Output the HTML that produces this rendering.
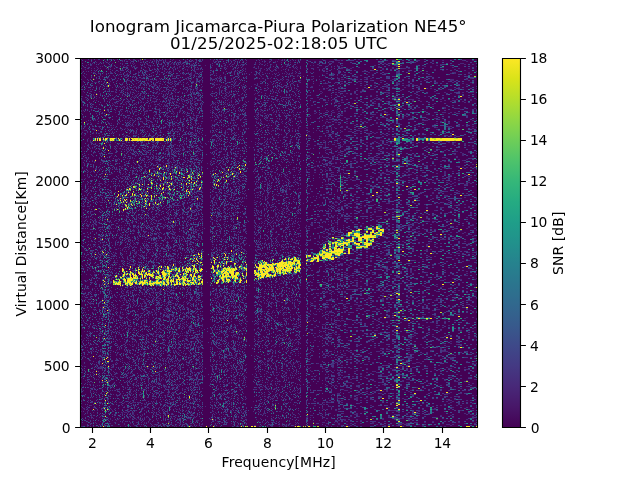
<!DOCTYPE html>
<html><head><meta charset="utf-8"><title>Ionogram</title>
<style>html,body{margin:0;padding:0;background:#fff;overflow:hidden}svg{display:block}</style></head>
<body><svg width="640" height="480" viewBox="0 0 640 480">
<rect width="640" height="480" fill="#fff"/>
<defs><clipPath id="cp0"><rect x="1" y="1" width="396" height="368"/></clipPath><clipPath id="cp1"><rect x="-151.333" y="1" width="264" height="368"/></clipPath><clipPath id="cp2"><rect x="-132.25" y="1" width="198" height="368"/></clipPath></defs>
<rect x="80" y="58" width="397.5" height="369.5" fill="#440154"/>
<g transform="translate(80 58) scale(1 1.0000)" fill="none" stroke-width="1" shape-rendering="crispEdges" clip-path="url(#cp0)">
<path stroke="#482878" d="M29 0.5h1m2 0h1m23 0h1m8 0h1m4 0h1m5 0h2m3 0h1m1 0h1m9 0h1m26 0h1m23 0h1m2 0h1m6 0h1m29 0h1m2 0h1m11 0h1m4 0h1m5 0h1m15 0h1M1 1.5h1m9 0h1m12 0h1m5 0h1m2 0h1m11 0h2m1 0h1m4 0h2m30 0h1m7 0h1m26 0h1m19 0h1m15 0h1m21 0h1m10 0h1m8 0h1m3 0h1m15 0h1M42 2.5h1m7 0h1m2 0h2m5 0h1m9 0h1m3 0h1m17 0h1m12 0h1m5 0h1m21 0h1m3 0h1m12 0h1m33 0h1m16 0h1m18 0h1M30 3.5h1m7 0h1m3 0h1m1 0h1m13 0h1m7 0h1m7 0h1m14 0h1m16 0h2m5 0h1m2 0h1m16 0h1m25 0h1m29 0h1m5 0h1m1 0h1M16 4.5h1m10 0h1m1 0h1m20 0h1m2 0h1m7 0h1m10 0h1m5 0h1m7 0h1m1 0h2m5 0h1m2 0h1m7 0h1m41 0h1m2 0h1m2 0h1m11 0h1m17 0h1m10 0h1m5 0h1m8 0h1M10 5.5h1m1 0h1m6 0h1m3 0h1m8 0h1m9 0h1m7 0h1m1 0h1m1 0h1m9 0h1m1 0h2m8 0h1m14 0h1m1 0h2m5 0h1m2 0h1m4 0h1m27 0h1m6 0h1m31 0h1m4 0h1m6 0h1m29 0h1M53 6.5h1m6 0h1m18 0h1m8 0h1m1 0h1m2 0h1m5 0h1m1 0h1m2 0h1m2 0h1m3 0h2m40 0h1m27 0h1m3 0h1m5 0h1m14 0h1M6 7.5h1m4 0h1m18 0h1m13 0h1m3 0h1m6 0h1m12 0h2m2 0h1m12 0h1m2 0h1m21 0h1m2 0h1m11 0h1m6 0h1m5 0h1m5 0h1m6 0h1m10 0h1m24 0h1m2 0h1m17 0h1M16 8.5h1m3 0h1m1 0h1m3 0h1m16 0h1m2 0h1m4 0h1m25 0h1m4 0h1m7 0h1m8 0h1m9 0h1m1 0h1m30 0h1m4 0h1m8 0h1m5 0h1m11 0h1m32 0h1m8 0h1m3 0h1M4 9.5h1m3 0h1m19 0h1m16 0h1m6 0h1m4 0h1m33 0h1m1 0h2m2 0h1m1 0h1m4 0h1m3 0h1m6 0h1m29 0h1m27 0h1m4 0h1m10 0h1m11 0h1m15 0h1m2 0h1m5 0h1M7 10.5h1m3 0h1m6 0h1m1 0h1m33 0h1m1 0h1m17 0h1m7 0h1m2 0h1m25 0h1m29 0h1m21 0h1m1 0h1m9 0h1m2 0h1m1 0h1m8 0h1m8 0h1m7 0h1m7 0h1m11 0h1M5 11.5h1m49 0h1m29 0h1m2 0h1m4 0h1m8 0h1m2 0h1m1 0h1m8 0h3m18 0h1m14 0h2m11 0h1m14 0h1m3 0h1m9 0h1m8 0h1m13 0h1M50 12.5h1m2 0h1m11 0h2m11 0h1m5 0h1m13 0h1m1 0h1m2 0h1m3 0h1m53 0h1m24 0h2m5 0h1m2 0h1m4 0h1M6 13.5h1m8 0h1m19 0h1m2 0h1m19 0h1m7 0h1m20 0h1m5 0h1m38 0h1m22 0h1m2 0h1m21 0h1m10 0h2m34 0h1M2 14.5h1m8 0h1m1 0h2m3 0h1m4 0h1m6 0h2m40 0h1m18 0h1m10 0h1m5 0h1m2 0h1m3 0h1m32 0h1m12 0h1m9 0h1m10 0h1m15 0h1m7 0h1m5 0h1m7 0h1M14 15.5h1m4 0h1m6 0h1m20 0h1m10 0h1m4 0h1m7 0h1m5 0h1m5 0h1m4 0h1m11 0h1m2 0h1m3 0h1m3 0h1m3 0h2m4 0h1m14 0h1m12 0h1m8 0h2m2 0h1m16 0h1m7 0h1m8 0h1m7 0h1m2 0h1m4 0h1m2 0h1M6 16.5h1m32 0h2m5 0h1m2 0h1m8 0h1m44 0h1m6 0h2m2 0h1m15 0h1m14 0h1m12 0h1m5 0h1m10 0h1m16 0h1m13 0h1m1 0h2M3 17.5h1m16 0h1m17 0h1m7 0h2m23 0h1m14 0h1m4 0h2m3 0h1m13 0h2m1 0h1m26 0h1m11 0h1m27 0h1m30 0h1m5 0h2M4 18.5h1m6 0h1m6 0h1m3 0h1m11 0h1m17 0h1m15 0h1m19 0h1m3 0h1m1 0h1m14 0h1m11 0h1m17 0h1m4 0h1m14 0h1m21 0h1m4 0h1m27 0h1m2 0h1M28 19.5h1m6 0h1m9 0h1m18 0h1m10 0h1m9 0h1m21 0h1m3 0h1m6 0h2m19 0h2m4 0h1m7 0h1m11 0h2m10 0h1m9 0h1m3 0h1M13 20.5h1m2 0h1m1 0h1m38 0h1m3 0h1m17 0h1m17 0h1m7 0h1m5 0h1m5 0h1m4 0h1m15 0h1m12 0h1m5 0h1m18 0h2m4 0h2m6 0h1m2 0h1m32 0h1M14 21.5h1m14 0h1m25 0h1m10 0h1m1 0h1m2 0h1m4 0h1m8 0h1m4 0h1m15 0h1m1 0h1m2 0h1m4 0h1m14 0h2m9 0h1m31 0h1m26 0h1m4 0h3m3 0h1M0 22.5h1m28 0h1m16 0h4m6 0h1m1 0h1m9 0h1m4 0h1m2 0h1m17 0h1m15 0h1m5 0h1m3 0h1m14 0h1m60 0h1m2 0h1m2 0h1m17 0h1M30 23.5h1m23 0h1m15 0h1m17 0h1m23 0h2m8 0h1m14 0h1m13 0h1m2 0h1m1 0h1m23 0h2m8 0h1m28 0h1M7 24.5h1m6 0h3m26 0h1m19 0h1m3 0h1m23 0h1m2 0h1m3 0h3m21 0h1m25 0h1m4 0h1m6 0h1m3 0h1m26 0h1m8 0h1m18 0h1M0 25.5h1m11 0h1m6 0h1m22 0h1m13 0h1m5 0h1m1 0h1m2 0h1m7 0h1m3 0h1m8 0h1m23 0h1m3 0h1m14 0h3m21 0h1m21 0h1m4 0h1m12 0h1m15 0h1M22 26.5h1m18 0h1m22 0h1m3 0h1m4 0h2m7 0h1m7 0h2m11 0h1m13 0h1m16 0h1m1 0h2m1 0h1m5 0h1m28 0h2m12 0h1m24 0h1M30 27.5h1m4 0h1m5 0h1m4 0h1m28 0h2m26 0h1m37 0h1m13 0h2m1 0h1m2 0h1m14 0h1m8 0h1m18 0h1m12 0h1M4 28.5h1m1 0h1m4 0h1m14 0h1m8 0h1m3 0h1m3 0h2m2 0h1m6 0h2m17 0h2m4 0h1m42 0h1m10 0h1m9 0h3m16 0h1m3 0h1m4 0h1m6 0h2m19 0h1m1 0h1m4 0h3m1 0h1m16 0h1M0 29.5h2m20 0h1m9 0h1m5 0h1m22 0h2m13 0h1m1 0h1m7 0h1m4 0h1m13 0h1m5 0h1m9 0h1m10 0h1m9 0h1m5 0h1m4 0h1m51 0h1m8 0h1m11 0h1M5 30.5h1m20 0h1m21 0h1m9 0h1m21 0h1m10 0h1m1 0h1m15 0h2m6 0h1m21 0h1m15 0h1m8 0h1m34 0h1M10 31.5h1m18 0h1m5 0h1m9 0h1m1 0h1m1 0h1m4 0h1m32 0h1m5 0h1m2 0h1m8 0h1m10 0h2m3 0h1m41 0h1m17 0h1m5 0h1M8 32.5h1m5 0h1m10 0h1m21 0h1m5 0h1m12 0h1m19 0h1m3 0h1m4 0h1m14 0h1m2 0h1m2 0h1m24 0h2m1 0h1m10 0h1m7 0h1m10 0h1m10 0h1m6 0h1m3 0h1m19 0h1M3 33.5h1m6 0h1m8 0h1m8 0h1m4 0h1m1 0h1m14 0h1m14 0h1m5 0h1m5 0h1m3 0h1m3 0h1m8 0h1m4 0h1m7 0h1m2 0h1m28 0h1m9 0h1m4 0h1m36 0h1m9 0h1m5 0h1m1 0h1M4 34.5h1m9 0h1m20 0h1m6 0h1m9 0h1m11 0h2m6 0h1m4 0h1m10 0h1m8 0h1m8 0h1m5 0h2m7 0h1m24 0h2m33 0h1m11 0h1m2 0h1M20 35.5h1m9 0h1m19 0h1m3 0h1m6 0h1m6 0h1m53 0h1m10 0h1m3 0h1m4 0h2m31 0h1m16 0h1m22 0h1M13 36.5h1m3 0h1m24 0h1m1 0h1m12 0h1m7 0h1m12 0h1m6 0h1m5 0h1m16 0h1m4 0h1m47 0h1m12 0h1m44 0h1M11 37.5h1m1 0h1m14 0h1m3 0h1m13 0h2m7 0h2m7 0h1m24 0h1m2 0h1m2 0h1m9 0h1m5 0h1m20 0h1m13 0h1m7 0h1m4 0h1m56 0h1m10 0h1M2 38.5h1m5 0h1m5 0h1m20 0h1m8 0h1m7 0h1m1 0h1m1 0h1m1 0h1m24 0h2m29 0h1m3 0h1m16 0h1m11 0h2m34 0h1m2 0h1m5 0h1m7 0h1m9 0h1m4 0h1M6 39.5h1m12 0h1m4 0h1m16 0h1m9 0h1m1 0h1m6 0h1m9 0h1m5 0h1m9 0h2m2 0h1m1 0h1m21 0h1m36 0h1m2 0h1m6 0h1m13 0h1m11 0h1m8 0h1m6 0h1m1 0h1m1 0h3M16 40.5h1m41 0h1m2 0h1m3 0h1m2 0h1m1 0h1m3 0h1m9 0h1m5 0h1m2 0h1m1 0h1m10 0h1m4 0h2m6 0h1m23 0h1m14 0h1m2 0h1m1 0h1m44 0h1m8 0h1m1 0h1M0 41.5h1m5 0h1m22 0h1m4 0h3m1 0h1m4 0h1m6 0h1m12 0h1m12 0h1m8 0h1m4 0h1m1 0h1m1 0h1m6 0h2m4 0h2m3 0h1m1 0h1m2 0h2m29 0h1m30 0h1m30 0h1M14 42.5h1m1 0h1m22 0h1m8 0h1m27 0h1m11 0h3m14 0h1m13 0h1m1 0h1m15 0h2m2 0h1m9 0h1m8 0h1m16 0h1m7 0h1m2 0h1m8 0h1M29 43.5h1m16 0h1m1 0h1m9 0h1m2 0h1m10 0h3m17 0h1m3 0h1m13 0h2m2 0h2m27 0h1m11 0h1m3 0h1m5 0h1m31 0h1m10 0h1m18 0h1M2 44.5h1m42 0h1m10 0h1m3 0h2m9 0h1m10 0h1m10 0h1m20 0h1m6 0h1m13 0h1m3 0h1m11 0h1m6 0h1m15 0h1m8 0h1M5 45.5h1m4 0h1m21 0h1m2 0h1m4 0h1m5 0h1m2 0h1m4 0h2m35 0h1m10 0h1m8 0h1m9 0h2m10 0h1m7 0h1m2 0h1m19 0h1m11 0h1m33 0h1m4 0h1M33 46.5h1m6 0h1m3 0h1m1 0h1m4 0h1m1 0h1m20 0h1m9 0h1m1 0h1m9 0h1m13 0h2m21 0h1m6 0h1m4 0h1m1 0h1m7 0h1m7 0h1m35 0h1m13 0h1M5 47.5h1m28 0h1m33 0h1m1 0h1m8 0h1m4 0h2m1 0h1m4 0h1m5 0h1m7 0h1m23 0h1m18 0h1m34 0h1m5 0h2m14 0h1M12 48.5h1m9 0h1m16 0h1m15 0h1m6 0h1m7 0h1m4 0h1m4 0h1m4 0h2m11 0h2m32 0h1m2 0h1m10 0h1m5 0h1m23 0h1m2 0h2m21 0h1m15 0h1M12 49.5h1m18 0h1m10 0h1m32 0h1m12 0h1m9 0h1m16 0h1m5 0h1m13 0h1m5 0h1m49 0h1m4 0h2M51 50.5h1m16 0h1m10 0h1m1 0h1m1 0h1m1 0h1m7 0h3m11 0h1m4 0h1m35 0h1m35 0h1m4 0h1m25 0h1M19 51.5h1m20 0h1m10 0h1m3 0h1m8 0h1m11 0h2m13 0h2m7 0h1m8 0h3m20 0h1m2 0h1m6 0h1m6 0h1m13 0h1m13 0h1m2 0h1m6 0h1M3 52.5h1m7 0h1m15 0h1m7 0h1m30 0h2m24 0h1m6 0h2m29 0h1m18 0h1m5 0h1m4 0h1m20 0h1m14 0h1m10 0h1m4 0h2m12 0h1M20 53.5h1m17 0h1m2 0h1m5 0h1m6 0h1m9 0h1m1 0h2m24 0h2m5 0h2m2 0h1m55 0h1m20 0h1m2 0h1M35 54.5h1m11 0h1m4 0h1m1 0h1m3 0h1m5 0h1m8 0h1m12 0h3m4 0h1m11 0h1m5 0h1m4 0h1m13 0h1m10 0h1m1 0h1m2 0h1m31 0h1m3 0h1m21 0h1m8 0h1m5 0h1M1 55.5h1m14 0h1m2 0h1m22 0h1m21 0h1m1 0h1m13 0h1m6 0h1m4 0h1m1 0h1m2 0h1m4 0h1m15 0h2m65 0h1m17 0h1m1 0h1M39 56.5h1m35 0h2m1 0h1m14 0h1m19 0h1m50 0h1m11 0h2m2 0h1m6 0h1m10 0h1m20 0h1M40 57.5h1m14 0h2m22 0h1m7 0h1m9 0h1m11 0h1m3 0h1m2 0h1m20 0h1m1 0h3m2 0h1m10 0h1m3 0h1m20 0h1m17 0h1m8 0h1m6 0h1M16 58.5h1m19 0h1m9 0h1m28 0h1m10 0h1m2 0h1m16 0h1m3 0h1m10 0h1m12 0h1m6 0h1m9 0h1m24 0h1m9 0h1m26 0h1m5 0h1m6 0h1M43 59.5h1m2 0h1m1 0h2m14 0h1m25 0h1m21 0h1m3 0h1m2 0h1m10 0h1m6 0h1m6 0h1m8 0h2m3 0h1m6 0h1m11 0h1m8 0h1m20 0h1m10 0h1M44 60.5h1m5 0h1m8 0h1m1 0h1m4 0h1m3 0h1m5 0h1m17 0h1m16 0h1m1 0h2m7 0h1m15 0h1m7 0h1m4 0h1m1 0h1m8 0h1m13 0h1m1 0h1m7 0h2m21 0h1m1 0h1M14 61.5h2m1 0h1m34 0h1m20 0h1m5 0h1m13 0h1m6 0h1m3 0h1m5 0h1m4 0h1m19 0h1m8 0h1m6 0h1m8 0h2m14 0h2m21 0h1m10 0h1M15 62.5h1m23 0h1m5 0h1m1 0h1m4 0h2m12 0h1m1 0h1m8 0h1m4 0h1m8 0h1m5 0h1m10 0h1m8 0h1m13 0h1m2 0h1m4 0h1m4 0h1m41 0h1m2 0h1M49 63.5h1m11 0h2m12 0h1m18 0h1m16 0h1m4 0h1m17 0h1m11 0h1m18 0h1m10 0h1m4 0h1m30 0h1m7 0h1M10 64.5h1m17 0h1m21 0h1m11 0h1m8 0h1m19 0h1m3 0h1m11 0h1m45 0h1m26 0h1m10 0h1m3 0h1m5 0h1M7 65.5h2m2 0h1m5 0h1m13 0h1m7 0h1m7 0h1m4 0h1m37 0h1m2 0h1m3 0h1m4 0h1m12 0h1m5 0h1m26 0h1m28 0h1m10 0h1m13 0h1m5 0h1m10 0h1M29 66.5h1m37 0h1m24 0h1m1 0h1m18 0h1m2 0h1m15 0h1m1 0h1m6 0h1m12 0h1m24 0h1m1 0h1m13 0h1m31 0h1M5 67.5h1m6 0h1m34 0h1m3 0h1m20 0h1m25 0h1m11 0h2m40 0h2m7 0h1m1 0h1m25 0h1m6 0h1m20 0h1M5 68.5h1m12 0h1m27 0h1m3 0h1m10 0h2m11 0h1m4 0h1m40 0h1m10 0h1m24 0h1m7 0h1m42 0h1M1 69.5h1m2 0h1m14 0h1m8 0h1m2 0h1m1 0h1m1 0h1m24 0h1m24 0h1m14 0h1m10 0h1m2 0h1m17 0h1m6 0h1m18 0h1m17 0h2m9 0h1m17 0h1m12 0h1m8 0h1M10 70.5h1m1 0h2m6 0h1m24 0h1m1 0h1m23 0h1m20 0h1m10 0h1m8 0h1m7 0h2m10 0h1m1 0h1m6 0h1m11 0h2m3 0h1m6 0h1m26 0h1m3 0h1m30 0h1M1 71.5h1m12 0h2m13 0h1m34 0h1m5 0h1m32 0h1m44 0h1m17 0h1m9 0h1m27 0h1m10 0h1M4 72.5h2m8 0h1m15 0h1m10 0h1m5 0h1m2 0h1m23 0h1m1 0h1m53 0h1m14 0h1m32 0h1m8 0h1m4 0h1m8 0h1m10 0h1m5 0h1M32 73.5h1m21 0h1m9 0h1m8 0h1m6 0h1m11 0h1m3 0h3m16 0h1m17 0h1m7 0h1m18 0h1m13 0h1m10 0h1m5 0h1m20 0h1m5 0h1M2 74.5h1m4 0h1m5 0h1m6 0h1m13 0h1m12 0h1m5 0h1m1 0h1m9 0h1m13 0h1m1 0h1m6 0h2m18 0h1m21 0h1m3 0h1m3 0h1m5 0h1m2 0h1m3 0h1m4 0h1m8 0h1m19 0h1m22 0h1M13 75.5h1m5 0h1m23 0h1m11 0h2m9 0h1m40 0h1m3 0h1m1 0h1m30 0h1m7 0h1m2 0h1m42 0h1M1 76.5h1m20 0h1m20 0h1m33 0h1m2 0h1m7 0h1m4 0h1m14 0h1m1 0h2m2 0h1m1 0h1m20 0h1m3 0h1m3 0h1m38 0h1m6 0h1m9 0h1m15 0h1m2 0h1M4 77.5h1m39 0h1m10 0h1m17 0h1m5 0h1m5 0h1m5 0h1m1 0h1m17 0h1m4 0h1m15 0h1m2 0h1m2 0h1m67 0h1m8 0h1M16 78.5h1m28 0h1m8 0h1m9 0h1m6 0h1m27 0h1m12 0h1m4 0h2m2 0h1m10 0h1m26 0h1m1 0h1m42 0h2m20 0h1M1 79.5h1m25 0h1m8 0h1m34 0h1m2 0h1m1 0h2m38 0h1m2 0h1m11 0h1m15 0h1m71 0h1M8 80.5h1m33 0h1m42 0h1m18 0h1m11 0h1m24 0h1m33 0h2m16 0h1m22 0h1M48 81.5h1m36 0h1m6 0h2m8 0h1m3 0h1m2 0h1m6 0h1m4 0h1m11 0h1m5 0h2m10 0h1m5 0h1m26 0h1m4 0h1m1 0h1m1 0h1m9 0h1m6 0h1M10 82.5h1m37 0h1m44 0h1m7 0h1m6 0h1m24 0h2m1 0h1m18 0h1m5 0h1m24 0h1m6 0h1m16 0h1M7 83.5h1m2 0h1m21 0h1m28 0h1m10 0h1m1 0h1m14 0h1m10 0h1m27 0h1m11 0h1m6 0h1m23 0h1m15 0h1m2 0h1m18 0h1m8 0h1M10 84.5h1m17 0h1m6 0h1m10 0h1m2 0h1m22 0h1m15 0h1m14 0h1m5 0h1m2 0h1m7 0h1m25 0h1m18 0h1m9 0h1m22 0h1m21 0h1M38 85.5h1m4 0h2m16 0h1m18 0h1m6 0h1m24 0h1m8 0h1m15 0h1m1 0h1m10 0h1m2 0h1m1 0h1m2 0h1m22 0h1m24 0h2M14 86.5h1m14 0h2m11 0h1m2 0h1m15 0h1m2 0h1m1 0h2m26 0h2m8 0h1m5 0h1m43 0h1m10 0h1m14 0h1m7 0h1m18 0h1M21 87.5h1m8 0h1m9 0h1m25 0h1m6 0h1m18 0h1m8 0h1m9 0h1m4 0h1m3 0h1m27 0h1m7 0h1m70 0h1M4 88.5h1m13 0h1m16 0h1m1 0h1m30 0h1m5 0h1m8 0h1m18 0h2m10 0h2m5 0h1m8 0h1m26 0h1m18 0h1m12 0h1m1 0h1M35 89.5h1m7 0h1m2 0h1m7 0h1m18 0h1m1 0h1m3 0h1m1 0h1m7 0h1m17 0h1m5 0h1m20 0h2m10 0h1m9 0h1m41 0h1m9 0h1M1 90.5h1m8 0h1m1 0h1m6 0h1m19 0h1m8 0h1m18 0h1m10 0h1m15 0h1m2 0h2m4 0h2m10 0h1m2 0h2m13 0h1m7 0h1m1 0h2m5 0h1m4 0h1m9 0h1m18 0h1m1 0h1m27 0h1M7 91.5h1m7 0h1m4 0h1m25 0h1m5 0h2m3 0h1m25 0h1m3 0h2m3 0h1m1 0h1m4 0h1m2 0h1m10 0h1m4 0h2m17 0h1m3 0h1m10 0h2m42 0h2m10 0h1m18 0h1M7 92.5h1m3 0h1m34 0h1m17 0h1m22 0h2m11 0h1m1 0h1m32 0h1m46 0h1m2 0h1M4 93.5h1m42 0h2m5 0h1m1 0h1m3 0h1m6 0h1m4 0h1m12 0h1m7 0h1m4 0h1m7 0h1m2 0h1m8 0h1m14 0h1m6 0h1m4 0h1m11 0h1m5 0h1m40 0h1m22 0h1M14 94.5h1m10 0h1m3 0h1m35 0h3m5 0h1m14 0h1m14 0h1m12 0h1m21 0h1m12 0h1m1 0h1m31 0h1m2 0h1m2 0h1m26 0h1M13 95.5h1m6 0h1m21 0h1m8 0h1m3 0h1m26 0h1m8 0h2m3 0h1m21 0h1m12 0h2m1 0h1m22 0h1m27 0h1m12 0h1m12 0h1M8 96.5h1m11 0h1m27 0h1m9 0h1m1 0h1m1 0h1m6 0h2m5 0h1m7 0h2m13 0h2m42 0h1m2 0h1m9 0h1m3 0h1m16 0h1m11 0h1m9 0h1m7 0h1M4 97.5h1m26 0h1m24 0h1m1 0h1m28 0h1m5 0h1m12 0h1m3 0h1m6 0h1m21 0h1m16 0h1m20 0h1m4 0h1m20 0h1m10 0h1m1 0h1m1 0h1m8 0h1M13 98.5h1m16 0h1m3 0h1m9 0h1m5 0h1m4 0h1m8 0h1m2 0h2m2 0h1m1 0h1m2 0h1m6 0h1m3 0h1m3 0h1m22 0h1m69 0h1m1 0h1m24 0h1m15 0h1M19 99.5h1m30 0h1m16 0h1m2 0h1m5 0h1m3 0h1m12 0h1m16 0h1m6 0h1m4 0h1m16 0h1m2 0h1m4 0h1m26 0h1m27 0h1m23 0h1M6 100.5h1m31 0h1m8 0h1m4 0h1m1 0h1m5 0h1m2 0h1m11 0h1m5 0h1m7 0h1m17 0h1m2 0h1m1 0h1m5 0h1m40 0h1m29 0h1m27 0h1M15 101.5h1m20 0h2m26 0h1m13 0h1m74 0h1m47 0h1m1 0h1m2 0h1m10 0h1m1 0h1M12 102.5h1m11 0h1m11 0h2m15 0h1m8 0h1m4 0h1m7 0h4m14 0h1m13 0h1m6 0h1m1 0h1m14 0h1m6 0h1m8 0h1m26 0h1M22 103.5h1m41 0h1m22 0h2m45 0h1m6 0h1m15 0h1m11 0h1m8 0h1m4 0h1m13 0h2m9 0h1M20 104.5h1m27 0h1m7 0h1m20 0h1m5 0h1m4 0h2m20 0h1m8 0h1m16 0h1m16 0h1m1 0h1m10 0h1m35 0h1m8 0h1M4 105.5h1m17 0h1m12 0h1m10 0h1m30 0h1m7 0h2m1 0h2m21 0h1m15 0h1m2 0h1m2 0h1m8 0h1m32 0h1m12 0h2M4 106.5h1m6 0h1m8 0h1m47 0h1m4 0h1m11 0h1m2 0h1m6 0h1m15 0h1m31 0h1m35 0h1m7 0h1m10 0h1m11 0h1m8 0h1M30 107.5h1m1 0h1m25 0h1m15 0h1m5 0h1m16 0h1m7 0h1m1 0h1m45 0h1m1 0h1m18 0h1m18 0h1m6 0h1m5 0h1m13 0h1M6 108.5h1m12 0h1m20 0h1m1 0h1m10 0h1m5 0h1m8 0h1m16 0h1m2 0h2m4 0h1m7 0h2m2 0h1m11 0h1m22 0h1m41 0h1m11 0h1M7 109.5h1m33 0h1m4 0h1m25 0h1m3 0h1m12 0h1m19 0h1m12 0h1m53 0h1m8 0h1m1 0h1m13 0h1m2 0h1m8 0h1m2 0h1m1 0h1M2 110.5h1m12 0h2m22 0h1m4 0h1m5 0h1m2 0h1m1 0h1m15 0h3m16 0h1m8 0h2m20 0h1m41 0h1m13 0h1m9 0h1m5 0h1M37 111.5h1m49 0h1m5 0h1m49 0h1m30 0h1m16 0h1m9 0h1m7 0h1m2 0h2M13 112.5h1m9 0h1m15 0h1m3 0h1m29 0h1m2 0h1m16 0h1m6 0h1m2 0h1m28 0h1m12 0h1m6 0h1m1 0h1m19 0h1m12 0h1m30 0h2m6 0h1M4 113.5h1m3 0h1m2 0h1m6 0h1m6 0h1m26 0h1m20 0h1m6 0h1m23 0h1m11 0h1m58 0h1m6 0h1m8 0h1m28 0h1m5 0h2M0 114.5h1m9 0h1m34 0h1m18 0h1m2 0h1m3 0h1m15 0h1m12 0h1m19 0h1m23 0h1m6 0h2m5 0h1m32 0h1m14 0h1M31 115.5h2m7 0h1m2 0h1m8 0h1m21 0h1m13 0h1m2 0h1m1 0h1m17 0h1m4 0h2m16 0h1m5 0h2m3 0h1m5 0h1m2 0h1m8 0h1m10 0h1m3 0h1m11 0h1m6 0h1m6 0h1m5 0h1M30 116.5h1m9 0h1m47 0h1m29 0h1m2 0h1m39 0h1m35 0h1m6 0h2m14 0h1M7 117.5h1m30 0h1m22 0h1m2 0h1m17 0h1m10 0h1m17 0h2m18 0h1m5 0h1m39 0h1m13 0h2m13 0h1M7 118.5h1m4 0h1m2 0h1m5 0h1m20 0h2m3 0h1m9 0h1m1 0h1m6 0h1m5 0h2m5 0h2m13 0h1m1 0h1m39 0h1m3 0h1m2 0h1m11 0h1m26 0h1m6 0h1m5 0h1m2 0h1m2 0h1m2 0h1m2 0h1M8 119.5h2m8 0h1m28 0h1m1 0h1m3 0h2m4 0h1m7 0h1m2 0h1m10 0h1m11 0h1m61 0h1m2 0h1m20 0h1m11 0h1m17 0h1m7 0h1M5 120.5h1m58 0h1m7 0h1m8 0h1m6 0h1m21 0h1m6 0h1m23 0h1m2 0h1m21 0h1m11 0h2m12 0h1m13 0h1M1 121.5h2m23 0h1m5 0h1m11 0h1m2 0h1m8 0h1m3 0h1m13 0h1m22 0h1m5 0h1m39 0h3m8 0h1m4 0h1m25 0h1m12 0h1m9 0h1M12 122.5h1m12 0h1m24 0h1m7 0h1m7 0h1m49 0h1m46 0h2m21 0h1m2 0h1m9 0h1m14 0h1M10 123.5h1m35 0h1m13 0h1m7 0h1m17 0h1m3 0h1m20 0h1m5 0h1m39 0h1m16 0h1m2 0h1m7 0h1m10 0h1m2 0h1m5 0h1M26 124.5h1m26 0h1m6 0h1m11 0h1m13 0h1m1 0h1m5 0h1m1 0h1m33 0h1m4 0h1m18 0h1m1 0h1m19 0h1m10 0h1m3 0h1m3 0h1m14 0h1m6 0h1M7 125.5h1m10 0h2m1 0h1m31 0h1m5 0h1m1 0h1m19 0h1m11 0h1m21 0h1m1 0h1m15 0h1m28 0h1m24 0h1m15 0h1m5 0h1m10 0h1M5 126.5h1m1 0h1m11 0h1m8 0h1m24 0h2m29 0h1m2 0h1m12 0h1m1 0h1m17 0h1m28 0h1m9 0h1m17 0h1m6 0h1m2 0h1m32 0h1M27 127.5h1m18 0h1m2 0h1m5 0h2m15 0h1m15 0h1m1 0h1m11 0h1m1 0h1m1 0h1m2 0h1m1 0h1m6 0h1m28 0h1m39 0h2m8 0h1m10 0h1m18 0h1M1 128.5h1m6 0h1m1 0h1m1 0h1m26 0h1m1 0h1m2 0h1m21 0h2m27 0h1m14 0h1m33 0h1m2 0h1m5 0h1m4 0h1m17 0h1m1 0h1m2 0h1m5 0h1m2 0h1m12 0h1m6 0h2M19 129.5h1m10 0h1m48 0h1m30 0h1m6 0h1m3 0h2m31 0h1m4 0h1m31 0h1m14 0h1m19 0h1M13 130.5h1m7 0h2m62 0h1m4 0h1m3 0h1m4 0h1m10 0h1m6 0h1m4 0h1m11 0h1m5 0h1m3 0h1m17 0h1m15 0h1m22 0h1m3 0h1m1 0h1m1 0h1m17 0h1M52 131.5h1m3 0h1m17 0h1m33 0h1m5 0h2m23 0h1m1 0h1m13 0h1m18 0h1m8 0h1m5 0h1m20 0h1m3 0h1m2 0h1m8 0h1M7 132.5h1m2 0h1m18 0h1m19 0h1m27 0h1m6 0h1m2 0h1m8 0h1m13 0h1m1 0h1m1 0h1m4 0h1m12 0h1m6 0h1m1 0h1m13 0h1m31 0h2m16 0h1M4 133.5h1m2 0h1m8 0h1m29 0h1m18 0h1m26 0h2m22 0h1m16 0h1m20 0h1m9 0h1m14 0h1m4 0h1m5 0h1m2 0h1m6 0h1m14 0h1M9 134.5h1m12 0h1m2 0h1m5 0h1m10 0h1m11 0h1m6 0h1m2 0h1m17 0h1m2 0h1m6 0h1m10 0h1m6 0h1m1 0h1m3 0h1m4 0h1m16 0h1m5 0h1m9 0h1m4 0h1m16 0h1m1 0h1m10 0h1m11 0h1m1 0h1m1 0h2m20 0h1M29 135.5h1m1 0h1m5 0h1m12 0h1m27 0h1m7 0h1m25 0h1m5 0h1m20 0h1m4 0h3m7 0h1m7 0h1m2 0h1m40 0h1m11 0h1m1 0h1M10 136.5h1m7 0h1m28 0h1m27 0h1m6 0h1m4 0h1m2 0h1m13 0h1m27 0h1m4 0h1m9 0h1m16 0h1m13 0h1m8 0h2m5 0h1m1 0h1m7 0h1m13 0h1m1 0h1M15 137.5h1m3 0h1m1 0h2m17 0h1m7 0h1m13 0h1m28 0h1m13 0h1m11 0h1m18 0h2m15 0h2m22 0h1m1 0h1m7 0h1m5 0h1m3 0h2m15 0h1M0 138.5h1m25 0h1m9 0h1m7 0h1m7 0h1m6 0h1m23 0h1m18 0h1m3 0h1m23 0h1m3 0h1m2 0h1m7 0h1m5 0h1m14 0h1m18 0h1m1 0h1m22 0h1m16 0h1M15 139.5h1m15 0h1m16 0h1m5 0h1m21 0h1m19 0h1m2 0h1m12 0h1m17 0h1m2 0h1m6 0h1m4 0h1m12 0h1m1 0h1m3 0h1m13 0h1m9 0h1m19 0h1m10 0h1M5 140.5h2m7 0h1m18 0h1m7 0h1m28 0h1m5 0h1m39 0h1m19 0h1m16 0h1m10 0h1m1 0h1m18 0h1m19 0h1m9 0h1m10 0h1M7 141.5h1m8 0h1m5 0h1m17 0h1m6 0h1m8 0h1m20 0h2m1 0h1m28 0h1m12 0h1m17 0h1m5 0h1m5 0h1m8 0h1m20 0h1m3 0h1m26 0h2M5 142.5h1m41 0h1m6 0h1m17 0h1m9 0h1m8 0h1m2 0h1m1 0h1m7 0h1m7 0h1m2 0h1m5 0h2m9 0h1m4 0h1m15 0h1m5 0h1m14 0h1m24 0h1m19 0h2M9 143.5h1m9 0h1m8 0h1m47 0h1m1 0h1m2 0h1m6 0h1m3 0h1m6 0h1m11 0h1m3 0h1m43 0h1m3 0h1m12 0h1M20 144.5h2m11 0h1m5 0h1m2 0h1m1 0h1m2 0h1m1 0h2m14 0h1m7 0h1m43 0h1m12 0h1m5 0h1m6 0h1m1 0h1m8 0h1m2 0h1m16 0h2m3 0h1m7 0h1m4 0h1m12 0h1m13 0h2M8 145.5h1m33 0h1m1 0h1m5 0h1m3 0h1m42 0h1m4 0h1m13 0h2m24 0h1m8 0h1m6 0h1m28 0h2m15 0h1m18 0h1M3 146.5h1m6 0h1m26 0h1m26 0h1m2 0h1m4 0h1m7 0h1m13 0h1m39 0h1m1 0h1m5 0h1m1 0h1m7 0h1m21 0h1m6 0h1m3 0h2m2 0h1m18 0h1M10 147.5h1m9 0h1m38 0h1m16 0h1m14 0h1m7 0h2m10 0h2m1 0h2m3 0h1m12 0h2m3 0h1m7 0h1m12 0h1m21 0h1M2 148.5h1m1 0h1m4 0h1m20 0h2m1 0h1m41 0h1m2 0h2m11 0h1m16 0h1m10 0h1m1 0h1m18 0h1m3 0h1m33 0h1m4 0h1m2 0h1m21 0h1m9 0h1M22 149.5h1m6 0h1m5 0h1m6 0h2m10 0h1m17 0h1m10 0h1m9 0h1m2 0h1m12 0h1m6 0h1m19 0h1m2 0h1m56 0h1M9 150.5h1m5 0h1m7 0h1m7 0h2m15 0h1m7 0h1m11 0h3m3 0h1m10 0h1m15 0h1m9 0h1m33 0h1m3 0h1m2 0h1m21 0h1m11 0h1m8 0h1m10 0h1m13 0h1M27 151.5h2m7 0h1m24 0h1m49 0h1m4 0h1m14 0h1m6 0h1m6 0h1m7 0h1m2 0h1m29 0h1m15 0h1m3 0h1M21 152.5h1m58 0h1m13 0h1m1 0h2m11 0h3m2 0h1m40 0h1m21 0h2m16 0h1m3 0h1m8 0h1m9 0h1M11 153.5h2m28 0h1m14 0h1m6 0h1m7 0h1m4 0h1m1 0h1m8 0h1m2 0h1m21 0h1m22 0h1m1 0h1m38 0h1m1 0h1m1 0h1m20 0h2m3 0h1m5 0h1m3 0h1M3 154.5h1m17 0h1m56 0h1m9 0h1m6 0h2m1 0h1m3 0h2m3 0h1m6 0h1m3 0h1m2 0h1m21 0h3m5 0h1m1 0h1m2 0h1m7 0h1m22 0h1m7 0h1m6 0h1m14 0h1m1 0h1M3 155.5h1m4 0h1m1 0h1m27 0h1m13 0h1m11 0h1m12 0h1m10 0h1m14 0h1m36 0h1m16 0h1m37 0h1m3 0h1m2 0h1m14 0h1m9 0h1M26 156.5h1m21 0h1m27 0h1m1 0h2m8 0h1m11 0h1m1 0h1m16 0h1m26 0h1m28 0h1m8 0h1m10 0h1m7 0h1m4 0h1M24 157.5h1m9 0h1m11 0h1m9 0h1m4 0h1m4 0h2m11 0h1m7 0h1m1 0h1m3 0h1m2 0h1m12 0h1m23 0h1m4 0h1m11 0h2m24 0h1m10 0h1m7 0h1m2 0h1m17 0h1m10 0h1M20 158.5h1m1 0h1m9 0h1m14 0h1m8 0h1m17 0h1m20 0h2m5 0h1m35 0h1m1 0h1m2 0h1m6 0h1m14 0h2m17 0h1m10 0h1m6 0h1m4 0h1M3 159.5h1m2 0h1m1 0h1m3 0h1m34 0h1m8 0h1m20 0h1m4 0h1m2 0h1m17 0h1m3 0h2m5 0h1m6 0h1m10 0h1m8 0h1m34 0h1m1 0h1m18 0h1m8 0h1m9 0h1m10 0h1M14 160.5h1m4 0h1m13 0h1m8 0h1m3 0h1m5 0h1m6 0h3m2 0h1m24 0h1m2 0h1m10 0h1m2 0h1m15 0h1m8 0h1m4 0h1m16 0h1m22 0h1m8 0h1m1 0h1m10 0h1m13 0h1m2 0h1M6 161.5h1m4 0h1m12 0h1m17 0h1m1 0h1m16 0h1m2 0h1m19 0h1m24 0h1m5 0h1m4 0h2m15 0h1m5 0h1m6 0h1m52 0h1M14 162.5h1m21 0h1m21 0h1m16 0h1m2 0h2m13 0h1m14 0h1m4 0h1m7 0h1m17 0h2m26 0h1m22 0h1m2 0h1m10 0h1M1 163.5h1m8 0h1m4 0h1m8 0h1m13 0h1m3 0h1m10 0h1m2 0h1m7 0h1m11 0h1m45 0h1m21 0h1m13 0h1m15 0h1m6 0h1m2 0h1m28 0h1m4 0h1m1 0h1M15 164.5h2m24 0h1m22 0h1m2 0h1m2 0h1m14 0h1m9 0h1m12 0h1m6 0h1m6 0h1m35 0h1m15 0h2m6 0h1m6 0h1m4 0h1m10 0h1m7 0h1M2 165.5h1m12 0h1m32 0h1m3 0h1m5 0h1m4 0h1m13 0h1m3 0h1m5 0h1m2 0h1m12 0h1m32 0h1m53 0h1m7 0h1m3 0h1m5 0h1m6 0h1M7 166.5h1m5 0h1m35 0h1m11 0h1m2 0h1m5 0h1m6 0h1m5 0h1m1 0h1m16 0h1m7 0h1m1 0h1m9 0h1m20 0h1m2 0h1m3 0h1m3 0h1m3 0h1m3 0h1m2 0h1m35 0h1m1 0h1m6 0h1M13 167.5h1m2 0h1m14 0h1m3 0h1m5 0h1m2 0h1m13 0h1m4 0h2m1 0h1m21 0h1m1 0h1m1 0h1m7 0h1m5 0h1m2 0h1m10 0h1m23 0h1m33 0h1m4 0h1m13 0h1m28 0h1M7 168.5h1m3 0h1m18 0h1m6 0h1m17 0h1m13 0h1m3 0h1m8 0h1m8 0h1m2 0h1m11 0h1m9 0h1m20 0h1m1 0h1m10 0h1m26 0h1m3 0h1m9 0h1m7 0h1m8 0h2m4 0h1m11 0h1M18 169.5h1m17 0h1m4 0h2m1 0h1m9 0h1m7 0h1m12 0h1m8 0h1m3 0h1m1 0h1m11 0h1m2 0h1m9 0h1m6 0h1m29 0h1m5 0h1m2 0h1m12 0h1m16 0h1m14 0h1M1 170.5h1m1 0h1m14 0h1m14 0h1m5 0h1m1 0h1m15 0h1m14 0h1m38 0h1m42 0h1m20 0h1m16 0h1m7 0h1m1 0h1m14 0h2M29 171.5h1m13 0h1m3 0h1m5 0h1m10 0h1m3 0h1m1 0h1m17 0h1m16 0h2m9 0h1m24 0h1m9 0h4m3 0h1m6 0h1m9 0h1m2 0h1m9 0h1m2 0h3m32 0h1M27 172.5h1m9 0h1m6 0h1m8 0h2m8 0h1m7 0h1m20 0h1m14 0h1m2 0h1m1 0h2m1 0h1m1 0h2m1 0h1m19 0h1m19 0h1m2 0h1m16 0h1m10 0h1m24 0h1M30 173.5h1m6 0h1m15 0h2m3 0h2m4 0h1m1 0h1m25 0h1m11 0h1m8 0h1m1 0h2m5 0h1m12 0h1m19 0h1m4 0h1m2 0h1m1 0h2m11 0h1m1 0h1m7 0h1m38 0h1M65 174.5h1m13 0h1m8 0h1m5 0h1m8 0h1m11 0h1m16 0h2m6 0h1m16 0h1m29 0h1m2 0h3m2 0h1m7 0h1M22 175.5h1m5 0h1m2 0h1m8 0h1m11 0h1m7 0h1m3 0h1m3 0h1m12 0h1m8 0h1m1 0h1m41 0h1m43 0h1m1 0h1m33 0h1m5 0h1M1 176.5h1m23 0h1m15 0h1m1 0h1m14 0h1m4 0h1m8 0h1m1 0h1m4 0h1m4 0h1m9 0h1m8 0h1m6 0h1m5 0h1m19 0h1m12 0h1m5 0h2m17 0h1m9 0h1m5 0h2m7 0h1m15 0h2m9 0h1M18 177.5h1m19 0h1m8 0h1m16 0h1m33 0h1m10 0h1m2 0h1m5 0h1m1 0h1m14 0h1m3 0h1m47 0h1m14 0h1m3 0h1M7 178.5h1m12 0h1m6 0h1m13 0h1m15 0h1m1 0h1m3 0h1m3 0h2m10 0h1m5 0h1m14 0h1m1 0h2m4 0h1m4 0h1m29 0h1m7 0h1m45 0h1m3 0h1m11 0h1m12 0h1M14 179.5h1m4 0h1m9 0h1m9 0h2m11 0h1m13 0h1m12 0h1m5 0h1m8 0h1m1 0h1m16 0h1m5 0h1m12 0h1m4 0h1m16 0h1m9 0h1m9 0h1m21 0h1M10 180.5h1m17 0h1m33 0h1m5 0h1m3 0h2m3 0h1m11 0h1m7 0h1m8 0h1m34 0h1m8 0h1m11 0h1m3 0h1m11 0h1m1 0h1m1 0h1m19 0h1M15 181.5h1m5 0h1m4 0h1m21 0h1m1 0h1m6 0h1m7 0h1m36 0h1m1 0h1m8 0h1m7 0h2m20 0h1m1 0h1m15 0h1m17 0h1m26 0h1m19 0h1M36 182.5h1m37 0h1m1 0h1m1 0h1m2 0h1m3 0h1m6 0h1m2 0h1m12 0h1m6 0h1m26 0h1m3 0h1m18 0h1m12 0h1m33 0h1M8 183.5h1m2 0h1m16 0h2m5 0h1m2 0h1m1 0h2m4 0h1m5 0h1m38 0h1m2 0h1m8 0h1m2 0h1m4 0h1m5 0h1m2 0h1m11 0h1m12 0h1m13 0h1m31 0h1m5 0h1m3 0h1m9 0h1M24 184.5h1m4 0h1m1 0h1m10 0h1m7 0h1m2 0h1m4 0h1m16 0h1m10 0h1m10 0h1m9 0h1m3 0h1m41 0h1m31 0h1m5 0h1m23 0h1m2 0h1M20 185.5h1m19 0h1m9 0h1m6 0h2m7 0h1m5 0h1m2 0h1m1 0h1m16 0h1m12 0h1m1 0h2m2 0h1m29 0h1m8 0h1m7 0h2m4 0h1m18 0h1m2 0h1m2 0h1m3 0h1m10 0h1m9 0h2M10 186.5h1m4 0h1m2 0h1m10 0h1m23 0h1m1 0h1m10 0h2m7 0h1m7 0h1m4 0h1m27 0h1m16 0h1m2 0h1m17 0h1m5 0h1m4 0h1m36 0h1m5 0h1m9 0h1M10 187.5h1m13 0h1m10 0h1m3 0h1m25 0h1m12 0h1m10 0h1m25 0h1m27 0h1m12 0h1m21 0h1m12 0h1m2 0h1m4 0h1m4 0h1m15 0h1m6 0h1M15 188.5h1m13 0h1m17 0h1m12 0h1m5 0h1m9 0h1m13 0h1m6 0h1m1 0h1m32 0h1m68 0h1m4 0h1m6 0h1m2 0h1M3 189.5h1m4 0h1m8 0h1m34 0h1m8 0h1m2 0h2m3 0h1m1 0h1m9 0h1m3 0h2m4 0h1m7 0h1m9 0h1m5 0h1m30 0h1m30 0h1m15 0h1m7 0h1m3 0h1M29 190.5h1m1 0h1m6 0h1m1 0h1m2 0h1m5 0h1m14 0h1m19 0h1m2 0h1m1 0h1m9 0h1m8 0h1m1 0h1m5 0h1m17 0h1m69 0h1m21 0h1M4 191.5h1m17 0h1m12 0h1m9 0h1m2 0h1m17 0h1m3 0h1m6 0h1m10 0h1m5 0h2m8 0h1m41 0h1m28 0h1m3 0h1m7 0h1m25 0h1M5 192.5h1m17 0h1m16 0h1m1 0h1m11 0h1m3 0h1m27 0h1m15 0h1m8 0h1m44 0h1m2 0h1m4 0h2m10 0h1m19 0h1m18 0h1M10 193.5h3m37 0h1m5 0h1m15 0h1m6 0h2m9 0h1m4 0h1m1 0h1m16 0h1m20 0h1m8 0h1m2 0h1m6 0h1m7 0h1m1 0h1m1 0h1m25 0h1m25 0h1m7 0h1M2 194.5h1m4 0h1m1 0h1m25 0h1m16 0h1m2 0h1m4 0h1m1 0h1m7 0h1m5 0h1m10 0h1m19 0h1m8 0h1m5 0h1m9 0h1m6 0h1m6 0h1m11 0h1m4 0h1m13 0h1m9 0h2m2 0h1m5 0h1m9 0h1M14 195.5h1m9 0h2m3 0h1m16 0h1m9 0h1m12 0h1m10 0h1m8 0h1m5 0h1m2 0h1m23 0h1m13 0h1m16 0h2m23 0h1m1 0h1m10 0h1m7 0h1m11 0h1m4 0h1m10 0h1M16 196.5h1m7 0h1m9 0h1m20 0h1m5 0h1m4 0h1m10 0h1m1 0h1m9 0h2m20 0h1m10 0h1m14 0h1m27 0h1m10 0h1m9 0h1m7 0h1m3 0h1m2 0h1m4 0h1m5 0h1m4 0h1M17 197.5h1m2 0h2m7 0h1m4 0h1m15 0h1m5 0h1m7 0h1m6 0h2m3 0h1m7 0h1m6 0h1m1 0h1m18 0h1m5 0h1m35 0h1m5 0h1m18 0h1m7 0h1m10 0h1m21 0h1M1 198.5h1m1 0h1m6 0h1m21 0h2m8 0h1m4 0h1m7 0h1m4 0h1m1 0h1m18 0h1m2 0h1m1 0h1m10 0h1m8 0h1m3 0h1m5 0h1m37 0h1m26 0h1m9 0h1m14 0h1M17 199.5h1m1 0h1m30 0h2m1 0h1m8 0h1m5 0h1m10 0h1m3 0h1m1 0h1m2 0h1m9 0h1m15 0h2m23 0h1m16 0h1m9 0h1m18 0h1m13 0h1m12 0h1m6 0h1M19 200.5h1m10 0h1m40 0h1m2 0h1m14 0h1m7 0h1m15 0h1m4 0h1m11 0h1m45 0h1m2 0h1m12 0h2m33 0h1M10 201.5h1m17 0h1m18 0h2m10 0h1m3 0h1m6 0h1m16 0h1m1 0h1m3 0h1m37 0h1m7 0h1m9 0h1m26 0h1m18 0h1m7 0h1m15 0h1M10 202.5h1m26 0h1m4 0h2m5 0h1m16 0h1m9 0h1m16 0h1m1 0h1m4 0h1m54 0h1m1 0h1m17 0h1m28 0h1M29 203.5h1m4 0h1m7 0h1m8 0h2m5 0h1m11 0h1m1 0h1m8 0h1m1 0h1m4 0h1m5 0h1m2 0h1m18 0h1m69 0h1m13 0h1m4 0h1M7 204.5h1m12 0h1m4 0h1m9 0h3m20 0h1m18 0h1m20 0h1m34 0h1m10 0h1m7 0h2m18 0h1m1 0h1m4 0h1m13 0h1m4 0h1M14 205.5h1m10 0h1m9 0h1m8 0h1m42 0h1m6 0h1m13 0h1m26 0h1m9 0h1m20 0h1m9 0h1M0 206.5h1m4 0h1m12 0h1m12 0h1m7 0h1m9 0h2m1 0h2m6 0h1m1 0h1m4 0h1m23 0h1m13 0h1m2 0h1m1 0h1m8 0h1m38 0h1M1 207.5h1m7 0h1m12 0h1m7 0h1m4 0h1m10 0h1m6 0h1m7 0h1m4 0h1m8 0h1m8 0h1m10 0h1m4 0h1m9 0h1m4 0h1m30 0h1m18 0h1M0 208.5h1m10 0h1m7 0h1m19 0h1m8 0h2m2 0h1m37 0h1m16 0h1m8 0h1m4 0h1M16 209.5h1m15 0h1m23 0h2m1 0h1m20 0h1m8 0h1m26 0h1m1 0h1m15 0h1m88 0h1M36 210.5h1m1 0h1m7 0h1m21 0h1m14 0h3m4 0h1m13 0h1m36 0h1m84 0h1M50 211.5h1m12 0h1m2 0h1m22 0h1m42 0h1m2 0h1m40 0h1M10 212.5h1m4 0h1m3 0h1m5 0h1m1 0h2m147 0h1m50 0h1M13 213.5h1m10 0h1m78 0h1m18 0h1m38 0h1m1 0h1m12 0h1m6 0h1M14 214.5h1m16 0h2m21 0h1m1 0h1m12 0h1m24 0h1m3 0h1m2 0h1m33 0h1m52 0h1m24 0h1M36 215.5h1m27 0h1m29 0h1m3 0h1m3 0h1m10 0h1m75 0h1M1 216.5h1m4 0h1m3 0h1m3 0h2m23 0h1m54 0h1m4 0h1m1 0h1m14 0h1m15 0h1m80 0h2M11 217.5h1m2 0h1m7 0h1m2 0h1m1 0h1m3 0h1m42 0h1m59 0h1m30 0h1M25 218.5h1m3 0h1m19 0h1m10 0h1m39 0h1m9 0h1m11 0h1m62 0h1m5 0h1m29 0h1M116 219.5h1m101 0h1m1 0h1M11 220.5h1m6 0h1m5 0h1m3 0h1m2 0h1m41 0h1m15 0h1m29 0h1m25 0h1m31 0h1m9 0h1m2 0h1m13 0h1M22 221.5h1m6 0h1m1 0h1m31 0h1m3 0h1m13 0h1m29 0h1m5 0h1m15 0h1m1 0h1m4 0h1m40 0h1m17 0h1m9 0h2M4 222.5h1m2 0h1m29 0h1m19 0h1m42 0h1m15 0h1m63 0h1m20 0h1m17 0h1M6 223.5h1m61 0h1m36 0h1m10 0h1m22 0h1m11 0h1m45 0h1m4 0h1m2 0h2m2 0h1m4 0h1m1 0h1m3 0h1M12 224.5h1m12 0h1m69 0h1m31 0h1m24 0h1m43 0h1M11 225.5h1m10 0h1m4 0h1m25 0h1m63 0h1m38 0h1m2 0h1m14 0h1m12 0h1m12 0h2m18 0h1M44 226.5h1m56 0h1m28 0h1m62 0h1m11 0h1M1 227.5h1m36 0h1m15 0h1m22 0h1m10 0h1m27 0h1m21 0h1m14 0h2m1 0h3m1 0h1m8 0h1m35 0h2m4 0h1m8 0h1M8 228.5h1m6 0h2m12 0h1m12 0h1m5 0h1m6 0h1m23 0h1m7 0h1m1 0h1m1 0h1m1 0h1m16 0h1m6 0h1m40 0h1m2 0h1m23 0h1m32 0h1M5 229.5h1m18 0h1m39 0h1m9 0h1m28 0h1m3 0h1m68 0h1m30 0h1M7 230.5h1m4 0h1m1 0h1m14 0h1m17 0h1m16 0h1m1 0h1m20 0h1m7 0h1m12 0h1m1 0h1m21 0h1m8 0h1m3 0h1m14 0h1m21 0h1m16 0h1m8 0h1m3 0h1m14 0h1M23 231.5h1m3 0h1m11 0h1m1 0h1m29 0h1m14 0h1m15 0h1m1 0h1m16 0h1m24 0h1m12 0h2m2 0h1m2 0h1m20 0h1m3 0h1m35 0h1M12 232.5h1m2 0h1m12 0h1m19 0h1m7 0h1m7 0h1m1 0h1m2 0h1m16 0h1m3 0h1m1 0h1m1 0h1m12 0h1m10 0h1m14 0h1m10 0h1m6 0h2m4 0h1m57 0h1m11 0h1M31 233.5h1m11 0h1m2 0h2m25 0h1m6 0h2m3 0h1m2 0h1m32 0h1m14 0h1m4 0h1m9 0h1m8 0h2m23 0h1m2 0h1m13 0h1M1 234.5h1m3 0h1m5 0h1m3 0h1m4 0h1m26 0h2m1 0h1m11 0h1m9 0h1m5 0h1m29 0h1m12 0h1m29 0h1m1 0h1m4 0h1m18 0h1m1 0h1m15 0h1m5 0h1M8 235.5h1m11 0h1m4 0h1m17 0h1m4 0h1m3 0h1m9 0h1m1 0h1m8 0h1m1 0h1m1 0h1m2 0h1m13 0h2m3 0h1m10 0h1m10 0h1m8 0h2m4 0h1m9 0h1m21 0h1m31 0h1m7 0h1M4 236.5h1m2 0h1m21 0h1m16 0h1m23 0h1m16 0h1m7 0h1m1 0h1m9 0h1m2 0h1m3 0h1m4 0h1m1 0h1m24 0h1m6 0h1m1 0h1m4 0h1m26 0h1m15 0h1m8 0h1M37 237.5h1m21 0h1m44 0h1m5 0h1m30 0h1m33 0h1m15 0h1m9 0h1m7 0h1M2 238.5h1m1 0h1m5 0h1m14 0h1m6 0h1m9 0h1m7 0h1m14 0h1m2 0h1m4 0h1m3 0h1m7 0h1m5 0h1m3 0h1m3 0h1m4 0h1m7 0h2m2 0h1m4 0h1m15 0h1m3 0h1m2 0h1m8 0h1m2 0h2m1 0h1m34 0h2m6 0h1m14 0h1M10 239.5h1m29 0h1m12 0h1m28 0h1m8 0h1m24 0h1m17 0h1m3 0h1m6 0h3m13 0h1m46 0h1m3 0h1m1 0h1m5 0h1m3 0h1M22 240.5h1m1 0h1m16 0h1m1 0h1m9 0h1m12 0h1m11 0h2m14 0h1m24 0h1m12 0h1m3 0h1m16 0h1m22 0h1m28 0h1m3 0h1M5 241.5h1m9 0h1m6 0h1m3 0h1m17 0h2m6 0h1m8 0h2m4 0h1m4 0h2m6 0h1m4 0h1m23 0h1m4 0h1m1 0h2m20 0h1m4 0h1m1 0h1m3 0h1m1 0h1m9 0h2m2 0h1m46 0h1M25 242.5h1m7 0h1m8 0h1m1 0h1m5 0h1m13 0h1m9 0h1m4 0h1m1 0h1m9 0h2m19 0h1m2 0h1m24 0h1m37 0h1m18 0h1m7 0h2m5 0h1M27 243.5h1m1 0h1m10 0h1m5 0h1m2 0h1m4 0h1m8 0h2m8 0h1m11 0h1m3 0h1m14 0h1m2 0h1m34 0h1m9 0h3m26 0h1m5 0h1m10 0h2m18 0h1M10 244.5h1m17 0h1m24 0h1m10 0h1m7 0h1m8 0h1m5 0h1m3 0h1m11 0h1m2 0h1m1 0h2m10 0h1m13 0h1m3 0h1m5 0h1m7 0h1m28 0h1m2 0h1m3 0h2m15 0h2m7 0h1m5 0h1m6 0h1M10 245.5h1m8 0h1m3 0h1m5 0h1m34 0h1m1 0h1m2 0h1m9 0h1m4 0h1m1 0h1m5 0h1m17 0h1m19 0h1m32 0h1m13 0h1m6 0h1m1 0h1m4 0h1m1 0h1M10 246.5h1m2 0h1m34 0h1m1 0h1m6 0h1m3 0h1m6 0h1m7 0h1m12 0h1m1 0h1m4 0h2m1 0h2m2 0h1m7 0h2m42 0h1m20 0h1m14 0h1m4 0h1m8 0h1m8 0h1m11 0h2M24 247.5h1m10 0h1m5 0h2m3 0h1m3 0h1m10 0h1m13 0h1m2 0h1m1 0h1m18 0h1m16 0h1m18 0h1m8 0h1m4 0h1m1 0h2m1 0h1m11 0h1m12 0h1m14 0h1m4 0h1m18 0h1M22 248.5h1m25 0h1m13 0h1m52 0h2m15 0h1m4 0h1m1 0h1m1 0h1m1 0h1m3 0h1m3 0h1m6 0h1m28 0h1m3 0h1m22 0h2M20 249.5h1m1 0h1m8 0h1m8 0h2m8 0h1m17 0h2m8 0h1m14 0h1m12 0h1m10 0h1m38 0h1m5 0h1m2 0h1m12 0h1m7 0h1m14 0h1m25 0h1M33 250.5h2m2 0h1m26 0h1m11 0h1m9 0h1m15 0h1m4 0h1m13 0h1m24 0h1m50 0h1m4 0h1m11 0h1m2 0h1M13 251.5h2m10 0h1m5 0h1m34 0h1m6 0h1m28 0h1m13 0h2m1 0h1m28 0h1m10 0h1m18 0h1m10 0h1m19 0h1M4 252.5h1m9 0h1m18 0h1m11 0h1m17 0h1m2 0h1m9 0h1m9 0h1m4 0h1m4 0h1m18 0h1m23 0h1m13 0h1m4 0h1m22 0h1m11 0h1m12 0h1m3 0h1m6 0h1M1 253.5h1m38 0h1m10 0h1m5 0h1m13 0h1m2 0h1m12 0h1m1 0h1m8 0h1m34 0h1m50 0h1m7 0h1m33 0h2M29 254.5h1m16 0h1m3 0h1m12 0h1m3 0h3m2 0h1m2 0h2m3 0h1m28 0h1m28 0h1m13 0h1m39 0h1m10 0h1m1 0h2M0 255.5h1m12 0h1m1 0h1m11 0h1m2 0h1m1 0h1m20 0h1m6 0h2m4 0h1m2 0h2m15 0h1m1 0h1m26 0h1m4 0h1m9 0h1m14 0h1m3 0h1m3 0h1m37 0h1m24 0h1M4 256.5h1m15 0h1m7 0h1m7 0h1m5 0h2m2 0h1m1 0h1m4 0h1m4 0h1m15 0h1m18 0h1m10 0h2m4 0h1m6 0h1m18 0h1m7 0h1m42 0h1m14 0h1m1 0h1m5 0h1m2 0h1m3 0h1M1 257.5h1m3 0h1m28 0h1m2 0h1m1 0h1m18 0h1m17 0h1m10 0h3m1 0h2m14 0h1m12 0h3m35 0h1m5 0h1m22 0h1m1 0h1m2 0h1m25 0h1M0 258.5h2m3 0h1m10 0h1m2 0h1m19 0h2m6 0h1m6 0h1m3 0h1m7 0h1m13 0h1m8 0h1m3 0h1m1 0h2m9 0h3m5 0h1m29 0h1m4 0h1m35 0h1m32 0h1m8 0h1M10 259.5h1m3 0h1m13 0h1m2 0h1m7 0h1m1 0h1m17 0h1m4 0h1m3 0h1m13 0h1m6 0h1m16 0h1m2 0h1m5 0h1m16 0h1m12 0h1m11 0h1m19 0h1m10 0h1m6 0h1m24 0h1M8 260.5h1m10 0h1m13 0h1m13 0h1m32 0h1m8 0h1m11 0h1m6 0h1m2 0h1m6 0h1m2 0h1m19 0h2m5 0h1m7 0h1m23 0h3m31 0h1M19 261.5h1m2 0h1m1 0h1m5 0h1m23 0h1m9 0h1m24 0h1m13 0h1m3 0h1m10 0h1m11 0h1m6 0h1m2 0h1m2 0h1m7 0h1m27 0h1m5 0h1m3 0h1m15 0h1m1 0h1m2 0h1m8 0h1m6 0h1M8 262.5h1m14 0h1m9 0h1m8 0h1m7 0h1m12 0h1m22 0h1m2 0h1m3 0h1m4 0h1m18 0h1m26 0h1m11 0h1m1 0h1m6 0h1m11 0h1m17 0h1m1 0h1m7 0h1m7 0h1M3 263.5h1m2 0h1m11 0h1m17 0h1m9 0h1m34 0h1m20 0h1m9 0h1m49 0h1m3 0h2m6 0h1m52 0h1M1 264.5h1m17 0h1m20 0h1m1 0h1m21 0h1m6 0h2m33 0h1m11 0h2m16 0h1m9 0h1m16 0h1m54 0h1M19 265.5h1m3 0h1m6 0h1m1 0h1m4 0h1m34 0h1m27 0h1m1 0h2m4 0h1m1 0h1m4 0h1m62 0h1m8 0h1m10 0h1m1 0h1m3 0h1m8 0h1m4 0h1M0 266.5h1m63 0h1m8 0h2m2 0h1m26 0h1m6 0h1m10 0h1m37 0h1m5 0h1m10 0h2m23 0h1m3 0h1m1 0h1m7 0h1m3 0h1M5 267.5h1m3 0h1m4 0h1m34 0h1m13 0h2m1 0h1m14 0h1m8 0h1m11 0h1m11 0h1m2 0h1m4 0h1m38 0h1m29 0h1m26 0h1M9 268.5h1m10 0h1m10 0h1m10 0h1m5 0h3m3 0h1m3 0h1m1 0h1m24 0h1m13 0h2m2 0h1m2 0h1m15 0h1m17 0h2m12 0h2m10 0h1m46 0h1m1 0h1M9 269.5h1m11 0h1m6 0h1m2 0h1m4 0h1m2 0h1m6 0h1m18 0h1m2 0h1m10 0h1m24 0h1m3 0h2m1 0h1m23 0h1m1 0h1m15 0h2m9 0h1M2 270.5h1m5 0h1m4 0h1m13 0h1m1 0h1m11 0h1m11 0h1m1 0h1m6 0h1m13 0h1m1 0h3m2 0h1m2 0h1m5 0h1m8 0h1m7 0h1m3 0h1m2 0h1m4 0h1m12 0h1m14 0h2m11 0h1m22 0h1m11 0h1m18 0h1M43 271.5h1m4 0h2m8 0h1m9 0h1m8 0h1m2 0h2m7 0h1m2 0h1m41 0h1m1 0h1m12 0h1m8 0h1m6 0h1m13 0h1m5 0h1m1 0h2m7 0h1M19 272.5h1m11 0h1m7 0h1m2 0h1m4 0h1m4 0h1m58 0h1m47 0h1m4 0h1m9 0h1m23 0h1m19 0h1m6 0h1M4 273.5h1m4 0h1m6 0h1m4 0h1m24 0h1m15 0h1m47 0h1m21 0h1m6 0h2m5 0h1m2 0h1m5 0h1m5 0h1m27 0h1m3 0h1m3 0h1m7 0h1m14 0h1M12 274.5h1m7 0h1m4 0h1m12 0h1m7 0h1m1 0h1m27 0h1m1 0h1m2 0h1m10 0h2m10 0h1m5 0h1m4 0h1m5 0h1m20 0h1m9 0h1m52 0h2m5 0h1m5 0h1M20 275.5h1m4 0h1m5 0h1m7 0h1m9 0h1m8 0h1m11 0h2m28 0h1m1 0h1m3 0h1m36 0h1m17 0h1m14 0h1m14 0h1m27 0h1M18 276.5h1m19 0h1m7 0h1m13 0h1m1 0h1m9 0h2m2 0h1m1 0h1m1 0h1m10 0h1m1 0h1m3 0h1m24 0h1m10 0h1m4 0h1m7 0h1m6 0h3m1 0h1m19 0h1m2 0h1m7 0h1m14 0h1m1 0h1m11 0h1M10 277.5h1m17 0h1m12 0h1m6 0h1m15 0h1m2 0h1m8 0h1m4 0h1m2 0h1m5 0h1m2 0h1m6 0h1m1 0h1m1 0h4m6 0h1m2 0h1m4 0h1m75 0h1m3 0h1M1 278.5h1m26 0h1m6 0h1m32 0h1m6 0h1m2 0h1m5 0h1m35 0h1m1 0h1m8 0h1m1 0h1m18 0h1m1 0h1m3 0h1m5 0h1m9 0h1m16 0h1m14 0h1M19 279.5h1m2 0h1m6 0h1m15 0h1m6 0h1m9 0h1m3 0h1m21 0h1m4 0h1m13 0h1m13 0h1m16 0h1m8 0h1m4 0h1m3 0h1m2 0h1m19 0h1m8 0h1m7 0h1m6 0h2m15 0h1M0 280.5h1m3 0h1m2 0h2m4 0h1m14 0h1m4 0h1m19 0h1m8 0h1m25 0h1m3 0h1m10 0h1m1 0h2m6 0h1m1 0h2m24 0h1m2 0h1m15 0h1m4 0h1m8 0h1m33 0h1M1 281.5h1m27 0h1m9 0h1m15 0h1m8 0h1m1 0h1m26 0h1m13 0h1m26 0h1m31 0h1m18 0h1m22 0h1m3 0h1M3 282.5h1m33 0h1m55 0h1m4 0h1m19 0h1m17 0h2m6 0h1m1 0h1m36 0h1m7 0h1m11 0h1m6 0h1m16 0h1M2 283.5h1m37 0h1m3 0h1m2 0h1m4 0h1m1 0h1m7 0h1m13 0h1m12 0h1m3 0h1m5 0h1m10 0h1m1 0h2m2 0h1m4 0h1m10 0h1m28 0h1m16 0h1m1 0h1m10 0h1m18 0h1m6 0h1m8 0h1M2 284.5h1m23 0h1m18 0h1m6 0h1m3 0h1m8 0h1m3 0h1m14 0h1m3 0h1m21 0h1m8 0h1m28 0h1m12 0h1m39 0h1m11 0h1m2 0h1m1 0h2M16 285.5h1m19 0h1m21 0h1m1 0h1m1 0h1m8 0h1m5 0h1m10 0h1m9 0h2m5 0h1m3 0h1m1 0h1m1 0h1m17 0h1m22 0h1m22 0h1m7 0h1m14 0h1m11 0h1m2 0h1m2 0h1M28 286.5h1m8 0h1m5 0h1m3 0h1m1 0h1m2 0h1m1 0h1m3 0h1m12 0h1m3 0h1m13 0h1m4 0h1m3 0h1m1 0h1m3 0h1m3 0h1m22 0h1m3 0h2m4 0h1m2 0h1m43 0h1m5 0h2m16 0h1M0 287.5h1m4 0h1m31 0h1m4 0h1m7 0h1m3 0h1m40 0h1m8 0h1m2 0h1m2 0h1m28 0h1m13 0h1m24 0h1m13 0h2m20 0h1M1 288.5h1m20 0h1m15 0h1m14 0h1m38 0h1m6 0h1m5 0h1m7 0h1m2 0h1m1 0h1m22 0h1m7 0h1m10 0h1m25 0h1m12 0h1m5 0h1M7 289.5h1m14 0h1m6 0h1m9 0h1m16 0h1m5 0h1m5 0h1m15 0h1m6 0h1m6 0h1m4 0h1m3 0h1m9 0h2m2 0h1m10 0h1m17 0h1m2 0h1m4 0h1m6 0h1m28 0h1m21 0h1m1 0h1M13 290.5h1m25 0h1m5 0h1m16 0h2m12 0h1m10 0h1m1 0h1m7 0h2m9 0h1m2 0h1m6 0h1m41 0h1m45 0h1m1 0h1m6 0h1m1 0h1M1 291.5h1m1 0h1m17 0h1m15 0h1m10 0h1m4 0h1m11 0h2m18 0h1m12 0h1m16 0h1m3 0h1m10 0h1m13 0h2m6 0h1m2 0h1m2 0h1m2 0h1m16 0h1m11 0h1m11 0h1m10 0h1m1 0h1M7 292.5h1m4 0h1m7 0h1m3 0h1m4 0h3m4 0h1m7 0h1m45 0h1m8 0h1m8 0h1m3 0h1m33 0h1m10 0h1m31 0h1m9 0h1m27 0h1M8 293.5h1m1 0h2m1 0h1m2 0h1m32 0h1m5 0h1m9 0h1m23 0h1m3 0h1m1 0h2m6 0h1m26 0h1m6 0h1m1 0h1m1 0h1m2 0h2m3 0h1m9 0h2m32 0h1m1 0h1m7 0h1m14 0h1M37 294.5h2m11 0h1m12 0h1m8 0h1m1 0h2m3 0h1m18 0h1m16 0h1m3 0h1m1 0h2m12 0h1m70 0h1m3 0h1M24 295.5h1m3 0h1m31 0h1m8 0h1m8 0h2m19 0h1m5 0h2m37 0h1m4 0h1m37 0h1m22 0h1m4 0h1m2 0h1m1 0h1M22 296.5h1m7 0h1m5 0h1m2 0h1m3 0h1m17 0h1m5 0h1m20 0h1m22 0h1m4 0h1m27 0h1m10 0h1M25 297.5h1m2 0h1m7 0h1m3 0h1m5 0h1m7 0h1m8 0h1m9 0h1m13 0h1m2 0h1m8 0h1m9 0h1m12 0h1m25 0h3m1 0h1m2 0h1m42 0h1m19 0h1m7 0h1M3 298.5h2m6 0h1m7 0h1m31 0h1m4 0h2m6 0h1m28 0h1m2 0h1m18 0h1m5 0h1m11 0h1m20 0h1m36 0h1m2 0h1m31 0h1M21 299.5h1m24 0h1m1 0h1m4 0h1m14 0h1m2 0h1m15 0h1m18 0h1m2 0h1m29 0h1m1 0h1m17 0h1m20 0h1m10 0h1M19 300.5h1m99 0h1m19 0h1m4 0h1m20 0h1m25 0h1m9 0h1m8 0h1M8 301.5h1m19 0h1m20 0h1m2 0h1m5 0h1m20 0h1m3 0h1m2 0h1m2 0h1m10 0h1m1 0h1m3 0h1m3 0h1m48 0h1m25 0h1m3 0h1M31 302.5h1m10 0h1m10 0h2m6 0h1m10 0h1m10 0h1m4 0h1m7 0h1m2 0h1m4 0h1m4 0h1m27 0h1m2 0h1m22 0h1m15 0h1m8 0h2m2 0h1m3 0h1M20 303.5h1m28 0h1m10 0h1m24 0h2m9 0h1m14 0h2m6 0h1m19 0h1m6 0h1m10 0h1m1 0h1m42 0h1m3 0h1m10 0h3M16 304.5h1m30 0h1m4 0h1m23 0h1m15 0h1m5 0h1m8 0h1m13 0h1m14 0h1m24 0h1m17 0h1m3 0h1m1 0h1m6 0h1m1 0h1m13 0h1m1 0h1m4 0h1M4 305.5h1m23 0h1m6 0h1m18 0h1m40 0h1m12 0h2m7 0h1m2 0h1m1 0h1m57 0h1m3 0h1m2 0h1m7 0h1m8 0h1m3 0h1m1 0h1m2 0h2M21 306.5h1m10 0h1m23 0h1m1 0h1m5 0h1m4 0h1m6 0h2m2 0h2m1 0h1m2 0h1m23 0h1m2 0h1m6 0h1m18 0h1m1 0h1m4 0h2m18 0h1m10 0h1m6 0h1m2 0h1m7 0h1m15 0h1m1 0h1m4 0h1M1 307.5h1m14 0h1m11 0h1m2 0h1m16 0h1m8 0h1m15 0h1m15 0h1m13 0h1m3 0h1m7 0h1m14 0h1m2 0h1m16 0h2m7 0h1m1 0h1m27 0h1m1 0h1m6 0h1m13 0h1M2 308.5h1m1 0h2m15 0h2m6 0h1m2 0h1m44 0h1m1 0h1m9 0h1m5 0h1m24 0h1m1 0h1m62 0h2m23 0h1m7 0h1m8 0h1M12 309.5h1m3 0h1m2 0h2m1 0h1m9 0h2m6 0h2m4 0h1m8 0h1m15 0h1m4 0h1m10 0h1m9 0h1m1 0h2m8 0h1m12 0h1m9 0h1m8 0h1m10 0h1m7 0h1m13 0h1m2 0h1m12 0h1M17 310.5h1m1 0h1m1 0h1m18 0h1m6 0h2m11 0h2m6 0h1m3 0h1m10 0h1m3 0h1m3 0h1m6 0h1m14 0h1m1 0h1m2 0h1m27 0h1m5 0h1m7 0h1m17 0h1m6 0h1m10 0h1m2 0h1m2 0h1m23 0h1M9 311.5h1m18 0h1m14 0h1m31 0h1m12 0h1m10 0h1m13 0h1m1 0h1m6 0h1m13 0h1m2 0h1m2 0h1m4 0h1m7 0h1m35 0h1m14 0h1m6 0h1M22 312.5h1m8 0h1m31 0h2m17 0h1m4 0h1m19 0h1m2 0h2m10 0h1m25 0h1m2 0h1m26 0h1m17 0h1m10 0h1m19 0h1M13 313.5h1m19 0h1m6 0h1m11 0h1m11 0h1m4 0h1m25 0h1m1 0h1m2 0h1m32 0h1m3 0h1m9 0h1m30 0h1m7 0h1m16 0h2M2 314.5h1m33 0h1m13 0h1m22 0h1m1 0h1m2 0h1m9 0h1m3 0h4m7 0h1m3 0h1m3 0h1m7 0h1m73 0h1m3 0h1m1 0h1m11 0h1m4 0h1M13 315.5h1m11 0h1m11 0h1m5 0h1m3 0h2m3 0h1m10 0h1m4 0h1m17 0h1m8 0h1m1 0h1m9 0h1m4 0h1m3 0h1m14 0h1m30 0h1m12 0h1m3 0h1m13 0h1m11 0h2m5 0h1m14 0h1M8 316.5h1m1 0h1m17 0h1m6 0h1m9 0h1m14 0h1m3 0h1m14 0h1m6 0h1m1 0h1m7 0h2m2 0h1m6 0h1m6 0h1m6 0h1m9 0h1m40 0h1m7 0h1m12 0h1m16 0h1m5 0h1m10 0h1M10 317.5h1m17 0h1m2 0h1m29 0h2m7 0h1m2 0h1m1 0h1m1 0h1m7 0h1m6 0h1m5 0h1m3 0h1m11 0h1m6 0h1m28 0h1m2 0h1m10 0h1m31 0h2m3 0h1M2 318.5h1m29 0h2m1 0h1m4 0h1m3 0h2m4 0h1m17 0h1m2 0h1m7 0h1m9 0h1m6 0h1m7 0h1m2 0h1m3 0h1m3 0h1m17 0h1m2 0h1m28 0h1m8 0h1m12 0h1m14 0h1m2 0h1M8 319.5h1m27 0h2m7 0h1m1 0h1m8 0h1m3 0h1m6 0h2m10 0h1m3 0h1m5 0h1m9 0h2m3 0h1m5 0h1m20 0h1m21 0h2m23 0h1m17 0h1m6 0h1m2 0h1m1 0h1m9 0h1M37 320.5h1m17 0h1m5 0h1m3 0h1m2 0h1m3 0h1m5 0h1m3 0h1m29 0h2m21 0h1m5 0h1m21 0h1m18 0h1m12 0h1m8 0h1m3 0h1m2 0h1m4 0h1m3 0h1M14 321.5h1m3 0h1m2 0h1m11 0h1m29 0h1m10 0h1m6 0h1m1 0h1m5 0h1m6 0h1m37 0h1m9 0h2m5 0h1m27 0h1m7 0h1m16 0h1m1 0h1M5 322.5h1m1 0h1m20 0h2m17 0h1m1 0h1m2 0h1m4 0h1m27 0h1m25 0h1m2 0h1m1 0h1m1 0h1m3 0h1m20 0h1m7 0h2m1 0h1m4 0h1m3 0h1m16 0h1m18 0h1m26 0h1M56 323.5h1m11 0h1m11 0h1m7 0h1m3 0h2m19 0h1m4 0h1m14 0h1m10 0h1m18 0h1m34 0h1m1 0h1m8 0h1m10 0h1M7 324.5h1m1 0h1m2 0h1m8 0h1m1 0h1m4 0h1m10 0h1m5 0h1m14 0h1m7 0h1m4 0h1m21 0h1m7 0h1m8 0h1m4 0h1m2 0h1m18 0h1m9 0h1m32 0h1m4 0h1M34 325.5h1m12 0h1m6 0h1m9 0h1m7 0h1m5 0h1m13 0h1m8 0h1m7 0h2m2 0h1m1 0h1m6 0h1m7 0h1m17 0h2m1 0h1m38 0h2M9 326.5h2m2 0h1m38 0h1m3 0h1m19 0h1m6 0h1m8 0h1m6 0h1m5 0h1m1 0h1m10 0h1m46 0h1m12 0h1m8 0h1m7 0h1m11 0h1m11 0h1m6 0h1M17 327.5h1m12 0h1m16 0h1m14 0h1m9 0h1m12 0h1m29 0h1m2 0h1m10 0h1m14 0h2m31 0h1m1 0h1m12 0h1M3 328.5h1m25 0h1m13 0h1m22 0h1m3 0h2m1 0h1m9 0h1m1 0h2m2 0h1m9 0h1m11 0h1m7 0h1m10 0h1m28 0h1m24 0h1m3 0h1m1 0h1m10 0h2m8 0h1m4 0h1M25 329.5h1m19 0h1m7 0h1m13 0h1m5 0h1m12 0h1m5 0h3m18 0h1m45 0h1m16 0h1m1 0h1m3 0h1m20 0h1m6 0h1m9 0h1M1 330.5h1m19 0h1m12 0h1m10 0h1m16 0h1m28 0h1m5 0h1m10 0h1m13 0h1m12 0h1m2 0h1m6 0h1m8 0h1m6 0h1m17 0h1m7 0h1m6 0h3M11 331.5h1m10 0h1m24 0h1m2 0h2m9 0h1m3 0h1m5 0h1m13 0h1m4 0h1m3 0h1m7 0h1m1 0h1m3 0h1m28 0h2m4 0h1m2 0h1m1 0h1m10 0h1m14 0h2m11 0h1m3 0h1m7 0h1m14 0h1M3 332.5h1m30 0h1m2 0h1m23 0h2m5 0h1m1 0h1m2 0h1m22 0h1m47 0h1m11 0h1m46 0h1m13 0h1M10 333.5h1m2 0h1m11 0h1m3 0h1m9 0h1m13 0h1m1 0h1m10 0h1m6 0h1m15 0h1m22 0h1m3 0h1m3 0h1m32 0h1m8 0h1m25 0h1m25 0h1M0 334.5h1m13 0h1m1 0h1m4 0h1m2 0h1m21 0h1m3 0h1m15 0h1m10 0h2m8 0h1m5 0h1m1 0h1m5 0h1m9 0h1m22 0h1m9 0h1m7 0h1m42 0h1m21 0h1m1 0h1M20 335.5h2m8 0h1m12 0h1m4 0h2m1 0h1m3 0h1m5 0h1m12 0h1m1 0h1m11 0h1m14 0h1m9 0h1m27 0h1m7 0h1m13 0h1m51 0h1m2 0h2M0 336.5h1m32 0h1m6 0h1m4 0h1m4 0h1m8 0h1m27 0h2m4 0h1m19 0h1m2 0h1m29 0h1m13 0h1m23 0h1m14 0h1M36 337.5h1m2 0h1m2 0h1m2 0h1m6 0h1m6 0h1m12 0h2m7 0h1m2 0h1m2 0h1m2 0h1m1 0h1m47 0h1m2 0h1m8 0h1m8 0h1m40 0h1m17 0h1M19 338.5h1m8 0h2m7 0h1m18 0h1m3 0h1m1 0h1m11 0h1m10 0h1m1 0h1m24 0h1m6 0h1m12 0h1m8 0h1m5 0h1m3 0h1m13 0h1m12 0h1m3 0h1m2 0h1m6 0h1m20 0h1M16 339.5h1m3 0h1m21 0h1m4 0h1m1 0h1m3 0h1m1 0h1m6 0h1m1 0h1m3 0h1m7 0h1m13 0h1m12 0h1m32 0h1m10 0h1m1 0h1m44 0h1m2 0h1m16 0h1m3 0h1m1 0h1m6 0h1M8 340.5h1m12 0h1m26 0h1m2 0h1m2 0h1m6 0h1m11 0h1m1 0h1m16 0h1m13 0h1m10 0h1m16 0h1m31 0h1m17 0h1m3 0h1m2 0h2m26 0h1M0 341.5h1m27 0h1m10 0h1m8 0h1m5 0h1m19 0h1m8 0h1m7 0h1m7 0h1m7 0h1m5 0h1m3 0h1m14 0h1m17 0h1m12 0h1m16 0h1m11 0h1m8 0h1m4 0h1m4 0h1M1 342.5h1m6 0h1m55 0h1m11 0h1m19 0h1m16 0h1m6 0h1m15 0h1m21 0h1m17 0h1m1 0h1m14 0h1m3 0h1m7 0h1m5 0h1m15 0h1M18 343.5h1m26 0h1m2 0h1m1 0h1m55 0h1m6 0h1m3 0h1m14 0h1m4 0h1m35 0h1m13 0h1M8 344.5h1m3 0h1m8 0h1m2 0h1m9 0h1m1 0h1m2 0h2m3 0h1m7 0h3m3 0h2m12 0h1m1 0h1m16 0h2m15 0h1m34 0h1m1 0h1m36 0h1m21 0h1m3 0h1m1 0h1m4 0h2M19 345.5h1m23 0h1m18 0h1m1 0h1m1 0h1m22 0h1m1 0h1m20 0h1m1 0h1m7 0h1m16 0h2m10 0h1m13 0h1m14 0h1m8 0h1m2 0h1m2 0h1M22 346.5h1m9 0h1m13 0h1m11 0h1m5 0h1m83 0h1m5 0h1m7 0h1m50 0h1M10 347.5h2m18 0h1m23 0h1m6 0h1m13 0h1m10 0h1m4 0h1m14 0h1m12 0h1m14 0h1m5 0h1m6 0h1m3 0h1m24 0h1m28 0h1m9 0h1M1 348.5h1m42 0h1m5 0h1m5 0h1m7 0h1m1 0h1m20 0h1m1 0h1m12 0h1m2 0h1m19 0h1m6 0h1m8 0h1m2 0h1m37 0h1m8 0h1m14 0h1M13 349.5h1m5 0h1m42 0h1m1 0h1m3 0h1m35 0h1m16 0h1m10 0h1m6 0h2m14 0h1m10 0h1m12 0h1m26 0h1M3 350.5h2m10 0h1m34 0h1m10 0h1m1 0h1m5 0h1m15 0h1m9 0h1m11 0h1m4 0h1m7 0h1m1 0h1m55 0h1m5 0h2m5 0h1m24 0h1M4 351.5h1m2 0h1m13 0h1m9 0h1m16 0h1m13 0h1m19 0h1m13 0h2m1 0h1m45 0h1m11 0h1m3 0h1m13 0h1m3 0h1m8 0h1m19 0h1M17 352.5h1m9 0h1m4 0h1m22 0h1m8 0h1m19 0h1m17 0h1m11 0h1m36 0h1m13 0h1m8 0h1m9 0h1m5 0h1m27 0h1M1 353.5h1m5 0h1m24 0h2m13 0h1m18 0h1m6 0h1m24 0h1m6 0h1m5 0h1m20 0h2m27 0h1m11 0h1m18 0h1m6 0h2M7 354.5h1m5 0h1m27 0h2m1 0h3m1 0h1m4 0h1m15 0h1m13 0h1m3 0h1m19 0h1m2 0h1m2 0h1m17 0h1m3 0h1m9 0h1m9 0h1m5 0h1m1 0h1m11 0h2m2 0h1m23 0h1m3 0h1m4 0h1m14 0h1M7 355.5h1m20 0h2m12 0h1m4 0h1m5 0h1m33 0h2m2 0h1m10 0h1m5 0h1m3 0h1m1 0h1m6 0h1m11 0h1m2 0h1m4 0h1m14 0h1m2 0h1m2 0h1m15 0h1m4 0h2m20 0h1m6 0h1M4 356.5h1m6 0h1m7 0h1m12 0h1m2 0h1m16 0h2m3 0h1m4 0h1m13 0h1m7 0h1m8 0h1m18 0h1m26 0h1m3 0h1m7 0h1m5 0h1m23 0h1m1 0h1m18 0h1m11 0h1m4 0h1M21 357.5h1m40 0h1m16 0h2m2 0h1m12 0h1m13 0h1m2 0h1m3 0h1m38 0h1m46 0h1M11 358.5h1m8 0h1m18 0h1m6 0h1m2 0h2m7 0h1m2 0h1m4 0h1m6 0h1m6 0h1m2 0h1m6 0h1m17 0h1m5 0h1m19 0h1m9 0h1m2 0h1m1 0h1m41 0h1m8 0h1m26 0h1M9 359.5h1m9 0h1m14 0h1m15 0h1m3 0h1m5 0h1m3 0h1m1 0h1m16 0h1m2 0h1m14 0h1m5 0h1m5 0h3m23 0h1m13 0h1m2 0h1m1 0h1m6 0h1m10 0h1m41 0h1m7 0h2M11 360.5h1m16 0h1m1 0h1m8 0h1m3 0h1m4 0h1m3 0h1m2 0h1m2 0h1m3 0h1m29 0h1m1 0h1m2 0h1m10 0h2m11 0h1m10 0h1m4 0h1m3 0h1m7 0h1m11 0h1m18 0h1M3 361.5h1m4 0h1m21 0h1m6 0h2m17 0h1m2 0h1m16 0h1m13 0h1m3 0h1m36 0h1m16 0h1m6 0h1m20 0h1m14 0h2m34 0h1M32 362.5h1m3 0h1m23 0h1m8 0h1m3 0h1m3 0h1m5 0h1m6 0h1m15 0h1m10 0h2m13 0h2m26 0h1m2 0h1m45 0h1M20 363.5h1m25 0h1m6 0h1m8 0h1m25 0h2m20 0h1m6 0h1m19 0h1m55 0h1M15 364.5h1m6 0h1m4 0h1m6 0h1m7 0h1m7 0h1m5 0h2m6 0h1m1 0h1m1 0h1m8 0h1m11 0h1m48 0h1m2 0h1m11 0h1m11 0h1m16 0h1m10 0h1m21 0h1M10 365.5h1m5 0h1m12 0h2m13 0h1m5 0h1m13 0h1m18 0h1m7 0h1m7 0h2m21 0h1m14 0h1m13 0h1m9 0h2m36 0h1m2 0h1m7 0h1m5 0h1M21 366.5h1m17 0h1m4 0h1m8 0h1m4 0h2m14 0h1m1 0h1m19 0h1m5 0h1m11 0h1m4 0h1m1 0h2m12 0h1m17 0h1m4 0h1m3 0h1m3 0h1m17 0h1m5 0h1m17 0h1M24 367.5h1m1 0h1m22 0h1m4 0h1m21 0h1m11 0h1m4 0h1m1 0h1m12 0h1m2 0h1m45 0h1m16 0h2m5 0h1m5 0h1m14 0h1m1 0h2m7 0h1M1 368.5h2m4 0h1m5 0h1m7 0h1m2 0h2m14 0h1m4 0h1m18 0h1m8 0h1m10 0h1m9 0h1m1 0h1m5 0h1m4 0h1m4 0h1m7 0h1m32 0h1m2 0h1m1 0h1m28 0h1m3 0h2m6 0h1m3 0h1m1 0h1m8 0h1"/>
<path stroke="#443983" d="M1 0.5h1m11 0h1m35 0h1m4 0h1m9 0h1m9 0h1m5 0h1m5 0h2m4 0h1m6 0h1m18 0h2m35 0h1m6 0h1m22 0h1M8 1.5h1m5 0h1m3 0h2m9 0h1m7 0h1m26 0h2m7 0h1m5 0h1m2 0h1m7 0h1m19 0h1m4 0h1m3 0h1m10 0h1m6 0h1m1 0h1m1 0h1m13 0h1m2 0h1m22 0h1m9 0h1m12 0h1m7 0h1M41 2.5h1m16 0h1m17 0h2m1 0h3m1 0h1m1 0h1m30 0h1m5 0h1m24 0h1m5 0h1m8 0h1m3 0h1m12 0h1m11 0h1m10 0h1m1 0h1m5 0h1m2 0h1m1 0h1m10 0h1M11 3.5h1m13 0h1m20 0h2m3 0h2m30 0h1m16 0h1m8 0h1m1 0h1m9 0h1m13 0h2m2 0h1m15 0h1m7 0h1m18 0h1m1 0h2m4 0h1m14 0h1m12 0h2M13 4.5h1m12 0h1m33 0h1m2 0h1m7 0h1m12 0h1m2 0h1m4 0h1m4 0h1m2 0h1m4 0h1m1 0h1m8 0h1m18 0h1m26 0h1m12 0h1m3 0h1m9 0h1m4 0h1m19 0h1M14 5.5h1m13 0h1m11 0h1m4 0h1m35 0h1m5 0h1m10 0h1m3 0h1m29 0h1m4 0h1m1 0h1m4 0h1m5 0h1m3 0h1m53 0h1M8 6.5h1m2 0h1m4 0h1m25 0h1m19 0h1m4 0h1m12 0h1m4 0h1m1 0h1m6 0h1m3 0h1m15 0h1m1 0h1m13 0h1m14 0h1m3 0h1m2 0h1m8 0h2m1 0h1m1 0h1m8 0h1m3 0h1m2 0h1m13 0h1m10 0h1m6 0h2M10 7.5h1m36 0h1m14 0h1m14 0h1m5 0h1m13 0h1m5 0h1m7 0h2m3 0h1m1 0h1m1 0h1m9 0h1m10 0h1m3 0h1m12 0h1m1 0h1m2 0h1m32 0h1m10 0h1m5 0h1M3 8.5h1m26 0h2m3 0h1m17 0h2m9 0h1m5 0h1m29 0h1m2 0h1m3 0h1m5 0h2m23 0h1m11 0h1m27 0h1m11 0h1m2 0h1m8 0h1m3 0h1m6 0h1M9 9.5h1m7 0h1m12 0h1m6 0h1m8 0h1m9 0h1m4 0h1m3 0h1m2 0h1m13 0h1m31 0h1m2 0h1m3 0h1m9 0h1m12 0h1m9 0h1m3 0h1m15 0h1m22 0h2m11 0h1m2 0h1m1 0h1M14 10.5h1m11 0h1m1 0h1m5 0h1m4 0h1m7 0h1m32 0h1m14 0h1m1 0h1m20 0h1m1 0h1m9 0h1m13 0h1m1 0h1m8 0h1m25 0h1m4 0h1m1 0h1m7 0h1m19 0h1m3 0h1m6 0h1M0 11.5h1m16 0h1m12 0h1m11 0h1m26 0h1m2 0h1m1 0h2m1 0h1m4 0h1m3 0h1m2 0h1m22 0h1m1 0h1m5 0h1m15 0h1m50 0h1m1 0h1m5 0h1m12 0h1M14 12.5h1m17 0h1m4 0h1m2 0h4m25 0h1m1 0h1m4 0h1m16 0h1m19 0h2m16 0h1m1 0h1m1 0h1m27 0h1m16 0h1m14 0h1m12 0h1m3 0h1M8 13.5h1m21 0h1m17 0h1m13 0h1m4 0h1m9 0h1m1 0h1m4 0h1m5 0h1m23 0h2m30 0h1m7 0h1m4 0h1m2 0h1m2 0h1m9 0h1m29 0h1m9 0h1m3 0h1m6 0h1M34 14.5h1m5 0h1m8 0h2m7 0h2m17 0h1m3 0h1m6 0h2m30 0h2m8 0h1m12 0h1m5 0h1m1 0h1m2 0h1m2 0h1m2 0h1m16 0h1m38 0h1m10 0h1M18 15.5h1m1 0h1m9 0h1m1 0h1m23 0h1m8 0h1m18 0h1m4 0h1m7 0h1m6 0h1m5 0h1m8 0h1m13 0h1m9 0h1m10 0h1m9 0h1m1 0h1m18 0h1m3 0h1m4 0h1m7 0h1m6 0h1m1 0h1m6 0h1m1 0h1M16 16.5h1m24 0h1m5 0h1m6 0h2m23 0h1m38 0h1m12 0h2m21 0h1m2 0h1m18 0h1m2 0h1m2 0h2M33 17.5h1m10 0h2m15 0h1m1 0h2m2 0h1m17 0h1m3 0h1m7 0h3m14 0h1m4 0h1m16 0h1m14 0h1m23 0h1m21 0h2m11 0h1m1 0h1m7 0h1M14 18.5h1m29 0h1m2 0h2m21 0h2m24 0h1m19 0h1m2 0h1m25 0h1m11 0h1m8 0h1m28 0h1m6 0h1m5 0h1m10 0h1m3 0h1M5 19.5h1m5 0h1m7 0h1m32 0h1m1 0h1m5 0h1m5 0h1m17 0h1m2 0h1m20 0h1m13 0h1m7 0h1m6 0h1m3 0h1m66 0h1m17 0h1M24 20.5h1m2 0h1m3 0h1m6 0h1m9 0h1m7 0h1m5 0h2m8 0h1m19 0h1m1 0h1m3 0h1m7 0h1m1 0h2m20 0h1m4 0h2m2 0h1m4 0h1m8 0h1m9 0h2m9 0h1m12 0h2m7 0h1m17 0h1M1 21.5h1m5 0h1m12 0h1m12 0h1m18 0h1m3 0h1m13 0h1m4 0h1m4 0h1m6 0h3m14 0h1m16 0h1m8 0h1m2 0h2m1 0h1m8 0h1m5 0h1m48 0h1m2 0h1M8 22.5h1m23 0h1m4 0h1m14 0h1m7 0h1m5 0h1m21 0h1m12 0h2m6 0h1m7 0h1m1 0h1m10 0h1m1 0h1m4 0h1m2 0h2m2 0h2m8 0h1m5 0h1m24 0h1m9 0h1m12 0h1m3 0h1m6 0h1M3 23.5h1m14 0h1m2 0h1m2 0h1m11 0h1m8 0h1m5 0h1m7 0h2m2 0h1m7 0h1m6 0h1m1 0h1m2 0h1m1 0h1m6 0h1m1 0h1m5 0h1m15 0h2m1 0h1m19 0h2m53 0h1m12 0h1m2 0h1m1 0h1m3 0h1m1 0h1M18 24.5h1m5 0h1m21 0h1m4 0h1m6 0h1m5 0h1m8 0h1m2 0h2m9 0h1m19 0h1m5 0h1m2 0h1m2 0h1m27 0h1m2 0h1m58 0h1m10 0h1M23 25.5h1m4 0h2m9 0h1m12 0h1m7 0h1m4 0h1m2 0h1m11 0h1m8 0h1m7 0h2m7 0h1m4 0h1m3 0h1m29 0h1m8 0h1m26 0h1m30 0h1m14 0h1M25 26.5h1m8 0h1m31 0h1m4 0h1m3 0h1m18 0h1m2 0h2m2 0h1m6 0h1m12 0h1m11 0h1m18 0h1m5 0h1m4 0h1m13 0h1m14 0h1m4 0h1M0 27.5h1m2 0h1m6 0h1m18 0h1m30 0h1m9 0h1m3 0h1m4 0h1m54 0h1m12 0h1m29 0h1m9 0h1m7 0h1m1 0h2m6 0h1m4 0h1m16 0h1M16 28.5h1m7 0h1m24 0h1m8 0h1m10 0h1m2 0h1m4 0h1m10 0h1m3 0h2m1 0h1m13 0h2m29 0h1m8 0h1m1 0h1m11 0h2m35 0h1m2 0h1m13 0h2M10 29.5h1m2 0h1m2 0h1m2 0h1m20 0h1m1 0h1m1 0h1m2 0h1m3 0h1m1 0h1m4 0h1m5 0h1m1 0h1m6 0h1m7 0h1m1 0h1m1 0h1m3 0h2m15 0h2m7 0h1m22 0h1m7 0h1m15 0h1m12 0h1m11 0h1m5 0h1m7 0h1m4 0h1m4 0h1M19 30.5h1m9 0h1m16 0h2m8 0h1m4 0h1m7 0h1m3 0h1m1 0h1m2 0h1m21 0h1m6 0h1m28 0h1m14 0h1m33 0h1m11 0h1m13 0h1m2 0h1m1 0h1M12 31.5h1m6 0h1m8 0h1m22 0h1m12 0h1m11 0h2m8 0h1m8 0h1m10 0h1m3 0h1m28 0h1m5 0h2m19 0h1m13 0h1m18 0h1m17 0h1M29 32.5h1m6 0h1m2 0h1m1 0h2m30 0h1m5 0h1m3 0h1m5 0h1m49 0h1m5 0h1m5 0h1m13 0h1m20 0h1m3 0h1m7 0h1m7 0h1m2 0h1m9 0h1M11 33.5h1m12 0h1m7 0h1m8 0h1m14 0h1m1 0h1m25 0h1m27 0h1m4 0h1m59 0h1m1 0h1m10 0h1m2 0h1m4 0h1m14 0h1M36 34.5h1m3 0h2m8 0h1m11 0h2m10 0h1m1 0h1m18 0h1m6 0h1m11 0h1m2 0h1m17 0h1m13 0h1m1 0h1m47 0h1m6 0h1m13 0h1M9 35.5h2m17 0h1m18 0h2m9 0h1m4 0h1m11 0h2m2 0h1m1 0h1m4 0h1m1 0h1m15 0h1m9 0h1m3 0h2m11 0h1m16 0h1m4 0h1m23 0h1m7 0h1m18 0h1m21 0h1M20 36.5h1m28 0h1m10 0h1m29 0h1m18 0h1m1 0h1m2 0h1m3 0h1m17 0h1m9 0h1m3 0h2m1 0h1m1 0h1m50 0h1m4 0h1M7 37.5h1m34 0h1m2 0h1m2 0h1m11 0h1m6 0h1m4 0h1m10 0h1m1 0h1m21 0h1m9 0h3m11 0h1m13 0h1m12 0h1m19 0h2m2 0h1m1 0h1m11 0h1m16 0h1M1 38.5h1m8 0h2m4 0h1m8 0h1m1 0h2m20 0h1m12 0h1m5 0h1m8 0h1m54 0h1m1 0h1m9 0h1m9 0h1m10 0h1m21 0h1m3 0h1m1 0h1m33 0h1M5 39.5h1m4 0h1m60 0h1m11 0h1m5 0h1m10 0h1m2 0h1m8 0h1m3 0h1m5 0h1m15 0h1m3 0h1m2 0h1m19 0h1m36 0h1m1 0h1m1 0h1m3 0h1M33 40.5h1m16 0h1m16 0h1m5 0h1m1 0h1m15 0h1m9 0h1m18 0h1m14 0h1m8 0h1m1 0h1m4 0h1m10 0h1m12 0h2m7 0h1m4 0h1m1 0h1m34 0h1M1 41.5h1m22 0h1m6 0h1m9 0h1m9 0h1m7 0h1m2 0h1m7 0h1m6 0h1m1 0h1m13 0h1m5 0h1m9 0h1m10 0h1m37 0h1m19 0h1m13 0h1m1 0h2m1 0h2m7 0h1m13 0h1M30 42.5h1m9 0h1m11 0h1m30 0h1m13 0h1m3 0h1m2 0h1m2 0h1m4 0h1m5 0h1m1 0h1m26 0h1m39 0h1m8 0h1m4 0h1m6 0h2m17 0h1M0 43.5h1m2 0h1m20 0h1m2 0h1m10 0h1m3 0h1m4 0h1m4 0h1m15 0h1m6 0h1m4 0h1m1 0h1m6 0h1m4 0h1m7 0h1m1 0h1m3 0h1m42 0h1m4 0h1m11 0h1m22 0h1m7 0h1m2 0h1m2 0h1m9 0h1M9 44.5h1m10 0h1m13 0h3m5 0h1m9 0h1m10 0h1m2 0h1m7 0h1m14 0h2m5 0h2m8 0h1m25 0h2m3 0h1m3 0h1m3 0h1m3 0h1m5 0h1m29 0h2m6 0h1m16 0h1m4 0h1M11 45.5h1m14 0h1m10 0h1m27 0h1m13 0h1m8 0h1m10 0h1m15 0h1m4 0h1m11 0h1m1 0h1m12 0h1m9 0h1m20 0h1m2 0h1M13 46.5h1m7 0h1m21 0h1m10 0h1m1 0h1m18 0h1m1 0h2m2 0h1m7 0h1m4 0h1m19 0h1m2 0h1m4 0h1m8 0h1m3 0h1m15 0h1m1 0h1m2 0h1m7 0h1m9 0h2m6 0h2m1 0h1m5 0h1m13 0h1m2 0h2m2 0h1m7 0h1M7 47.5h1m3 0h1m20 0h1m28 0h1m24 0h1m2 0h1m6 0h2m13 0h1m9 0h1m28 0h1m11 0h1m47 0h1m9 0h1m5 0h1M10 48.5h1m5 0h1m8 0h1m4 0h1m4 0h1m4 0h1m1 0h1m5 0h2m18 0h1m7 0h1m33 0h1m1 0h1m31 0h1m9 0h1m10 0h1m8 0h1m9 0h1m10 0h1M1 49.5h1m8 0h2m17 0h1m31 0h1m32 0h1m7 0h2m3 0h1m5 0h1m20 0h1m2 0h1m15 0h1m8 0h1m17 0h1m32 0h1m2 0h1M15 50.5h2m14 0h1m28 0h1m2 0h2m9 0h1m36 0h1m3 0h1m5 0h1m13 0h1m2 0h1m15 0h1m30 0h1m5 0h1m7 0h1m8 0h1m9 0h1M7 51.5h1m3 0h1m18 0h1m10 0h2m13 0h1m6 0h1m14 0h2m28 0h1m12 0h1m15 0h3m7 0h1m5 0h1m20 0h1m6 0h1m11 0h1m16 0h1m15 0h1M1 52.5h1m3 0h1m34 0h1m6 0h1m4 0h1m16 0h1m1 0h1m8 0h1m29 0h1m6 0h1m2 0h1m1 0h1m10 0h1m9 0h1m14 0h1m5 0h1m11 0h1m1 0h1m6 0h1M1 53.5h1m2 0h1m23 0h1m23 0h1m2 0h2m8 0h1m10 0h1m2 0h1m5 0h1m3 0h1m31 0h1m10 0h1m8 0h1m5 0h1m13 0h1m32 0h1m1 0h1m12 0h1m13 0h1M22 54.5h1m6 0h1m45 0h1m5 0h2m14 0h1m34 0h1m42 0h1m1 0h1m15 0h1m2 0h1m2 0h1m20 0h1m5 0h1M21 55.5h2m1 0h1m51 0h1m27 0h1m2 0h3m3 0h1m20 0h1m1 0h1m6 0h1m1 0h1m7 0h1m11 0h1m12 0h1m5 0h1M10 56.5h1m16 0h1m13 0h1m11 0h1m29 0h1m22 0h1m28 0h1m5 0h1m11 0h1m8 0h1m2 0h1m23 0h1m5 0h1m3 0h1m8 0h1m4 0h1M26 57.5h1m1 0h1m12 0h1m2 0h1m3 0h2m13 0h1m4 0h1m15 0h1m11 0h1m17 0h1m2 0h2m45 0h1m1 0h1m10 0h1m7 0h2m4 0h1m12 0h1m3 0h1m1 0h1m4 0h1M3 58.5h1m21 0h1m26 0h1m31 0h1m12 0h1m5 0h1m12 0h1m20 0h1m8 0h1m9 0h3m5 0h1m13 0h1m3 0h1m1 0h1m3 0h1m17 0h1m9 0h1m10 0h1M3 59.5h1m6 0h2m16 0h1m16 0h1m13 0h1m13 0h1m39 0h1m21 0h1m2 0h1m18 0h1m5 0h1m21 0h1m20 0h1m12 0h2M13 60.5h1m25 0h1m8 0h1m2 0h1m13 0h1m7 0h2m25 0h1m6 0h1m2 0h1m36 0h1m9 0h1m33 0h1m5 0h1m1 0h1M13 61.5h1m24 0h1m18 0h2m32 0h1m15 0h1m3 0h1m41 0h1m2 0h1m7 0h3m13 0h1m4 0h1m15 0h1m3 0h1m3 0h1m5 0h1M8 62.5h1m1 0h1m31 0h1m24 0h1m1 0h1m70 0h1m10 0h4m5 0h1m19 0h1m6 0h1m8 0h1m12 0h1m10 0h1M6 63.5h1m20 0h1m12 0h1m17 0h1m1 0h1m5 0h1m4 0h1m5 0h1m22 0h1m5 0h1m8 0h1m5 0h2m69 0h1m2 0h1m1 0h1m10 0h1m18 0h1M38 64.5h1m8 0h2m9 0h1m9 0h1m3 0h1m15 0h1m7 0h1m3 0h1m1 0h1m47 0h1m13 0h1m11 0h1m1 0h1m42 0h1M18 65.5h1m6 0h1m2 0h2m28 0h2m3 0h2m38 0h1m3 0h1m3 0h1m6 0h1m17 0h1m28 0h1m14 0h2m13 0h1m9 0h1m21 0h1M10 66.5h2m31 0h1m6 0h1m1 0h1m2 0h1m2 0h1m5 0h1m9 0h1m12 0h1m1 0h1m3 0h1m9 0h1m31 0h2m6 0h1m13 0h1m6 0h1m19 0h1m14 0h1m6 0h1m11 0h1M1 67.5h1m28 0h2m1 0h1m12 0h1m1 0h2m2 0h1m5 0h1m10 0h1m3 0h1m9 0h1m6 0h1m1 0h1m2 0h1m1 0h1m6 0h1m15 0h1m12 0h1m10 0h1m3 0h1m7 0h1m7 0h1m22 0h1m9 0h1m14 0h1M12 68.5h2m8 0h1m24 0h1m5 0h1m10 0h1m1 0h2m1 0h1m6 0h1m1 0h1m10 0h1m12 0h2m14 0h1m24 0h1m7 0h1m32 0h1m13 0h1m20 0h2M29 69.5h1m10 0h1m22 0h1m4 0h2m13 0h2m4 0h1m9 0h1m6 0h1m8 0h1m1 0h1m65 0h1m4 0h1m7 0h1m29 0h1M32 70.5h1m7 0h2m14 0h1m18 0h2m3 0h1m2 0h1m11 0h1m4 0h1m17 0h1m29 0h2m1 0h1m14 0h1m1 0h1m12 0h1m15 0h2m9 0h1m3 0h1m5 0h1M12 71.5h1m9 0h1m29 0h1m4 0h1m2 0h1m18 0h1m8 0h1m5 0h1m2 0h1m2 0h1m11 0h1m2 0h1m4 0h1m15 0h2m1 0h1m7 0h1m1 0h2m3 0h1m32 0h1m9 0h1m3 0h1m7 0h1M18 72.5h1m34 0h1m6 0h2m1 0h1m7 0h1m20 0h1m7 0h1m14 0h1m19 0h1m5 0h1m46 0h1m4 0h1m15 0h1m5 0h1m10 0h1M7 73.5h1m21 0h1m15 0h1m4 0h1m2 0h1m13 0h1m19 0h2m4 0h1m1 0h1m6 0h1m6 0h1m7 0h1m1 0h1m10 0h1m14 0h1m18 0h1m15 0h1m23 0h1M10 74.5h1m5 0h1m15 0h1m23 0h1m19 0h1m13 0h1m6 0h1m6 0h1m5 0h1m7 0h1m2 0h1m10 0h1m55 0h1m16 0h1m21 0h1M1 75.5h1m2 0h1m13 0h1m12 0h1m17 0h1m10 0h1m8 0h1m29 0h1m15 0h2m2 0h1m25 0h1m7 0h1m8 0h1m1 0h1m13 0h1m16 0h1m21 0h1M5 76.5h1m4 0h1m28 0h1m18 0h1m3 0h1m6 0h1m27 0h1m8 0h1m5 0h1m9 0h1m28 0h1m6 0h1m4 0h1m12 0h1m4 0h1m17 0h1m15 0h1m11 0h1M0 77.5h1m18 0h1m19 0h1m7 0h1m6 0h1m1 0h1m12 0h1m4 0h1m3 0h1m10 0h1m23 0h1m11 0h1m8 0h1m5 0h1m2 0h2m9 0h1m22 0h1m1 0h1m18 0h1M10 78.5h1m32 0h1m4 0h2m8 0h1m3 0h2m4 0h1m4 0h1m3 0h1m11 0h2m6 0h1m3 0h1m35 0h1m54 0h1m26 0h1M45 79.5h1m34 0h2m11 0h1m12 0h1m6 0h1m8 0h1m15 0h1m13 0h2m1 0h1m2 0h1m23 0h1m15 0h1m4 0h2m1 0h2M16 80.5h1m31 0h1m35 0h1m9 0h1m16 0h1m25 0h1m1 0h1m4 0h1m7 0h2m9 0h1m23 0h1M7 81.5h1m14 0h1m45 0h1m25 0h1m16 0h1m40 0h1m5 0h1m3 0h1m41 0h1m6 0h1m4 0h1m1 0h1m7 0h1M7 82.5h1m36 0h1m53 0h2m11 0h1m26 0h1m20 0h1m18 0h1m15 0h1m5 0h1m5 0h1M25 83.5h1m4 0h1m9 0h1m1 0h2m18 0h1m5 0h1m9 0h1m11 0h1m20 0h1m3 0h1m2 0h1m1 0h1m10 0h1m1 0h1m9 0h1m12 0h1m7 0h1M11 84.5h1m18 0h1m25 0h1m11 0h1m4 0h1m3 0h2m8 0h1m44 0h1m16 0h1m16 0h1m11 0h1m8 0h1m9 0h1m5 0h2m5 0h1m1 0h1m3 0h1m1 0h1M0 85.5h1m10 0h2m2 0h1m23 0h1m18 0h1m7 0h1m8 0h1m9 0h1m18 0h1m1 0h1m8 0h1m17 0h1m25 0h1m1 0h2m1 0h1m12 0h1m1 0h2m11 0h1m2 0h1m6 0h1m7 0h1m6 0h1M8 86.5h1m2 0h1m1 0h1m1 0h1m36 0h2m9 0h1m8 0h2m16 0h2m8 0h1m1 0h1m6 0h1m1 0h1m14 0h1m51 0h1m7 0h2m5 0h1m12 0h1m12 0h1M7 87.5h2m8 0h1m1 0h1m9 0h1m6 0h1m4 0h2m3 0h2m12 0h1m3 0h2m8 0h1m16 0h1m5 0h1m1 0h1m33 0h1m3 0h1m6 0h1m6 0h1m3 0h1m27 0h2m11 0h1m10 0h1m3 0h1M8 88.5h1m5 0h2m7 0h1m2 0h1m7 0h1m9 0h1m9 0h1m17 0h2m1 0h1m2 0h1m5 0h1m2 0h1m5 0h1m5 0h1m11 0h1m10 0h1m26 0h1m14 0h1m21 0h1m8 0h2m5 0h1m24 0h1M1 89.5h1m10 0h1m1 0h1m33 0h1m1 0h2m10 0h1m5 0h1m1 0h1m12 0h1m8 0h1m15 0h1m2 0h2m4 0h2m3 0h1m18 0h1m27 0h1m3 0h1m10 0h2m2 0h1m10 0h1m12 0h1m4 0h1m1 0h1M21 90.5h1m12 0h1m1 0h1m3 0h1m6 0h1m2 0h1m3 0h1m10 0h1m9 0h1m7 0h1m3 0h2m11 0h1m29 0h2m4 0h1m2 0h1m19 0h1m2 0h2m15 0h1m12 0h1m3 0h1M35 91.5h1m6 0h1m1 0h1m3 0h1m1 0h1m40 0h1m11 0h1m39 0h2m21 0h1m10 0h2m14 0h1m19 0h1m5 0h1M36 92.5h1m22 0h1m5 0h1m2 0h1m17 0h1m4 0h1m3 0h1m2 0h1m11 0h1m2 0h1m3 0h1m2 0h2m14 0h1m8 0h1m5 0h1m8 0h1m3 0h1m9 0h1m3 0h1m19 0h1M30 93.5h1m6 0h1m6 0h1m8 0h1m7 0h1m2 0h1m1 0h1m27 0h1m1 0h2m7 0h1m2 0h1m6 0h1m1 0h1m1 0h1m14 0h1m4 0h1m1 0h1m8 0h1m7 0h1m5 0h1m12 0h1m24 0h1M15 94.5h1m5 0h1m13 0h2m10 0h1m2 0h1m5 0h1m26 0h1m5 0h1m1 0h1m38 0h1m9 0h1m9 0h1m60 0h1m4 0h1M19 95.5h1m9 0h2m1 0h1m20 0h1m5 0h1m6 0h1m3 0h1m7 0h1m10 0h1m4 0h1m20 0h1m6 0h1m24 0h1m6 0h1m3 0h1m4 0h1m23 0h1m5 0h1m20 0h1m5 0h1M2 96.5h1m19 0h1m3 0h1m17 0h1m7 0h1m1 0h1m9 0h1m13 0h2m7 0h1m1 0h1m1 0h1m6 0h1m21 0h1m23 0h1m31 0h1m4 0h1m8 0h1M5 97.5h1m6 0h1m7 0h1m23 0h2m15 0h1m11 0h1m7 0h1m7 0h1m5 0h1m12 0h1m39 0h1m5 0h1m19 0h1m3 0h1m17 0h1m12 0h1m9 0h1M29 98.5h1m19 0h1m16 0h1m8 0h1m9 0h1m8 0h1m1 0h1m16 0h1m1 0h1m6 0h1m21 0h1m10 0h3m4 0h1m3 0h1m18 0h1m1 0h1m11 0h1M5 99.5h2m1 0h1m18 0h1m24 0h1m15 0h1m4 0h1m18 0h1m12 0h1m31 0h1m6 0h1m4 0h1m26 0h1m10 0h1m8 0h1m2 0h1m3 0h1m23 0h1M0 100.5h2m6 0h1m10 0h1m5 0h1m7 0h1m44 0h1m3 0h1m8 0h1m7 0h1m5 0h1m10 0h1m5 0h1m23 0h1m7 0h1m5 0h1m13 0h1m6 0h1m3 0h1m18 0h1M7 101.5h1m27 0h1m8 0h1m17 0h1m6 0h1m7 0h1m15 0h1m7 0h1m1 0h1m6 0h1m3 0h1m20 0h1m10 0h1m8 0h1M4 102.5h1m1 0h1m16 0h1m17 0h1m7 0h1m11 0h1m9 0h1m7 0h1m3 0h1m4 0h1m7 0h1m21 0h1m1 0h1m1 0h1m19 0h1m5 0h1m13 0h1M9 103.5h1m2 0h1m1 0h2m14 0h1m4 0h1m10 0h1m1 0h1m20 0h1m9 0h1m2 0h1m7 0h1m4 0h1m1 0h1m7 0h1m3 0h1m1 0h2m8 0h1m8 0h1m6 0h1m8 0h1m1 0h1m6 0h1m2 0h1m21 0h1m20 0h1m5 0h1m12 0h1M3 104.5h1m10 0h1m8 0h1m29 0h1m10 0h1m5 0h1m5 0h1m14 0h1m1 0h2m2 0h1m6 0h1m7 0h1m1 0h2m1 0h1m13 0h1m11 0h1m20 0h1m44 0h1m3 0h1M7 105.5h1m22 0h1m5 0h2m11 0h1m4 0h1m16 0h1m27 0h1m2 0h1m11 0h1m4 0h1m33 0h1m2 0h1m5 0h1m24 0h1M7 106.5h1m5 0h1m13 0h2m15 0h2m12 0h1m17 0h1m1 0h1m1 0h1m22 0h1m2 0h1m11 0h1m11 0h1m7 0h1m5 0h2m5 0h1m2 0h1M4 107.5h1m23 0h1m15 0h1m2 0h1m3 0h1m13 0h1m9 0h1m7 0h1m4 0h1m5 0h1m3 0h1m15 0h1m16 0h1m8 0h1m4 0h1m10 0h1m5 0h1m23 0h2m4 0h1m15 0h1M60 108.5h2m2 0h2m18 0h1m6 0h1m5 0h1m1 0h1m10 0h1m2 0h1m1 0h1m31 0h1m40 0h1M13 109.5h1m4 0h1m13 0h1m3 0h1m16 0h1m2 0h1m4 0h1m4 0h2m9 0h1m4 0h1m1 0h1m3 0h1m2 0h1m2 0h1m4 0h2m4 0h1m11 0h1m23 0h1m14 0h1m8 0h1m22 0h2m7 0h1m16 0h1M20 110.5h1m7 0h1m1 0h1m3 0h1m1 0h1m4 0h2m16 0h1m14 0h1m8 0h1m2 0h1m9 0h1m4 0h1m11 0h1m2 0h1m16 0h1m9 0h2m13 0h1m2 0h1m13 0h1m20 0h1m6 0h1m12 0h1M15 111.5h2m2 0h1m1 0h1m13 0h2m7 0h1m11 0h1m3 0h1m4 0h1m11 0h1m7 0h1m3 0h1m5 0h1m1 0h1m12 0h1m5 0h2m33 0h1m9 0h1m13 0h1m5 0h2m31 0h1m11 0h1M25 112.5h1m3 0h1m17 0h1m2 0h1m2 0h1m1 0h1m1 0h1m1 0h1m5 0h1m8 0h1m4 0h1m12 0h1m4 0h1m6 0h1m12 0h1m17 0h1m8 0h1m2 0h1m15 0h1M1 113.5h1m12 0h1m22 0h1m22 0h1m3 0h3m8 0h1m12 0h1m21 0h1m19 0h1m15 0h1m7 0h2m36 0h1m15 0h1m5 0h1M7 114.5h1m6 0h1m2 0h1m11 0h1m35 0h1m19 0h1m24 0h1m8 0h1m25 0h1m11 0h1m4 0h1m21 0h1m2 0h1m6 0h2m5 0h1m24 0h1M21 115.5h2m23 0h1m6 0h2m9 0h1m10 0h1m34 0h1m27 0h1m8 0h2m10 0h1m49 0h1M10 116.5h1m18 0h1m12 0h1m2 0h1m2 0h1m3 0h1m3 0h2m10 0h1m1 0h1m10 0h1m2 0h1m32 0h1m26 0h2m9 0h1m2 0h1m3 0h2m21 0h1m1 0h2m18 0h1m10 0h1m7 0h1M4 117.5h1m11 0h1m72 0h1m2 0h1m40 0h1m9 0h1m5 0h1m7 0h1m24 0h1m22 0h1m9 0h1M9 118.5h1m4 0h1m29 0h1m1 0h1m18 0h1m2 0h1m15 0h1m3 0h1m33 0h1m18 0h1m3 0h1m10 0h1m8 0h1m10 0h2m8 0h1M37 119.5h1m2 0h1m17 0h1m21 0h1m6 0h1m1 0h1m11 0h2m10 0h1m34 0h1m5 0h1m6 0h1m18 0h1m3 0h1m10 0h1m9 0h1m7 0h2M24 120.5h1m8 0h1m4 0h1m2 0h1m8 0h1m1 0h1m13 0h1m20 0h1m4 0h2m19 0h1m20 0h1m18 0h1m3 0h1m5 0h1m24 0h1m6 0h1M14 121.5h1m20 0h1m12 0h1m30 0h1m8 0h1m1 0h1m5 0h1m1 0h1m3 0h1m14 0h1m28 0h1m1 0h1m27 0h1m2 0h1m27 0h1m7 0h1m1 0h1m2 0h1M10 122.5h2m31 0h1m13 0h1m4 0h1m14 0h1m7 0h1m1 0h1m6 0h2m4 0h1m61 0h1m2 0h1m12 0h1m14 0h1m3 0h1m4 0h1m16 0h2m5 0h1M19 123.5h1m4 0h2m7 0h1m7 0h1m10 0h2m3 0h1m26 0h2m74 0h1m4 0h2m9 0h1m5 0h1m1 0h1m4 0h1m8 0h1m10 0h1m5 0h1M41 124.5h1m3 0h1m1 0h1m8 0h1m2 0h1m2 0h1m1 0h1m11 0h1m14 0h1m7 0h2m14 0h1m25 0h1m10 0h1m25 0h1m1 0h1m11 0h1m3 0h1m9 0h1m1 0h1m5 0h1m1 0h1M15 125.5h1m4 0h1m3 0h1m13 0h1m17 0h1m1 0h1m23 0h1m1 0h1m1 0h1m16 0h1m6 0h1m10 0h1m13 0h1m10 0h2m41 0h1m18 0h1m8 0h2M1 126.5h1m20 0h1m2 0h1m16 0h1m4 0h1m28 0h1m2 0h1m8 0h1m21 0h1m8 0h1m2 0h1m20 0h2m10 0h1m6 0h1m22 0h1m2 0h1m9 0h1m7 0h1m1 0h1M5 127.5h1m12 0h2m17 0h1m5 0h1m27 0h1m24 0h1m18 0h1m44 0h1m20 0h1m9 0h1m10 0h1m1 0h2m6 0h1M0 128.5h1m14 0h1m4 0h1m12 0h1m2 0h1m12 0h1m18 0h1m8 0h1m38 0h1m1 0h1m13 0h1m2 0h1m9 0h1m8 0h1m4 0h1m39 0h1m7 0h1m5 0h1M17 129.5h1m7 0h1m9 0h1m12 0h1m15 0h1m2 0h1m13 0h1m11 0h2m23 0h1m31 0h1m4 0h1m6 0h1m14 0h3m9 0h1m7 0h1m3 0h1m1 0h1M8 130.5h1m3 0h1m7 0h1m14 0h1m8 0h1m1 0h1m5 0h1m5 0h1m45 0h1m10 0h1m20 0h1m22 0h1m15 0h2m5 0h1m5 0h1m29 0h1m1 0h1M7 131.5h1m11 0h1m7 0h1m7 0h1m28 0h1m3 0h1m7 0h2m13 0h1m14 0h1m13 0h1m9 0h1m9 0h1m10 0h2m9 0h1m24 0h1m6 0h1m2 0h1m8 0h1m2 0h1M19 132.5h1m20 0h1m23 0h1m16 0h2m5 0h1m12 0h1m1 0h1m13 0h2m2 0h1m79 0h1m1 0h2m1 0h1M13 133.5h1m1 0h1m11 0h1m3 0h1m34 0h1m40 0h1m2 0h1m3 0h1m3 0h1m29 0h1m31 0h2m5 0h1m14 0h2m22 0h1M6 134.5h1m14 0h1m2 0h1m40 0h2m1 0h1m3 0h1m2 0h1m11 0h3m8 0h2m11 0h1m3 0h1m6 0h1m12 0h1m15 0h1m25 0h1m36 0h1m4 0h1M1 135.5h1m41 0h1m3 0h1m7 0h1m9 0h1m10 0h2m9 0h1m8 0h1m13 0h1m2 0h1m2 0h1m34 0h1m3 0h1m18 0h1m13 0h1m9 0h1m16 0h1m11 0h1M7 136.5h1m41 0h1m26 0h1m7 0h1m6 0h2m4 0h1m14 0h1m6 0h2m15 0h1m11 0h1m2 0h1m2 0h2m26 0h1m24 0h1m8 0h1m10 0h1M7 137.5h1m9 0h1m2 0h1m35 0h1m25 0h1m6 0h1m4 0h1m3 0h1m4 0h2m25 0h1m44 0h1m4 0h1M11 138.5h1m7 0h1m15 0h1m17 0h2m13 0h1m3 0h1m11 0h1m7 0h1m21 0h1m3 0h1m2 0h1m17 0h1m1 0h1m2 0h1m1 0h2m34 0h1m20 0h1m15 0h1M6 139.5h1m4 0h1m9 0h1m5 0h3m12 0h1m12 0h1m41 0h2m8 0h1m3 0h1m2 0h2m18 0h1m16 0h1m1 0h1m8 0h1m12 0h1m1 0h1m7 0h1m21 0h1m5 0h1M1 140.5h1m1 0h1m14 0h1m10 0h1m9 0h1m12 0h1m1 0h1m3 0h1m2 0h1m6 0h1m15 0h1m14 0h1m2 0h1m6 0h1m5 0h1m3 0h1m12 0h2m4 0h1m10 0h1m8 0h1m21 0h1m6 0h1m16 0h1m13 0h1M5 141.5h1m9 0h1m19 0h1m18 0h1m29 0h1m15 0h1m10 0h1m2 0h1m6 0h1m11 0h1m16 0h1m4 0h1m37 0h3m13 0h1M13 142.5h1m8 0h1m1 0h1m10 0h1m6 0h1m21 0h1m8 0h1m2 0h1m4 0h1m6 0h2m15 0h1m2 0h1m8 0h1m17 0h1m16 0h1m1 0h2m29 0h1m17 0h1m14 0h1M16 143.5h1m8 0h1m8 0h1m2 0h1m8 0h1m10 0h1m22 0h1m50 0h1m28 0h1m1 0h1m14 0h1m18 0h1m6 0h1m2 0h1M4 144.5h1m10 0h1m1 0h1m4 0h1m3 0h1m9 0h1m21 0h1m4 0h1m18 0h1m13 0h1m2 0h1m3 0h1m3 0h1m2 0h1m8 0h1m12 0h1m1 0h2m22 0h1m2 0h1m26 0h1m15 0h1m3 0h1m5 0h1m11 0h1M1 145.5h1m29 0h1m40 0h1m3 0h1m2 0h1m12 0h3m3 0h1m4 0h2m7 0h2m1 0h1m3 0h1m1 0h2m21 0h2m2 0h1m27 0h1m17 0h1m3 0h1m7 0h1m4 0h1M7 146.5h1m23 0h1m2 0h2m13 0h1m3 0h1m6 0h2m12 0h1m1 0h1m2 0h1m7 0h1m9 0h1m4 0h1m9 0h1m6 0h1m1 0h1m11 0h1m12 0h2m12 0h1m32 0h1m8 0h1m17 0h1M1 147.5h1m2 0h1m26 0h1m6 0h1m17 0h1m21 0h1m11 0h1m4 0h2m1 0h1m4 0h1m13 0h1m16 0h1m11 0h1m4 0h1m3 0h1m1 0h1m33 0h1m27 0h1M3 148.5h1m4 0h1m27 0h1m5 0h1m18 0h1m19 0h1m2 0h1m4 0h2m2 0h1m18 0h1m9 0h1m9 0h1m21 0h1m3 0h1m5 0h1m1 0h1m25 0h2m12 0h1M78 149.5h1m8 0h3m8 0h1m9 0h1m1 0h2m26 0h1m4 0h1m3 0h1m6 0h1m32 0h1m2 0h2m15 0h1m6 0h1m3 0h1m7 0h1M34 150.5h1m26 0h1m2 0h1m14 0h1m28 0h1m8 0h2m11 0h1m1 0h1m22 0h1m2 0h1m5 0h1m10 0h1m8 0h1m18 0h1m10 0h2m10 0h1M14 151.5h1m17 0h1m13 0h1m1 0h1m10 0h1m12 0h1m4 0h1m8 0h1m9 0h1m2 0h1m3 0h1m17 0h1m10 0h1m1 0h1m4 0h1m8 0h1m27 0h1m17 0h1m2 0h1m10 0h1m9 0h3M14 152.5h1m35 0h1m5 0h1m4 0h2m25 0h1m2 0h1m10 0h1m9 0h2m2 0h1m4 0h1m17 0h1m3 0h1m3 0h1m33 0h1m2 0h1m6 0h1m11 0h1m5 0h1m7 0h1M0 153.5h1m6 0h1m2 0h1m16 0h2m14 0h1m8 0h1m19 0h1m10 0h1m23 0h1m6 0h2m1 0h1m22 0h1m16 0h1m4 0h1m2 0h1m15 0h1m11 0h1m13 0h1m10 0h1M10 154.5h1m31 0h1m3 0h1m5 0h2m13 0h1m13 0h1m8 0h1m17 0h1m3 0h2m16 0h1m1 0h1m4 0h3m15 0h1m1 0h1m7 0h1m8 0h1m2 0h1m1 0h1m31 0h1M28 155.5h1m6 0h1m11 0h1m1 0h1m18 0h1m18 0h1m9 0h1m4 0h1m4 0h1m3 0h1m4 0h1m1 0h1m2 0h1m15 0h3m24 0h1m10 0h1m1 0h1m3 0h1m3 0h1m10 0h1m9 0h1m8 0h1m2 0h1M11 156.5h2m16 0h1m24 0h1m6 0h2m3 0h1m5 0h1m8 0h1m12 0h1m58 0h1m1 0h1m7 0h1m14 0h1m30 0h1M3 157.5h1m17 0h1m5 0h1m1 0h1m11 0h1m1 0h1m4 0h1m4 0h1m4 0h1m36 0h1m14 0h1m5 0h1m17 0h1m9 0h2m11 0h1m17 0h1m4 0h1M1 158.5h1m17 0h1m26 0h1m5 0h1m11 0h1m7 0h1m3 0h1m7 0h1m4 0h1m17 0h3m10 0h1m18 0h1m8 0h1m2 0h1m8 0h1m36 0h1m2 0h1M5 159.5h1m16 0h2m1 0h1m32 0h1m4 0h1m2 0h1m2 0h1m4 0h1m11 0h1m1 0h1m5 0h1m5 0h1m16 0h1m26 0h1m17 0h1m28 0h1m1 0h1m7 0h1m2 0h1M27 160.5h1m8 0h1m19 0h1m5 0h1m7 0h1m17 0h1m5 0h1m7 0h1m7 0h4m65 0h3m10 0h1m18 0h1m8 0h1M20 161.5h1m1 0h1m15 0h1m15 0h2m17 0h2m5 0h2m4 0h1m12 0h1m6 0h1m7 0h1m7 0h1m8 0h1m13 0h1m32 0h1m17 0h1M12 162.5h1m2 0h1m3 0h1m10 0h1m4 0h1m9 0h2m22 0h1m2 0h1m11 0h1m5 0h1m6 0h2m5 0h1m29 0h1m1 0h1m15 0h1m32 0h2m9 0h2m1 0h1m7 0h3m1 0h1m3 0h1M4 163.5h1m2 0h1m8 0h1m11 0h3m3 0h1m11 0h2m4 0h1m2 0h1m15 0h1m6 0h1m16 0h1m9 0h1m1 0h1m11 0h1m10 0h1m6 0h1m7 0h1m5 0h1m1 0h1m38 0h1m5 0h1m3 0h1m3 0h1m8 0h1m11 0h1M18 164.5h1m6 0h1m3 0h1m1 0h1m15 0h1m3 0h1m38 0h1m1 0h1m3 0h1m6 0h1m3 0h1m10 0h1m13 0h1m32 0h2m24 0h1m3 0h1m6 0h1m14 0h1M6 165.5h1m12 0h2m15 0h2m7 0h1m3 0h1m10 0h1m14 0h1m19 0h1m14 0h2m1 0h1m4 0h1m13 0h1m5 0h1m5 0h1m13 0h1m5 0h1m14 0h1m1 0h1m5 0h1m5 0h1m1 0h1m16 0h1m1 0h1M9 166.5h1m2 0h1m2 0h2m14 0h1m48 0h1m14 0h1m3 0h1m8 0h1m4 0h1m2 0h1m15 0h1m22 0h1m1 0h1m18 0h1m12 0h1m16 0h1m1 0h1m3 0h1M6 167.5h3m2 0h1m27 0h1m6 0h1m2 0h1m4 0h2m28 0h1m1 0h1m6 0h1m3 0h1m4 0h1m4 0h1m9 0h1m33 0h1m1 0h1m10 0h1m9 0h1m15 0h1m7 0h1m8 0h1m11 0h1M8 168.5h1m4 0h1m8 0h1m6 0h1m6 0h1m1 0h1m11 0h1m3 0h1m2 0h1m2 0h1m6 0h1m6 0h1m1 0h1m3 0h1m4 0h1m21 0h1m7 0h1m1 0h1m17 0h1m17 0h1m9 0h3m13 0h1m5 0h1m1 0h1m5 0h1M13 169.5h1m6 0h2m6 0h1m1 0h1m17 0h1m4 0h1m2 0h1m3 0h1m2 0h1m4 0h1m3 0h1m4 0h1m5 0h1m5 0h1m2 0h1m17 0h2m28 0h1m3 0h1m4 0h1m9 0h1m20 0h1m24 0h1m1 0h2m10 0h1m5 0h1M5 170.5h1m1 0h1m18 0h1m1 0h2m5 0h1m11 0h1m1 0h1m11 0h1m5 0h1m7 0h1m11 0h1m2 0h1m8 0h1m2 0h1m4 0h1m11 0h1m4 0h1m30 0h1m3 0h1m5 0h1m18 0h2m7 0h1m7 0h1m24 0h1M0 171.5h1m9 0h4m6 0h1m1 0h1m16 0h1m1 0h1m2 0h1m5 0h1m7 0h1m2 0h1m9 0h2m5 0h1m13 0h1m1 0h1m27 0h1m7 0h1m8 0h1m23 0h1m36 0h1m4 0h1m1 0h1M19 172.5h1m19 0h1m1 0h1m8 0h1m1 0h1m8 0h1m17 0h1m23 0h1m7 0h1m18 0h1m5 0h1m10 0h1m29 0h1m12 0h1m12 0h2m21 0h1M12 173.5h1m20 0h1m14 0h1m16 0h1m9 0h1m17 0h1m5 0h1m7 0h1m6 0h1m15 0h1m23 0h1m3 0h1m15 0h1m21 0h1m6 0h1m6 0h1m3 0h1M7 174.5h1m2 0h1m5 0h1m13 0h1m16 0h1m9 0h1m6 0h1m3 0h1m8 0h1m15 0h1m1 0h1m12 0h1m12 0h1m8 0h1m5 0h1m22 0h1m5 0h1m10 0h1m1 0h1m17 0h1m8 0h2m20 0h1M3 175.5h1m12 0h1m9 0h1m2 0h2m6 0h1m15 0h1m4 0h1m16 0h2m1 0h1m9 0h1m5 0h1m16 0h1m6 0h2m20 0h1m6 0h1m6 0h1m20 0h1m33 0h1m7 0h3m6 0h1M8 176.5h1m14 0h1m2 0h1m2 0h1m15 0h1m2 0h1m17 0h1m3 0h1m4 0h2m6 0h1m4 0h1m4 0h1m12 0h1m1 0h1m36 0h1m8 0h1m20 0h1m1 0h1m14 0h1m18 0h1M19 177.5h2m41 0h1m4 0h1m2 0h2m6 0h1m16 0h1m12 0h1m4 0h1m5 0h1m13 0h1m3 0h2m5 0h2m38 0h1m24 0h1m10 0h1M4 178.5h2m15 0h2m10 0h1m13 0h1m44 0h1m25 0h1m13 0h2m27 0h2m27 0h1m27 0h1m1 0h1M0 179.5h1m6 0h1m5 0h1m27 0h1m6 0h1m5 0h2m1 0h1m12 0h1m2 0h1m7 0h1m10 0h1m21 0h2m2 0h1m33 0h1m2 0h1m2 0h1m21 0h1m24 0h1m10 0h1M20 180.5h1m8 0h1m3 0h1m12 0h1m11 0h1m10 0h1m15 0h1m1 0h1m3 0h1m2 0h1m1 0h1m2 0h1m1 0h1m5 0h1m1 0h3m43 0h1m2 0h1m15 0h1m13 0h1m4 0h1M3 181.5h1m38 0h1m6 0h1m17 0h1m6 0h1m20 0h1m3 0h1m16 0h2m23 0h1m16 0h1m37 0h1m17 0h1M20 182.5h3m31 0h1m3 0h1m12 0h1m1 0h1m9 0h1m10 0h1m10 0h1m3 0h1m8 0h1m20 0h1m11 0h1m6 0h1m32 0h1m10 0h1m13 0h2m1 0h1m6 0h1M14 183.5h1m3 0h2m29 0h1m14 0h1m1 0h1m9 0h1m6 0h1m3 0h1m19 0h1m23 0h1m2 0h1m2 0h1m6 0h1m12 0h2m17 0h1m1 0h1m37 0h1M20 184.5h1m2 0h1m11 0h1m5 0h1m46 0h1m10 0h1m10 0h1m30 0h1m3 0h1m1 0h1m15 0h1m13 0h1m1 0h1m16 0h1m1 0h1m14 0h1m12 0h2M64 185.5h1m6 0h1m1 0h1m2 0h1m4 0h1m5 0h1m12 0h1m5 0h1m12 0h1m38 0h1m4 0h1m16 0h1m3 0h1m4 0h1m18 0h1m6 0h1M23 186.5h1m13 0h1m25 0h1m12 0h1m10 0h1m19 0h1m1 0h2m8 0h1m12 0h1m7 0h1m12 0h1m23 0h4m3 0h1m3 0h1m8 0h1m1 0h1m3 0h1m6 0h1m14 0h1M7 187.5h1m6 0h1m8 0h1m8 0h1m12 0h1m4 0h1m15 0h3m2 0h1m5 0h1m2 0h1m2 0h1m12 0h1m19 0h1m40 0h1m6 0h1m31 0h1m4 0h1M0 188.5h1m2 0h1m9 0h1m4 0h1m3 0h1m5 0h1m22 0h1m2 0h1m9 0h1m3 0h1m6 0h1m3 0h1m6 0h3m12 0h1m8 0h1m8 0h1m31 0h1m2 0h1m4 0h1m1 0h1m15 0h2m5 0h1m4 0h1m7 0h1m4 0h1m5 0h1m5 0h1M11 189.5h1m13 0h1m8 0h1m9 0h3m8 0h2m10 0h1m5 0h1m8 0h1m10 0h1m19 0h1m20 0h1m1 0h1m2 0h1m5 0h1m9 0h1m2 0h1m23 0h1m1 0h1m2 0h1m20 0h1m4 0h1m4 0h1M4 190.5h1m25 0h1m31 0h1m3 0h1m8 0h1m2 0h1m3 0h2m4 0h1m1 0h1m7 0h1m1 0h1m2 0h1m54 0h1m3 0h1m17 0h1m6 0h1m24 0h1M8 191.5h1m33 0h1m25 0h1m3 0h1m10 0h1m8 0h1m7 0h1m1 0h1m5 0h1m6 0h1m15 0h1m5 0h1m1 0h1m1 0h1m2 0h1m10 0h2m6 0h2m12 0h1m2 0h1m8 0h1m12 0h1m4 0h1m17 0h1M12 192.5h1m4 0h1m3 0h2m6 0h1m37 0h2m11 0h1m13 0h1m9 0h1m2 0h1m11 0h1m12 0h1m6 0h2m17 0h1m16 0h1m24 0h1m19 0h1M27 193.5h1m16 0h1m1 0h1m7 0h1m7 0h1m21 0h2m20 0h1m15 0h2m17 0h1m15 0h1m18 0h1m19 0h1m18 0h1M12 194.5h1m5 0h1m6 0h1m7 0h1m16 0h1m5 0h1m7 0h1m2 0h1m5 0h1m31 0h1m6 0h1m18 0h1m1 0h1m3 0h1m7 0h1m7 0h1m2 0h1m51 0h1M4 195.5h1m13 0h1m16 0h2m4 0h1m12 0h2m10 0h1m8 0h1m3 0h1m3 0h1m8 0h1m8 0h1m9 0h1m21 0h2m20 0h1m2 0h1m24 0h1m11 0h1m14 0h1m4 0h1M7 196.5h1m12 0h1m6 0h1m4 0h1m17 0h1m7 0h1m72 0h1m4 0h1m4 0h1m10 0h1m22 0h1m4 0h1m4 0h1m9 0h1m22 0h1m1 0h1m4 0h1m1 0h1M6 197.5h1m4 0h1m21 0h1m25 0h2m12 0h1m6 0h1m8 0h2m6 0h1m6 0h1m1 0h2m2 0h1m5 0h1m16 0h1m24 0h1m18 0h1m4 0h1m11 0h1m5 0h1m7 0h1m9 0h1M18 198.5h1m1 0h1m5 0h1m4 0h1m4 0h1m24 0h1m1 0h1m13 0h1m9 0h2m1 0h1m1 0h2m38 0h1m29 0h1m29 0h1m14 0h2M11 199.5h1m2 0h1m32 0h1m6 0h1m11 0h1m8 0h2m18 0h1m4 0h1m3 0h1m11 0h1m15 0h1m18 0h1m10 0h1m24 0h1m1 0h1m10 0h1M8 200.5h1m27 0h1m6 0h1m6 0h1m27 0h1m14 0h1m6 0h1m2 0h1m8 0h1m19 0h1m2 0h1m8 0h1m2 0h1M9 201.5h1m3 0h1m2 0h1m3 0h1m30 0h1m22 0h1m1 0h1m4 0h1m1 0h1m1 0h1m2 0h1m1 0h2m2 0h1m95 0h1m18 0h1m16 0h1M3 202.5h1m18 0h1m7 0h1m10 0h1m8 0h1m10 0h1m2 0h1m18 0h1m5 0h2m17 0h1m6 0h1m15 0h1m5 0h1m36 0h1m13 0h1M25 203.5h1m15 0h1m5 0h1m7 0h1m10 0h1m1 0h1m4 0h1m10 0h1m8 0h1m1 0h1m12 0h1m1 0h1m3 0h1m5 0h1m31 0h1m44 0h1M10 204.5h1m32 0h1m5 0h1m3 0h1m6 0h1m11 0h1m3 0h1m6 0h1m3 0h1m2 0h1m10 0h1m16 0h1m3 0h1m22 0h1m29 0h1m46 0h1M7 205.5h1m21 0h1m18 0h1m5 0h2m5 0h1m4 0h1m1 0h1m9 0h1m5 0h1m10 0h1m3 0h1m77 0h1m4 0h1M8 206.5h1m8 0h1m10 0h1m7 0h1m14 0h1m2 0h1m2 0h1m1 0h1m14 0h1m14 0h1m16 0h1m30 0h1m3 0h1M16 207.5h1m15 0h2m10 0h1m2 0h1m4 0h1m1 0h1m3 0h2m7 0h1m5 0h1m2 0h1m3 0h2m7 0h1m31 0h1m22 0h1m50 0h1m30 0h1M10 208.5h1m15 0h1m45 0h1m2 0h1m30 0h1m1 0h1m42 0h1m10 0h1m1 0h1M0 209.5h1m6 0h2m5 0h1m37 0h1m24 0h1m16 0h1m36 0h1M2 210.5h2m25 0h1m5 0h1m7 0h1m6 0h1m18 0h1m6 0h1m9 0h1m2 0h1m7 0h1m32 0h1m28 0h1m16 0h1m18 0h1m28 0h1M7 211.5h1m20 0h1m1 0h1m1 0h1m23 0h1m10 0h1m14 0h2m27 0h1m50 0h1m63 0h1M7 212.5h1m8 0h1m4 0h1m12 0h1m17 0h3m8 0h1m36 0h1m35 0h1m25 0h1m57 0h1M16 213.5h1m4 0h1m31 0h1m25 0h1m13 0h1m10 0h1m7 0h1m42 0h1m6 0h1M4 214.5h1m23 0h1m1 0h1m5 0h1m8 0h1m9 0h1m54 0h1m21 0h1m21 0h1M41 215.5h1m34 0h1m35 0h1m80 0h1m19 0h1m6 0h1M16 216.5h1m1 0h1m3 0h1m2 0h1m2 0h1m1 0h1m7 0h1m83 0h1m7 0h1m3 0h1m71 0h1m5 0h1m2 0h1M37 217.5h1m69 0h1m14 0h1m73 0h1m14 0h1M28 218.5h1m10 0h1m7 0h1m82 0h1m65 0h1m9 0h1m2 0h1M17 219.5h1m14 0h2m31 0h1m42 0h2m38 0h1m13 0h1m11 0h1m32 0h2M13 220.5h1m5 0h1m75 0h1m4 0h1m16 0h1m75 0h1m5 0h1m8 0h1m8 0h1M11 221.5h1m15 0h1m36 0h1m30 0h1m70 0h1m12 0h1m7 0h1m2 0h1m5 0h1m14 0h1m4 0h1M5 222.5h1m11 0h1m11 0h1m31 0h1m13 0h1m13 0h1m11 0h1m9 0h1m5 0h1m21 0h1m37 0h2m25 0h1M1 223.5h1m23 0h1m4 0h2m5 0h1m8 0h1m38 0h1m49 0h1m5 0h2m19 0h1m14 0h1m26 0h1M11 224.5h1m3 0h1m78 0h1m22 0h1m12 0h1m23 0h1m6 0h1m19 0h1m1 0h1m4 0h1m2 0h1m3 0h1m31 0h1M1 225.5h1m14 0h1m13 0h1m115 0h1m7 0h1m21 0h1m26 0h1M16 226.5h1m2 0h1m5 0h1m17 0h1m46 0h1m62 0h1m37 0h1m6 0h1m8 0h1m3 0h1m6 0h1m7 0h1M19 227.5h1m1 0h1m6 0h1m14 0h1m19 0h1m57 0h1m10 0h1m11 0h1m2 0h1m4 0h1m11 0h1m30 0h1M0 228.5h2m3 0h1m21 0h1m12 0h1m11 0h1m1 0h1m3 0h1m5 0h1m11 0h1m9 0h1m1 0h1m3 0h1m22 0h1m23 0h1m10 0h1m12 0h2m34 0h1m26 0h1M7 229.5h1m14 0h1m23 0h1m4 0h1m1 0h1m2 0h1m1 0h2m8 0h1m14 0h1m3 0h1m5 0h1m2 0h1m9 0h1m37 0h1m10 0h1m8 0h1m9 0h1m13 0h1m5 0h2m6 0h1M6 230.5h1m10 0h1m23 0h1m12 0h1m1 0h1m3 0h2m7 0h1m4 0h1m3 0h1m2 0h1m2 0h1m8 0h1m2 0h1m6 0h2m10 0h2m4 0h1m14 0h1m10 0h1m7 0h1m8 0h1m11 0h2m23 0h1m17 0h1M4 231.5h1m19 0h1m10 0h1m18 0h1m4 0h1m12 0h1m7 0h1m8 0h1m1 0h1m8 0h1m41 0h1m4 0h1m41 0h1m2 0h1m9 0h1m12 0h1m3 0h1M25 232.5h1m1 0h1m2 0h1m11 0h1m4 0h1m4 0h1m7 0h1m11 0h1m7 0h1m10 0h1m42 0h1m1 0h1m9 0h1m14 0h1m15 0h1m26 0h1m1 0h1M2 233.5h1m7 0h1m13 0h1m16 0h1m8 0h1m14 0h2m1 0h1m10 0h1m7 0h1m2 0h1m25 0h1m13 0h1m13 0h1m7 0h1m1 0h1m29 0h1m6 0h1m3 0h1m5 0h1m4 0h1M9 234.5h1m26 0h1m4 0h1m19 0h1m3 0h1m5 0h1m1 0h1m1 0h3m2 0h1m11 0h1m16 0h2m5 0h4m24 0h3m31 0h1m32 0h1m5 0h1M3 235.5h2m18 0h1m5 0h1m1 0h1m10 0h1m7 0h1m16 0h1m16 0h1m2 0h1m4 0h1m7 0h1m7 0h1m7 0h3m3 0h1m12 0h1m1 0h1m2 0h1m1 0h1m5 0h2m1 0h1m2 0h1m9 0h1m19 0h1m1 0h1m5 0h1m6 0h1m12 0h2m2 0h1m9 0h2M3 236.5h1m14 0h1m9 0h1m5 0h1m4 0h1m8 0h1m3 0h1m1 0h1m3 0h1m3 0h1m1 0h1m1 0h1m2 0h1m21 0h1m1 0h1m39 0h1m1 0h1m4 0h1m6 0h1m3 0h1m2 0h1m1 0h3m2 0h1m18 0h1m10 0h1m7 0h1m2 0h1m17 0h1M0 237.5h1m13 0h3m15 0h1m1 0h1m8 0h3m24 0h1m1 0h1m6 0h1m3 0h1m3 0h2m32 0h2m7 0h1m4 0h1m4 0h1m51 0h1m9 0h1m16 0h1M12 238.5h1m15 0h1m6 0h1m5 0h1m36 0h1m27 0h1m3 0h1m41 0h1m23 0h3m2 0h1m2 0h1m7 0h1m8 0h1m5 0h1M5 239.5h2m11 0h1m8 0h2m2 0h2m3 0h1m32 0h1m7 0h1m16 0h1m2 0h1m5 0h1m7 0h2m6 0h1m17 0h1m6 0h1m8 0h1m21 0h1m3 0h1m3 0h1m4 0h1m6 0h1m10 0h1m4 0h1M25 240.5h1m31 0h2m14 0h1m6 0h1m11 0h1m2 0h1m15 0h1m23 0h1m8 0h1m6 0h1m11 0h1m31 0h1m2 0h1m7 0h1m19 0h1M1 241.5h1m6 0h3m1 0h1m11 0h1m28 0h1m9 0h1m2 0h1m8 0h1m12 0h1m9 0h1m48 0h1m31 0h1m13 0h1m8 0h1m5 0h1m17 0h1M14 242.5h1m11 0h1m8 0h1m10 0h1m6 0h2m13 0h1m8 0h1m19 0h1m11 0h1m6 0h1m1 0h2m12 0h1m2 0h1m47 0h1m2 0h1m16 0h1m10 0h1m2 0h1M2 243.5h1m1 0h1m2 0h1m13 0h1m14 0h1m18 0h1m11 0h2m9 0h1m4 0h1m4 0h1m1 0h1m5 0h1m18 0h1m6 0h1m14 0h1m19 0h1m20 0h1m10 0h1m7 0h1m12 0h1m8 0h2M20 244.5h1m10 0h1m11 0h1m2 0h1m18 0h1m12 0h2m8 0h2m26 0h1m4 0h1m14 0h1m10 0h1m11 0h1m3 0h1m10 0h1m16 0h2m8 0h2m9 0h1M9 245.5h1m1 0h1m1 0h1m11 0h1m27 0h1m8 0h1m2 0h1m11 0h1m10 0h1m8 0h1m9 0h2m9 0h1m17 0h1m2 0h1m3 0h1m44 0h1m23 0h1m1 0h1M7 246.5h1m10 0h1m18 0h1m5 0h1m10 0h1m11 0h1m12 0h1m8 0h1m6 0h1m11 0h1m8 0h1m47 0h1M0 247.5h1m17 0h1m13 0h1m14 0h2m4 0h1m5 0h1m5 0h1m10 0h1m18 0h2m13 0h1m4 0h1m5 0h1m8 0h1m8 0h1m5 0h1m42 0h1m25 0h1M18 248.5h1m4 0h1m31 0h1m5 0h1m41 0h1m7 0h1m24 0h1m3 0h1m7 0h1m4 0h1m3 0h1m6 0h1m16 0h1m8 0h1m35 0h1M1 249.5h1m26 0h1m38 0h1m19 0h1m3 0h1m15 0h1m14 0h1m9 0h2m8 0h1m10 0h1m21 0h1m15 0h1m13 0h1m1 0h2M28 250.5h1m17 0h1m15 0h1m14 0h1m7 0h1m1 0h1m6 0h1m9 0h1m15 0h1m23 0h1m4 0h1m4 0h1m4 0h1m4 0h1m13 0h2m16 0h1m7 0h1m7 0h1M22 251.5h2m12 0h1m6 0h1m18 0h1m16 0h1m3 0h1m2 0h3m1 0h1m12 0h1m4 0h1m30 0h3m18 0h1m2 0h1m24 0h1m14 0h1M2 252.5h1m5 0h1m7 0h1m2 0h1m4 0h1m4 0h1m17 0h2m3 0h1m1 0h1m12 0h1m6 0h1m25 0h1m7 0h1m28 0h1m10 0h1m10 0h2m18 0h2m15 0h1m3 0h1m1 0h1M24 253.5h1m4 0h2m5 0h1m32 0h1m18 0h1m1 0h1m17 0h1m3 0h2m8 0h1m15 0h1m14 0h1m4 0h1m2 0h1m19 0h1m6 0h1m8 0h1m1 0h1M5 254.5h1m6 0h1m11 0h1m17 0h1m28 0h1m12 0h2m17 0h1m2 0h1m1 0h1m4 0h1m2 0h1m15 0h1m3 0h1m2 0h1m1 0h2m13 0h1m19 0h1m1 0h1m8 0h1m6 0h1m2 0h1m2 0h1m3 0h1m14 0h1m6 0h1M2 255.5h1m9 0h1m7 0h2m3 0h2m2 0h1m10 0h1m6 0h1m27 0h1m5 0h1m11 0h1m8 0h1m1 0h1m5 0h1m30 0h1m12 0h1m4 0h1m1 0h1m13 0h1m8 0h1m3 0h2M30 256.5h1m1 0h1m24 0h1m6 0h1m3 0h1m11 0h1m2 0h2m2 0h1m2 0h2m4 0h1m3 0h1m10 0h1m22 0h1m4 0h3m9 0h1m8 0h1m14 0h1m2 0h1m2 0h1m16 0h1m7 0h1m19 0h1M10 257.5h1m12 0h1m33 0h1m10 0h1m3 0h1m13 0h1m60 0h1m6 0h1m2 0h1m5 0h1m13 0h1m10 0h1m14 0h1m16 0h1M12 258.5h1m9 0h1m5 0h2m2 0h1m27 0h1m22 0h1m1 0h4m3 0h1m6 0h1m3 0h1m13 0h1m35 0h1m6 0h1m23 0h1m4 0h2m19 0h1m8 0h1M0 259.5h1m22 0h1m18 0h1m19 0h1m10 0h1m2 0h1m10 0h1m11 0h1m3 0h2m3 0h1m4 0h1m8 0h1m13 0h1m7 0h1m3 0h1m16 0h1m9 0h1m34 0h1m16 0h1M22 260.5h1m8 0h1m8 0h1m3 0h1m13 0h1m35 0h1m15 0h1m1 0h1m6 0h1m23 0h1m1 0h1m5 0h1m2 0h1m33 0h1m3 0h1m10 0h2m3 0h1M7 261.5h1m19 0h1m5 0h1m2 0h1m11 0h1m7 0h1m17 0h1m4 0h2m11 0h1m9 0h1m1 0h1m7 0h1m9 0h2m22 0h1m15 0h1m2 0h1m18 0h1m2 0h1m5 0h1m23 0h2m1 0h1M1 262.5h1m1 0h1m32 0h1m3 0h1m8 0h1m12 0h1m14 0h1m5 0h1m8 0h1m22 0h1m2 0h1m2 0h1m10 0h1m1 0h2m26 0h1m31 0h1M10 263.5h1m6 0h1m11 0h1m17 0h1m5 0h1m7 0h1m10 0h2m2 0h1m13 0h1m1 0h1m7 0h1m5 0h1m10 0h1m3 0h1m10 0h1m18 0h1m20 0h1m3 0h1m1 0h1m1 0h1m24 0h1m14 0h1m5 0h1M4 264.5h1m15 0h1m1 0h1m6 0h2m8 0h1m4 0h1m16 0h1m21 0h1m6 0h1m3 0h1m9 0h1m33 0h1m4 0h2m4 0h1m27 0h1m7 0h2m8 0h2m1 0h2m1 0h1m4 0h1m13 0h1M10 265.5h1m11 0h1m5 0h1m14 0h1m1 0h1m30 0h2m1 0h1m16 0h1m1 0h1m15 0h1m44 0h1m16 0h1m14 0h1m16 0h1m7 0h1M2 266.5h1m4 0h1m16 0h1m25 0h1m3 0h1m3 0h1m20 0h2m1 0h1m9 0h1m7 0h1m13 0h1m1 0h2m16 0h1m16 0h1m22 0h1m7 0h1m4 0h1m11 0h2m13 0h1M1 267.5h2m10 0h1m27 0h1m1 0h1m1 0h1m38 0h1m9 0h1m3 0h1m11 0h1m4 0h1m4 0h2m28 0h1m4 0h1m1 0h1m29 0h1m17 0h1M16 268.5h1m2 0h1m7 0h2m5 0h1m4 0h1m21 0h1m2 0h1m14 0h1m7 0h1m1 0h1m4 0h1m15 0h2m4 0h2m28 0h1m3 0h1m31 0h1m12 0h1m5 0h2m11 0h1m1 0h1m3 0h1M2 269.5h1m9 0h3m22 0h1m22 0h1m15 0h1m7 0h1m9 0h1m7 0h1m40 0h1m1 0h1m41 0h1m8 0h1m20 0h2M22 270.5h1m27 0h1m3 0h1m9 0h1m20 0h1m12 0h2m4 0h1m6 0h2m14 0h1m3 0h1m9 0h1m4 0h2m3 0h1m13 0h1m11 0h2m13 0h1m3 0h1m9 0h1m2 0h1M17 271.5h1m15 0h1m19 0h1m8 0h1m1 0h1m1 0h1m2 0h1m20 0h1m33 0h1m6 0h1m5 0h1m16 0h1m71 0h1M23 272.5h1m3 0h1m2 0h1m17 0h1m5 0h1m21 0h1m5 0h1m5 0h1m21 0h1m1 0h1m6 0h1m2 0h1m29 0h1m10 0h1m25 0h1m17 0h1m2 0h1m4 0h1m10 0h1M14 273.5h1m2 0h1m7 0h1m11 0h1m20 0h1m15 0h2m3 0h1m9 0h2m10 0h1m4 0h1m10 0h1m1 0h1m7 0h1m25 0h2m2 0h1m19 0h1m2 0h1m20 0h1m4 0h1M22 274.5h1m1 0h1m3 0h1m5 0h1m1 0h1m2 0h1m13 0h2m20 0h1m4 0h1m25 0h2m6 0h1m20 0h1m9 0h2m4 0h1m6 0h1m17 0h1m9 0h1m23 0h1m8 0h1M9 275.5h2m8 0h1m1 0h1m21 0h1m29 0h1m15 0h1m2 0h1m3 0h2m10 0h1m4 0h1m5 0h1m11 0h1m13 0h1m10 0h1m8 0h1m41 0h1M6 276.5h2m14 0h1m8 0h1m8 0h2m2 0h1m21 0h1m3 0h1m6 0h1m20 0h1m16 0h1m31 0h1m28 0h1m18 0h1m3 0h1m6 0h1m9 0h1m2 0h1M1 277.5h1m14 0h1m3 0h1m14 0h1m25 0h1m1 0h1m8 0h1m9 0h1m28 0h2m8 0h1m26 0h1m2 0h1m1 0h1m61 0h2m6 0h1m3 0h1M8 278.5h1m23 0h1m17 0h1m2 0h1m1 0h1m2 0h2m2 0h1m3 0h1m6 0h1m2 0h1m6 0h1m5 0h1m5 0h1m3 0h1m6 0h1m7 0h1m2 0h1m14 0h1m2 0h1m19 0h1m27 0h1M35 279.5h1m11 0h1m1 0h1m30 0h1m6 0h1m24 0h2m2 0h3m3 0h1m9 0h1m3 0h1m2 0h1m1 0h1m19 0h1m16 0h1m7 0h2m7 0h1m13 0h1m7 0h1M18 280.5h2m3 0h1m5 0h1m21 0h1m18 0h1m39 0h2m22 0h1m23 0h1m2 0h1m19 0h1m6 0h1m9 0h1m1 0h3m3 0h1m2 0h1m10 0h1M24 281.5h1m3 0h1m15 0h1m2 0h1m5 0h2m6 0h1m6 0h1m5 0h1m8 0h2m20 0h1m10 0h2m1 0h1m17 0h2m6 0h1m12 0h1m15 0h1m27 0h2m6 0h1m4 0h2m1 0h1M8 282.5h1m1 0h1m3 0h1m60 0h2m1 0h1m6 0h1m20 0h1m13 0h1m20 0h1m1 0h1m8 0h2m9 0h1m2 0h1m8 0h1m11 0h1m11 0h1m11 0h1m2 0h1m11 0h1M21 283.5h1m11 0h1m1 0h1m20 0h1m8 0h1m1 0h2m25 0h1m7 0h1m1 0h1m3 0h1m13 0h1m13 0h1m5 0h1m2 0h1m9 0h1m7 0h1m13 0h1m1 0h1m1 0h1m36 0h1M25 284.5h1m1 0h1m1 0h1m16 0h1m16 0h1m4 0h1m13 0h2m5 0h1m3 0h1m4 0h1m19 0h1m1 0h1m7 0h1m2 0h1m4 0h2m8 0h1m8 0h1m22 0h1m29 0h1m1 0h1m16 0h1M8 285.5h1m6 0h1m8 0h1m5 0h1m14 0h1m18 0h1m11 0h1m1 0h1m3 0h1m8 0h1m9 0h1m2 0h1m1 0h1m13 0h1m18 0h1m8 0h1m4 0h1m1 0h1m19 0h1m4 0h1m20 0h1m18 0h1m6 0h1M3 286.5h1m6 0h2m1 0h1m2 0h1m27 0h1m27 0h1m10 0h1m6 0h1m1 0h2m13 0h1m3 0h1m9 0h1m29 0h1m2 0h1m2 0h1m17 0h2m19 0h1m2 0h1m2 0h1m3 0h1m11 0h1M9 287.5h1m101 0h1m4 0h1m18 0h1m10 0h1m11 0h1m4 0h1m2 0h1m12 0h1m2 0h1m3 0h1m14 0h1m24 0h1M18 288.5h1m25 0h1m17 0h1m4 0h1m2 0h1m7 0h1m10 0h1m5 0h1m8 0h1m5 0h1m33 0h1m8 0h1m1 0h1m8 0h1m26 0h1m3 0h1m12 0h1m2 0h1M15 289.5h2m24 0h1m3 0h1m12 0h1m18 0h1m5 0h1m9 0h1m12 0h1m3 0h1m4 0h1m3 0h1m10 0h1m51 0h1m21 0h1m22 0h1M41 290.5h1m14 0h1m7 0h1m16 0h1m22 0h1m2 0h1m14 0h2m8 0h1m5 0h3m10 0h1m20 0h1m1 0h1m36 0h1m15 0h1M13 291.5h1m13 0h1m11 0h1m12 0h1m6 0h1m1 0h1m12 0h1m14 0h1m20 0h1m1 0h1m5 0h1m22 0h1m11 0h1m10 0h1m41 0h1m7 0h1M46 292.5h1m2 0h1m3 0h1m21 0h1m9 0h2m6 0h1m1 0h1m8 0h1m13 0h1m22 0h1m12 0h2m3 0h1m27 0h1m2 0h1m1 0h1m2 0h1m12 0h1m2 0h1M0 293.5h1m19 0h1m4 0h1m2 0h1m4 0h1m11 0h1m1 0h1m12 0h1m3 0h1m7 0h1m4 0h1m5 0h1m3 0h1m21 0h1m38 0h1m33 0h1m4 0h1m1 0h2m22 0h1M3 294.5h1m4 0h1m16 0h1m32 0h1m5 0h1m5 0h1m22 0h2m1 0h1m4 0h1m11 0h1m17 0h1m8 0h1m8 0h1m12 0h1m42 0h1m5 0h1M0 295.5h1m3 0h1m32 0h1m5 0h1m2 0h1m16 0h2m8 0h1m2 0h1m20 0h1m12 0h2m2 0h1m16 0h2m1 0h1m21 0h2m5 0h1m25 0h1m2 0h1m33 0h1M4 296.5h1m2 0h1m17 0h1m1 0h1m18 0h2m6 0h2m6 0h1m10 0h1m2 0h1m12 0h1m28 0h1m13 0h3m3 0h1m2 0h1m9 0h1m12 0h1m16 0h1m5 0h2m23 0h1M19 297.5h1m2 0h1m1 0h1m36 0h1m6 0h1m19 0h1m4 0h1m6 0h1m32 0h1m8 0h1m4 0h1m3 0h1m4 0h1m6 0h2m6 0h1m4 0h1m15 0h1m8 0h2m5 0h1M18 298.5h1m1 0h2m5 0h1m13 0h1m4 0h1m1 0h1m41 0h1m4 0h1m8 0h1m1 0h1m4 0h1m7 0h1m36 0h1m17 0h1m2 0h1m14 0h1m16 0h1m17 0h1M2 299.5h1m7 0h1m38 0h1m19 0h1m2 0h1m15 0h1m14 0h1m1 0h1m4 0h1m3 0h1m7 0h1m9 0h1m12 0h1m33 0h1m26 0h1m13 0h1M2 300.5h1m12 0h1m6 0h1m7 0h1m5 0h1m2 0h1m8 0h1m12 0h1m2 0h1m7 0h1m2 0h1m8 0h1m4 0h1m1 0h1m1 0h1m1 0h1m12 0h1m7 0h1m24 0h1m1 0h1m3 0h1m5 0h2m19 0h1m15 0h1m11 0h1m6 0h1M9 301.5h1m12 0h1m13 0h2m2 0h1m15 0h1m2 0h1m7 0h2m1 0h1m4 0h1m4 0h1m10 0h2m22 0h4m3 0h1m10 0h1m10 0h1m10 0h1m28 0h1m42 0h1M9 302.5h2m8 0h1m9 0h1m2 0h1m2 0h4m16 0h1m2 0h1m21 0h1m1 0h1m2 0h1m9 0h1m2 0h1m1 0h1m9 0h1m7 0h1m11 0h1m13 0h2m30 0h1m3 0h2m5 0h1m9 0h1m8 0h1m9 0h1m10 0h1M13 303.5h1m18 0h1m7 0h1m13 0h1m7 0h1m9 0h2m1 0h1m7 0h1m4 0h1m3 0h1m1 0h1m4 0h1m6 0h1m23 0h1m31 0h1m19 0h1m4 0h2m16 0h1M4 304.5h1m31 0h1m5 0h1m1 0h1m30 0h1m30 0h1m4 0h1m7 0h1m31 0h1m6 0h1m3 0h1m15 0h1m2 0h1M0 305.5h1m11 0h1m5 0h2m17 0h1m7 0h1m2 0h1m31 0h1m2 0h1m5 0h1m4 0h1m2 0h1m17 0h1m31 0h1m6 0h1m4 0h2m59 0h1M0 306.5h1m13 0h1m1 0h1m2 0h1m13 0h1m1 0h2m10 0h1m23 0h1m25 0h1m5 0h1m2 0h1m9 0h1m2 0h1m12 0h1m1 0h1m5 0h1m41 0h1m2 0h1m16 0h1m1 0h1m1 0h1M17 307.5h1m15 0h1m19 0h1m2 0h1m7 0h1m26 0h1m1 0h1m6 0h1m20 0h1m18 0h1m14 0h1m6 0h1m2 0h1m14 0h1m14 0h1m10 0h1M20 308.5h1m21 0h2m3 0h1m13 0h1m1 0h1m16 0h1m13 0h1m3 0h1m1 0h1m18 0h1m11 0h2m18 0h1m1 0h1m2 0h2m2 0h1m1 0h1m16 0h1m10 0h1m4 0h2m5 0h1m3 0h2m12 0h1m3 0h1M14 309.5h1m6 0h1m3 0h1m5 0h1m4 0h1m1 0h1m11 0h2m6 0h2m1 0h1m3 0h1m1 0h1m21 0h1m12 0h1m15 0h1m17 0h1m41 0h1m1 0h1m21 0h1m12 0h1m4 0h1m6 0h1M0 310.5h1m11 0h1m5 0h1m1 0h1m1 0h1m2 0h1m3 0h1m28 0h1m8 0h1m5 0h1m5 0h1m37 0h1m1 0h1m1 0h1m3 0h1m9 0h2m1 0h1m10 0h1m1 0h1m9 0h2m3 0h1m9 0h1m32 0h1M2 311.5h1m19 0h1m8 0h1m3 0h1m8 0h1m8 0h2m19 0h1m16 0h1m3 0h1m11 0h1m2 0h1m22 0h1m1 0h1m17 0h1m4 0h2m2 0h1m16 0h1m14 0h1m1 0h1m19 0h1M2 312.5h1m1 0h1m11 0h1m8 0h1m26 0h1m7 0h1m23 0h1m47 0h1m31 0h1m19 0h1m29 0h1m11 0h1M9 313.5h1m14 0h1m3 0h2m16 0h1m14 0h1m11 0h1m6 0h1m12 0h1m9 0h1m7 0h1m20 0h1m11 0h1m1 0h1m29 0h1m15 0h2m19 0h1m2 0h1M5 314.5h1m4 0h1m1 0h1m16 0h1m4 0h1m13 0h1m16 0h1m5 0h1m4 0h1m27 0h1m7 0h1m1 0h1m3 0h1m24 0h2m6 0h1m5 0h2m7 0h1m21 0h1m1 0h1m5 0h1m8 0h2M16 315.5h1m13 0h1m4 0h1m14 0h1m6 0h1m14 0h1m6 0h1m8 0h1m4 0h1m6 0h1m1 0h1m1 0h1m5 0h1m23 0h1m22 0h1m5 0h1m22 0h1m28 0h1M0 316.5h1m4 0h1m28 0h1m7 0h1m11 0h1m23 0h1m5 0h1m21 0h1m9 0h1m1 0h1m9 0h1m47 0h1m7 0h1m13 0h1m5 0h1M19 317.5h1m27 0h1m4 0h1m18 0h1m4 0h1m2 0h1m6 0h1m12 0h1m12 0h1m4 0h1m18 0h1m1 0h1m6 0h1m5 0h1m4 0h1m34 0h1m2 0h1m8 0h1m6 0h1m3 0h1M9 318.5h1m8 0h1m27 0h1m4 0h2m4 0h1m6 0h1m7 0h1m8 0h1m9 0h1m2 0h1m15 0h1m6 0h1m2 0h1m3 0h1m6 0h1m2 0h2m3 0h1m14 0h1m8 0h1m20 0h1M1 319.5h1m17 0h1m7 0h1m1 0h1m10 0h2m7 0h1m26 0h1m9 0h1m30 0h1m31 0h1m14 0h1m1 0h1m8 0h1m1 0h1m10 0h1m1 0h1m20 0h1m1 0h1M3 320.5h1m21 0h1m7 0h1m26 0h1m1 0h1m10 0h1m15 0h1m7 0h1m1 0h1m10 0h1m5 0h1m79 0h1M7 321.5h1m1 0h1m6 0h1m14 0h1m24 0h1m7 0h1m20 0h1m4 0h1m15 0h1m4 0h1m3 0h1m2 0h1m1 0h2m8 0h1m8 0h1m7 0h1m5 0h1m10 0h1m13 0h1m18 0h1m20 0h2m5 0h1M0 322.5h1m29 0h1m5 0h1m6 0h1m24 0h1m7 0h1m2 0h1m1 0h1m5 0h1m3 0h2m39 0h1m4 0h1m9 0h1m7 0h1m5 0h1m3 0h1m22 0h1m3 0h1M10 323.5h2m7 0h1m9 0h1m16 0h1m1 0h2m49 0h1m17 0h1m21 0h2m1 0h1m16 0h1m17 0h1m13 0h1m3 0h1m1 0h1m1 0h1M19 324.5h1m29 0h1m6 0h1m17 0h1m1 0h1m1 0h1m10 0h1m17 0h1m3 0h1m24 0h1m14 0h1m1 0h2m2 0h1m5 0h1m1 0h1m8 0h1m1 0h1m1 0h1m32 0h3M5 325.5h1m27 0h1m16 0h1m7 0h1m6 0h1m3 0h1m5 0h1m1 0h1m2 0h1m7 0h1m1 0h1m12 0h1m13 0h1m1 0h1m35 0h1m39 0h1m1 0h1m17 0h1m11 0h1M4 326.5h1m27 0h2m1 0h1m5 0h1m5 0h1m5 0h1m6 0h1m1 0h1m7 0h1m8 0h2m13 0h1m2 0h1m18 0h2m13 0h1m8 0h1m2 0h2m1 0h1m11 0h2m19 0h2m10 0h1m7 0h1m5 0h1m11 0h1M10 327.5h1m8 0h1m3 0h1m12 0h1m18 0h1m1 0h2m24 0h1m8 0h2m2 0h1m1 0h1m3 0h1m30 0h1m3 0h1m18 0h1m6 0h2m18 0h1m1 0h1m10 0h1m8 0h1m3 0h1m2 0h1m7 0h1M15 328.5h1m14 0h1m1 0h1m23 0h1m1 0h1m15 0h1m4 0h1m4 0h1m25 0h1m3 0h1m21 0h1m3 0h1m5 0h1m19 0h1m13 0h2m3 0h1M8 329.5h1m4 0h1m16 0h1m12 0h1m3 0h1m2 0h1m33 0h1m3 0h2m18 0h1m7 0h2m1 0h1m37 0h1m17 0h1m9 0h2m9 0h1m12 0h1m4 0h1M10 330.5h1m1 0h1m1 0h1m15 0h1m8 0h1m9 0h1m9 0h1m8 0h1m10 0h1m5 0h1m6 0h1m9 0h1m4 0h1m3 0h1m1 0h1m5 0h1m21 0h1m44 0h1m20 0h1m11 0h2M14 331.5h1m21 0h4m9 0h1m13 0h1m22 0h2m10 0h1m6 0h1m6 0h1m1 0h1m2 0h1m35 0h1m19 0h1m2 0h1m3 0h1m1 0h1m2 0h1m7 0h2m2 0h1m4 0h1m15 0h1m1 0h1M1 332.5h1m14 0h1m13 0h1m1 0h1m2 0h1m14 0h1m3 0h1m1 0h1m6 0h2m12 0h1m10 0h1m8 0h1m4 0h1m10 0h2m21 0h1m4 0h1m9 0h1m8 0h1m43 0h1m8 0h1m1 0h1m11 0h1M37 333.5h1m4 0h1m7 0h1m30 0h1m22 0h2m11 0h1m3 0h1m12 0h1m14 0h1m42 0h1m3 0h1m12 0h1m2 0h1M1 334.5h1m8 0h1m17 0h1m10 0h1m9 0h1m10 0h1m14 0h1m5 0h1m1 0h1m4 0h2m2 0h1m1 0h1m5 0h1m3 0h1m1 0h1m5 0h1m7 0h1m11 0h2m13 0h1m30 0h1m2 0h1m7 0h1m10 0h2m3 0h1m4 0h1M11 335.5h1m15 0h1m12 0h1m25 0h1m10 0h2m1 0h2m9 0h1m1 0h1m49 0h2m7 0h1m29 0h1m14 0h1m5 0h1m3 0h1M5 336.5h1m5 0h1m6 0h1m11 0h1m5 0h1m2 0h1m20 0h2m14 0h1m21 0h1m15 0h1m27 0h1m2 0h1m8 0h1m2 0h1m18 0h1m4 0h1m6 0h1m6 0h2m16 0h1M1 337.5h1m2 0h1m32 0h2m7 0h2m8 0h1m28 0h1m20 0h1m8 0h1m16 0h1m22 0h1m2 0h1m20 0h1m13 0h1m5 0h1m6 0h1m10 0h1m8 0h1M4 338.5h1m6 0h1m30 0h1m4 0h1m6 0h1m9 0h1m3 0h1m3 0h1m5 0h1m20 0h1m4 0h1m40 0h1m17 0h1m10 0h1m9 0h1m3 0h2m26 0h1M12 339.5h1m6 0h1m5 0h1m30 0h1m10 0h1m10 0h1m3 0h1m11 0h1m4 0h1m4 0h1m1 0h1m8 0h1m23 0h1m17 0h1m7 0h1m21 0h2m1 0h1m35 0h1M28 340.5h1m1 0h1m4 0h1m9 0h1m17 0h1m30 0h1m4 0h2m12 0h1m1 0h1m14 0h1m8 0h3m6 0h1m4 0h1m4 0h1m34 0h1m10 0h1m5 0h1M3 341.5h1m13 0h1m9 0h1m28 0h1m36 0h1m14 0h1m1 0h1m4 0h2m14 0h1m33 0h1m37 0h1m8 0h1M27 342.5h1m24 0h1m9 0h2m1 0h1m21 0h1m11 0h1m2 0h1m2 0h1m3 0h1m43 0h1m8 0h1m16 0h1m4 0h1m2 0h1m14 0h1m14 0h2M1 343.5h1m9 0h1m16 0h1m3 0h1m9 0h1m10 0h1m14 0h1m2 0h1m1 0h1m2 0h1m12 0h1m3 0h1m10 0h1m10 0h1m3 0h1m25 0h3m1 0h1m5 0h1m24 0h1m5 0h1m39 0h1M11 344.5h1m2 0h2m4 0h1m4 0h1m2 0h1m26 0h1m1 0h1m28 0h2m2 0h1m6 0h1m2 0h1m11 0h1m17 0h1m3 0h1m1 0h1m14 0h1m8 0h1m58 0h1m6 0h1M1 345.5h1m27 0h1m1 0h1m16 0h1m1 0h1m7 0h1m2 0h1m6 0h1m1 0h1m1 0h1m7 0h1m7 0h1m4 0h1m1 0h1m8 0h1m4 0h1m1 0h1m24 0h1m10 0h1m6 0h1m3 0h1m1 0h1m3 0h1m14 0h1m7 0h1m10 0h1m4 0h1m22 0h1M5 346.5h1m1 0h1m5 0h1m2 0h1m19 0h1m4 0h1m11 0h1m11 0h1m2 0h1m4 0h1m7 0h1m2 0h2m8 0h2m10 0h1m8 0h1m14 0h1m20 0h1m27 0h1m3 0h1m11 0h1m8 0h1m1 0h1m19 0h1M9 347.5h1m32 0h1m37 0h1m2 0h1m3 0h1m4 0h1m2 0h1m1 0h1m11 0h1m8 0h1m13 0h1m45 0h1m13 0h2M7 348.5h1m20 0h1m9 0h1m9 0h1m5 0h1m28 0h1m1 0h1m2 0h1m1 0h2m2 0h1m1 0h1m9 0h1m3 0h1m7 0h1m27 0h1m2 0h1m5 0h1m30 0h1M2 349.5h1m3 0h1m7 0h1m28 0h2m2 0h1m3 0h1m2 0h1m10 0h1m1 0h1m6 0h1m4 0h1m2 0h1m7 0h1m16 0h1m2 0h1m2 0h1m1 0h1m3 0h1m16 0h2m7 0h2m4 0h1m6 0h2m3 0h1m10 0h1m2 0h1m16 0h1m6 0h1m24 0h1M7 350.5h1m13 0h1m1 0h1m4 0h1m25 0h1m2 0h1m18 0h1m1 0h1m2 0h1m17 0h1m10 0h1m4 0h1m22 0h1m2 0h1m11 0h1m3 0h1m1 0h1m6 0h1m43 0h1m15 0h1M6 351.5h1m10 0h1m11 0h1m4 0h1m7 0h1m35 0h1m4 0h1m3 0h1m2 0h1m2 0h1m8 0h1m6 0h1m4 0h1m22 0h1m6 0h1m1 0h1m1 0h1m37 0h1m5 0h1M8 352.5h1m5 0h1m14 0h1m15 0h1m1 0h1m3 0h1m4 0h1m4 0h1m10 0h1m9 0h1m4 0h1m5 0h1m6 0h1m5 0h1m1 0h1m13 0h1m9 0h1m17 0h1m2 0h1m1 0h2m3 0h1m5 0h1M3 353.5h1m39 0h1m4 0h2m2 0h1m1 0h1m6 0h1m16 0h1m4 0h1m3 0h1m6 0h1m50 0h1m1 0h1m3 0h1m6 0h1m5 0h2m12 0h1m5 0h1m4 0h1m7 0h1M31 354.5h1m20 0h1m7 0h1m5 0h1m5 0h1m6 0h1m18 0h2m11 0h1m31 0h1m7 0h1m2 0h1m11 0h1m17 0h1m8 0h1m12 0h1M17 355.5h1m2 0h1m4 0h1m10 0h1m15 0h1m20 0h1m2 0h1m3 0h1m3 0h2m6 0h1m17 0h1m40 0h1m13 0h1m19 0h1m32 0h1M23 356.5h2m9 0h1m5 0h1m1 0h1m1 0h1m2 0h1m1 0h2m22 0h1m3 0h1m7 0h1m5 0h2m13 0h1m10 0h1m14 0h1m1 0h1m10 0h1m34 0h1m29 0h1m2 0h1M10 357.5h2m1 0h2m19 0h1m7 0h1m11 0h1m5 0h1m11 0h1m2 0h1m11 0h1m7 0h1m2 0h1m13 0h1m19 0h1m33 0h1m18 0h1m29 0h1m11 0h1M7 358.5h1m8 0h1m7 0h1m28 0h1m13 0h1m19 0h1m3 0h1m1 0h1m5 0h1m16 0h1m2 0h1m21 0h1m6 0h1m5 0h1m3 0h1m4 0h2m22 0h1m14 0h2m2 0h1m5 0h1M5 359.5h1m5 0h2m35 0h1m8 0h1m10 0h1m22 0h1m3 0h1m49 0h1m47 0h1m4 0h1m15 0h2m1 0h1M13 360.5h1m8 0h1m1 0h1m29 0h1m9 0h1m4 0h1m6 0h1m1 0h1m4 0h1m1 0h1m21 0h1m2 0h1m9 0h1m8 0h1m23 0h1m45 0h1m1 0h1m24 0h1M16 361.5h1m9 0h1m25 0h2m6 0h1m3 0h1m4 0h1m13 0h1m14 0h2m3 0h1m6 0h1m19 0h1m2 0h1m7 0h1m2 0h1m8 0h1m11 0h2m14 0h1m3 0h1m26 0h1m3 0h1M10 362.5h1m2 0h1m4 0h1m7 0h1m1 0h1m14 0h1m17 0h1m1 0h1m35 0h1m16 0h1m5 0h1m21 0h1m1 0h1m19 0h1m18 0h1m29 0h1m2 0h1M7 363.5h1m2 0h1m29 0h1m1 0h1m2 0h1m1 0h1m1 0h1m8 0h1m9 0h1m3 0h1m22 0h1m6 0h1m10 0h1m7 0h1m10 0h1m7 0h1m4 0h1m16 0h1m15 0h1m3 0h1m4 0h1m8 0h1m2 0h1m9 0h1m17 0h1M2 364.5h1m6 0h1m3 0h1m9 0h1m11 0h1m25 0h1m26 0h1m8 0h2m45 0h2m1 0h1m9 0h1m28 0h1m4 0h1m2 0h1m3 0h1m18 0h1M28 365.5h1m24 0h1m16 0h1m7 0h1m31 0h1m24 0h1m8 0h1m1 0h1m19 0h1m42 0h1m8 0h1M7 366.5h1m2 0h1m8 0h1m4 0h1m36 0h1m1 0h1m7 0h1m3 0h1m1 0h1m2 0h1m3 0h1m3 0h1m1 0h2m11 0h2m38 0h1m44 0h1m2 0h1m6 0h2m4 0h1m1 0h1m8 0h1M0 367.5h1m6 0h1m12 0h1m6 0h1m3 0h2m14 0h1m7 0h1m8 0h1m7 0h1m5 0h1m1 0h1m3 0h1m25 0h1m3 0h1m1 0h1m2 0h1m71 0h1m14 0h1m4 0h2m5 0h1M10 368.5h1m46 0h1m2 0h1m10 0h1m29 0h1m13 0h1m5 0h1m18 0h1m11 0h1m7 0h1m18 0h2"/>
<path stroke="#3e4989" d="M7 0.5h1m23 0h1m3 0h1m19 0h1m26 0h1m7 0h1m5 0h2m12 0h1m4 0h1m17 0h1m2 0h1m8 0h1m81 0h1M31 1.5h1m17 0h1m10 0h1m15 0h1m30 0h1m8 0h1m5 0h1m11 0h1m7 0h1m19 0h1m2 0h1m24 0h1M2 2.5h1m41 0h1m54 0h1m12 0h1m5 0h3m25 0h1m7 0h1m21 0h1m29 0h1M15 3.5h1m37 0h1m9 0h1m3 0h1m8 0h1m1 0h1m6 0h1m9 0h1m14 0h1m9 0h1m17 0h1m4 0h1m7 0h1m5 0h1M20 4.5h1m2 0h1m45 0h1m6 0h1m22 0h1m3 0h1m11 0h1m18 0h1m3 0h1m18 0h1m59 0h1M2 5.5h1m18 0h1m24 0h1m31 0h1m5 0h1m11 0h1m16 0h1m1 0h1m2 0h1m38 0h1M10 6.5h1m7 0h1m10 0h1m34 0h1m16 0h1m14 0h1m9 0h1m2 0h1m26 0h1m20 0h1m5 0h1m10 0h1m15 0h1m14 0h1m2 0h1m1 0h1m16 0h1M2 7.5h1m31 0h1m26 0h1m8 0h1m3 0h1m109 0h1m24 0h1M28 8.5h2m10 0h1m42 0h1m10 0h1m11 0h1m34 0h1m10 0h1m43 0h1m15 0h1M5 9.5h1m38 0h1m2 0h1m6 0h1m75 0h1m30 0h1m28 0h1m4 0h1m13 0h1M1 10.5h1m6 0h1m37 0h1m14 0h1m7 0h1m14 0h1m4 0h1m2 0h1m9 0h1m11 0h1m6 0h1m14 0h1m16 0h1m3 0h1m18 0h1M28 11.5h1m16 0h1m2 0h1m29 0h1m16 0h1m26 0h1m22 0h1m16 0h1m42 0h1M11 12.5h1m4 0h1m2 0h1m16 0h1m10 0h1m12 0h2m2 0h1m65 0h1m24 0h1m1 0h1m21 0h1m10 0h1M3 13.5h1m16 0h1m39 0h1m4 0h1m9 0h1m13 0h1m32 0h1m28 0h1m24 0h1M44 14.5h1m20 0h1m7 0h1m8 0h1m3 0h1m46 0h1m16 0h1m25 0h1m2 0h1M4 15.5h1m10 0h1m12 0h1m2 0h1m11 0h1m6 0h1m4 0h1m6 0h1m27 0h1m5 0h1m5 0h1m5 0h1m67 0h1m1 0h1m40 0h1M20 16.5h1m5 0h1m10 0h1m5 0h1m9 0h1m9 0h2m1 0h1m25 0h1m12 0h1m63 0h1m4 0h1m20 0h1m3 0h1M29 17.5h1m29 0h1m13 0h1m16 0h1m30 0h1m8 0h1m3 0h1m23 0h1M19 18.5h1m33 0h1m12 0h1m2 0h1m6 0h1m1 0h1m31 0h1m3 0h1m3 0h1m36 0h2m49 0h1m3 0h1m2 0h1M16 19.5h1m8 0h1m1 0h1m18 0h1m9 0h1m2 0h1m3 0h1m36 0h1m43 0h1m9 0h1m48 0h1M35 20.5h1m31 0h2m12 0h1m11 0h1m1 0h1m20 0h1m14 0h1m9 0h1m37 0h1m22 0h1m10 0h1M0 21.5h1m9 0h1m14 0h1m8 0h1m8 0h1m28 0h1m10 0h1m75 0h1m1 0h1m23 0h1m11 0h1m29 0h1M57 22.5h1m32 0h1m8 0h1m22 0h1m16 0h1m24 0h1m33 0h1M46 23.5h1m3 0h1m44 0h2m13 0h1m34 0h1m6 0h1m30 0h2m8 0h1m20 0h1M33 24.5h1m27 0h1m9 0h1m16 0h1m1 0h1m12 0h1m8 0h1m21 0h1m20 0h1m40 0h1m9 0h1m6 0h1M7 25.5h1m3 0h1m34 0h1m14 0h1m30 0h1m2 0h1m50 0h1m33 0h1m4 0h1m1 0h1m5 0h1M7 26.5h1m21 0h1m12 0h1m4 0h1m5 0h1m6 0h1m24 0h1m10 0h1m35 0h1m18 0h1m2 0h1m46 0h1m8 0h1m6 0h1m9 0h1M11 27.5h1m15 0h1m31 0h1m4 0h1m1 0h1m2 0h1m17 0h1m7 0h1m21 0h1m35 0h1m3 0h1m41 0h1m6 0h1M2 28.5h1m17 0h1m50 0h1m39 0h1m3 0h1m32 0h1m5 0h1m42 0h1m28 0h1M8 29.5h2m46 0h1m2 0h1m27 0h1m52 0h1m4 0h1m19 0h1m10 0h1m3 0h1m15 0h1M41 30.5h1m21 0h1m22 0h1m17 0h1m10 0h2m45 0h1m6 0h1m14 0h1m3 0h1m19 0h1M1 31.5h2m13 0h1m19 0h1m15 0h1m26 0h1m8 0h1m14 0h1m4 0h1m2 0h1m1 0h1m6 0h1m37 0h1m52 0h1m14 0h1M55 32.5h1m36 0h2m13 0h1m11 0h1m64 0h1m16 0h1M27 33.5h1m3 0h1m11 0h1m17 0h1m20 0h1m5 0h1m43 0h1m8 0h1m3 0h1m7 0h1m2 0h1m7 0h1m38 0h1m8 0h1M45 34.5h1m1 0h1m5 0h1m19 0h1m17 0h1m18 0h1m5 0h1m1 0h1m17 0h1m2 0h1m1 0h1m23 0h1m12 0h1m16 0h1m11 0h1m6 0h1M16 35.5h1m43 0h1m3 0h1m8 0h1m17 0h2m9 0h1m10 0h1m3 0h1m14 0h1m1 0h1m4 0h1m5 0h1m11 0h1m4 0h1m34 0h1m20 0h1M6 36.5h1m32 0h1m5 0h1m1 0h1m4 0h1m30 0h1m26 0h1m9 0h1m9 0h1m8 0h1m24 0h1m44 0h1m5 0h1M10 37.5h1m9 0h1m3 0h1m11 0h1m22 0h1m10 0h1m2 0h1m36 0h1m9 0h1m28 0h1m3 0h1m10 0h1m16 0h1m3 0h1m3 0h1m16 0h1m2 0h1M22 38.5h1m14 0h1m26 0h1m9 0h1m7 0h1m4 0h1m7 0h1m1 0h2m2 0h1m64 0h1m51 0h1M11 39.5h1m22 0h1m20 0h1m52 0h1m53 0h1m32 0h1M1 40.5h1m5 0h1m5 0h1m18 0h1m13 0h1m7 0h1m7 0h2m21 0h1m6 0h1m17 0h1m5 0h1m69 0h1m5 0h1m2 0h1m5 0h1M8 41.5h1m24 0h1m10 0h1m2 0h1m40 0h1m14 0h1m51 0h1m6 0h1m40 0h1M1 42.5h1m22 0h1m18 0h1m10 0h1m5 0h1m6 0h1m18 0h1m11 0h1m11 0h1m6 0h1m27 0h1m10 0h1m2 0h1m53 0h1M2 43.5h1m10 0h1m4 0h1m17 0h2m11 0h1m26 0h1m7 0h1m1 0h1m52 0h1m1 0h1m38 0h1m28 0h1m6 0h1m1 0h1M48 44.5h1m18 0h1m17 0h1m6 0h1m15 0h1m1 0h1m12 0h1m16 0h1m25 0h1m10 0h2m5 0h1m2 0h1m18 0h1m12 0h1M58 45.5h1m10 0h1m17 0h1m19 0h1m2 0h1m1 0h1m3 0h2m20 0h1m19 0h1m47 0h1M3 46.5h1m8 0h1m6 0h1m9 0h1m19 0h1m65 0h1m4 0h1m22 0h1m21 0h1m35 0h1M3 47.5h1m17 0h1m8 0h1m62 0h1m1 0h1m9 0h1m9 0h2m21 0h1m13 0h1m33 0h1m8 0h1m9 0h1M7 48.5h1m16 0h1m11 0h2m45 0h1m3 0h1m14 0h1m18 0h1m15 0h1m43 0h1m7 0h1m15 0h1m5 0h1m15 0h1M59 49.5h1m72 0h1m10 0h1m7 0h1m53 0h1m8 0h1m4 0h1M18 50.5h1m17 0h1m35 0h1m14 0h1m12 0h2m15 0h2m39 0h1m6 0h1m48 0h1M24 51.5h1m2 0h2m2 0h1m43 0h1m11 0h1m25 0h1m32 0h1m15 0h1m13 0h1m12 0h1m19 0h1m17 0h1M7 52.5h1m6 0h1m3 0h1m9 0h1m17 0h1m11 0h1m4 0h1m6 0h1m8 0h1m7 0h1m1 0h1m12 0h1m8 0h1m25 0h1m4 0h1m18 0h2m19 0h1m4 0h1m4 0h1m5 0h1m2 0h1m25 0h1M9 53.5h1m6 0h1m1 0h1m20 0h1m5 0h1m3 0h1m11 0h1m13 0h1m28 0h1m14 0h1m2 0h1m25 0h1m6 0h1m7 0h1m11 0h1m36 0h1M19 54.5h1m19 0h1m10 0h1m25 0h1m22 0h1m7 0h1m25 0h1m18 0h1m12 0h1m36 0h1m6 0h1m1 0h1m5 0h1M39 55.5h1m10 0h1m35 0h1m4 0h1m40 0h1m29 0h1m1 0h1m42 0h1M2 56.5h1m26 0h1m28 0h1m5 0h1m14 0h1m17 0h1m41 0h1m9 0h1m4 0h1m3 0h1m19 0h1m12 0h1m34 0h1M17 57.5h1m6 0h1m22 0h1m26 0h1m10 0h1m21 0h2m13 0h1m9 0h1m3 0h1m44 0h2m5 0h1m10 0h1m6 0h1M13 58.5h1m7 0h1m10 0h1m12 0h1m42 0h1m2 0h1m1 0h2m59 0h1m19 0h1m24 0h2m4 0h1M18 59.5h1m20 0h1m18 0h1m21 0h1m6 0h1m8 0h1m12 0h1m7 0h1m14 0h1m12 0h1m41 0h1M18 60.5h1m10 0h1m25 0h1m1 0h1m2 0h1m18 0h1m24 0h1m11 0h1m41 0h1m33 0h1M25 61.5h1m6 0h1m33 0h1m36 0h1m8 0h1m3 0h1m19 0h1m4 0h1m84 0h1M21 62.5h1m15 0h1m12 0h1m4 0h1m19 0h1m8 0h1m15 0h1m6 0h1m6 0h2m27 0h1m47 0h2m17 0h1M18 63.5h1m18 0h1m16 0h1m15 0h1m9 0h1m2 0h1m3 0h1m15 0h1m36 0h1m25 0h1m29 0h1m5 0h1m14 0h1M1 64.5h1m19 0h1m31 0h1m35 0h2m10 0h1m6 0h1m6 0h1m23 0h1m1 0h1m5 0h1m7 0h1m42 0h1m11 0h1M21 65.5h1m15 0h1m8 0h1m38 0h2m5 0h1m23 0h1m33 0h1m2 0h1m24 0h1M37 66.5h1m4 0h1m3 0h1m1 0h1m16 0h2m5 0h1m3 0h1m22 0h1m10 0h1m26 0h1m44 0h1M45 67.5h1m42 0h2m12 0h1m12 0h1m16 0h1m8 0h1m12 0h2m35 0h1m18 0h1M4 68.5h1m4 0h1m6 0h1m2 0h2m3 0h1m2 0h1m8 0h1m35 0h2m3 0h1m7 0h1m7 0h1m13 0h1m4 0h1m21 0h1m11 0h1m15 0h1m41 0h1M81 69.5h1m28 0h1m95 0h1M1 70.5h1m1 0h1m4 0h1m72 0h1m25 0h1m2 0h1m8 0h1m2 0h1M21 71.5h1m3 0h1m11 0h1m4 0h1m1 0h1m3 0h1m13 0h1m36 0h1m51 0h1m6 0h1m4 0h1m15 0h1m19 0h1M6 72.5h1m42 0h1m2 0h1m3 0h1m5 0h1m17 0h1m10 0h1m40 0h2m17 0h2m10 0h1m17 0h1m13 0h1m12 0h1m8 0h1m9 0h1M20 73.5h1m4 0h1m10 0h1m14 0h1m4 0h1m33 0h1m15 0h1m29 0h1m2 0h1m11 0h1m13 0h1m29 0h1m13 0h1M21 74.5h1m28 0h1m10 0h1m11 0h1m6 0h1m13 0h1m10 0h1m5 0h2m27 0h1m4 0h1m8 0h1m7 0h1m19 0h1M5 75.5h1m6 0h1m3 0h1m7 0h1m2 0h1m1 0h1m3 0h1m19 0h1m21 0h2m10 0h1m2 0h1m14 0h1m4 0h1m63 0h1m14 0h1m7 0h1m8 0h2m8 0h1m2 0h1M24 76.5h1m50 0h1m23 0h1m3 0h3m3 0h1m32 0h1m5 0h1m5 0h1m7 0h1m22 0h1m9 0h1m10 0h1M25 77.5h1m3 0h1m16 0h1m6 0h1m14 0h1m1 0h1m17 0h1m3 0h1m1 0h1m7 0h1m12 0h1m20 0h1m18 0h2M66 78.5h1m5 0h1m9 0h1m10 0h1m17 0h1m3 0h1m20 0h1m2 0h2m79 0h1M22 79.5h1m5 0h1m17 0h1m3 0h1m21 0h1m14 0h1m93 0h1m10 0h1m18 0h1m4 0h2M93 80.5h1m21 0h1m35 0h1m38 0h1m3 0h1m31 0h1M42 81.5h1m91 0h1m10 0h1m1 0h1m7 0h1m4 0h1m18 0h1m7 0h1m31 0h1M50 82.5h1m53 0h1m27 0h1m63 0h1m21 0h1M12 83.5h1m10 0h1m22 0h1m5 0h1m5 0h1m5 0h1m8 0h1m11 0h1m1 0h1m3 0h1m11 0h1m10 0h1m17 0h1m3 0h1m48 0h1m19 0h1m4 0h1m16 0h1M48 84.5h1m4 0h1m7 0h2m13 0h1m22 0h1m15 0h1m68 0h1m5 0h1m26 0h1m9 0h1M5 85.5h1m13 0h2m21 0h1m26 0h1m40 0h1m3 0h1m1 0h1m8 0h1m56 0h1m3 0h1m39 0h1M22 86.5h1m15 0h1m38 0h1m28 0h1m27 0h1m4 0h1m3 0h2m30 0h1m5 0h1m45 0h1M16 87.5h1m32 0h1m2 0h2m2 0h1m19 0h1m5 0h1m1 0h1m4 0h2m2 0h1m16 0h1m2 0h1m101 0h3M19 88.5h1m21 0h1m13 0h1m9 0h1m10 0h1m12 0h1m1 0h1m15 0h1m8 0h1m27 0h2m4 0h1m2 0h2m23 0h1m25 0h1m1 0h1m19 0h1M9 89.5h1m49 0h1m3 0h1m8 0h1m4 0h1m13 0h1m11 0h1m58 0h1m51 0h1m3 0h1M7 90.5h1m10 0h1m3 0h1m2 0h1m4 0h1m33 0h1m7 0h1m23 0h1m49 0h1m6 0h1m2 0h1m1 0h1m22 0h1m23 0h1M19 91.5h1m7 0h1m23 0h1m10 0h1m8 0h1m32 0h1m4 0h1m10 0h1m53 0h1m7 0h1M49 92.5h1m1 0h1m17 0h1m5 0h2m4 0h1m10 0h1m10 0h1m18 0h1m64 0h1m2 0h1M11 93.5h1m6 0h1m17 0h1m18 0h1m2 0h1m29 0h1m2 0h1m7 0h1m7 0h1m5 0h1m2 0h1m38 0h1m22 0h1m12 0h1m6 0h1m6 0h1m4 0h1m1 0h1M13 94.5h1m10 0h1m35 0h2m8 0h1m8 0h1m13 0h1m1 0h1m8 0h1m29 0h1m4 0h1m7 0h1m31 0h1m4 0h1m7 0h1m12 0h1M4 95.5h1m16 0h2m8 0h1m14 0h1m5 0h1m23 0h1m8 0h1m2 0h1m12 0h1m7 0h1m4 0h1m21 0h1m14 0h1m3 0h1m35 0h1m11 0h1m1 0h1m6 0h1M11 96.5h1m11 0h1m29 0h1m11 0h2m5 0h1m20 0h1m11 0h1m4 0h1m3 0h1m11 0h1m9 0h1m2 0h1m7 0h1m3 0h1m3 0h1m39 0h1m30 0h1M22 97.5h1m32 0h1m47 0h1m1 0h1m9 0h2m30 0h1m56 0h1m21 0h1M36 98.5h1m41 0h1m1 0h1m8 0h1m5 0h1m3 0h1m3 0h1m8 0h1m21 0h1m11 0h1m13 0h1m57 0h1M24 99.5h1m18 0h1m1 0h1m26 0h1m78 0h1m28 0h2m30 0h1M2 100.5h1m46 0h2m13 0h1m5 0h1m2 0h1m2 0h1m8 0h2m6 0h1m17 0h1m9 0h1m11 0h2m10 0h1m18 0h2m26 0h1M39 101.5h1m3 0h1m16 0h1m7 0h1m3 0h1m15 0h1m26 0h3m45 0h1m19 0h1m21 0h1m6 0h1M21 102.5h2m5 0h1m4 0h1m1 0h1m23 0h1m3 0h1m16 0h1m6 0h1m6 0h1m9 0h1m3 0h1m31 0h1m48 0h1m14 0h1m7 0h2m9 0h1M23 103.5h1m1 0h1m107 0h1m9 0h1m7 0h1m39 0h1M28 104.5h1m15 0h1m16 0h1m4 0h1m1 0h1m30 0h1m3 0h1m3 0h1m13 0h1m18 0h1m78 0h1M8 105.5h1m30 0h1m7 0h1m12 0h1m11 0h1m24 0h1m15 0h1m20 0h1m10 0h1m5 0h1m2 0h1m8 0h1m2 0h1m13 0h1M8 106.5h1m1 0h1m44 0h1m8 0h2m13 0h1m16 0h1m3 0h1m13 0h1m4 0h1m30 0h1m4 0h1m39 0h1M13 107.5h1m31 0h1m13 0h1m10 0h1m2 0h1m4 0h1m10 0h1m5 0h1m19 0h1M7 108.5h1m2 0h2m1 0h1m19 0h1m5 0h1m52 0h1m3 0h1m24 0h1m14 0h1m48 0h1M2 109.5h1m13 0h1m12 0h1m4 0h1m24 0h1m21 0h1m4 0h1m5 0h1m4 0h1m20 0h1m2 0h1m15 0h1m9 0h1m3 0h1m1 0h1m30 0h1m41 0h1M87 110.5h1m9 0h1m5 0h1m5 0h1m1 0h1m15 0h1m39 0h1M6 111.5h1m22 0h1m2 0h1m28 0h1m8 0h1m33 0h1m14 0h1m24 0h1m5 0h1M4 112.5h1m2 0h1m20 0h1m11 0h1m11 0h1m8 0h1m26 0h1m13 0h1m11 0h2m5 0h1m11 0h1m24 0h1m7 0h1m10 0h1m8 0h1m9 0h1M5 113.5h1m7 0h1m20 0h1m4 0h1m5 0h1m7 0h1m20 0h1m8 0h1m6 0h1m1 0h1m4 0h1m1 0h1m32 0h1m10 0h1m22 0h1m6 0h1m2 0h1m13 0h1M26 114.5h1m12 0h2m11 0h1m25 0h1m28 0h1m7 0h1m31 0h1m54 0h1m7 0h1m8 0h1M25 115.5h1m30 0h1m4 0h1m17 0h1m12 0h1m7 0h1m29 0h1m25 0h1m28 0h1m17 0h1M7 116.5h1m8 0h1m2 0h2m28 0h1m5 0h1m40 0h1m6 0h1m6 0h1m11 0h1m33 0h1m42 0h1m1 0h1M59 117.5h1m7 0h1m8 0h2m6 0h1m19 0h1m2 0h1m2 0h1m54 0h1m33 0h1m13 0h1M27 118.5h1m8 0h1m11 0h1m14 0h1m12 0h1m12 0h1m3 0h1m23 0h1m13 0h1m3 0h1m24 0h1m1 0h2m2 0h1m24 0h1M45 119.5h1m32 0h1m9 0h1m10 0h1m7 0h1m2 0h1m25 0h1m41 0h1m6 0h1m34 0h1M26 120.5h1m7 0h1m7 0h1m2 0h1m93 0h2m24 0h1m19 0h1m10 0h1m22 0h1M4 121.5h1m11 0h1m19 0h1m9 0h1m7 0h1m3 0h1m3 0h1m6 0h2m24 0h1m5 0h1m5 0h1m25 0h1m52 0h1m6 0h1m2 0h1M39 122.5h1m24 0h1m8 0h1m30 0h1m9 0h1m35 0h1m8 0h1m48 0h1M3 123.5h1m3 0h1m20 0h1m10 0h1m2 0h1m2 0h1m3 0h1m12 0h1m7 0h1m21 0h1m2 0h1m37 0h1m11 0h1m12 0h1M8 124.5h1m16 0h1m25 0h1m3 0h1m28 0h1m47 0h2m19 0h1m44 0h1m14 0h1M10 125.5h1m22 0h1m1 0h1m11 0h1m32 0h1m63 0h1m6 0h1m3 0h1m2 0h1m16 0h1m15 0h1M48 126.5h1m25 0h1m11 0h1m12 0h1m12 0h1m2 0h1m21 0h1m15 0h1m21 0h1m39 0h1M34 127.5h1m4 0h1m14 0h1m5 0h1m3 0h1m36 0h1m1 0h1m6 0h1m33 0h1m16 0h1m27 0h1m21 0h1m6 0h1M30 128.5h1m30 0h1m25 0h1m75 0h1m20 0h1m17 0h1M5 129.5h1m52 0h1m19 0h1m10 0h1m13 0h1m15 0h1m26 0h1m34 0h1m5 0h1M5 130.5h1m50 0h1m54 0h2m30 0h1m6 0h1m6 0h1M2 131.5h1m11 0h1m13 0h1m19 0h1m54 0h1m9 0h1m19 0h1m14 0h1m9 0h1m36 0h1m4 0h1m2 0h1M11 132.5h1m73 0h1m25 0h1m32 0h1m3 0h1m7 0h1m2 0h1m5 0h1m8 0h1m9 0h1m1 0h1m13 0h1m1 0h1M5 133.5h1m5 0h1m49 0h1m1 0h1m16 0h1m17 0h2m19 0h3m10 0h1m23 0h1m5 0h1m34 0h1m8 0h1M30 134.5h1m4 0h1m10 0h1m2 0h1m12 0h1m16 0h1m27 0h1m6 0h1m21 0h1m3 0h2m5 0h1m12 0h1m26 0h2m13 0h1M8 135.5h1m13 0h1m23 0h1m9 0h1m4 0h1m6 0h1m4 0h1m15 0h1m51 0h1m11 0h1m2 0h1m6 0h1m16 0h1m2 0h1m8 0h1m6 0h1m11 0h1M1 136.5h1m23 0h1m3 0h1m11 0h1m52 0h1m1 0h1m13 0h1m3 0h1m34 0h1m56 0h1M4 137.5h1m21 0h1m3 0h2m26 0h1m4 0h1m4 0h1m37 0h1m15 0h1m17 0h1m3 0h2m20 0h1m33 0h2m16 0h1M2 138.5h1m11 0h1m9 0h1m15 0h1m4 0h1m17 0h2m25 0h1m4 0h1m12 0h1m3 0h1m2 0h1m1 0h1m4 0h1m69 0h1M5 139.5h1m6 0h1m17 0h1m2 0h1m3 0h1m6 0h3m14 0h1m19 0h1m4 0h1m31 0h1m3 0h1m27 0h1m42 0h1m24 0h1M2 140.5h1m7 0h1m4 0h1m6 0h1m19 0h1m60 0h1m58 0h1m30 0h1M1 141.5h1m25 0h1m11 0h1m19 0h1m6 0h1m5 0h1m2 0h2m4 0h1m7 0h1m2 0h1m1 0h1m17 0h1m30 0h2m11 0h1m28 0h1m33 0h2m5 0h1M8 142.5h1m49 0h1m3 0h1m3 0h1m3 0h1m8 0h1m15 0h1m2 0h1m32 0h1m60 0h1m5 0h1m5 0h1M3 143.5h1m6 0h1m24 0h1m9 0h1m1 0h1m7 0h1m11 0h1m3 0h1m3 0h1m15 0h1m40 0h1m7 0h1m2 0h1m1 0h1m34 0h1m6 0h1m25 0h1m5 0h1m7 0h1M7 144.5h1m5 0h1m10 0h1m5 0h1m33 0h1m30 0h1m8 0h1m4 0h1m39 0h1m59 0h1M3 145.5h1m32 0h1m11 0h2m12 0h1m7 0h1m2 0h1m9 0h1m23 0h1m24 0h1m3 0h1m18 0h1m43 0h1m16 0h1M33 146.5h1m5 0h1m6 0h1m3 0h1m17 0h1m20 0h1m2 0h2m9 0h1m7 0h1m5 0h1m30 0h1m31 0h1m11 0h1m23 0h1M21 147.5h1m17 0h1m34 0h1m5 0h1m5 0h1m2 0h1m4 0h1m2 0h1m18 0h1m1 0h1m33 0h2m8 0h1m23 0h1m2 0h1m14 0h1m1 0h1M7 148.5h1m57 0h2m6 0h1m29 0h1m7 0h1m4 0h2m2 0h1m35 0h2M0 149.5h1m25 0h1m1 0h1m10 0h1m6 0h1m4 0h1m11 0h1m7 0h1m45 0h1m3 0h1m11 0h1m17 0h2m48 0h1m9 0h1m15 0h1M18 150.5h1m20 0h1m14 0h1m17 0h1m4 0h1m4 0h1m24 0h1m36 0h1m14 0h1m44 0h1m2 0h1M3 151.5h1m7 0h1m8 0h1m52 0h1m4 0h1m27 0h1m8 0h1m28 0h1m39 0h1m41 0h1M5 152.5h1m33 0h1m12 0h1m10 0h1m4 0h1m6 0h2m41 0h2m31 0h1m22 0h1m1 0h1M19 153.5h1m62 0h1m20 0h1m40 0h1M20 154.5h1m26 0h1m14 0h1m8 0h1m34 0h1m42 0h1m10 0h1m20 0h1m16 0h1m5 0h1m5 0h1m16 0h1M14 155.5h1m68 0h1m11 0h1m36 0h1m1 0h1m10 0h1m7 0h1m11 0h1m54 0h1m5 0h1M5 156.5h1m7 0h1m14 0h1m29 0h1m8 0h1m7 0h1m20 0h2m6 0h1m1 0h1m9 0h1m1 0h1m20 0h1m9 0h1m14 0h1m23 0h1m7 0h1m5 0h1M11 157.5h1m13 0h1m9 0h1m55 0h1m7 0h1m11 0h1m2 0h2m24 0h1m12 0h2m19 0h1m6 0h1m2 0h1m3 0h1m26 0h1m10 0h1M6 158.5h1m1 0h1m1 0h1m49 0h1m7 0h1m42 0h1m10 0h1m13 0h1m4 0h1m2 0h1m1 0h2M31 159.5h1m16 0h1m24 0h1m28 0h1m86 0h1M66 160.5h1m1 0h1m3 0h1m10 0h1m3 0h1m9 0h1m19 0h1m27 0h1m1 0h1m30 0h1m30 0h1m8 0h1M10 161.5h1m4 0h1m23 0h1m16 0h1m75 0h1m7 0h1m3 0h1m6 0h1m1 0h1m2 0h1m43 0h1m7 0h1m17 0h1M5 162.5h1m33 0h1m12 0h1m23 0h1m18 0h1m14 0h1m63 0h1M13 163.5h1m13 0h1m15 0h1m4 0h1m39 0h1m3 0h1m6 0h1m4 0h1m31 0h1m10 0h1m20 0h1m18 0h1M13 164.5h1m5 0h1m32 0h1m7 0h1m12 0h1m14 0h2m9 0h1m53 0h1m5 0h1m41 0h1M4 165.5h1m9 0h1m8 0h1m43 0h1m3 0h1m2 0h1m3 0h3m25 0h1m50 0h1m17 0h1m8 0h1M32 166.5h2m38 0h1m19 0h1m13 0h1m10 0h1m19 0h1m18 0h1m2 0h1m27 0h1m10 0h1m19 0h1M28 167.5h1m49 0h1m12 0h1m30 0h1m70 0h1m2 0h1M0 168.5h1m2 0h1m23 0h2m24 0h1m4 0h1m6 0h1m11 0h1m3 0h1m7 0h1m40 0h1m7 0h1m15 0h2m19 0h1m20 0h1m15 0h1M19 169.5h1m2 0h1m3 0h1m31 0h1m10 0h1m1 0h1m21 0h1m9 0h1m8 0h1m19 0h1m21 0h1m23 0h2m1 0h1M2 170.5h1m28 0h1m34 0h1m9 0h1m1 0h1m4 0h1m19 0h1m9 0h1m18 0h1m12 0h1m60 0h1M76 171.5h1m12 0h1m9 0h1m11 0h1m1 0h1m1 0h1m16 0h1m31 0h1m14 0h1m29 0h1m3 0h1M23 172.5h1m22 0h1m54 0h1m35 0h1m6 0h1m19 0h1m55 0h1M1 173.5h1m18 0h1m30 0h1m51 0h1m28 0h1m6 0h2m3 0h1m3 0h1m4 0h1m37 0h1m17 0h1M42 174.5h1m3 0h1m12 0h1m10 0h1m9 0h1m5 0h2m1 0h1m14 0h1m8 0h1m2 0h1m5 0h1m23 0h1m27 0h1M4 175.5h1m5 0h1m60 0h2m11 0h1m1 0h1m4 0h1m13 0h1m7 0h2m29 0h1m1 0h1m19 0h1m23 0h1m19 0h1M18 176.5h1m13 0h1m27 0h1m26 0h1m4 0h1m16 0h1m48 0h1m26 0h1m20 0h1m7 0h1m3 0h1M34 177.5h1m7 0h1m2 0h1m13 0h1m27 0h1m22 0h1m43 0h1m1 0h1m19 0h1m3 0h1m5 0h1m39 0h1M10 178.5h1m29 0h1m21 0h1m1 0h1m13 0h1m18 0h1m12 0h1m10 0h1m36 0h1m1 0h1m19 0h1m6 0h1m3 0h1m13 0h1M18 179.5h1m13 0h1m2 0h1m9 0h1m3 0h1m15 0h1m8 0h1m5 0h1m12 0h1m16 0h1m10 0h1m8 0h1m8 0h1m7 0h1m5 0h1m11 0h1m22 0h1M27 180.5h1m11 0h1m4 0h1m2 0h1m6 0h1m16 0h1m3 0h2m2 0h1m1 0h1m11 0h1m10 0h1m16 0h1m34 0h1m3 0h1m3 0h1m19 0h1m10 0h1m10 0h1M20 181.5h1m19 0h1m4 0h1m9 0h1m15 0h1m3 0h1m8 0h1m25 0h1m3 0h1m19 0h1m16 0h1m35 0h1m3 0h1m20 0h1M2 182.5h1m8 0h1m32 0h1m3 0h1m1 0h1m1 0h1m46 0h1m1 0h1m5 0h1m24 0h1m21 0h1m8 0h2m20 0h1m10 0h1M3 183.5h1m8 0h1m35 0h1m50 0h1m10 0h1m52 0h1m10 0h1m17 0h1m2 0h1m8 0h1m1 0h2m1 0h1M0 184.5h1m14 0h1m6 0h1m14 0h2m6 0h1m11 0h1m10 0h1m5 0h1m12 0h1m24 0h1m19 0h1m29 0h1m12 0h1m38 0h1M3 185.5h1m31 0h1m5 0h1m5 0h1m6 0h1m7 0h1m17 0h1m34 0h1m35 0h1m24 0h1m5 0h1m10 0h1m32 0h1M8 186.5h1m4 0h2m11 0h1m8 0h1m11 0h1m9 0h1m53 0h1m29 0h1m6 0h1m15 0h1m11 0h1m9 0h1m4 0h1M1 187.5h1m27 0h1m64 0h2m3 0h1m3 0h1m14 0h1m17 0h1m13 0h1m18 0h1m11 0h1m4 0h1m2 0h1M49 188.5h1m43 0h2m17 0h1m35 0h1m26 0h1m15 0h1m18 0h1M19 189.5h2m8 0h1m18 0h1m4 0h1m23 0h1m12 0h1m9 0h1m60 0h1m16 0h2m23 0h1m2 0h1m7 0h1M20 190.5h1m31 0h1m7 0h1m16 0h1m28 0h1m4 0h1m24 0h1m4 0h1m3 0h1m46 0h1M0 191.5h1m5 0h1m29 0h1m17 0h1m5 0h1m8 0h1m6 0h1m7 0h2m21 0h1m2 0h1m2 0h1m47 0h1m16 0h1m24 0h1m10 0h1M7 192.5h1m2 0h2m1 0h1m38 0h2m6 0h2m31 0h1m3 0h1m10 0h1m3 0h2m3 0h1m3 0h1m15 0h1m43 0h1m13 0h1m31 0h1M20 193.5h1m43 0h1m3 0h1m8 0h1m5 0h1m2 0h1m24 0h2m8 0h1m23 0h1m7 0h1m6 0h1m49 0h1m9 0h1M40 194.5h1m59 0h1m12 0h1m29 0h1m61 0h1M21 195.5h1m9 0h1m8 0h1m32 0h1m2 0h1m17 0h1m36 0h1m11 0h1m22 0h1m12 0h1m10 0h1m5 0h2m10 0h1m5 0h1M4 196.5h1m3 0h1m2 0h1m2 0h1m4 0h1m2 0h1m17 0h1m1 0h1m31 0h1m10 0h1m8 0h2m2 0h1m33 0h1m69 0h1M35 197.5h1m5 0h1m11 0h1m8 0h1m3 0h1m34 0h1m6 0h1m22 0h2m15 0h1m3 0h2m24 0h1m5 0h1m11 0h1m4 0h2m6 0h2M34 198.5h1m41 0h1m14 0h1m39 0h1m16 0h1m4 0h1m9 0h1m29 0h1m19 0h1M5 199.5h1m10 0h1m3 0h1m8 0h1m9 0h1m2 0h1m20 0h2m42 0h2m44 0h1m4 0h1m5 0h1m26 0h1M31 200.5h1m1 0h1m13 0h1m10 0h1m1 0h1m2 0h1m2 0h1m24 0h2m29 0h1m16 0h1m3 0h1m16 0h1m3 0h1m21 0h1M52 201.5h2m57 0h1m10 0h1m9 0h1m7 0h1m20 0h1M19 202.5h1m1 0h1m6 0h1m5 0h1m18 0h1m19 0h1m6 0h1m40 0h1m30 0h1m10 0h1m16 0h1m14 0h1m5 0h1m18 0h1M2 203.5h1m101 0h1m8 0h1m17 0h1m7 0h1m15 0h1m2 0h1m6 0h1m9 0h1m50 0h1M24 204.5h1m3 0h1m4 0h2m24 0h1m1 0h1m6 0h1m2 0h1m1 0h2m3 0h1m56 0h1m18 0h1m1 0h2m5 0h1m17 0h1m5 0h1m2 0h2m34 0h1M10 205.5h1m11 0h1m19 0h1m30 0h1m19 0h1m16 0h1m25 0h1m26 0h1m23 0h1M32 206.5h1m53 0h1m8 0h1m15 0h1m3 0h1m14 0h1m9 0h1m22 0h1M63 207.5h1m8 0h1m1 0h1m15 0h1m13 0h1m4 0h1m9 0h1m30 0h1m11 0h1M2 208.5h1m17 0h1m2 0h1m18 0h1m21 0h1m29 0h2m58 0h1m62 0h1M22 209.5h1m41 0h1m38 0h1m6 0h1m104 0h1M1 210.5h1m7 0h1m2 0h1m36 0h1m14 0h1m14 0h1m12 0h1m67 0h1m16 0h1m4 0h1m1 0h1m9 0h1M3 211.5h1m11 0h1m65 0h1m4 0h1m49 0h1m2 0h1m23 0h1m31 0h1M23 212.5h1m33 0h1m3 0h1m31 0h1m3 0h1m65 0h1m31 0h1m5 0h1M19 213.5h1m11 0h1m17 0h1m9 0h2m9 0h1m55 0h1m9 0h1m22 0h1M64 214.5h1m6 0h1m28 0h1m42 0h1m63 0h1m12 0h1M35 215.5h1m9 0h1m16 0h2m9 0h1m17 0h1m7 0h1m10 0h1m21 0h1m63 0h1m17 0h1m1 0h1M42 216.5h1m33 0h1m10 0h1m5 0h1m15 0h1m87 0h1m1 0h1m7 0h1m1 0h1m16 0h1M15 217.5h1m12 0h3m20 0h1m24 0h1m23 0h1m1 0h1m1 0h1m27 0h1m26 0h1m67 0h1M15 218.5h1m21 0h1m35 0h1m18 0h1m8 0h1m31 0h1m32 0h1m26 0h1m1 0h1m6 0h1m9 0h1m5 0h1M12 219.5h1m3 0h1m6 0h1m20 0h1m2 0h1m46 0h1m16 0h1m23 0h1m27 0h1m39 0h1m9 0h1M16 220.5h1m12 0h1m12 0h1m29 0h1m21 0h1m64 0h1m4 0h1m14 0h1m16 0h1m15 0h1M25 221.5h1m36 0h1m29 0h1m28 0h1m29 0h1m1 0h1m4 0h1M10 222.5h2m22 0h1m23 0h1m10 0h1m1 0h1m62 0h1m81 0h1M5 223.5h1m9 0h1m47 0h1m9 0h1m20 0h1m16 0h1m52 0h2m10 0h1m19 0h1m16 0h1M10 224.5h1m15 0h1m3 0h2m21 0h1m46 0h2m4 0h1m7 0h1m65 0h1m22 0h1m3 0h1M24 225.5h1m138 0h1m20 0h1m21 0h1M2 226.5h1m7 0h1m11 0h1m4 0h1m27 0h1m2 0h1m1 0h2m13 0h1m82 0h1m20 0h2m7 0h1m17 0h1M5 227.5h1m43 0h1m22 0h1m5 0h1m3 0h1m19 0h1m7 0h1m28 0h1m45 0h1m3 0h1m27 0h2M7 228.5h1m11 0h1m8 0h1m18 0h1m68 0h1m1 0h1m19 0h1m12 0h1m1 0h1m1 0h1m6 0h1m28 0h1M31 229.5h1m15 0h1m12 0h2m4 0h1m22 0h1m12 0h1m6 0h1m7 0h2m2 0h1m56 0h1m27 0h1m8 0h1M4 230.5h1m3 0h1m64 0h1m14 0h1m51 0h1m12 0h1m62 0h1m1 0h1m7 0h1M44 231.5h1m18 0h2m3 0h1m38 0h1m2 0h1m4 0h1m19 0h2m2 0h1m3 0h1m5 0h1m14 0h1m11 0h1m4 0h1m3 0h1m26 0h1M18 232.5h1m34 0h1m1 0h1m11 0h1m7 0h1m17 0h1m16 0h1m2 0h1m2 0h1m42 0h1m20 0h1m11 0h1M20 233.5h1m8 0h1m30 0h1m46 0h1m25 0h1m6 0h1m6 0h1m15 0h1m28 0h1m16 0h1m3 0h1m4 0h1M8 234.5h1m20 0h1m16 0h1m42 0h1m3 0h1m12 0h1m8 0h1m4 0h1m9 0h1m73 0h1m8 0h1M2 235.5h1m2 0h1m4 0h1m68 0h1m10 0h2m1 0h1m21 0h1m36 0h1m4 0h1m38 0h1m4 0h1M0 236.5h1m7 0h1m2 0h1m2 0h2m40 0h1m27 0h1m24 0h1m8 0h1m47 0h1m26 0h1m20 0h1m11 0h1M6 237.5h1m18 0h1m15 0h1m10 0h1m2 0h1m33 0h1m26 0h1m20 0h1m6 0h1m6 0h1m2 0h1m1 0h1m3 0h1m34 0h1m2 0h1m8 0h1m3 0h1m4 0h1M11 238.5h1m12 0h1m5 0h1m9 0h1m5 0h1m6 0h1m10 0h1m19 0h1m12 0h1m20 0h1m20 0h1m18 0h1m4 0h1m16 0h1m12 0h1m21 0h1M7 239.5h1m36 0h1m13 0h1m12 0h1m2 0h1m1 0h1m15 0h1m17 0h1m6 0h1m32 0h1m4 0h1m8 0h1m11 0h3M11 240.5h1m32 0h1m31 0h1m11 0h1m8 0h1m2 0h1m5 0h1m5 0h1m64 0h1m6 0h1m6 0h1M16 241.5h1m12 0h1m20 0h1m60 0h1m75 0h1m7 0h1m10 0h1m8 0h1M2 242.5h1m36 0h1m16 0h1m12 0h1m19 0h1m30 0h1m12 0h1m8 0h1m2 0h1m2 0h1m10 0h1m2 0h1m33 0h1M11 243.5h1m8 0h1m1 0h1m2 0h1m26 0h1m17 0h1m1 0h1m11 0h1m60 0h1m2 0h1m2 0h1m8 0h1m19 0h1m24 0h1m21 0h1M8 244.5h1m7 0h1m2 0h1m6 0h1m5 0h1m14 0h1m23 0h1m4 0h2m53 0h1m23 0h1m5 0h1m13 0h1m19 0h2m10 0h1M12 245.5h1m5 0h1m41 0h1m17 0h1m14 0h1m1 0h1m17 0h1m35 0h1m1 0h1m1 0h1m1 0h1m9 0h2m23 0h1m5 0h1m8 0h1M25 246.5h1m1 0h1m3 0h1m1 0h1m10 0h1m32 0h1m4 0h1m7 0h1m22 0h1m4 0h1m13 0h1m6 0h1m19 0h1m19 0h1M5 247.5h1m50 0h1m9 0h1m3 0h1m13 0h1m2 0h1m13 0h1m57 0h1m4 0h2m8 0h2m4 0h1M10 248.5h1m14 0h1m3 0h1m28 0h1m5 0h2m20 0h1m6 0h1m7 0h1m11 0h1m8 0h1m32 0h1m32 0h1M2 249.5h1m4 0h1m7 0h1m19 0h1m11 0h1m4 0h1m27 0h2m17 0h2m2 0h1m33 0h1m3 0h1m5 0h1m7 0h1m4 0h1m5 0h1m37 0h1m10 0h1M3 250.5h2m17 0h3m36 0h1m3 0h1m13 0h1m8 0h1m1 0h1m2 0h1m3 0h1m1 0h1m8 0h1m6 0h1m46 0h1m18 0h1m24 0h1m11 0h1M1 251.5h1m13 0h1m3 0h1m8 0h1m12 0h1m3 0h1m12 0h1m4 0h2m7 0h1m3 0h1m23 0h1m3 0h1m2 0h1m2 0h1m7 0h1m61 0h1m27 0h1m18 0h1M20 252.5h1m7 0h1m1 0h1m22 0h1m30 0h1m3 0h1m22 0h2m19 0h1m11 0h1m4 0h1M25 253.5h1m22 0h1m1 0h1m1 0h1m11 0h1m3 0h1m9 0h1m13 0h1m17 0h1m6 0h1m2 0h1m10 0h1m2 0h1m5 0h1m7 0h1m2 0h1m2 0h1m7 0h2m14 0h2m2 0h1m4 0h1M1 254.5h1m1 0h1m16 0h1m1 0h1m12 0h1m1 0h1m2 0h1m52 0h1m6 0h1m6 0h1m4 0h1m31 0h1m14 0h1m14 0h1m6 0h1m45 0h1M49 255.5h1m12 0h1m17 0h1m16 0h1m10 0h1m2 0h1m32 0h1m1 0h1m16 0h1m16 0h1m22 0h1M6 256.5h1m49 0h1m8 0h1m6 0h1m3 0h1m15 0h1m44 0h1m23 0h2m23 0h1M61 257.5h1m21 0h2m8 0h1m18 0h1m35 0h1m1 0h1m2 0h1M24 258.5h1m72 0h1m6 0h1m13 0h1m17 0h1m6 0h1m2 0h1m16 0h1m16 0h1M15 259.5h1m24 0h1m15 0h1m3 0h1m27 0h1m5 0h1m23 0h1m12 0h1m1 0h1m21 0h1m41 0h1M2 260.5h1m6 0h1m31 0h1m13 0h1m19 0h2m1 0h1m13 0h1m4 0h1m2 0h1m33 0h1m4 0h2m50 0h1m14 0h1m6 0h1m13 0h1M16 261.5h1m41 0h1m7 0h1m16 0h1m12 0h2m16 0h1m2 0h1m41 0h1m28 0h1m25 0h1m12 0h1M57 262.5h1m8 0h1m6 0h1m6 0h1m10 0h1m4 0h1m63 0h1m27 0h1m2 0h1m12 0h1m13 0h1m7 0h1M34 263.5h1m9 0h1m19 0h1m1 0h1m12 0h1m11 0h1m67 0h1m29 0h1m16 0h1m9 0h1M45 264.5h1m4 0h1m27 0h1m16 0h1m41 0h1M5 265.5h2m40 0h1m5 0h1m2 0h2m3 0h1m28 0h1m2 0h1m50 0h2m15 0h1m13 0h1m6 0h1m11 0h1m11 0h1M1 266.5h1m8 0h1m10 0h1m6 0h1m11 0h1m6 0h1m13 0h1m44 0h1m34 0h1m1 0h1m10 0h1m34 0h1m14 0h1m7 0h1m2 0h1M15 267.5h1m19 0h1m12 0h1m27 0h1m3 0h1m7 0h1m18 0h1m3 0h1m21 0h1m4 0h1m12 0h1m31 0h1m1 0h1m33 0h1M8 268.5h1m3 0h1m10 0h1m27 0h1m13 0h1m1 0h1m1 0h1m39 0h1m37 0h1m36 0h1m11 0h1M30 269.5h1m67 0h2m10 0h1m21 0h1m6 0h1m1 0h1m6 0h1m1 0h1m27 0h1m6 0h1m5 0h1M48 270.5h1m42 0h1m63 0h1m7 0h1m31 0h1m14 0h1m2 0h2M25 271.5h1m3 0h1m5 0h1m25 0h1m25 0h1m7 0h2m5 0h1m6 0h2m45 0h1m17 0h1m18 0h1m9 0h1m5 0h1M25 272.5h1m41 0h1m2 0h1m12 0h1m12 0h1m11 0h1m23 0h1m8 0h1m4 0h1m6 0h1m27 0h1m2 0h1m15 0h1m7 0h1M7 273.5h1m12 0h1m6 0h1m4 0h1m2 0h1m12 0h1m35 0h1m23 0h1m32 0h1m1 0h2m14 0h1M10 274.5h1m20 0h1m1 0h1m16 0h1m6 0h1m55 0h1m23 0h1m3 0h1m11 0h1M28 275.5h1m40 0h1m37 0h1m22 0h1m5 0h1m2 0h1m17 0h1m4 0h1m16 0h1m22 0h1M10 276.5h1m14 0h1m27 0h1m2 0h1m10 0h1m15 0h1m12 0h1m20 0h3m24 0h1m17 0h1m15 0h2m7 0h1m1 0h1M9 277.5h1m19 0h1m23 0h3m12 0h1m10 0h1m7 0h1m56 0h1m52 0h1m2 0h1m17 0h1M10 278.5h1m3 0h1m9 0h1m26 0h1m27 0h1m13 0h1m21 0h1m20 0h1m9 0h1m39 0h1m9 0h1m22 0h1M6 279.5h1m39 0h1m32 0h1m34 0h1m43 0h1m25 0h1m14 0h1M30 280.5h1m11 0h1m9 0h1m19 0h1m20 0h1m18 0h1m17 0h1M19 281.5h1m13 0h1m2 0h1m15 0h1m23 0h1m5 0h1m23 0h1m32 0h1m1 0h1m36 0h1m17 0h1m1 0h1m6 0h1m13 0h1M6 282.5h1m39 0h1m19 0h1m4 0h1m30 0h2m3 0h1m9 0h1m15 0h1m6 0h1m47 0h1M31 283.5h1m14 0h1m2 0h1m22 0h1m22 0h1m19 0h1m17 0h2m16 0h1m5 0h1m8 0h1m7 0h1m11 0h1m10 0h1m11 0h1M8 284.5h1m11 0h1m7 0h1m33 0h1m3 0h1m44 0h1m3 0h1m19 0h1m3 0h1m19 0h1m25 0h1m16 0h1m23 0h1M3 285.5h1m6 0h1m18 0h1m36 0h1m14 0h1m13 0h1m37 0h2m3 0h1m4 0h1m19 0h1m43 0h1M6 286.5h1m27 0h1m30 0h1m18 0h1m14 0h1m40 0h1m6 0h1m11 0h1m24 0h1M1 287.5h1m2 0h1m19 0h1m3 0h1m6 0h2m8 0h1m12 0h1m9 0h1m4 0h2m1 0h1m8 0h1m1 0h1m1 0h1m32 0h1m15 0h1m9 0h1m20 0h1m4 0h1m10 0h1m1 0h1M24 288.5h1m5 0h2m8 0h1m11 0h1m7 0h1m12 0h1m14 0h1m47 0h1m38 0h1m33 0h1M1 289.5h1m3 0h1m6 0h1m17 0h1m64 0h1m4 0h1m7 0h1m4 0h1m23 0h1m9 0h1m4 0h1m9 0h1m15 0h1m8 0h1M71 290.5h1m8 0h1m2 0h1m8 0h1m22 0h1m29 0h1m1 0h1m5 0h2m30 0h1m16 0h1m17 0h1M10 291.5h2m4 0h1m3 0h1m23 0h1m1 0h1m16 0h1m12 0h2m33 0h1m1 0h1m18 0h1m21 0h1m25 0h1m10 0h1m25 0h1M2 292.5h1m15 0h1m3 0h1m24 0h1m2 0h1m21 0h1m5 0h1m2 0h1m18 0h1m41 0h1m1 0h1m43 0h1m23 0h1m13 0h1M15 293.5h1m6 0h1m53 0h1m3 0h1m34 0h1m39 0h2m17 0h1m32 0h1M4 294.5h1m4 0h1m1 0h1m10 0h2m6 0h1m16 0h1m1 0h1m7 0h1m29 0h1m2 0h1m19 0h1m5 0h2m36 0h1m9 0h1m27 0h1m2 0h1m3 0h2M1 295.5h1m9 0h1m29 0h1m8 0h1m1 0h1m15 0h1m12 0h1m1 0h1m10 0h1m8 0h1m16 0h2m17 0h1m11 0h1m43 0h1m31 0h1M16 296.5h1m43 0h1m19 0h1m24 0h1m9 0h1m24 0h1m4 0h2m9 0h1m3 0h1m4 0h1m61 0h1M1 297.5h1m18 0h1m37 0h1m5 0h1m10 0h1m3 0h1m1 0h1m7 0h1m23 0h2m1 0h1m18 0h1m8 0h1m39 0h1m30 0h1M0 298.5h1m25 0h1m3 0h1m82 0h1m25 0h1m5 0h2m14 0h1m4 0h1m11 0h1m16 0h1m14 0h1M5 299.5h1m16 0h1m5 0h1m28 0h1m19 0h1m14 0h1m15 0h1m9 0h1m2 0h1m22 0h1m1 0h1m4 0h2m2 0h1m42 0h1M7 300.5h1m34 0h1m14 0h1m20 0h1m3 0h1m4 0h1m9 0h1m15 0h1m35 0h2m6 0h1m30 0h1m36 0h2M1 301.5h1m88 0h1m6 0h1m5 0h1m26 0h1m32 0h1m49 0h1M25 302.5h1m65 0h1m24 0h2m4 0h1m30 0h1m37 0h1m15 0h1M18 303.5h2m11 0h1m21 0h1m4 0h1m6 0h2m23 0h1m18 0h1m26 0h1m42 0h2m10 0h1m18 0h1m5 0h1M18 304.5h2m3 0h1m3 0h1m35 0h1m10 0h1m13 0h1m19 0h2m6 0h1m40 0h1m2 0h1m40 0h1m7 0h1m3 0h1m3 0h1M10 305.5h1m44 0h1m9 0h1m5 0h1m6 0h2m5 0h1m16 0h1m13 0h1m27 0h1m4 0h1M43 306.5h1m5 0h1m13 0h1m8 0h1m49 0h1m14 0h1m6 0h1m8 0h1m4 0h1m2 0h1m65 0h1M23 307.5h1m27 0h1m23 0h1m3 0h1m5 0h1m9 0h1m3 0h1m8 0h1m69 0h1m23 0h1m4 0h1M17 308.5h1m15 0h1m24 0h1m9 0h1m6 0h1m14 0h1m45 0h1m9 0h1m28 0h1m25 0h1m10 0h1M18 309.5h1m8 0h1m20 0h1m25 0h2m1 0h1m25 0h1m11 0h1m46 0h1m33 0h1M1 310.5h1m2 0h1m33 0h1m37 0h1m15 0h1m7 0h1m10 0h1m20 0h1m22 0h1m35 0h1m1 0h1m14 0h1m10 0h1M25 311.5h1m4 0h1m8 0h1m8 0h1m13 0h1m8 0h1m12 0h2m46 0h1m12 0h1m10 0h1m7 0h2m9 0h1m6 0h1m5 0h1M47 312.5h1m46 0h1m44 0h1m4 0h1m2 0h1m8 0h1m44 0h1m7 0h1m6 0h1M5 313.5h1m12 0h1m46 0h1m13 0h1m5 0h1m10 0h1m13 0h1m9 0h1m22 0h1m12 0h1m4 0h1m2 0h1m15 0h1m6 0h1m30 0h1M1 314.5h1m21 0h1m27 0h1m14 0h1m22 0h1m7 0h1m19 0h1m15 0h1m58 0h1M19 315.5h1m2 0h1m1 0h1m3 0h1m7 0h1m8 0h1m28 0h1m26 0h1m16 0h2m40 0h1m57 0h1M7 316.5h1m23 0h1m14 0h1m6 0h1m12 0h2m17 0h1m7 0h2m15 0h1m4 0h1m23 0h1m13 0h1m36 0h2M13 317.5h1m32 0h1m6 0h1m4 0h1m1 0h1m44 0h1m16 0h1m14 0h1m21 0h1m1 0h1m14 0h1m29 0h1m5 0h1M3 318.5h1m20 0h1m37 0h1m2 0h2m20 0h1m11 0h1m8 0h2m12 0h1m32 0h1m24 0h2m19 0h1m2 0h1m15 0h1M22 319.5h1m19 0h1m12 0h1m41 0h1m11 0h1m6 0h1m13 0h1m4 0h1m6 0h1m3 0h1m1 0h1m27 0h1M14 320.5h1m9 0h1m22 0h1m28 0h1m2 0h1m31 0h1m5 0h1m37 0h1m3 0h1m4 0h1m21 0h1m39 0h1M8 321.5h1m19 0h1m25 0h2m5 0h1m6 0h1m6 0h1m3 0h1m8 0h1m14 0h1m3 0h1m4 0h1m1 0h1m1 0h1m20 0h1m2 0h1m33 0h1m11 0h1M61 322.5h1m26 0h1m6 0h1m13 0h1m72 0h1m23 0h1M8 323.5h1m13 0h1m4 0h2m42 0h3m12 0h1m2 0h1m41 0h1m4 0h1m10 0h1m25 0h1m5 0h1m23 0h1m23 0h1M34 324.5h1m9 0h1m2 0h1m23 0h1m14 0h1m15 0h1m10 0h1m29 0h1m41 0h1m19 0h1m2 0h2m17 0h1M1 325.5h1m26 0h1m24 0h1m7 0h1m17 0h1m24 0h1m57 0h1m48 0h1M7 326.5h1m60 0h1m9 0h1m12 0h1m3 0h1m8 0h1m6 0h1m3 0h1m14 0h1m2 0h1m13 0h1m7 0h1m20 0h2m3 0h1m8 0h1m32 0h1M13 327.5h1m17 0h2m15 0h1m4 0h1m6 0h1m5 0h1m1 0h1m15 0h1m28 0h1m32 0h1m11 0h1m3 0h1M42 328.5h1m32 0h1m12 0h1m8 0h1m36 0h1m8 0h1M3 329.5h1m3 0h1m20 0h1m4 0h1m15 0h1m15 0h1m2 0h1m3 0h1m4 0h1m3 0h1m14 0h2m8 0h1m3 0h1m4 0h1m16 0h1m3 0h1m18 0h1m4 0h1m3 0h1m9 0h1m4 0h1m36 0h1M11 330.5h1m8 0h1m45 0h1m5 0h1m20 0h1m2 0h1m39 0h1m52 0h1m12 0h1m14 0h1M1 331.5h1m10 0h1m2 0h1m1 0h1m25 0h1m12 0h1m15 0h1m15 0h1m6 0h1m14 0h1m40 0h1m9 0h2m18 0h1m6 0h1M10 332.5h1m47 0h1m7 0h1m8 0h2m7 0h1m61 0h2m6 0h1m25 0h1m15 0h1m23 0h1M1 333.5h2m19 0h2m14 0h1m49 0h1m65 0h2m18 0h1m45 0h1M56 334.5h1m13 0h1m5 0h1m5 0h1m31 0h1m1 0h1m37 0h2m6 0h1m21 0h1m21 0h1m19 0h1M62 335.5h1m9 0h1m27 0h1m1 0h1m8 0h1m20 0h1m18 0h1M22 336.5h1m8 0h1m15 0h1m1 0h1m3 0h1m15 0h1m3 0h1m5 0h1m12 0h1m4 0h1m12 0h1m4 0h1m5 0h1m11 0h1m5 0h2m3 0h1m44 0h1m21 0h1M2 337.5h2m7 0h1m4 0h1m33 0h1m13 0h1m43 0h2m2 0h1m6 0h1m17 0h1m3 0h1m53 0h1m11 0h1m7 0h1M13 338.5h1m16 0h1m42 0h1m14 0h1m2 0h1m102 0h1m6 0h1m3 0h1m2 0h1M7 339.5h1m2 0h1m74 0h1m25 0h1m18 0h2m8 0h1m5 0h1m1 0h1m31 0h1m21 0h1m6 0h1M22 340.5h1m1 0h1m2 0h1m9 0h2m33 0h1m25 0h1m13 0h1m23 0h1m14 0h1m45 0h1M20 341.5h2m58 0h1m5 0h1m2 0h1m2 0h1m43 0h2m3 0h1m15 0h1m27 0h1m4 0h1m14 0h1m3 0h1m17 0h1M3 342.5h1m6 0h1m5 0h1m19 0h1m16 0h1m52 0h1m9 0h1m31 0h1m46 0h1m30 0h1M7 343.5h1m4 0h1m33 0h2m33 0h1m94 0h1m15 0h1M10 344.5h1m30 0h1m7 0h1m10 0h1m5 0h1m9 0h1m2 0h1m5 0h1m7 0h1m12 0h2m2 0h1m3 0h1m7 0h1m61 0h1m29 0h1M0 345.5h1m19 0h1m1 0h1m19 0h1m8 0h1m17 0h1m6 0h1m10 0h1m22 0h1m33 0h2m35 0h1m2 0h1m20 0h3m9 0h1M25 346.5h1m7 0h1m21 0h1m11 0h1m8 0h1m3 0h1m9 0h1m9 0h1m2 0h1m9 0h1m4 0h1m3 0h1m11 0h1m4 0h1m25 0h1m26 0h2M19 347.5h1m18 0h2m11 0h1m1 0h1m1 0h1m11 0h1m30 0h1m3 0h1m28 0h1m6 0h1m40 0h1M14 348.5h1m32 0h1m1 0h1m15 0h1m38 0h1m12 0h1m2 0h1m14 0h1m27 0h1m16 0h1M8 349.5h2m5 0h1m13 0h1m18 0h1m24 0h1m40 0h1m15 0h1m40 0h1m3 0h1m9 0h1M16 350.5h1m5 0h1m7 0h1m4 0h1m2 0h1m23 0h1m69 0h1m1 0h1m12 0h1m40 0h1m8 0h1m10 0h1m9 0h1M24 351.5h1m22 0h1m13 0h1m12 0h1m67 0h1m9 0h1m24 0h1m3 0h1m19 0h1m2 0h1m4 0h2M22 352.5h1m12 0h1m10 0h1m3 0h1m2 0h2m24 0h1m23 0h1m14 0h1m28 0h1m20 0h1m11 0h1m6 0h2m14 0h1M28 353.5h1m56 0h2m15 0h1m5 0h1m29 0h1m5 0h1m5 0h1m6 0h1m22 0h1M17 354.5h1m53 0h1m2 0h1m1 0h1m7 0h1m34 0h1m1 0h1m8 0h1m15 0h1m12 0h1m5 0h1m21 0h1M5 355.5h1m4 0h1m24 0h1m14 0h1m13 0h1m18 0h1m23 0h1m9 0h1m45 0h1M64 356.5h1m13 0h1m10 0h1m21 0h1m7 0h1m2 0h1m24 0h1m16 0h1m13 0h1m29 0h1M22 357.5h1m2 0h1m9 0h1m3 0h1m45 0h1m21 0h1m3 0h1m70 0h1m15 0h1m11 0h1M32 358.5h1m7 0h1m3 0h1m2 0h1m4 0h1m19 0h1m21 0h1m7 0h1m3 0h1m25 0h1m22 0h2m5 0h1m57 0h1M27 359.5h1m16 0h1m2 0h1m5 0h1m4 0h1m50 0h1m1 0h1m20 0h1m2 0h1m1 0h2m22 0h1m46 0h1M2 360.5h1m2 0h1m93 0h2m2 0h1m40 0h1m17 0h1m28 0h1m12 0h1m5 0h1M23 361.5h1m11 0h1m26 0h1m7 0h1m14 0h1m1 0h2m8 0h1m2 0h1m34 0h1m3 0h1m16 0h1m69 0h1M4 362.5h2m75 0h1m3 0h1m5 0h1m8 0h1m34 0h1m7 0h1m20 0h1m18 0h1m7 0h2m14 0h1M6 363.5h1m22 0h1m22 0h1m47 0h1m15 0h1m16 0h1m4 0h1m16 0h1M58 364.5h1m19 0h1m21 0h1m14 0h1m15 0h1m10 0h1m3 0h1m7 0h1m25 0h1m7 0h1m3 0h1m33 0h1M11 365.5h1m23 0h1m30 0h1m38 0h2m4 0h1m1 0h1m5 0h1m34 0h1m3 0h1m36 0h2m30 0h1M57 366.5h1m25 0h1m1 0h1m9 0h1m4 0h1m5 0h2m36 0h3m7 0h1m25 0h1m8 0h1m3 0h1m8 0h2m5 0h1m16 0h1M8 367.5h1m4 0h1m3 0h1m10 0h2m26 0h1m22 0h1m3 0h1m2 0h2m4 0h1m6 0h1m2 0h1m31 0h1m1 0h1m25 0h2m26 0h1m1 0h1m15 0h1M3 368.5h1m14 0h1m31 0h1m5 0h1m17 0h1m3 0h1m9 0h1m21 0h1m23 0h1m22 0h1m48 0h1"/>
<path stroke="#31688e" d="M58 0.5h1m148 0h1M136 1.5h1m24 0h1m58 0h1M11 2.5h1m15 0h1m6 0h1m74 0h1m38 0h1m11 0h1m57 0h1M72 3.5h1m17 0h1m14 0h1m42 0h1M14 4.5h1m68 0h1m20 0h1m41 0h1m12 0h1m3 0h1m29 0h1m21 0h1m3 0h1M73 5.5h1m14 0h1m17 0h1m2 0h1m55 0h1m61 0h1M31 6.5h1M24 7.5h1m6 0h1m19 0h1m62 0h2m3 0h1M25 8.5h1m52 0h1m8 0h1m42 0h1M36 9.5h1m118 0h1M103 10.5h1M63 11.5h1M136 12.5h2M46 13.5h1m3 0h1m48 0h1M62 14.5h1m1 0h1m38 0h1m55 0h1M1 15.5h1m20 0h1m12 0h1m70 0h1m10 0h1m32 0h1m6 0h1M69 16.5h1m13 0h1m7 0h1m29 0h1m40 0h1M186 17.5h1m40 0h1M28 18.5h1m12 0h1m13 0h1m21 0h1m12 0h1m114 0h1M24 19.5h1m1 0h1m40 0h1m34 0h1m10 0h1m49 0h1M19 20.5h1m44 0h1m19 0h1m81 0h1m8 0h1m18 0h1M23 21.5h2m7 0h1m7 0h1m6 0h1m26 0h1m7 0h1m20 0h1m13 0h1m37 0h1M53 22.5h1m108 0h1m55 0h1m8 0h1M12 23.5h1m6 0h1m44 0h1m53 0h1m47 0h1m48 0h1M4 24.5h1m21 0h1m57 0h1m26 0h1m29 0h1m40 0h1m14 0h1M26 25.5h1m46 0h1m85 0h1m39 0h1m7 0h1M5 26.5h1m34 0h1m8 0h1m13 0h1m143 0h1M12 27.5h1m38 0h1m59 0h1m7 0h1m45 0h1m48 0h1M27 28.5h1m9 0h1m155 0h1m1 0h1M36 29.5h1m13 0h1m26 0h1m6 0h1m32 0h1m46 0h1m37 0h1m24 0h1M24 30.5h1m69 0h1m49 0h2m29 0h1M4 31.5h1m58 0h1m5 0h1m108 0h1m13 0h1M120 32.5h1M25 33.5h1m3 0h1m40 0h1m135 0h1m19 0h1M98 34.5h1M111 35.5h1m78 0h1M11 36.5h1m17 0h1m57 0h1m27 0h1m38 0h1m11 0h1m59 0h1M8 37.5h1m21 0h1m77 0h1m13 0h1m13 0h1m4 0h1M38 38.5h1m53 0h1m11 0h1m16 0h1m97 0h1M14 39.5h1m49 0h1m98 0h1m20 0h1m41 0h1M115 40.5h1m72 0h1M175 41.5h1m36 0h1M7 42.5h1m45 0h1m52 0h1m32 0h1m44 0h1M83 43.5h1m38 0h1m34 0h1M4 44.5h1m24 0h1m28 0h1m149 0h1M41 45.5h1m47 0h1m3 0h1m81 0h1m3 0h1m19 0h1m8 0h1M7 46.5h1m2 0h1m39 0h1m13 0h1m38 0h1m45 0h1m34 0h1m9 0h1m3 0h1m3 0h1m7 0h1m15 0h1M28 47.5h1m21 0h1m1 0h1m11 0h1m26 0h1m74 0h1m15 0h1m21 0h1m2 0h1m7 0h1M60 48.5h1m42 0h1m81 0h1M54 49.5h1m1 0h1m6 0h1m26 0h1m19 0h1m48 0h1M14 50.5h1m74 0h1m30 0h1m76 0h1m29 0h1M5 51.5h1m14 0h1m13 0h1m25 0h1m57 0h1m17 0h1m6 0h1m1 0h1m65 0h1M121 52.5h1m22 0h1m6 0h1m32 0h1m21 0h1M15 53.5h1m15 0h1m42 0h1m64 0h1m4 0h1M79 54.5h1m3 0h1m19 0h1m34 0h1m12 0h1M10 55.5h1m49 0h1m50 0h1m10 0h1m31 0h2M19 56.5h1m8 0h1m9 0h1m46 0h1m74 0h1m2 0h1m26 0h1m25 0h1M43 57.5h1m107 0h1m2 0h1m10 0h1m43 0h1M5 58.5h1m60 0h1m12 0h2m39 0h1m1 0h1m73 0h1M110 59.5h1M77 60.5h1m97 0h1m8 0h1m5 0h1m15 0h1M1 61.5h1m10 0h1m47 0h1m21 0h1m4 0h1M13 62.5h1m75 0h1m16 0h1m3 0h1m5 0h1m109 0h1M92 63.5h1m125 0h1M25 64.5h1m19 0h1m46 0h1m6 0h1m10 0h1m26 0h1m25 0h1m29 0h1m12 0h1M49 65.5h1m16 0h1m22 0h1m4 0h1m3 0h1m67 0h1M166 66.5h1m31 0h1M79 67.5h1m54 0h1m3 0h1m36 0h1m10 0h1M197 68.5h1M23 69.5h1m3 0h1m50 0h1m19 0h1m13 0h1m40 0h1M111 70.5h1m5 0h1M13 71.5h1m17 0h1m2 0h1m15 0h1M28 72.5h1m22 0h1m23 0h1m27 0h1m13 0h1m4 0h1M21 73.5h1m40 0h1m114 0h1m37 0h1M141 74.5h1m44 0h1M89 75.5h1m4 0h1m13 0h1m67 0h2m40 0h1M25 76.5h1m16 0h1m22 0h1m121 0h1m38 0h1M28 77.5h1m4 0h1m30 0h1m49 0h1m18 0h1m76 0h1M24 78.5h1m28 0h1m1 0h1m31 0h1m22 0h1m33 0h1m17 0h1m49 0h1M20 79.5h1m37 0h1m30 0h1m56 0h1m3 0h1m33 0h1M106 80.5h1m59 0h1M100 81.5h1m17 0h1m11 0h1m1 0h1M1 82.5h1m113 0h1m2 0h1m22 0h1m8 0h1m54 0h1M77 83.5h1m28 0h1m2 0h1m7 0h1m12 0h1m13 0h1M91 84.5h1m53 0h1M37 85.5h1m52 0h1m53 0h1m64 0h1M141 86.5h1m62 0h1M25 87.5h1m36 0h1m46 0h1m25 0h1m30 0h1M88 88.5h1m58 0h1m29 0h1m10 0h1m28 0h1M30 89.5h1m78 0h1m55 0h1m25 0h1M86 90.5h1m93 0h1m25 0h1m11 0h2M8 91.5h1m72 0h1m99 0h1M53 92.5h1m16 0h1M6 93.5h1m7 0h1m8 0h1m17 0h1m124 0h1m14 0h1M54 94.5h1m13 0h1m53 0h1m9 0h1m71 0h1M28 95.5h1m28 0h1m4 0h1m20 0h1m14 0h1m54 0h1m40 0h1m5 0h1M63 96.5h1m24 0h1m3 0h1m40 0h1m40 0h1m25 0h1m7 0h2M35 97.5h1m58 0h1m27 0h1m15 0h1m62 0h1M21 98.5h1m26 0h1m62 0h1m69 0h1m24 0h1m12 0h1M29 99.5h1m30 0h1m18 0h1m2 0h2M98 100.5h1m14 0h1m18 0h1m8 0h1m11 0h1m41 0h1m1 0h1M21 101.5h1m58 0h1m30 0h1m31 0h1m30 0h1m5 0h1m6 0h1m19 0h1M29 102.5h1m2 0h1m65 0h1m20 0h1m17 0h1m16 0h1m62 0h1m8 0h1M6 103.5h1m17 0h1m2 0h1m28 0h1m1 0h1m93 0h1m35 0h1M0 104.5h1m117 0h1m40 0h1m5 0h1m60 0h1M139 105.5h1m79 0h1M71 106.5h1m30 0h1m75 0h1m5 0h1m14 0h1m16 0h1M31 107.5h1m77 0h2m43 0h1m6 0h1M48 108.5h1m29 0h1m4 0h1m23 0h1M51 109.5h1m26 0h1m37 0h1m63 0h1M62 110.5h1m47 0h1m8 0h1m22 0h1m21 0h1m23 0h1M39 111.5h1m5 0h1m36 0h1m9 0h1m28 0h1m14 0h1M87 112.5h1m7 0h1m11 0h1m77 0h1M29 113.5h1m27 0h1m81 0h1m13 0h1m10 0h2m11 0h1M49 114.5h1m25 0h1m3 0h1m14 0h1m22 0h1m22 0h1m15 0h1m31 0h1m38 0h1M83 115.5h1m20 0h1M109 116.5h1m22 0h1m3 0h2M11 117.5h1m37 0h1m23 0h1m5 0h1m19 0h1m16 0h2m14 0h1m2 0h1m14 0h1m4 0h1m70 0h1M67 118.5h1m79 0h1m1 0h1m7 0h1M20 119.5h1m42 0h1m48 0h1m1 0h1m38 0h1M25 120.5h1m21 0h1m31 0h1m34 0h1m41 0h1m41 0h1M23 121.5h1m3 0h1m33 0h1m11 0h1m6 0h1m55 0h2m20 0h1m7 0h1m11 0h1M69 122.5h1m36 0h1m6 0h1m23 0h1m89 0h1M31 123.5h1m3 0h1m35 0h1m9 0h1m36 0h1m16 0h1m17 0h2M97 124.5h1m10 0h1M51 125.5h1m31 0h1m3 0h1m4 0h1m4 0h1m10 0h1m2 0h1m36 0h1m15 0h1m16 0h1M14 126.5h1m49 0h1m2 0h1m24 0h1m10 0h1m7 0h1m53 0h1m61 0h1M51 127.5h1m39 0h1m1 0h1m23 0h1m1 0h1m76 0h1M5 128.5h1m56 0h1m23 0h1m19 0h1m14 0h1m19 0h1m1 0h1m20 0h1m29 0h1m14 0h1M24 129.5h1m75 0h1m46 0h1m16 0h1M55 130.5h1m30 0h1m26 0h1m32 0h1m16 0h1m23 0h1m2 0h1m9 0h1M25 131.5h1m32 0h1m4 0h1m14 0h1m9 0h1m49 0h1m29 0h1m33 0h1M6 132.5h1m15 0h1m7 0h1m16 0h1m23 0h1m75 0h1m3 0h1M20 133.5h1m68 0h1m27 0h1m21 0h1m6 0h1m3 0h1m54 0h1m7 0h1M20 134.5h1m85 0h1m23 0h1m21 0h1m27 0h1m39 0h1M79 135.5h1m22 0h1m2 0h1m110 0h1M14 136.5h1m5 0h1m46 0h1m32 0h1m20 0h1m37 0h1m50 0h1M28 137.5h1m35 0h1m5 0h1m28 0h1m51 0h1m67 0h1M69 138.5h1m10 0h1m23 0h1m113 0h1M16 139.5h1m8 0h2m33 0h1m45 0h1m49 0h1M25 140.5h1m31 0h1m81 0h1m5 0h1m13 0h1M50 141.5h1m9 0h1m80 0h1m15 0h1m45 0h1M31 142.5h1m195 0h1M5 143.5h1m52 0h1m11 0h1m18 0h1m12 0h1m11 0h1m7 0h1M8 144.5h1m20 0h1m23 0h1m34 0h1m53 0h1m73 0h1m1 0h1M29 145.5h1m111 0h1m60 0h1m6 0h1M16 146.5h1m25 0h1m1 0h1m96 0h1m33 0h1M49 147.5h1m1 0h1m10 0h1m4 0h1m42 0h1m19 0h1m13 0h1M41 148.5h1m3 0h1m4 0h1m8 0h1m116 0h1m18 0h1M76 149.5h2m13 0h1m12 0h1M104 150.5h1m32 0h1m13 0h1m61 0h1M69 151.5h1m19 0h1m75 0h1M36 152.5h1m21 0h1m39 0h1m121 0h1M8 153.5h1m87 0h1m7 0h1m3 0h1m2 0h1m75 0h1M7 154.5h1m18 0h1m2 0h1m2 0h1m17 0h1m35 0h1m7 0h1m10 0h1m27 0h1m1 0h1m22 0h1M27 155.5h1m26 0h1m21 0h1m75 0h1m10 0h1m37 0h1M22 156.5h1m36 0h1m47 0h1m3 0h1m10 0h1m9 0h1m5 0h1M39 157.5h1m12 0h1m11 0h1m3 0h1m67 0h1M201 158.5h1m2 0h1m9 0h1M28 159.5h1m81 0h1m26 0h1m7 0h1m59 0h1M22 160.5h1m31 0h1m36 0h1m6 0h1m52 0h1M46 161.5h1m2 0h1m21 0h1m116 0h1M66 162.5h1M66 163.5h1m24 0h1m65 0h1m6 0h1m43 0h1M0 164.5h1m9 0h1m45 0h1m37 0h1m18 0h1m74 0h1M21 165.5h1m25 0h1m74 0h1M3 166.5h1m18 0h1m1 0h1m86 0h1m2 0h2m2 0h1M53 167.5h1m7 0h1m6 0h1m8 0h1m9 0h1m7 0h1m7 0h1m14 0h1m21 0h1m18 0h1m3 0h1M87 168.5h1m4 0h1m19 0h1m21 0h1M61 169.5h1m4 0h1m64 0h1m1 0h1M110 170.5h1m22 0h1m7 0h1m11 0h1M15 171.5h1m22 0h1m9 0h1m61 0h1m90 0h1M58 172.5h1m14 0h1m72 0h1m31 0h1m48 0h1M50 173.5h1m21 0h1m17 0h1m17 0h1m22 0h1m19 0h1M22 174.5h1m20 0h1m67 0h1m48 0h1m18 0h1M50 175.5h1m23 0h1m31 0h1m15 0h1m13 0h1m90 0h1M19 176.5h1m1 0h1m14 0h1m161 0h1M22 177.5h2m5 0h1m161 0h1M88 178.5h1m10 0h1m14 0h1m87 0h1m4 0h1M8 179.5h1m67 0h1m12 0h1m13 0h1m3 0h1m3 0h1m115 0h1M55 180.5h1m18 0h1m33 0h1m44 0h1m36 0h1m20 0h1M136 181.5h1M3 182.5h1m38 0h1m131 0h1m52 0h1M24 183.5h1m71 0h1m43 0h2m4 0h1m5 0h1m27 0h1M5 184.5h1m20 0h1m13 0h1m15 0h1m12 0h1m25 0h1m17 0h1m32 0h1M29 185.5h1m177 0h1m10 0h1M27 186.5h1m21 0h1m43 0h1m4 0h1m1 0h1m1 0h1m36 0h1m65 0h1M25 187.5h1m2 0h1m57 0h1m20 0h1m37 0h1m7 0h1m1 0h1m2 0h1m33 0h1m33 0h1M2 188.5h1m16 0h1m135 0h1M23 189.5h1m6 0h1m57 0h1m64 0h1M81 190.5h1m71 0h1m5 0h1m22 0h1m36 0h1M15 191.5h2m116 0h1m23 0h1M76 192.5h1m78 0h1m35 0h2M30 193.5h1m78 0h1m26 0h1M109 194.5h1m8 0h1m2 0h1m40 0h1m33 0h1m6 0h1m16 0h1m5 0h1M10 195.5h1m11 0h1m4 0h1m65 0h1m47 0h1m4 0h1m4 0h1m33 0h1m7 0h1M115 196.5h1m38 0h1m4 0h1m66 0h1M23 197.5h1m1 0h2m1 0h1m20 0h1m25 0h1m85 0h1m13 0h2m42 0h1M14 198.5h1m57 0h1m42 0h1m6 0h1m35 0h1M113 199.5h1m34 0h1m56 0h1m12 0h1m8 0h1M16 200.5h1m47 0h1m86 0h2m2 0h1m21 0h1m10 0h1m24 0h1m6 0h1M29 201.5h1m79 0h1m20 0h1m5 0h1m14 0h1m3 0h1M24 202.5h1m2 0h1m26 0h1m15 0h1m36 0h1m1 0h1m4 0h1m28 0h1m21 0h1m32 0h1m11 0h1M69 203.5h1m1 0h1m33 0h1m42 0h2m6 0h1m35 0h1m18 0h1m15 0h1M21 204.5h1m78 0h1m3 0h1m4 0h1m28 0h1m8 0h1m44 0h1M20 205.5h1m91 0h1m29 0h1M43 206.5h1m58 0h1m31 0h1m9 0h1m37 0h1m32 0h1M6 207.5h1m98 0h1m5 0h1m29 0h1m9 0h1m8 0h1m66 0h1M17 208.5h1m22 0h1m25 0h1m1 0h1m15 0h1m15 0h1m1 0h1m7 0h1m64 0h1M18 209.5h1m7 0h1m3 0h1m42 0h1m67 0h1m9 0h2m12 0h1M13 210.5h1m25 0h1m5 0h1m19 0h1m25 0h1m1 0h1m11 0h1m5 0h1m30 0h1m20 0h1m40 0h1M24 211.5h1m43 0h1m28 0h1m59 0h1m6 0h1m54 0h1m7 0h1M20 212.5h1m52 0h1m1 0h1m1 0h1m33 0h1m25 0h1m20 0h1m67 0h1M2 213.5h1m1 0h1m12 0h1m2 0h1m8 0h1m147 0h1m48 0h1M20 214.5h1m47 0h1m3 0h1m6 0h1m80 0h1m1 0h1m14 0h1m13 0h1m27 0h1M23 215.5h1m8 0h1m87 0h1m28 0h1m11 0h1m46 0h2m5 0h1M45 216.5h1m8 0h1m58 0h1m19 0h1M46 217.5h1m11 0h1m9 0h1m19 0h1m3 0h2m15 0h1m64 0h1m37 0h1m5 0h1M45 218.5h1m20 0h1m50 0h1m23 0h1m22 0h1M36 219.5h1m6 0h1m73 0h1M59 220.5h1m54 0h1m21 0h1m10 0h1m5 0h1m4 0h1m6 0h1m15 0h1M23 221.5h1m31 0h1m9 0h2m23 0h1m19 0h1m5 0h1m39 0h1m49 0h1M63 222.5h1m20 0h1m47 0h1m62 0h1M27 223.5h1m24 0h1m42 0h1m10 0h1m12 0h1m25 0h1M28 224.5h1m22 0h1m5 0h1m31 0h1m17 0h1m33 0h1m15 0h1m48 0h1m2 0h1M85 225.5h1m35 0h1m57 0h1M1 226.5h1m46 0h1m7 0h1m17 0h1m17 0h1m5 0h1m13 0h1M76 227.5h1m13 0h1m39 0h1m35 0h1m13 0h1m32 0h1M24 228.5h1m35 0h1m10 0h1m85 0h1M45 229.5h1m4 0h1m140 0h1m11 0h1M37 230.5h1m32 0h1m29 0h1m32 0h1m10 0h1m33 0h1M12 231.5h1m9 0h1m44 0h1m50 0h1m39 0h1M24 232.5h1m59 0h1m54 0h1m2 0h1m10 0h1M22 233.5h2m91 0h1m16 0h1M23 234.5h1m28 0h1m6 0h1m79 0h1m3 0h1m3 0h1m32 0h1M69 235.5h1m15 0h1m10 0h1M117 236.5h1m60 0h1m40 0h1M53 237.5h1m103 0h1m8 0h1m30 0h1M15 238.5h1m35 0h1m93 0h1m4 0h1m68 0h1m7 0h1M26 239.5h1m57 0h1m3 0h1m9 0h1M18 240.5h1m30 0h1m95 0h1M96 241.5h1m51 0h1m68 0h1M4 242.5h1m43 0h1m23 0h1m3 0h1m7 0h1m25 0h1m19 0h1m76 0h1m1 0h1m16 0h1M175 243.5h1M69 244.5h1m20 0h1m71 0h1m13 0h1M49 245.5h1m156 0h1M26 246.5h1m43 0h1m76 0h1m29 0h1m10 0h1M27 247.5h1m53 0h1m20 0h1m10 0h1m75 0h1M26 248.5h1m6 0h1m16 0h1m109 0h1m41 0h1M48 249.5h1m27 0h1m2 0h1m14 0h1m43 0h1m4 0h1m14 0h1M47 250.5h1m69 0h1m16 0h1m4 0h1m7 0h1m60 0h1M29 251.5h1m48 0h1m16 0h1m36 0h1m85 0h1M22 252.5h1m153 0h1M19 253.5h1m34 0h1m56 0h1m2 0h1m34 0h1m25 0h1m4 0h1M27 254.5h1m27 0h1m36 0h1m1 0h1m113 0h1m7 0h1m1 0h1M28 255.5h1m7 0h1m11 0h1m18 0h1m38 0h1m69 0h1m21 0h1M25 256.5h1m63 0h1m28 0h1m29 0h1M52 257.5h1m106 0h1m35 0h1m30 0h1M26 258.5h1m83 0h1m55 0h1M1 259.5h1m4 0h1m2 0h1m36 0h1m92 0h1m86 0h1M21 260.5h1m57 0h1m19 0h1m22 0h1m13 0h1m10 0h1m7 0h1m8 0h1m13 0h1m8 0h1m30 0h1M12 261.5h1m12 0h1m27 0h1m78 0h1m45 0h1M29 262.5h1m55 0h1m15 0h1m11 0h1m47 0h1m27 0h1m21 0h1M87 263.5h2m22 0h1m22 0h1m4 0h1m54 0h1M31 264.5h1m21 0h2m11 0h1m48 0h1m72 0h1M25 265.5h1m18 0h1m103 0h1m47 0h1M72 266.5h1m10 0h1m6 0h1m24 0h1m82 0h1M18 267.5h1m9 0h1m27 0h1m42 0h1m19 0h1m75 0h1m2 0h1m1 0h1M22 268.5h1m43 0h1m48 0h1m19 0h1m15 0h1M3 269.5h1m21 0h1m93 0h1m10 0h1m75 0h1M16 270.5h1m3 0h1m7 0h1m8 0h1m169 0h2m17 0h2M72 271.5h1m74 0h1m33 0h1m26 0h1m2 0h1m1 0h1M28 272.5h1m31 0h1m52 0h1m30 0h1m15 0h1m38 0h1M28 273.5h1m39 0h1m23 0h1m1 0h1m50 0h1m70 0h2M87 274.5h1m7 0h1m36 0h1m60 0h1m19 0h1M11 275.5h1m15 0h1m28 0h1m65 0h1m52 0h1m13 0h1m20 0h1M24 276.5h1m1 0h1m44 0h1m22 0h1m64 0h1M7 277.5h1m11 0h1m6 0h1m30 0h1m22 0h1m97 0h1M30 278.5h1m50 0h1m65 0h1M27 279.5h1m35 0h1m81 0h1M26 280.5h2m3 0h1m34 0h1m9 0h1M59 281.5h1m35 0h1m131 0h1M23 282.5h1m1 0h1m21 0h1m7 0h1m5 0h1m21 0h1m5 0h1m74 0h1m17 0h1m12 0h1M17 283.5h1m1 0h1m7 0h1m1 0h1m47 0h1m22 0h1m10 0h1m32 0h1m8 0h1m34 0h1M60 284.5h1m14 0h1m19 0h1m37 0h1m69 0h2m1 0h1M35 285.5h1m44 0h1m33 0h1m2 0h1m18 0h1M17 286.5h1m43 0h1m11 0h1m28 0h1m6 0h1m4 0h1m50 0h1M27 287.5h1m13 0h1m20 0h1m51 0h1m6 0h1m40 0h1m2 0h1M2 288.5h1m61 0h1m10 0h1m15 0h1m28 0h1m58 0h1M37 289.5h1m8 0h1m14 0h1m3 0h1m1 0h1m31 0h1m107 0h1M10 290.5h1m11 0h1m1 0h1m63 0h1m5 0h1m51 0h1m8 0h1M2 291.5h1m55 0h1m87 0h1m27 0h1m41 0h1M28 292.5h1m26 0h1m2 0h1m30 0h1m20 0h1M157 293.5h1m4 0h1m17 0h1m17 0h1m15 0h1M17 294.5h1m17 0h1m98 0h1m8 0h1m6 0h1m27 0h1M23 295.5h1m47 0h1m87 0h1M28 296.5h1m43 0h1m25 0h1m22 0h1m27 0h1m52 0h2M43 297.5h1m51 0h1m69 0h1M80 298.5h1M47 299.5h1m94 0h1m20 0h1M8 300.5h1m41 0h1m8 0h1m100 0h1m42 0h1m1 0h1M23 301.5h1m6 0h1m74 0h1m5 0h1m49 0h1m30 0h1m11 0h1M134 302.5h1m22 0h1m6 0h1m35 0h1m10 0h1M133 303.5h1m14 0h1m11 0h1m17 0h1m17 0h1m29 0h2M55 304.5h1m142 0h2M58 305.5h1m4 0h1m93 0h1m5 0h1m29 0h1m8 0h1M11 306.5h1m12 0h1m74 0h1m12 0h1m23 0h1m51 0h1m37 0h1M55 307.5h1m25 0h1m10 0h1m52 0h1m7 0h1m33 0h1m32 0h1M64 308.5h1m1 0h1m68 0h1m7 0h1m34 0h1m35 0h1M156 309.5h1M24 310.5h1m24 0h1m5 0h1m145 0h1m10 0h1M51 311.5h1m7 0h1m4 0h1m5 0h1m29 0h1m40 0h1m38 0h1m45 0h1M24 312.5h1m18 0h1m121 0h1m36 0h1M27 313.5h1m23 0h1m29 0h1m4 0h1m18 0h1m16 0h1M41 314.5h1m1 0h1m77 0h1m17 0h1m14 0h1M73 315.5h1m61 0h1m66 0h1m17 0h1m5 0h1M18 316.5h1m22 0h1m90 0h1m8 0h1m2 0h1m1 0h1M4 317.5h1m21 0h2m1 0h1m13 0h1m45 0h1m14 0h1m34 0h1m86 0h1M11 318.5h1m8 0h1m130 0h1M7 319.5h1m5 0h1m9 0h1m1 0h1m66 0h1m29 0h1m16 0h1m49 0h1m12 0h1M22 320.5h1m28 0h1m4 0h1m45 0h1M24 321.5h1m7 0h1m5 0h1m37 0h1m17 0h1m2 0h1m11 0h2m8 0h1m13 0h1M72 322.5h1m1 0h1m38 0h1m21 0h1m39 0h1m28 0h1m14 0h1m7 0h1M24 323.5h1m26 0h1m12 0h1m9 0h1m1 0h1m10 0h1m6 0h1m8 0h1M22 324.5h1m3 0h1m35 0h1m58 0h2M156 325.5h1m19 0h1M100 326.5h1M29 327.5h1m51 0h1m9 0h1m55 0h1m11 0h1m67 0h1M23 328.5h1m127 0h1m74 0h1M2 329.5h1m24 0h1m3 0h1m82 0h1m41 0h1m47 0h1m22 0h1M19 330.5h1m7 0h1m50 0h1m135 0h1M27 331.5h1m20 0h1m15 0h1m27 0h1m22 0h1m3 0h1M28 332.5h1m79 0h1m26 0h1m9 0h1m52 0h1M49 333.5h1m29 0h1M47 334.5h1m69 0h1m30 0h1m27 0h1m2 0h1m40 0h1M99 335.5h1m19 0h1m19 0h1m50 0h1m35 0h1M26 336.5h1m107 0h1m3 0h1m17 0h1m57 0h1M19 337.5h1m8 0h1m15 0h1m23 0h1m10 0h1m13 0h1m28 0h1m53 0h1M22 338.5h1m52 0h1m120 0h1M8 339.5h1m39 0h1m31 0h1m10 0h1m5 0h1m117 0h1M33 340.5h1m12 0h1m97 0h1m9 0h1m7 0h1m46 0h1M24 341.5h1m39 0h1m54 0h1m24 0h2m35 0h1M4 342.5h1m55 0h1m24 0h1m110 0h1M95 343.5h1m6 0h1m11 0h1m105 0h1M19 344.5h1m118 0h1m7 0h1m10 0h1M25 345.5h1m6 0h1m44 0h1m12 0h1m58 0h1m3 0h1m9 0h1m55 0h1M57 346.5h1m34 0h1m24 0h1m38 0h1M24 347.5h2m22 0h1m23 0h1m11 0h1m58 0h1m31 0h1M29 348.5h1m43 0h1m39 0h1m8 0h1m19 0h1m19 0h1m15 0h1m26 0h1M25 349.5h1m32 0h1m49 0h1m34 0h1m18 0h1M27 350.5h1m23 0h1m20 0h1m83 0h1m44 0h1M25 351.5h1m121 0h1m26 0h1m3 0h1m33 0h1m2 0h1M12 352.5h1m29 0h1m25 0h1m76 0h1m12 0h1m50 0h1m3 0h1M60 353.5h1m7 0h1m40 0h1m86 0h1m23 0h1M35 354.5h2m1 0h1m20 0h1m49 0h1m28 0h1m2 0h1m84 0h1M22 355.5h1m7 0h1m69 0h1m2 0h1m9 0h1m79 0h1M146 356.5h1m19 0h1M17 357.5h1m20 0h1m7 0h1m4 0h1m48 0h1m3 0h1m42 0h1m6 0h1m41 0h1m9 0h1M8 358.5h1m67 0h1m21 0h1m5 0h2M106 359.5h1m1 0h1m1 0h1m20 0h1m23 0h1m19 0h1m20 0h1m7 0h1M37 360.5h1m22 0h1m77 0h1m4 0h1m1 0h1m49 0h1m31 0h1M25 361.5h1m1 0h1M2 362.5h1m12 0h1m145 0h1m64 0h2M112 363.5h1m38 0h1m1 0h1m72 0h1M8 364.5h1m43 0h1m38 0h1m11 0h1m60 0h1m14 0h1M13 365.5h1m11 0h2m31 0h1m23 0h1m3 0h1m52 0h1m45 0h1m6 0h1M22 366.5h1m15 0h1m92 0h1m60 0h1M16 367.5h1m113 0h1m10 0h1m12 0h1M4 368.5h1m23 0h1m75 0h1"/>
<path stroke="#2b758e" d="M15 0.5h1m8 0h1m126 0h1m8 0h1M103 1.5h1m44 0h1M40 2.5h1m14 0h1m151 0h1m19 0h1M5 3.5h1m113 0h1M8 4.5h1m56 0h1m28 0h1M47 5.5h1m59 0h1M137 6.5h1m63 0h1M139 7.5h1m16 0h1m69 0h1M139 8.5h1m57 0h1M43 9.5h1m46 0h1M42 10.5h1m12 0h1m21 0h1m62 0h1M227 11.5h1M70 12.5h1m40 0h1m28 0h1m19 0h1m65 0h1M133 13.5h1M226 14.5h1M13 15.5h1m79 0h1M76 16.5h1m32 0h1m10 0h1M11 17.5h1m36 0h1m9 0h1M26 18.5h1m23 0h1m33 0h1m102 0h1M96 19.5h1m61 0h1m17 0h1M145 20.5h1M140 21.5h1m85 0h1M11 22.5h1m13 0h1M44 23.5h1m17 0h1M8 24.5h1m134 0h1m5 0h1m35 0h1M36 25.5h1m93 0h1M10 26.5h1m10 0h1m204 0h1M23 27.5h1m13 0h1M103 28.5h1M72 29.5h1m58 0h1M68 30.5h1m107 0h1M43 31.5h1M176 32.5h1m33 0h1M62 33.5h1m88 0h1m6 0h1m45 0h1m13 0h1m8 0h1M7 34.5h1m219 0h1M43 35.5h1m22 0h1M22 37.5h1m26 0h1m147 0h1M57 39.5h1m62 0h1M0 40.5h1m25 0h1m59 0h1m11 0h1M193 41.5h1M70 42.5h1m91 0h1M132 43.5h1M3 44.5h1m139 0h1m70 0h1M4 45.5h1m180 0h1M27 46.5h1m113 0h1m58 0h1M22 47.5h1m125 0h1M163 48.5h1M52 49.5h1m43 0h1m22 0h1m72 0h1m10 0h1M46 50.5h1m1 0h1m26 0h1M160 51.5h1M13 52.5h1m161 0h1m28 0h1M30 53.5h1m59 0h1m21 0h1M119 54.5h1M53 55.5h1M218 56.5h1M149 57.5h1M12 58.5h1M22 59.5h1m6 0h2m37 0h1M215 60.5h1m10 0h1M145 63.5h1M77 64.5h1M7 66.5h1m51 0h1m42 0h1m106 0h1M15 67.5h1m210 0h2M1 68.5h1m13 0h1M9 69.5h1m12 0h1M22 70.5h1m172 0h1M9 71.5h1m82 0h1M204 72.5h1M72 73.5h1M63 74.5h1m100 0h1M93 75.5h1M83 76.5h1m51 0h1m60 0h1M27 77.5h1m52 0h1m137 0h1M153 78.5h1m60 0h1M18 79.5h1m4 0h1m62 0h1m15 0h1M14 80.5h1m3 0h1m17 0h1m50 0h1m3 0h1m3 0h1m58 0h1m23 0h1M13 81.5h1m13 0h1m1 0h1m4 0h1m1 0h1m1 0h1m50 0h1m54 0h1m8 0h1M24 82.5h1m1 0h2m1 0h1m4 0h1m2 0h1m81 0h1m2 0h1m40 0h1M27 83.5h1m29 0h1m2 0h1m10 0h1m41 0h1M26 84.5h1m132 0h1m4 0h1m30 0h1M68 85.5h1m8 0h1m53 0h1m25 0h1m60 0h1M216 86.5h1M61 87.5h1m1 0h1m53 0h1m94 0h1m5 0h1M112 88.5h1M130 89.5h1M16 90.5h1m73 0h1m25 0h1m78 0h1M58 91.5h1m92 0h1M24 92.5h1m38 0h1m98 0h1M1 93.5h1m109 0h1m89 0h1M80 94.5h1m26 0h1m102 0h1M79 95.5h1M122 96.5h1M16 97.5h1M3 98.5h1M191 99.5h1M59 100.5h1m87 0h1m3 0h1m34 0h1M79 101.5h1m112 0h1M26 102.5h1m70 0h1m41 0h1m39 0h1m6 0h1M36 103.5h1m73 0h1m52 0h1m17 0h1m7 0h1M147 104.5h1m6 0h1m31 0h1m19 0h1M27 105.5h1m20 0h1m38 0h1m70 0h1M35 106.5h1m56 0h1m39 0h1M163 107.5h1m63 0h1M16 108.5h1m7 0h1m127 0h1M22 109.5h1m35 0h1m37 0h1m55 0h1m29 0h2M45 110.5h1m8 0h1m26 0h1m6 0h1m13 0h1m11 0h1m36 0h1m2 0h1m34 0h1M46 111.5h1m64 0h1m52 0h1m32 0h1M19 112.5h1m86 0h1m6 0h1m89 0h1M111 113.5h1m2 0h1m94 0h1M31 114.5h1m31 0h1m29 0h1m1 0h1m5 0h1M78 115.5h1m7 0h1m26 0h1m19 0h1m24 0h1M71 116.5h1m6 0h1m7 0h1m64 0h1m26 0h1M83 117.5h1m19 0h1m50 0h1m9 0h1M18 118.5h1m7 0h1m56 0h1m26 0h1m3 0h1m22 0h1m42 0h1M55 119.5h1m40 0h1m35 0h1m42 0h1m43 0h1M22 120.5h1m66 0h1m7 0h1m2 0h1m14 0h1m19 0h1M24 121.5h1M59 122.5h1m39 0h1m2 0h1m18 0h1m11 0h1M11 123.5h1m52 0h1m57 0h1m104 0h1M92 124.5h1m51 0h1M64 125.5h1m11 0h2m62 0h1M80 126.5h1m52 0h1m13 0h1m15 0h1M35 127.5h1m43 0h1m17 0h1m108 0h1M99 128.5h1m56 0h1m5 0h1m64 0h1M13 129.5h1m55 0h1m6 0h1m34 0h1m31 0h1m36 0h1M97 130.5h1m37 0h1M23 131.5h1m17 0h1m43 0h1m25 0h1m44 0h1M63 132.5h1M48 133.5h1m34 0h1m25 0h1m82 0h1M43 134.5h2m113 0h1M25 135.5h2m14 0h1M43 136.5h1m15 0h1m46 0h1m2 0h1M32 137.5h1m24 0h1m22 0h1m12 0h1m8 0h1m40 0h1M50 138.5h1m5 0h1m59 0h1M101 139.5h1m37 0h1m66 0h1M64 140.5h1m55 0h1M4 141.5h1m32 0h1m4 0h1m18 0h1m17 0h1m10 0h1m22 0h1m78 0h1M37 142.5h1m29 0h1m76 0h1M87 143.5h1m59 0h1M34 144.5h1m5 0h1m48 0h1M15 145.5h1m24 0h1m25 0h1m114 0h1m2 0h1m18 0h1M57 146.5h1m92 0h1M61 147.5h1m78 0h1M13 148.5h1m213 0h1M66 149.5h1m6 0h1m48 0h1m92 0h1M19 150.5h1m16 0h1m120 0h1m7 0h1M52 151.5h1m49 0h1m17 0h1m14 0h1M27 152.5h1m51 0h1m23 0h1m28 0h1m55 0h1m4 0h1M22 153.5h1m9 0h1m16 0h1M55 154.5h1M96 155.5h1m34 0h1m9 0h1m5 0h1M25 156.5h1m6 0h1M22 157.5h1m28 0h1M26 158.5h1m160 0h1M20 159.5h1m32 0h1m7 0h1m68 0h1m35 0h1M25 161.5h1m15 0h1m46 0h1m27 0h1m62 0h1m47 0h1M27 162.5h1m198 0h1M102 163.5h1M160 164.5h1m3 0h1M120 165.5h1M25 166.5h1m36 0h1m76 0h1m59 0h1M2 167.5h1m26 0h1m118 0h1M24 168.5h1m121 0h1M24 169.5h1m2 0h1M48 170.5h1m21 0h1m109 0h1M79 171.5h1M45 173.5h1m17 0h1m162 0h1M58 174.5h1m47 0h1M87 175.5h1m44 0h1M14 176.5h1m103 0h1m90 0h1M27 177.5h1M54 178.5h1m5 0h1m51 0h1M42 179.5h1m106 0h1M25 180.5h1m106 0h1M14 181.5h1m13 0h1m44 0h1m56 0h1m16 0h1m1 0h1M82 182.5h1m66 0h1m26 0h1M105 183.5h1m97 0h1M96 184.5h1M40 186.5h1m81 0h1m104 0h1M87 187.5h1m34 0h1m28 0h1M118 188.5h1m23 0h1m68 0h1M189 189.5h1M5 190.5h1m19 0h1M29 191.5h1m37 0h1m43 0h1m10 0h1M6 192.5h1M216 193.5h1M22 194.5h1m40 0h1m70 0h1M1 195.5h1m9 0h1m38 0h1m91 0h1m5 0h1m15 0h1M1 196.5h1m73 0h1m10 0h1m27 0h1m1 0h1m21 0h1M86 197.5h1m1 0h1m53 0h1m8 0h1M12 198.5h1m40 0h1m29 0h1m29 0h1m31 0h1m57 0h1M24 199.5h1m2 0h2m188 0h1M15 200.5h1m7 0h1m2 0h1m126 0h1m21 0h1m23 0h2m5 0h1M112 201.5h1m4 0h1m35 0h1m2 0h1m60 0h2M151 202.5h1m6 0h1m17 0h1m22 0h1m6 0h1m4 0h1M27 203.5h1m16 0h1m8 0h1m45 0h1m44 0h1m18 0h1m16 0h2m21 0h1M15 204.5h1m11 0h1m35 0h1m55 0h1m16 0h1m5 0h1m54 0h1M47 205.5h1m126 0h1m4 0h1m14 0h1M9 206.5h1m12 0h1m42 0h1m69 0h1m81 0h1m8 0h1M26 207.5h1m93 0h1m1 0h1m38 0h1m34 0h1M18 208.5h1m3 0h1m38 0h1m18 0h1m38 0h1m57 0h1M12 209.5h1m72 0h1m33 0h1m18 0h1m22 0h2m3 0h1m21 0h1m24 0h1M94 210.5h1m21 0h1m3 0h1m41 0h1m42 0h1M22 211.5h1m71 0h1m11 0h1m12 0h1m14 0h1m59 0h1M70 212.5h1m13 0h1m7 0h1m48 0h1m3 0h1m31 0h1M55 213.5h1m18 0h1m11 0h1m8 0h1m35 0h1m3 0h1m11 0h1m43 0h1m25 0h1M27 214.5h1m42 0h1m16 0h1m2 0h1m5 0h1m58 0h1m23 0h1m3 0h1m14 0h1M48 215.5h1m2 0h1m23 0h1m14 0h1m68 0h1m41 0h1m8 0h1M24 216.5h1m54 0h1m15 0h1m9 0h1m34 0h1M34 217.5h2m50 0h1m34 0h1m11 0h1m15 0h1m26 0h1m22 0h1M26 218.5h1m17 0h1m9 0h1m15 0h1M27 219.5h1m21 0h1m10 0h2m29 0h1m5 0h1m8 0h1m7 0h1m5 0h1m13 0h1M14 220.5h1m21 0h1m59 0h1m18 0h1m5 0h1m17 0h1m4 0h1m3 0h1m1 0h1M9 221.5h1m46 0h1m19 0h1m2 0h1m61 0h1m2 0h1m16 0h1m58 0h1M28 222.5h1m26 0h1m29 0h1m16 0h1m117 0h1M28 223.5h1m12 0h1m1 0h1m27 0h1m26 0h1m92 0h1m27 0h1m6 0h1M72 224.5h1m17 0h1m65 0h1m21 0h1m41 0h1M14 225.5h1m10 0h1m31 0h1m22 0h1m8 0h1m24 0h1m47 0h1m64 0h1M42 226.5h1m21 0h1m13 0h1m41 0h1m33 0h1m62 0h1M23 227.5h1m2 0h1m52 0h1m29 0h1M84 228.5h1m13 0h1m47 0h1m67 0h1M218 229.5h1m8 0h1M20 230.5h1m50 0h1m137 0h1M75 231.5h1m40 0h1m24 0h1m37 0h1m17 0h1M59 232.5h1m116 0h1m25 0h1m9 0h1M24 234.5h1m2 0h1m9 0h1m28 0h1m17 0h1m17 0h1m11 0h1m48 0h1M114 235.5h1m78 0h1M16 236.5h1m63 0h2m24 0h1m4 0h1m18 0h1m57 0h1M24 237.5h1m1 0h2m48 0h1m25 0h1m16 0h1m29 0h1m43 0h1M26 238.5h1m133 0h1m13 0h1M30 239.5h1m134 0h1M30 240.5h1m29 0h1m57 0h1M84 241.5h1m68 0h1M27 242.5h2m28 0h1m96 0h1m72 0h1M13 243.5h1m14 0h1m28 0h1m40 0h1m51 0h1M57 244.5h1M57 245.5h1m15 0h1m145 0h1m7 0h1M5 246.5h1m65 0h1m49 0h1m8 0h1M136 247.5h1M24 248.5h1m65 0h1m30 0h1m74 0h1M11 249.5h1m2 0h1m12 0h1m38 0h1M1 250.5h1m23 0h1m110 0h1m90 0h1M133 251.5h1m43 0h1m3 0h1M133 252.5h1m22 0h1m8 0h1M155 253.5h1m21 0h1M17 254.5h1m159 0h1m20 0h1m10 0h1M23 255.5h1m72 0h1m89 0h1M8 256.5h1m4 0h1m10 0h1m1 0h1m6 0h1m125 0h1M24 257.5h1m3 0h1m26 0h1m8 0h1m41 0h1M23 258.5h1m88 0h2m18 0h1m23 0h1m20 0h1M25 259.5h2m87 0h1m41 0h1m28 0h1m5 0h1M28 260.5h1m73 0h1M28 261.5h1M7 262.5h1m30 0h1m45 0h1m56 0h1m33 0h1m10 0h1M26 263.5h1m69 0h1M28 264.5h1m3 0h1m14 0h1m28 0h1M13 265.5h1m4 0h1m17 0h1m128 0h1M56 266.5h1m61 0h1m82 0h1M227 267.5h1M74 268.5h1M24 269.5h1m62 0h1m1 0h1m65 0h1M4 270.5h1m40 0h1M20 271.5h1m72 0h1m45 0h1M22 272.5h1m33 0h1m149 0h1M26 273.5h1m139 0h1m52 0h1M89 274.5h1m4 0h1m83 0h1M36 275.5h1m10 0h1M52 276.5h1m63 0h1M13 277.5h2m94 0h1m116 0h1M23 278.5h1m17 0h1m5 0h1m12 0h1M82 279.5h1m15 0h1M22 280.5h1m71 0h1M25 281.5h1m34 0h1m1 0h2m99 0h1M15 282.5h1m2 0h1m113 0h1m69 0h1M13 283.5h1m12 0h1m1 0h1m89 0h1m77 0h1M14 284.5h1m16 0h1m59 0h1m61 0h1M145 285.5h1m43 0h1m5 0h1m13 0h1M24 286.5h1m71 0h1m37 0h1m42 0h1m30 0h1M25 287.5h1m66 0h1m61 0h1m55 0h1M90 288.5h1m55 0h1m65 0h1M80 289.5h1m41 0h1M11 290.5h1m16 0h1m1 0h1m37 0h1m37 0h1m5 0h2M64 291.5h1m83 0h1M115 292.5h1m32 0h1M23 293.5h2m63 0h1m99 0h1m37 0h1M27 294.5h1M65 295.5h1m140 0h1M40 296.5h1m4 0h1m18 0h1m161 0h1M63 298.5h1m38 0h1m11 0h1m29 0h1M95 299.5h1m34 0h1m71 0h1M24 300.5h1m77 0h1m74 0h1m6 0h1m42 0h1M53 301.5h1m121 0h1M22 302.5h1m136 0h1m66 0h1M25 303.5h1m96 0h1m38 0h1m1 0h1m10 0h1M28 304.5h1m112 0h1M26 305.5h1m174 0h1M46 306.5h1m15 0h1M25 307.5h1M15 308.5h1M45 309.5h1m26 0h1m6 0h1m33 0h1m40 0h1M11 310.5h1m33 0h1m142 0h1M14 311.5h1m212 0h1M28 312.5h1M77 314.5h1M4 315.5h1M14 316.5h1m29 0h1m45 0h1m66 0h1m4 0h1M24 317.5h1m29 0h1m8 0h2m2 0h1m47 0h1m28 0h1M4 318.5h1m58 0h1M26 319.5h1m16 0h1m14 0h1M31 320.5h1m37 0h1m30 0h1m21 0h1M25 321.5h1m24 0h1m71 0h1m103 0h1M40 322.5h1M178 323.5h1M91 324.5h1m23 0h1M27 325.5h1m92 0h1m33 0h1M28 326.5h1m58 0h1m21 0h1M27 327.5h1M144 328.5h1m60 0h1m1 0h1M5 329.5h1m192 0h1M191 330.5h1m35 0h1M134 331.5h1m75 0h1m16 0h1M22 332.5h1m88 0h1M26 333.5h1m68 0h1m60 0h1M174 334.5h1M13 335.5h1m82 0h1m50 0h1M15 336.5h1m8 0h1m42 0h1m93 0h1m44 0h1M26 337.5h1M0 338.5h1m88 0h1m31 0h1m18 0h1m13 0h1M26 339.5h1m134 0h1M43 340.5h1M43 342.5h1m159 0h1M35 343.5h1m152 0h1M17 344.5h1m12 0h1m65 0h1m56 0h1M93 346.5h1m49 0h1m9 0h1m31 0h1m17 0h1M26 347.5h1m20 0h1m87 0h1m91 0h1M201 348.5h1m7 0h1M24 349.5h1m77 0h1m73 0h1m50 0h1M52 350.5h1m134 0h1M59 351.5h1m29 0h1m73 0h1M191 352.5h1M24 353.5h1m1 0h1m69 0h1M114 354.5h1m43 0h1M175 355.5h1m15 0h1m16 0h1M155 356.5h1M102 357.5h1m58 0h1m2 0h1M22 358.5h2M72 359.5h1m31 0h1m101 0h1M90 360.5h1m22 0h1M1 361.5h1m102 0h2M22 362.5h1m73 0h1m15 0h1m80 0h1M139 363.5h1m4 0h1m18 0h1M117 364.5h1M164 365.5h1M22 367.5h1m2 0h1m39 0h1m23 0h1m17 0h1M20 368.5h1m27 0h1m17 0h1m14 0h1m5 0h1"/>
<path stroke="#21918c" d="M207 1.5h1M31 2.5h1M56 3.5h1m83 0h1m67 0h1M7 4.5h1m218 0h1M204 5.5h1M77 6.5h1m61 0h1M226 8.5h1M111 9.5h1M40 11.5h1M18 13.5h1m2 0h2m3 0h1M147 15.5h1M36 17.5h1m113 0h1M120 18.5h1M43 20.5h1m22 0h1m22 0h1m20 0h1M44 21.5h1M44 22.5h1M15 25.5h1M116 28.5h1M4 29.5h1M16 30.5h1M23 31.5h1M15 32.5h1m105 0h1m82 0h1m21 0h1M64 33.5h1M23 34.5h1m180 0h1M26 35.5h1m89 0h1M26 36.5h1M111 38.5h1m40 0h1M181 39.5h1M136 40.5h1M97 41.5h1M226 42.5h1M15 44.5h1M227 45.5h1M27 47.5h1m175 0h1M46 49.5h1m173 0h1M144 51.5h1M17 53.5h1m209 0h1M12 57.5h1m12 0h1m201 0h1M68 58.5h1m27 0h1M12 59.5h1M12 60.5h1m1 0h1M24 61.5h1m14 0h1M22 63.5h1m124 0h1M23 64.5h1m57 0h1m144 0h1M81 65.5h1m63 0h1m70 0h1M73 71.5h1M185 72.5h1M10 73.5h1M139 74.5h1M175 76.5h1M35 80.5h1m4 0h1m77 0h1M3 81.5h1m10 0h1m9 0h1m15 0h1M23 82.5h1m12 0h1m1 0h1m1 0h1M84 83.5h1M22 84.5h1m87 0h1M22 85.5h1m128 0h1M131 86.5h1M131 87.5h1M30 88.5h1m102 0h1m77 0h1M146 91.5h1m79 0h1M22 92.5h1m50 0h1M80 95.5h1m32 0h1m50 0h1M103 96.5h1m9 0h1M41 97.5h1m152 0h1m5 0h1M186 99.5h1M184 100.5h1m11 0h1M186 101.5h1m39 0h1M191 102.5h1M26 103.5h1m14 0h1m123 0h1M25 105.5h1m156 0h1M175 106.5h1m51 0h1M116 108.5h1m45 0h1m1 0h1m13 0h1M28 109.5h1m126 0h1m50 0h1M95 110.5h1m10 0h1m113 0h1M27 111.5h1m41 0h1m36 0h1m53 0h1m59 0h1M26 112.5h1M3 113.5h1m18 0h1m71 0h1m18 0h1m5 0h1M3 114.5h1m82 0h1m63 0h1M66 115.5h1m4 0h2m8 0h1m13 0h2m5 0h1M27 116.5h1m41 0h1m32 0h1m47 0h1m39 0h1M134 118.5h1m3 0h1M62 119.5h1m22 0h1m9 0h1m1 0h1m36 0h1M58 120.5h1m2 0h1m89 0h1m75 0h1M28 121.5h1m39 0h1m8 0h1m75 0h1M16 122.5h1m36 0h1m18 0h1m25 0h1m13 0h1M15 123.5h1m59 0h1m26 0h1m2 0h1m33 0h1M1 124.5h1m68 0h1m45 0h1m5 0h1m103 0h1M113 125.5h1m85 0h1M52 126.5h1m5 0h1m62 0h1M113 127.5h1m7 0h1m58 0h1M71 128.5h1m2 0h1m105 0h1M15 129.5h1m31 0h1m22 0h1m62 0h1m1 0h1M74 130.5h1m17 0h1m10 0h1m76 0h1M22 131.5h1m38 0h1m21 0h1M60 132.5h1m17 0h1m23 0h1m123 0h1M96 133.5h1m14 0h1m46 0h1M23 134.5h1m4 0h1m186 0h1m10 0h1M40 135.5h1m25 0h1m7 0h1m15 0h1m3 0h1m11 0h1m51 0h1M34 136.5h1m20 0h1M18 137.5h1m8 0h1m16 0h1m20 0h1m34 0h1m10 0h1M58 138.5h1m40 0h1m1 0h1M36 139.5h1m10 0h1m2 0h1m28 0h1m147 0h1M43 140.5h1m35 0h2m7 0h1m2 0h1m8 0h1M68 141.5h1m4 0h1m19 0h1m45 0h1M12 142.5h1m58 0h1m3 0h1m21 0h1M40 143.5h1m13 0h1m7 0h1m9 0h1M38 144.5h1m15 0h1m32 0h1M34 145.5h1m3 0h2m13 0h1m3 0h1m29 0h1m26 0h1M26 146.5h1m87 0h1M48 147.5h1m5 0h1m10 0h1m15 0h1m145 0h1M26 148.5h1m11 0h1M50 150.5h3m2 0h1M44 151.5h1m2 0h1m45 0h1M26 153.5h1m2 0h1m34 0h1M226 154.5h1M23 155.5h1m24 0h1m165 0h1M212 156.5h1M23 157.5h1m188 0h1M41 160.5h1M22 162.5h1m141 0h1M24 165.5h1m74 0h1M14 170.5h1m12 0h1m128 0h1M25 171.5h1M28 173.5h1m154 0h1M215 174.5h1M26 177.5h1m5 0h1m3 0h1M25 178.5h1m123 0h1m77 0h1M22 180.5h1m126 0h1M4 181.5h1M28 182.5h1m67 0h1M117 186.5h1M63 187.5h1m11 0h1m41 0h1M107 189.5h1M102 190.5h1M227 191.5h1M25 192.5h1m51 0h1m10 0h1M15 194.5h1m12 0h1M128 196.5h1M111 197.5h1m25 0h1M117 198.5h1m21 0h1m1 0h1m10 0h1m61 0h1m12 0h1M105 199.5h1m14 0h1m24 0h1m29 0h1m26 0h1m5 0h1m4 0h1M161 200.5h1M143 201.5h1m16 0h1m31 0h1m13 0h1M4 202.5h1m2 0h1m12 0h1m187 0h1M22 203.5h1m118 0h1m22 0h1m14 0h1m27 0h1M182 204.5h1m37 0h1M109 205.5h1m70 0h1m7 0h1m26 0h1M26 206.5h1M23 207.5h1m92 0h1m40 0h1m8 0h1m47 0h1m1 0h1M12 208.5h1m46 0h1m5 0h1m7 0h1m29 0h1m92 0h1m9 0h1M83 209.5h1m8 0h1m2 0h1m17 0h1m26 0h1m15 0h1m1 0h1m1 0h1m49 0h1M15 210.5h1m36 0h1m18 0h1m1 0h1M85 211.5h1m12 0h1m42 0h2m16 0h1m57 0h1M26 212.5h1m67 0h1m1 0h1m9 0h1m28 0h1m3 0h1m45 0h1M18 213.5h1m48 0h1m32 0h1m20 0h1m44 0h1m28 0h1M24 214.5h1m27 0h1m33 0h1m12 0h1m4 0h1m35 0h1m7 0h1m45 0h1m9 0h1M46 215.5h1m23 0h1m8 0h1m37 0h1m20 0h1m1 0h1m39 0h1m13 0h1m7 0h1m23 0h1M26 216.5h2m108 0h1m56 0h1m10 0h1M16 217.5h1m25 0h1m6 0h1m32 0h1m22 0h1m38 0h1m35 0h1M61 218.5h1m13 0h1m6 0h1m3 0h1m9 0h1m6 0h1m2 0h1m2 0h1m24 0h1m2 0h1m20 0h1m21 0h1m46 0h1M82 219.5h1m27 0h1m40 0h1m38 0h1M38 220.5h1m19 0h1m33 0h1m40 0h1m49 0h1M28 221.5h1m6 0h1m6 0h1m42 0h1m73 0h1M22 222.5h1m20 0h1m39 0h1m49 0h1m10 0h1m29 0h1m51 0h1M54 223.5h2m3 0h1m7 0h1m6 0h1m4 0h1m2 0h1m1 0h1m14 0h1m10 0h1m6 0h1m16 0h1m15 0h1m2 0h1m4 0h1M23 224.5h1m47 0h1m10 0h1m64 0h1M66 225.5h1m31 0h1m2 0h1m7 0h2m4 0h1m25 0h2m10 0h1M15 226.5h1m88 0h1m5 0h1m6 0h1M87 227.5h1m7 0h1M26 228.5h1m54 0h1m62 0h1M91 229.5h1M146 230.5h1M28 231.5h1M178 232.5h1M114 233.5h1M99 234.5h1M1 235.5h1m22 0h1M76 236.5h1m25 0h1m103 0h1M24 239.5h1m65 0h1M158 240.5h1m48 0h1M57 241.5h1m72 0h1m27 0h1m48 0h1M16 242.5h1m6 0h1M27 244.5h1M16 245.5h1m5 0h1M196 247.5h1M98 248.5h1m67 0h1M177 250.5h1M130 252.5h1m46 0h1M22 253.5h1M28 254.5h1m67 0h1M15 256.5h1m39 0h1M3 257.5h1m152 0h1m70 0h1M157 260.5h1M22 262.5h1M111 264.5h1M118 265.5h1m78 0h1M22 266.5h1m174 0h1M118 267.5h1M24 268.5h1m5 0h1m195 0h1M4 269.5h1m86 0h1M14 270.5h1m176 0h1M166 272.5h1M84 274.5h1m37 0h1M84 275.5h1m48 0h1M47 276.5h1m86 0h1M44 277.5h1m89 0h1M193 279.5h1M164 280.5h1M23 281.5h1m67 0h1M22 283.5h1M196 284.5h1M210 285.5h1M25 286.5h1m1 0h1M22 287.5h2m76 0h1m107 0h1M28 289.5h1m59 0h1M25 290.5h1m122 0h1M88 291.5h1m138 0h1M88 292.5h1m54 0h1M132 293.5h1m10 0h1M25 295.5h1m1 0h1M132 297.5h1M165 298.5h1M23 299.5h2m27 0h1m112 0h1M63 301.5h1M63 302.5h1M25 304.5h1m200 0h1M74 305.5h1M101 306.5h1M112 308.5h1M23 309.5h1m4 0h1M28 310.5h1M72 312.5h1m68 0h1M8 313.5h1m63 0h1m68 0h1m85 0h1M28 314.5h1m112 0h1M42 315.5h1M134 316.5h1M22 317.5h1M23 318.5h1m37 0h1M137 319.5h1M27 320.5h1m109 0h1M104 322.5h1M25 323.5h1m200 0h1M89 326.5h1m119 0h1M22 327.5h1m5 0h1m32 0h1M22 329.5h1m168 0h1M61 330.5h1M152 331.5h1M74 333.5h1m127 0h1M63 334.5h1m163 0h1M63 335.5h1M56 336.5h1m6 0h1M227 337.5h1M2 338.5h1m131 0h1m83 0h1M27 339.5h1m15 0h1M19 341.5h1M97 342.5h1M25 343.5h1M188 344.5h1M28 345.5h1m46 0h1m37 0h1m29 0h1M142 347.5h1M143 348.5h1m9 0h1M23 349.5h1m3 0h1M89 350.5h1M195 351.5h1M89 352.5h1m136 0h1M227 353.5h1M30 354.5h1M29 356.5h1m74 0h1M202 357.5h1M151 358.5h1M26 359.5h1M42 360.5h1m59 0h1M24 361.5h1m87 0h1M23 362.5h1m79 0h1M23 363.5h2M112 364.5h1M22 365.5h1m4 0h1M28 366.5h1m131 0h1M48 367.5h1M182 368.5h2m36 0h1"/>
<path stroke="#25ab82" d="M14 0.5h1m13 0h1M27 1.5h1m11 0h1M23 2.5h1M204 4.5h1M88 17.5h1M74 20.5h1m11 0h1m133 0h1M227 23.5h1M226 25.5h1M116 27.5h1M159 29.5h1M204 31.5h1M68 37.5h1m35 0h1M181 38.5h1M23 40.5h1m16 0h1m140 0h1M220 48.5h1M24 49.5h1M177 50.5h1M59 52.5h1M84 54.5h1M227 56.5h1M23 61.5h1M145 62.5h1M81 63.5h1M4 65.5h1M4 66.5h1M73 70.5h1M46 74.5h1M26 75.5h1m61 0h1M13 80.5h1m15 0h1m11 0h1m58 0h1m13 0h1m7 0h1M87 81.5h1m3 0h1m30 0h1M14 82.5h1m72 0h1m3 0h1m8 0h1M110 83.5h1m46 0h1M131 84.5h1m25 0h1M21 85.5h1M21 86.5h1m135 0h1M67 88.5h1M192 89.5h1M25 91.5h1M210 92.5h1M59 93.5h1M202 94.5h1m24 0h1M103 95.5h1M24 96.5h1M187 100.5h1m39 0h1M163 102.5h1M180 104.5h1M179 105.5h1M176 106.5h1M7 107.5h1M26 110.5h1m53 0h1M83 111.5h1m17 0h1m5 0h1m95 0h1M94 112.5h1m6 0h1m9 0h1m27 0h1M141 113.5h1m61 0h1M69 114.5h1m36 0h1M63 115.5h1m12 0h1m3 0h1m3 0h1m4 0h1m11 0h1m20 0h1m23 0h1M83 116.5h1m17 0h1m9 0h1M119 117.5h1M85 118.5h1m15 0h1M56 119.5h1m4 0h1m29 0h1m19 0h1m35 0h1M86 120.5h1M85 121.5h1m54 0h1m86 0h1M108 122.5h1m8 0h1m21 0h1M121 123.5h1M85 124.5h1m21 0h1M55 125.5h1M71 126.5h2m28 0h1m78 0h1M83 127.5h1M56 128.5h1m2 0h1m29 0h1m4 0h1m8 0h1m7 0h1m2 0h1M51 129.5h1m3 0h1m12 0h1m38 0h1M61 130.5h1m14 0h2M53 131.5h1m13 0h1m12 0h1m12 0h1m8 0h1m7 0h1M46 132.5h1m9 0h1m33 0h1m2 0h1M44 133.5h1m29 0h1m2 0h1m26 0h1M53 134.5h1m4 0h1m35 0h1M15 135.5h1m46 0h1m44 0h1M40 136.5h1m48 0h1m3 0h1m9 0h1M81 137.5h1m19 0h1M42 138.5h1m8 0h1m30 0h1M74 139.5h1m7 0h2m8 0h1M35 140.5h1m26 0h1m38 0h1M55 141.5h1m6 0h1m19 0h1M55 142.5h1m31 0h1m5 0h1M51 143.5h2M52 144.5h1m8 0h1m4 0h1M58 145.5h2m20 0h1M65 146.5h1M57 148.5h1m5 0h1M48 149.5h2m11 0h1M49 150.5h1M38 151.5h1M34 152.5h1M24 154.5h1m14 0h1M212 155.5h1M4 156.5h1m85 0h1M18 159.5h1M50 162.5h1M62 165.5h1M183 172.5h1M25 173.5h1m164 0h1M117 185.5h1m4 0h1M195 190.5h1M24 191.5h1M1 194.5h1M86 195.5h1m62 0h1M121 196.5h1m39 0h1M159 197.5h1M24 198.5h1m177 0h1M25 199.5h1m91 0h1m32 0h1m8 0h1m1 0h1M111 200.5h1m7 0h1m1 0h1m11 0h1m8 0h1m5 0h1m10 0h1m49 0h1m6 0h1M113 201.5h1m7 0h1m30 0h1m10 0h1M153 202.5h1m27 0h1M142 203.5h1m4 0h1m30 0h1m11 0h1M141 204.5h1m36 0h1M79 205.5h1m64 0h1m75 0h1M34 206.5h1m83 0h1m77 0h1M24 207.5h1m115 0h1m45 0h1m26 0h1m1 0h1M25 208.5h1m62 0h1m47 0h1m29 0h1m48 0h1M65 209.5h1m33 0h1m50 0h1M67 210.5h1m51 0h1M55 211.5h1m46 0h1m9 0h1m1 0h1m46 0h1m40 0h1m17 0h1M86 212.5h1m3 0h1m21 0h1m20 0h1m30 0h1m50 0h1M39 213.5h1m7 0h1m89 0h1m10 0h1M43 214.5h1m21 0h1m19 0h1m45 0h1m6 0h2m61 0h1m6 0h1m5 0h1M38 215.5h1m10 0h1m5 0h1m21 0h1m61 0h1m39 0h1m31 0h1M92 216.5h1m4 0h1m6 0h1m33 0h2m51 0h1M61 217.5h1m74 0h2m1 0h1m17 0h2m39 0h1m1 0h1M40 218.5h1m80 0h1m43 0h1m18 0h1m5 0h1M48 219.5h1m32 0h1m1 0h1m5 0h1m3 0h1m37 0h1m7 0h1m7 0h1m1 0h1m10 0h1m24 0h2m2 0h1m29 0h1M25 220.5h1m14 0h1m5 0h1m71 0h1m15 0h1m5 0h1m35 0h1m49 0h1M53 221.5h2m2 0h1m19 0h1m37 0h1m18 0h1m3 0h1m15 0h1m2 0h1m18 0h1M53 222.5h1m59 0h1m4 0h1M36 223.5h1m14 0h1m6 0h1m16 0h1m2 0h1m21 0h1m1 0h1m10 0h1m18 0h1m21 0h1M37 224.5h1m6 0h1m97 0h1m2 0h1m9 0h1M48 225.5h1m19 0h1M65 226.5h2m1 0h1m12 0h2M46 227.5h1m20 0h1m23 0h1M25 229.5h1M2 230.5h1m19 0h1M25 231.5h1m152 0h1M178 233.5h1M188 235.5h1M25 236.5h1m70 0h1M48 237.5h1m47 0h1M158 239.5h1M156 242.5h1M156 243.5h1M146 246.5h1M133 250.5h1M165 251.5h1M89 252.5h1m56 0h1M146 253.5h1M99 257.5h1m61 0h1M113 264.5h1M113 265.5h1M19 270.5h1m52 0h1M22 273.5h1M47 274.5h1m108 0h1M47 277.5h1M91 283.5h1M23 290.5h1M118 294.5h1m64 0h1M103 300.5h1M45 308.5h1m3 0h1M188 309.5h1M85 310.5h1m30 0h1M8 312.5h1M26 320.5h1m113 0h1M23 326.5h1m1 0h1m1 0h1m104 0h1M34 327.5h1M34 328.5h1M61 329.5h1M133 331.5h1M63 337.5h1m70 0h1M63 338.5h1M24 345.5h1M140 346.5h1M195 348.5h1M89 349.5h1m105 0h1M28 351.5h1m160 0h1M25 353.5h1M25 354.5h1m124 0h1M226 357.5h1M80 359.5h1M122 360.5h1M206 363.5h1M177 364.5h1M160 365.5h1M48 366.5h1M227 367.5h1M27 368.5h1m1 0h1m78 0h1m54 0h1m21 0h1"/>
<path stroke="#4ec36b" d="M35 4.5h1M27 9.5h1M40 10.5h1M21 12.5h1M47 38.5h1M11 40.5h1M81 62.5h1M26 66.5h1m81 0h1M180 67.5h1M210 88.5h1m8 0h1M113 94.5h1M41 95.5h1M41 96.5h1M188 97.5h1M192 99.5h1M188 102.5h1M164 103.5h1M175 104.5h1M158 108.5h1M146 109.5h1m2 0h1M162 110.5h1M94 111.5h1m68 0h1M77 113.5h1m73 0h1M96 114.5h1M77 115.5h1m34 0h1m5 0h1m34 0h1M113 116.5h1m34 0h1M98 117.5h1m10 0h1M24 118.5h1m31 0h1m38 0h1m12 0h1m39 0h1m4 0h1M65 119.5h1m20 0h1m30 0h1m2 0h1m20 0h1M69 120.5h1m1 0h1M134 122.5h1M109 123.5h1M89 124.5h1m55 0h1M57 125.5h1m32 0h1m43 0h1M113 126.5h1m2 0h1M59 127.5h1m56 0h1m17 0h1M50 128.5h1m4 0h1m20 0h1m31 0h1m4 0h1m24 0h1M88 129.5h1M50 130.5h1m69 0h1M46 131.5h1M48 132.5h1m1 0h1m7 0h1M97 133.5h1M34 135.5h1m53 0h1m8 0h1m2 0h1M81 136.5h1M55 137.5h1m18 0h1M43 139.5h1m34 0h1m5 0h1m2 0h1m2 0h1m13 0h1M55 140.5h1m11 0h1m14 0h1m2 0h1m6 0h1M64 141.5h1m32 0h1M38 142.5h1m5 0h1m8 0h1M59 143.5h1m6 0h1m16 0h1M43 144.5h1M51 145.5h1m4 0h1m21 0h1m140 0h1M48 146.5h1m5 0h1m11 0h1m6 0h1m4 0h1M55 149.5h1M34 151.5h1m75 0h1M39 153.5h1M15 156.5h1M157 161.5h1M26 166.5h1M38 169.5h1m117 0h1M13 170.5h1M109 171.5h1M134 178.5h1M9 190.5h1M156 195.5h1m6 0h1M227 197.5h1M165 198.5h1M106 199.5h1m29 0h1m9 0h1m62 0h1M110 200.5h1m9 0h1m90 0h1M145 201.5h1m56 0h1m17 0h1M133 202.5h1m56 0h1m22 0h1M26 203.5h1m135 0h1m19 0h1m33 0h1M162 204.5h1m21 0h1m22 0h1M107 205.5h1m8 0h1m3 0h1m19 0h1m42 0h2m22 0h1m8 0h1M114 206.5h1m23 0h1m7 0h1m8 0h1m5 0h1m21 0h1m29 0h1m4 0h1M107 207.5h1m5 0h1m40 0h1m38 0h2m14 0h1m2 0h1M92 208.5h1m50 0h1m6 0h1m4 0h1m5 0h1m26 0h1m1 0h1m2 0h1m18 0h1M15 209.5h1m80 0h1m48 0h1m1 0h2m14 0h1m10 0h1m8 0h1m13 0h1m3 0h1M55 210.5h1m2 0h1m3 0h1m9 0h1m5 0h1m19 0h1m15 0h1m17 0h1m4 0h1m12 0h1m3 0h1m60 0h1M78 211.5h1m8 0h1m7 0h1m8 0h1m32 0h1m6 0h1m20 0h1m52 0h1M18 212.5h1m36 0h1m2 0h1m9 0h1m9 0h1m12 0h1m16 0h1m4 0h1m41 0h1m23 0h1m2 0h1m31 0h1M23 213.5h1m19 0h2m32 0h1m6 0h1m17 0h1m13 0h1m16 0h1m6 0h1m3 0h1m33 0h1m10 0h1m2 0h1m9 0h1m1 0h1m1 0h1m3 0h1m4 0h1m2 0h1M63 214.5h1m24 0h1m8 0h1m9 0h1m4 0h1m4 0h1m66 0h1m7 0h1m17 0h1M60 215.5h1m26 0h1m8 0h1m7 0h1m1 0h1m8 0h1m26 0h1m32 0h1m12 0h1m8 0h2M64 216.5h2m7 0h1m4 0h1m58 0h1m3 0h1m16 0h2m2 0h1m23 0h1m2 0h1m10 0h1M87 217.5h1m10 0h1m4 0h1m9 0h1m5 0h1m27 0h1m15 0h1m13 0h1M57 218.5h1m21 0h1m5 0h1m5 0h1m2 0h1m40 0h1m15 0h1m27 0h1M35 219.5h1m10 0h1m9 0h1m9 0h1m5 0h1m2 0h1m1 0h1m26 0h1m10 0h1m24 0h1m4 0h1m8 0h1m10 0h1m12 0h2m12 0h1M41 220.5h1m1 0h1m34 0h1m11 0h1m8 0h1m8 0h1m1 0h1m43 0h1M37 221.5h2m21 0h1m8 0h1m31 0h1m12 0h1m5 0h1m53 0h1M56 222.5h1m3 0h1m1 0h1m4 0h1m10 0h1m3 0h1m14 0h1m8 0h1m39 0h1m3 0h1m8 0h1M35 223.5h1m2 0h1m27 0h1m5 0h1m31 0h1m9 0h1m22 0h1m6 0h1m2 0h1m1 0h1m9 0h1M35 224.5h1m7 0h1m2 0h1m7 0h1m31 0h1m6 0h1m8 0h1m5 0h1m25 0h1m18 0h1m10 0h1M33 225.5h2m23 0h1m2 0h1m13 0h1m5 0h2m11 0h1m8 0h1m4 0h1m2 0h1m4 0h1m14 0h1M34 226.5h1m1 0h1m9 0h1m10 0h1m13 0h1m4 0h2m1 0h1m5 0h1m1 0h1m5 0h1m8 0h1m10 0h1m2 0h1m2 0h1M51 227.5h1m29 0h1m2 0h1m23 0h1M21 229.5h1M216 236.5h1M13 241.5h1M24 245.5h1M23 256.5h1M24 275.5h1M207 277.5h1M204 285.5h1M67 295.5h1M113 308.5h1M8 311.5h1M137 318.5h1M14 324.5h1M63 333.5h1M104 336.5h1M226 338.5h1M63 339.5h1M109 340.5h1M14 345.5h1M88 359.5h1M25 362.5h1M166 368.5h1"/>
<path stroke="#b5de2b" d="M62 1.5h1M14 17.5h1M13 21.5h1M116 26.5h1M28 28.5h1M144 50.5h1M20 80.5h1m6 0h1m25 0h1m4 0h2m1 0h1m3 0h1m3 0h1M31 81.5h1m22 0h1m3 0h1m8 0h1m4 0h1m9 0h1M15 82.5h1m16 0h1m14 0h1m15 0h2M23 89.5h1M57 104.5h1M80 109.5h1M159 111.5h1M148 112.5h1M96 113.5h1M77 114.5h1m34 0h1m9 0h1M119 116.5h1M71 117.5h1m2 0h1m71 0h1M78 118.5h1m30 0h1m36 0h1M108 119.5h2m33 0h1M91 120.5h1m19 0h1M91 121.5h1m19 0h1M71 122.5h1m8 0h1M146 123.5h1M72 125.5h1m28 0h1M83 126.5h1M54 128.5h1M53 129.5h2m16 0h1M71 130.5h1m7 0h1m3 0h1M50 131.5h1m39 0h1m16 0h1M53 133.5h1M109 135.5h1M65 136.5h1M46 137.5h1m5 0h1m1 0h1m12 0h1M66 138.5h1m7 0h1M71 139.5h1m28 0h1M71 140.5h1M117 141.5h1M28 142.5h1M50 143.5h1M41 144.5h1m17 0h1M75 145.5h1M45 146.5h1M45 147.5h1m6 0h1M46 148.5h1m1 0h1M15 151.5h1m29 0h1M65 156.5h1M131 157.5h1M157 159.5h1M157 160.5h1M27 161.5h1M93 164.5h1M15 180.5h1M22 193.5h1M119 196.5h1M113 197.5h1M121 198.5h1M214 200.5h1m3 0h1M110 201.5h1m82 0h1m22 0h1m10 0h1M113 202.5h1m105 0h1M115 203.5h1m90 0h1m7 0h2m1 0h1M120 204.5h1m59 0h1m32 0h1M134 205.5h1m58 0h1m10 0h1m6 0h1M122 206.5h1m31 0h1m20 0h1m4 0h1m11 0h1m10 0h1m5 0h1M132 207.5h1m56 0h1m28 0h1M85 208.5h1M78 209.5h1m65 0h1m54 0h1m8 0h1m8 0h1M96 210.5h1m49 0h1m5 0h1m8 0h1m3 0h1m32 0h1m19 0h2M80 211.5h1m7 0h1m3 0h1m23 0h1m3 0h1m24 0h1m1 0h1m3 0h1m3 0h1m28 0h1m2 0h1m20 0h2m1 0h1M88 212.5h1m6 0h1m6 0h1m16 0h1m22 0h1m8 0h1m40 0h1m5 0h1m19 0h1M61 213.5h1m1 0h1m4 0h1m4 0h1m31 0h1m1 0h2m29 0h2m53 0h1m4 0h1m4 0h1m4 0h2M51 214.5h1m21 0h2m6 0h1m33 0h1m2 0h1m47 0h1m7 0h1m1 0h1m26 0h1m12 0h1M50 215.5h1m2 0h1m32 0h1m2 0h1m51 0h1m4 0h1m3 0h1m4 0h1m47 0h2M47 216.5h1m24 0h1m13 0h1m1 0h1m17 0h1m38 0h1m9 0h1M44 217.5h1m44 0h1m16 0h1m11 0h1m34 0h1m37 0h1m1 0h1M42 218.5h1m13 0h1m8 0h1m14 0h1m12 0h1m8 0h1m37 0h1m9 0h1m30 0h1m7 0h1M112 219.5h1m31 0h1m5 0h1M47 220.5h1m3 0h1m1 0h1m15 0h1m5 0h1m3 0h1m3 0h1m1 0h1m1 0h1m5 0h1m10 0h4m35 0h1m12 0h1m3 0h1m14 0h1M39 221.5h1m7 0h1m30 0h1m8 0h1m14 0h1m52 0h1m22 0h1M52 222.5h1m13 0h1m9 0h1m9 0h2m4 0h1m26 0h1m2 0h1m25 0h1M34 223.5h1m4 0h1m4 0h1m5 0h1m2 0h1m6 0h1m4 0h1m15 0h1m4 0h1m1 0h1m2 0h1m5 0h1M40 224.5h1m4 0h1m13 0h1m5 0h1m3 0h2m3 0h1m41 0h1m2 0h1m18 0h1m4 0h1M28 225.5h1m10 0h1m25 0h1m21 0h1m3 0h1m10 0h1m2 0h1m14 0h1m1 0h1m14 0h1M33 226.5h1m6 0h1m6 0h1m1 0h2m16 0h1m5 0h1m31 0h1m1 0h1m1 0h1m12 0h1M70 227.5h1M156 273.5h1M227 275.5h1M16 279.5h1m147 0h1M164 281.5h1M75 283.5h1M85 309.5h1M26 322.5h1M27 334.5h1M195 347.5h1M195 350.5h1M25 352.5h1M88 358.5h1M88 365.5h1M167 368.5h1m51 0h1m3 0h1m1 0h1"/>
<path stroke="#fde725" d="M220 19.5h1M27 24.5h1M28 27.5h1M16 36.5h1M24 52.5h1M26 56.5h1M4 64.5h1M16 72.5h1M226 77.5h1M15 80.5h1m1 0h1m1 0h1m3 0h1m1 0h2m3 0h5m3 0h1m6 0h3m1 0h1m1 0h2m1 0h4m2 0h1m1 0h3m1 0h2m2 0h4m1 0h9m4 0h1m1 0h1M15 81.5h1m1 0h1m1 0h2m2 0h1m1 0h2m3 0h1m1 0h2m5 0h1m5 0h3m1 0h1m2 0h2m1 0h3m1 0h8m2 0h3m1 0h1m1 0h7m1 0h1m2 0h1m1 0h1m1 0h1M13 82.5h1m3 0h1m1 0h2m4 0h1m4 0h2m1 0h1m5 0h1m1 0h1m3 0h2m2 0h1m1 0h12m2 0h6m1 0h2m1 0h9m2 0h1m1 0h1m1 0h1M24 85.5h1M23 90.5h1M28 92.5h1M24 98.5h1M15 102.5h1M57 103.5h1M165 106.5h1M86 107.5h1m72 0h1m5 0h1M77 108.5h1m8 0h1M95 109.5h1m61 0h1M79 110.5h1m79 0h1M79 111.5h1m68 0h1M15 112.5h1m53 0h1M69 113.5h1m37 0h1m52 0h1M84 114.5h1m14 0h1m42 0h1m17 0h1M90 115.5h1m8 0h1m35 0h1m16 0h1M25 116.5h1m48 0h1m15 0h1m42 0h1m18 0h1M108 117.5h1m9 0h1M64 118.5h1m26 0h1m19 0h1m8 0h1m33 0h1M83 119.5h1m19 0h2M83 120.5h1m23 0h1m10 0h1M83 121.5h1m54 0h1M109 122.5h1m28 0h1m7 0h1M116 123.5h1m20 0h1M71 124.5h1m15 0h1m23 0h1m2 0h1m6 0h1M71 125.5h1m19 0h1m14 0h1m2 0h1m4 0h1M59 126.5h1m2 0h1m5 0h1m22 0h1m14 0h1m27 0h1m1 0h1M76 127.5h1m3 0h1m8 0h1m46 0h1m1 0h1M53 128.5h1m26 0h1m7 0h1M83 129.5h1m17 0h1m18 0h1M49 130.5h1m9 0h1m7 0h1m14 0h1m6 0h1m29 0h1M47 131.5h1m1 0h1m9 0h2m21 0h1m6 0h1m4 0h1m17 0h1m6 0h1M106 132.5h1M38 133.5h1m28 0h1m38 0h1m1 0h1M48 134.5h1m34 0h1m25 0h1M52 135.5h1m28 0h1M38 136.5h1m7 0h1m5 0h1m1 0h1m5 0h1M38 137.5h1m3 0h1m2 0h1m15 0h1m4 0h1m4 0h1m4 0h1m31 0h1M37 138.5h1m23 0h1m9 0h1M85 139.5h1M40 140.5h1m24 0h1m51 0h1M44 141.5h1m1 0h1m24 0h1M40 142.5h1m4 0h1m4 0h1m14 0h1M43 143.5h1m12 0h1m8 0h1M46 144.5h1m28 0h1m4 0h1M65 145.5h1m3 0h1M36 146.5h1m14 0h1m17 0h1m7 0h1M46 147.5h1m22 0h1M64 148.5h1M47 149.5h1M45 150.5h1m1 0h1m18 0h1m43 0h1M16 151.5h1m20 0h1m5 0h1M43 152.5h1M93 163.5h1M68 177.5h1M22 181.5h1M151 192.5h1M151 193.5h1M23 194.5h1m137 0h1M118 195.5h1m2 0h1m22 0h1M15 196.5h1m10 0h1m91 0h1m26 0h1m10 0h1M114 197.5h1m6 0h1m23 0h1m80 0h1M119 198.5h1m106 0h1M121 199.5h1m11 0h1m3 0h1m6 0h1m2 0h1m66 0h2m10 0h1M105 200.5h1m8 0h1m1 0h1m17 0h1m70 0h1m2 0h1m3 0h1m2 0h1M116 201.5h1m18 0h1m8 0h1m2 0h1m56 0h2m2 0h1m1 0h3m1 0h2M117 202.5h1m16 0h1m47 0h1m9 0h1m9 0h1m11 0h5m7 0h2M112 203.5h1m5 0h1m15 0h1m11 0h1m3 0h2m32 0h1m16 0h2m5 0h3m2 0h1m4 0h2M121 204.5h1m9 0h1m2 0h1m4 0h1m6 0h1m18 0h1m17 0h1m1 0h2m12 0h8m1 0h5m1 0h1m2 0h3M117 205.5h1m25 0h1m2 0h1m7 0h2m22 0h1m2 0h1m3 0h2m5 0h1m2 0h9m1 0h2m1 0h3m1 0h3m2 0h3m6 0h1M93 206.5h1m72 0h1m12 0h1m1 0h1m2 0h8m1 0h3m1 0h6m1 0h5m1 0h3m1 0h1m1 0h1m2 0h2M93 207.5h1m18 0h1m1 0h1m22 0h2m4 0h1m31 0h1m3 0h7m1 0h2m1 0h3m4 0h12m1 0h2m7 0h2M50 208.5h1m28 0h1m1 0h1m5 0h1m25 0h2m17 0h2m3 0h2m1 0h1m7 0h1m10 0h2m15 0h1m2 0h8m2 0h1m1 0h2m4 0h9m1 0h5m4 0h1m1 0h2M28 209.5h1m21 0h1m7 0h1m4 0h1m17 0h1m5 0h2m13 0h1m3 0h1m2 0h1m4 0h1m17 0h2m3 0h1m11 0h1m5 0h1m3 0h1m4 0h1m11 0h7m1 0h4m1 0h5m1 0h2m1 0h1m1 0h1m1 0h2m1 0h3m1 0h1m1 0h2m1 0h1m1 0h1m1 0h2M42 210.5h1m44 0h2m6 0h1m3 0h1m2 0h1m3 0h5m2 0h1m1 0h1m5 0h1m9 0h1m1 0h1m9 0h3m1 0h3m1 0h1m1 0h1m1 0h2m7 0h1m1 0h1m11 0h4m3 0h9m2 0h2m1 0h5m2 0h7m1 0h1m1 0h2m2 0h1M42 211.5h2m5 0h1m8 0h2m2 0h1m28 0h1m1 0h1m2 0h1m2 0h1m3 0h1m1 0h1m1 0h4m2 0h1m1 0h1m5 0h2m10 0h1m9 0h1m2 0h1m1 0h3m1 0h3m1 0h1m9 0h1m11 0h6m1 0h2m1 0h6m2 0h6m1 0h5m2 0h1m3 0h3M42 212.5h2m12 0h1m5 0h1m1 0h1m4 0h1m6 0h1m6 0h1m1 0h1m1 0h1m1 0h1m8 0h2m3 0h1m1 0h1m1 0h1m1 0h2m4 0h3m2 0h2m12 0h1m3 0h1m4 0h2m1 0h5m1 0h3m11 0h1m7 0h2m2 0h1m1 0h2m1 0h2m1 0h6m1 0h2m1 0h2m1 0h2m1 0h10m4 0h2m1 0h1M42 213.5h1m3 0h1m3 0h1m7 0h1m3 0h1m1 0h1m4 0h1m6 0h1m1 0h1m3 0h2m3 0h5m6 0h2m6 0h1m3 0h1m2 0h1m1 0h1m1 0h1m2 0h1m13 0h1m6 0h3m1 0h2m2 0h5m20 0h2m4 0h3m1 0h5m5 0h1m1 0h2m1 0h2m4 0h1m1 0h1m6 0h1m1 0h1m2 0h1M44 214.5h1m5 0h1m7 0h2m1 0h1m4 0h1m10 0h2m3 0h3m4 0h1m16 0h1m1 0h1m7 0h1m16 0h1m2 0h2m3 0h2m1 0h4m1 0h5m2 0h3m16 0h1m2 0h1m1 0h3m2 0h3m5 0h1m1 0h1m1 0h1m1 0h2m1 0h1m2 0h1m3 0h1m5 0h1M44 215.5h1m2 0h1m4 0h1m5 0h2m1 0h1m3 0h2m1 0h2m2 0h1m5 0h1m3 0h4m2 0h1m8 0h1m5 0h1m1 0h1m8 0h1m21 0h2m5 0h3m1 0h2m2 0h3m2 0h3m3 0h1m3 0h1m7 0h1m1 0h3m2 0h7m7 0h1m3 0h2m4 0h2M43 216.5h2m1 0h1m2 0h2m1 0h2m1 0h1m3 0h4m3 0h6m10 0h4m3 0h1m6 0h1m3 0h1m2 0h1m3 0h1m2 0h2m2 0h1m27 0h2m2 0h3m2 0h3m2 0h2m8 0h1m8 0h11m1 0h2m1 0h1m3 0h2m7 0h1M36 217.5h1m6 0h1m6 0h1m2 0h4m5 0h1m1 0h2m1 0h1m1 0h5m5 0h2m2 0h3m9 0h3m12 0h2m2 0h1m25 0h1m1 0h2m1 0h2m1 0h1m2 0h2m1 0h3m5 0h1m3 0h1m8 0h1m2 0h2m1 0h4m1 0h5m1 0h1m1 0h2M35 218.5h2m6 0h1m6 0h1m2 0h1m1 0h1m6 0h1m1 0h1m6 0h2m3 0h3m4 0h2m3 0h2m5 0h1m1 0h2m5 0h2m5 0h1m1 0h3m2 0h3m18 0h1m2 0h8m2 0h5m6 0h1m13 0h2m3 0h2m2 0h3m3 0h1m1 0h1M25 219.5h1m14 0h2m8 0h2m1 0h3m1 0h1m4 0h1m1 0h1m4 0h1m3 0h1m2 0h1m1 0h3m3 0h2m2 0h1m1 0h1m7 0h2m2 0h2m1 0h1m7 0h1m4 0h2m21 0h3m2 0h1m5 0h2m1 0h3m22 0h4M44 220.5h1m3 0h3m1 0h1m1 0h4m2 0h1m1 0h1m3 0h1m9 0h2m2 0h2m2 0h1m3 0h1m9 0h1m2 0h3m8 0h2m2 0h1m3 0h1m10 0h1m9 0h2m3 0h1m5 0h1m2 0h1m1 0h1m5 0h1m14 0h1m1 0h1M36 221.5h1m6 0h3m2 0h5m30 0h2m1 0h1m1 0h1m2 0h1m1 0h1m2 0h5m2 0h3m1 0h1m4 0h2m4 0h2m2 0h1m16 0h1m2 0h2m2 0h4m10 0h1m65 0h1M23 222.5h1m9 0h1m5 0h1m4 0h2m1 0h5m2 0h1m9 0h2m4 0h1m6 0h1m10 0h1m1 0h2m1 0h1m2 0h1m2 0h1m3 0h3m1 0h4m1 0h1m1 0h2m21 0h2m3 0h2m3 0h1m1 0h1m4 0h2m4 0h2m4 0h1M24 223.5h1m8 0h1m6 0h1m4 0h1m1 0h3m6 0h1m4 0h2m1 0h1m4 0h2m5 0h2m2 0h1m2 0h1m3 0h1m2 0h1m1 0h2m2 0h1m6 0h1m3 0h3m5 0h1m5 0h2m15 0h1m4 0h1m2 0h1m1 0h1m6 0h1m4 0h1m5 0h1M33 224.5h2m1 0h1m1 0h2m7 0h4m1 0h1m2 0h2m3 0h5m1 0h2m5 0h1m1 0h7m1 0h2m2 0h2m2 0h1m4 0h2m1 0h1m3 0h2m5 0h4m1 0h1m5 0h2m13 0h2m10 0h1m10 0h2m5 0h1M35 225.5h4m1 0h1m4 0h3m1 0h4m2 0h2m2 0h2m1 0h3m2 0h1m1 0h6m1 0h4m3 0h2m3 0h1m7 0h2m1 0h2m3 0h1m2 0h1m4 0h2m4 0h2m16 0h1M24 226.5h1m10 0h1m1 0h3m5 0h1m5 0h2m6 0h1m2 0h2m5 0h2m1 0h1m7 0h1m2 0h2m1 0h1m1 0h1m2 0h1m2 0h4m1 0h2m2 0h1m2 0h1m1 0h1m2 0h1m2 0h1m3 0h1M40 227.5h1m1 0h1m4 0h1m2 0h1m11 0h1m8 0h1m1 0h1m6 0h1m5 0h1m7 0h1m8 0h1m1 0h1M83 231.5h1M22 242.5h1m181 0h1M24 244.5h1M23 249.5h1M27 252.5h1M147 262.5h1M227 264.5h1M25 267.5h1M24 280.5h1M13 298.5h1M27 299.5h1M26 300.5h1M24 301.5h1M27 303.5h2M22 305.5h1M28 308.5h1m38 0h1m5 0h1M16 313.5h1m58 0h1M16 316.5h1M22 322.5h1M27 324.5h1M26 335.5h1M25 337.5h1M109 338.5h1M109 339.5h1M25 342.5h1M15 345.5h1m11 0h1M24 350.5h1M13 351.5h1m13 0h1M227 356.5h1M88 357.5h1M25 358.5h1M132 361.5h1M23 368.5h1m85 0h1m16 0h1m6 0h1m27 0h1m3 0h1m5 0h2m1 0h2m39 0h1m1 0h2"/>
</g>
<g transform="translate(308 58) scale(1.5 1.0000)" fill="none" stroke-width="1" shape-rendering="crispEdges" clip-path="url(#cp1)">
<path stroke="#482878" d="M6 0.5h1m11 0h1m3 0h1M9 1.5h1M11 2.5h1m6 0h3M0 3.5h1m3 0h1m9 0h1M7 4.5h1m8 0h1m3 0h1M3 5.5h1m10 0h1M6 6.5h1m14 0h1M1 7.5h1m1 0h1m9 0h1m8 0h1M11 8.5h1m7 0h1M6 9.5h1m8 0h1m6 0h1M3 10.5h1m6 0h1m11 0h1M10 12.5h1m9 0h1M1 14.5h1M12 15.5h1m3 0h1M9 16.5h1m14 0h1M10 17.5h1m8 0h1m4 0h1M2 18.5h1m4 0h1m3 0h1m11 0h1M11 19.5h1m7 0h1M3 20.5h1m9 0h1m3 0h1m2 0h1M2 21.5h1m4 0h1m8 0h1m3 0h1m1 0h2M0 22.5h1M21 23.5h2M11 24.5h1m12 0h1M10 25.5h1m1 0h1m9 0h1M19 26.5h1M7 27.5h1m5 0h1M2 28.5h1m6 0h1M13 29.5h1m6 0h1M12 30.5h1m8 0h1M10 31.5h1M20 32.5h1M8 33.5h1M9 34.5h1m8 0h1M8 35.5h1M21 36.5h1M0 37.5h1m4 0h1m5 0h1m7 0h1m3 0h1M12 38.5h1m6 0h1M6 39.5h1M1 40.5h1M11 41.5h1m4 0h2m4 0h1M13 42.5h1m8 0h1M20 43.5h1M12 44.5h1m4 0h2m3 0h1M20 45.5h1M15 46.5h1M2 47.5h1m14 0h1m2 0h1M7 49.5h1M0 50.5h1m10 0h1M21 51.5h1M4 52.5h1m7 0h1m3 0h1m4 0h1m2 0h1M20 53.5h1m3 0h1M16 54.5h2m4 0h1M4 55.5h1m5 0h1m11 0h1M15 56.5h1M13 57.5h2m6 0h1M0 58.5h1m19 0h1M14 59.5h1m5 0h1m3 0h1M1 60.5h1m4 0h1M12 61.5h1m1 0h1m1 0h1M18 62.5h1M12 63.5h1M11 64.5h1m2 0h1m3 0h1m2 0h1M11 65.5h1M14 67.5h1M13 68.5h1m8 0h1M15 69.5h1m1 0h1m4 0h1M9 70.5h1m1 0h2m2 0h1M15 71.5h1M5 72.5h1m3 0h1m5 0h1M0 73.5h1m21 0h1M3 74.5h1m8 0h2m2 0h1M19 75.5h1M13 76.5h1m1 0h1m3 0h1M0 77.5h1m23 0h1M0 78.5h2m6 0h1m2 0h1m2 0h1M21 79.5h1M13 80.5h1m5 0h2M19 81.5h1m2 0h1M10 82.5h1M19 83.5h1M11 85.5h1m12 0h1M0 86.5h1m7 0h1m2 0h1m1 0h1m2 0h2m3 0h1m1 0h1M4 87.5h1m6 0h1M11 88.5h1m6 0h1m3 0h1M8 89.5h1m1 0h1m9 0h1M1 90.5h1m8 0h1m9 0h1M12 91.5h2m10 0h1M19 92.5h1M15 93.5h1m5 0h1m1 0h1M0 94.5h1m10 0h1m8 0h2M15 95.5h2m5 0h1M20 96.5h1M0 97.5h1m8 0h1m9 0h1M0 98.5h1m16 0h1M8 99.5h1m2 0h1m4 0h1m1 0h1M14 100.5h1M11 101.5h1m4 0h1m3 0h1M1 102.5h1m7 0h2m4 0h1M5 103.5h1m9 0h1M7 104.5h1m10 0h1M16 105.5h1m1 0h1M11 106.5h1M14 107.5h1M0 108.5h1m3 0h1m11 0h2M11 109.5h1m12 0h1M17 110.5h1M0 111.5h1m3 0h1m6 0h1m8 0h1m2 0h1M12 112.5h1m10 0h1M9 113.5h1m10 0h1M4 114.5h1m11 0h1m6 0h1M14 115.5h1M0 116.5h1m9 0h1m5 0h1m4 0h1M3 117.5h1m11 0h1m1 0h1m2 0h1M14 118.5h1M7 119.5h1m1 0h1m2 0h1m9 0h2M14 120.5h1M22 121.5h1M3 122.5h1M13 123.5h1m5 0h1M22 124.5h1M23 125.5h1M11 126.5h3M12 128.5h1M1 130.5h1m9 0h1m11 0h1M12 135.5h1m2 0h1M8 136.5h1m6 0h1M21 137.5h1M3 138.5h1M1 139.5h1m5 0h1m11 0h1M10 140.5h1m8 0h2M11 141.5h1m1 0h2m2 0h1m2 0h1M23 142.5h1M18 143.5h1M16 144.5h1m1 0h2M9 145.5h1m10 0h1m3 0h1M17 146.5h1M8 147.5h1m9 0h1M7 148.5h1m14 0h1m1 0h1M5 149.5h1m14 0h1M14 151.5h1m2 0h1M6 152.5h1m6 0h1M18 153.5h1M14 155.5h1M22 156.5h2M13 157.5h1M15 158.5h2m5 0h1M16 159.5h1m2 0h1m1 0h1M4 160.5h1M8 162.5h1M10 163.5h2m1 0h1m5 0h1M15 164.5h1m2 0h1M2 165.5h1m13 0h1m2 0h1M1 166.5h2M23 167.5h1M9 168.5h1m7 0h1m1 0h1M6 169.5h2m15 0h1M0 170.5h1m3 0h1m6 0h1m2 0h1M13 171.5h1M0 172.5h1m10 0h1m8 0h2M15 173.5h1m3 0h1M10 175.5h1m3 0h1m2 0h1M13 176.5h1m6 0h1m1 0h1M7 177.5h1m5 0h1m9 0h1M1 178.5h1m7 0h1m9 0h1M10 179.5h2M7 180.5h1m4 0h1m4 0h1m6 0h1M12 181.5h1m3 0h1M17 182.5h1M6 183.5h1m8 0h1m1 0h1M10 184.5h1M15 185.5h1M15 188.5h1M7 189.5h1M1 191.5h1M13 193.5h1m9 0h1M2 195.5h1M22 197.5h2M20 198.5h1m2 0h1M23 199.5h1M20 200.5h1m3 0h1M19 201.5h1m3 0h1M4 202.5h1M10 204.5h1m5 0h1M13 205.5h1m7 0h2M18 206.5h1M0 207.5h1m11 0h1M16 208.5h1M7 211.5h1m3 0h1m4 0h1M20 212.5h1M15 213.5h1m3 0h1M11 214.5h2m11 0h1M19 215.5h1M17 216.5h1m6 0h1M1 217.5h1m5 0h1m14 0h1M12 218.5h1m11 0h1M14 219.5h2m4 0h1M13 220.5h1m4 0h1m2 0h1M13 221.5h1m1 0h1M14 222.5h1M0 224.5h1m1 0h1m20 0h1M15 225.5h1m1 0h1M9 226.5h2M2 227.5h1m18 0h1M5 229.5h1M1 230.5h1M4 231.5h1M15 232.5h1M9 233.5h1m2 0h1m6 0h2m3 0h1M12 234.5h1m9 0h1m1 0h1M6 235.5h1m15 0h1M6 237.5h1m12 0h1M15 238.5h1m5 0h1M3 240.5h1M15 241.5h2m2 0h1M13 242.5h1m1 0h1M4 243.5h1M1 244.5h1m10 0h1m4 0h1M1 246.5h1m13 0h1m7 0h2M3 247.5h2m14 0h1M1 248.5h1m14 0h1M12 249.5h2m2 0h1m3 0h1M11 250.5h1M6 251.5h1m4 0h1M9 252.5h1m5 0h1M5 253.5h1m6 0h1m7 0h1m3 0h1M14 254.5h2m8 0h1M3 255.5h1M4 256.5h1M16 257.5h1M18 258.5h1M13 259.5h1m3 0h1M19 260.5h1m2 0h1M1 262.5h1m1 0h1m13 0h1m1 0h1m2 0h2M0 263.5h1m6 0h1m13 0h1M15 264.5h1m2 0h1M11 265.5h1m3 0h1m8 0h1M9 266.5h2M11 267.5h1m7 0h2M11 268.5h1m6 0h1m1 0h1m3 0h1M4 269.5h1M10 270.5h1M15 272.5h1M8 273.5h1m9 0h1M16 274.5h1M4 275.5h1m8 0h1m3 0h1M11 276.5h1m8 0h1M9 277.5h1m4 0h2M6 278.5h1m14 0h1M4 279.5h1m4 0h1m2 0h1m7 0h1M12 280.5h1M4 282.5h1M7 283.5h1m6 0h1M3 284.5h1m16 0h1M11 285.5h1M12 286.5h1m2 0h1M3 287.5h1M6 288.5h1M19 289.5h1M18 290.5h1M1 291.5h1m10 0h1M2 292.5h1m14 0h1m3 0h1M11 293.5h1m11 0h1M9 294.5h1m9 0h1M0 295.5h1m9 0h1m2 0h1m1 0h1m8 0h1M19 296.5h1M14 297.5h1m8 0h2M11 298.5h1m9 0h2M7 299.5h1m11 0h1M15 302.5h1m4 0h1M0 303.5h1m16 0h1M18 304.5h2m1 0h2M3 305.5h1m2 0h1m4 0h1m5 0h1M0 306.5h2m14 0h1m2 0h2M8 307.5h1m3 0h1m2 0h1m6 0h1M1 309.5h1m7 0h1m1 0h1m4 0h1m2 0h1m1 0h1M0 310.5h1m8 0h2M11 311.5h1m7 0h1M1 312.5h1m3 0h1m8 0h1m2 0h1m1 0h2M2 313.5h1m4 0h1M12 314.5h1m11 0h1M20 315.5h1M15 316.5h1m4 0h2M5 317.5h1m11 0h1m4 0h1M2 318.5h1m21 0h1M7 319.5h1m3 0h1m8 0h1m3 0h1M7 320.5h1m4 0h1m8 0h1M7 321.5h1m3 0h1m3 0h1m6 0h1M11 322.5h1M6 323.5h1m5 0h1m11 0h1M5 325.5h1m3 0h1m5 0h1M12 327.5h1m3 0h1m1 0h1m2 0h1m2 0h1M11 328.5h1m3 0h1m1 0h1m1 0h1M12 329.5h1M1 331.5h1m21 0h1M24 332.5h1M3 333.5h1M7 335.5h1m11 0h2M5 336.5h1m10 0h1m2 0h2M5 337.5h1M19 340.5h2M1 341.5h1m1 0h1M3 342.5h1m13 0h1m2 0h1m1 0h1M4 343.5h1m7 0h1m3 0h1m2 0h1m1 0h1M6 344.5h1m2 0h2m2 0h2m7 0h1M7 346.5h1m2 0h1M4 347.5h1m4 0h1m3 0h1M14 348.5h1M3 349.5h1m5 0h1m5 0h1M9 350.5h1m10 0h1M10 351.5h1m4 0h1M18 352.5h1M7 355.5h1m3 0h1m1 0h2m8 0h1M1 357.5h2m5 0h1M19 358.5h1M1 359.5h1m7 0h1M15 360.5h1m5 0h1M19 361.5h1m4 0h1M7 362.5h1m3 0h1m8 0h1m3 0h1M9 364.5h2m6 0h1m1 0h1M12 365.5h1m7 0h1M17 366.5h1m2 0h1M3 367.5h1m18 0h1M1 368.5h1m17 0h1m4 0h1"/>
<path stroke="#443983" d="M1 0.5h1m5 0h1m9 0h1M17 1.5h1M22 2.5h1M7 3.5h1m3 0h1m3 0h2M10 5.5h1m4 0h1m6 0h1M7 7.5h2m10 0h1M12 8.5h1m2 0h1m1 0h1m2 0h1M11 9.5h1m8 0h1m2 0h1M2 10.5h1m18 0h1M3 11.5h1m3 0h1m1 0h1m5 0h1M7 12.5h1m6 0h1M10 13.5h1m1 0h1m7 0h1m2 0h1M3 14.5h1m11 0h1m8 0h1M20 15.5h1M16 16.5h1m2 0h1m2 0h1M14 17.5h1m1 0h1M3 18.5h1M22 19.5h1M14 20.5h1m4 0h1M5 21.5h1M20 22.5h1M8 23.5h1M13 24.5h1m4 0h2M3 25.5h1m7 0h1m5 0h1M21 26.5h1m2 0h1M14 27.5h1M21 28.5h1m2 0h1M1 29.5h2M10 30.5h1m5 0h1m3 0h1m2 0h1M7 31.5h1M0 32.5h1m12 0h2m1 0h1M3 33.5h1m17 0h4M1 34.5h1m18 0h1M21 35.5h2M18 36.5h1M1 37.5h1m13 0h1M24 38.5h1M15 39.5h1m2 0h1M2 40.5h1m5 0h1M7 41.5h1m10 0h1M1 42.5h1m8 0h2m3 0h1m3 0h1M3 43.5h2m13 0h1M11 44.5h1m11 0h1M17 45.5h1M9 47.5h1M17 48.5h1M6 49.5h1M20 50.5h1m3 0h1M19 51.5h1M4 53.5h1m8 0h1m1 0h1M5 54.5h1m1 0h1m3 0h2M15 55.5h1M7 56.5h1m11 0h1m1 0h1M1 57.5h1m8 0h1m11 0h1M11 58.5h1m7 0h1M19 59.5h1M7 60.5h1m8 0h1M15 61.5h1m5 0h1M9 62.5h1m7 0h1m1 0h1M7 63.5h1m8 0h1M20 64.5h1M21 65.5h1M1 66.5h1m18 0h1M10 67.5h1m4 0h1M9 68.5h1m2 0h1M12 69.5h1m8 0h1M6 70.5h1m11 0h1M24 71.5h1M7 72.5h1m4 0h2m7 0h1M8 73.5h1M15 74.5h1m5 0h1M10 75.5h1m5 0h1m1 0h1M19 77.5h1M7 78.5h1m5 0h1m1 0h1M16 80.5h1M3 81.5h1m20 0h1M17 82.5h1m1 0h1M11 83.5h1m11 0h1M10 84.5h2m1 0h1m1 0h1m1 0h1m3 0h1M19 85.5h1M6 86.5h1m2 0h1M21 87.5h1M7 88.5h2m12 0h1M13 89.5h1M3 90.5h1m7 0h1m3 0h1M0 91.5h1M11 92.5h1m3 0h1m5 0h1m2 0h1M7 94.5h1M2 95.5h1m9 0h1M17 97.5h1m4 0h1m1 0h1M16 98.5h1M1 99.5h1m8 0h1m1 0h2M19 100.5h1m2 0h2M18 101.5h1M3 102.5h1m8 0h1M7 103.5h1m6 0h1M13 104.5h2m6 0h1M0 105.5h1m10 0h2M10 106.5h1m1 0h1m2 0h1M6 107.5h1m5 0h1M6 108.5h1M3 109.5h1m3 0h1m5 0h1m6 0h1M8 111.5h1m5 0h1m7 0h1M4 112.5h1m4 0h1m5 0h1m4 0h1M11 113.5h1M0 114.5h1m7 0h1m6 0h1M21 115.5h1m2 0h1M15 116.5h1M9 117.5h1m2 0h1m5 0h1M0 118.5h1m11 0h1m2 0h2M13 120.5h1M14 121.5h1M11 122.5h1m1 0h1m2 0h1M11 123.5h1m5 0h1m2 0h1m1 0h1M9 124.5h1M13 125.5h1M22 126.5h1M0 127.5h1m1 0h1m6 0h1m7 0h1m5 0h1M18 128.5h1M20 129.5h1M13 130.5h3M1 131.5h1m10 0h1m6 0h1M15 132.5h1m3 0h1M2 133.5h1m10 0h1m5 0h1m2 0h1m1 0h1M12 134.5h1M0 135.5h1m5 0h1M10 136.5h1m3 0h1m9 0h1M8 137.5h1m15 0h1M5 138.5h1m11 0h1m1 0h1m4 0h1M10 139.5h1M5 140.5h1m7 0h1M4 142.5h1m19 0h1M11 143.5h1m2 0h1m7 0h1M2 144.5h1m6 0h1m4 0h1M16 145.5h1M10 146.5h1M1 147.5h1m13 0h1M14 148.5h1m1 0h1M17 149.5h1m4 0h1M13 150.5h1m5 0h1M3 151.5h1m16 0h1m2 0h1M8 152.5h2m8 0h1m1 0h1m2 0h1M9 153.5h1m2 0h1M13 155.5h1M13 156.5h1M2 157.5h1m7 0h2m5 0h1m1 0h1M6 158.5h2m5 0h1m10 0h1M14 159.5h1M12 160.5h1m6 0h1m4 0h1M0 161.5h2m3 0h1m2 0h1m4 0h1m6 0h1M4 162.5h1M15 163.5h1m8 0h1M2 164.5h1m3 0h2m3 0h1m7 0h1M13 166.5h1m1 0h1m3 0h1M2 167.5h1m4 0h1M0 168.5h1m7 0h1M9 169.5h1m5 0h2M16 170.5h1M12 171.5h1m3 0h1m2 0h1m1 0h1M10 173.5h1m10 0h1M9 174.5h1m2 0h1m8 0h1M6 175.5h1M3 176.5h1m10 0h1m1 0h1M7 178.5h1m4 0h1m5 0h1m1 0h2M7 179.5h1m7 0h1M4 180.5h1M1 181.5h1m15 0h1M0 182.5h2m7 0h1M11 183.5h2M4 185.5h1M6 186.5h1m1 0h1M17 188.5h1M13 189.5h1m8 0h1M13 190.5h1m5 0h1M24 191.5h1M16 192.5h1M1 196.5h1M15 198.5h1m3 0h1M0 199.5h1M1 200.5h1m20 0h1M0 202.5h1m9 0h1M3 203.5h1m6 0h1m6 0h1m1 0h1M3 205.5h1M3 206.5h1m7 0h1m8 0h3M20 207.5h1m1 0h1M8 208.5h1m2 0h1M0 209.5h1m6 0h1M1 210.5h1m10 0h2M14 211.5h2m4 0h1M2 212.5h1m4 0h1m8 0h1M6 213.5h2m2 0h1M5 214.5h2m6 0h1m1 0h1m6 0h1M13 215.5h1m4 0h1m1 0h1M1 216.5h1m17 0h2M10 218.5h1m11 0h1M3 219.5h1m15 0h1m4 0h1M15 220.5h2m5 0h1M19 221.5h1m1 0h1M13 222.5h1m7 0h1M1 223.5h1m11 0h1m7 0h1M6 224.5h2m2 0h2M19 225.5h1m1 0h1M7 226.5h1m3 0h1m1 0h2m8 0h1M19 227.5h2m1 0h1M15 228.5h1m8 0h1M11 229.5h2m3 0h1m2 0h1M9 230.5h2m2 0h1M3 231.5h1m2 0h1m11 0h1m2 0h1M0 233.5h1m15 0h1m5 0h1M11 234.5h1m3 0h1M3 235.5h1m4 0h1m5 0h1m2 0h1M2 236.5h1M10 238.5h2m10 0h1M4 239.5h1m3 0h1m15 0h1M19 240.5h1M14 241.5h1m2 0h1M12 242.5h1m1 0h1m1 0h1M2 245.5h1m7 0h2M9 246.5h1m2 0h1m5 0h1M10 247.5h1m12 0h1M12 248.5h1M10 249.5h2M7 250.5h1m15 0h2M8 251.5h1m9 0h1M1 252.5h1M1 253.5h1m5 0h1m6 0h1m4 0h1M16 254.5h1M0 255.5h1m8 0h1m3 0h1M1 256.5h1m3 0h1m5 0h2M10 257.5h1m2 0h1m6 0h1M9 258.5h1m12 0h1M11 259.5h1M11 260.5h1m3 0h1M12 261.5h1m2 0h1m1 0h1M15 262.5h1m4 0h1M4 263.5h1m19 0h1M7 264.5h1m5 0h1M16 265.5h2M2 266.5h1m15 0h1M5 267.5h1m15 0h1m1 0h1M6 268.5h1m2 0h1M11 269.5h1m1 0h1m2 0h1M9 270.5h1m2 0h1m6 0h1M1 271.5h2m10 0h3m5 0h1m2 0h1M2 272.5h1m4 0h1m13 0h1M10 273.5h1M7 274.5h1m5 0h1m4 0h1M2 275.5h1m12 0h1M13 276.5h1m4 0h1M7 277.5h1m4 0h1M20 278.5h1M14 279.5h2M10 280.5h2m2 0h1m1 0h1m2 0h1M9 282.5h1m3 0h1m1 0h1m4 0h1m1 0h1M11 283.5h1m8 0h1M1 284.5h1m13 0h1m5 0h1M9 285.5h1m5 0h1m7 0h1M19 286.5h2M13 287.5h1m6 0h1M9 288.5h1m12 0h1M2 290.5h1M7 291.5h1m3 0h1M23 292.5h1M14 293.5h2M13 294.5h1m3 0h1m3 0h1M12 295.5h1M10 296.5h1m4 0h1M9 297.5h1m1 0h2M1 298.5h1m5 0h1m5 0h1m6 0h1M10 299.5h2m3 0h1m1 0h1m3 0h1M1 300.5h1M0 301.5h1m17 0h1M19 302.5h1M9 303.5h1m6 0h1m3 0h1M10 304.5h1m2 0h1m2 0h1M5 305.5h1m9 0h2m2 0h1M8 306.5h1m6 0h1M16 307.5h1m2 0h1M9 308.5h1m3 0h1m1 0h2M22 309.5h1m1 0h1M12 311.5h1m8 0h1M11 312.5h1m10 0h1M9 313.5h1m11 0h1M16 314.5h1m3 0h1m1 0h1M19 315.5h1M11 316.5h1m1 0h1M16 317.5h1m3 0h1M4 318.5h1m8 0h1m1 0h2M12 319.5h1m10 0h1M3 320.5h1m7 0h1m4 0h1m2 0h1M4 321.5h1m15 0h1M9 322.5h1m6 0h1M3 323.5h1m11 0h1m1 0h1M0 324.5h1m12 0h1m1 0h1M20 325.5h1M15 326.5h1M1 327.5h1M21 328.5h1m1 0h1M0 329.5h1M14 330.5h1M15 331.5h1m5 0h2M1 332.5h1m1 0h2m1 0h3m2 0h1M12 333.5h1m1 0h2M1 334.5h2m18 0h1M15 337.5h1M19 338.5h1M1 339.5h1m13 0h1m3 0h1m4 0h1M9 340.5h1m5 0h1m5 0h1m1 0h1M15 341.5h1m3 0h1M14 342.5h1M15 343.5h1m4 0h1M12 344.5h1m7 0h1M0 345.5h1m1 0h2m5 0h1m10 0h1M8 346.5h1m3 0h1M23 347.5h1M13 348.5h1m6 0h1M23 349.5h1M15 350.5h1m5 0h1m2 0h1M12 351.5h1m5 0h1m1 0h1M7 352.5h1M1 353.5h1m18 0h1m1 0h1M7 354.5h1M22 355.5h1M9 356.5h1m1 0h2m7 0h1M11 357.5h1m1 0h1m3 0h1m2 0h1M24 358.5h1M10 359.5h1m4 0h1m4 0h1M9 360.5h1m2 0h1M1 361.5h1m20 0h2M18 362.5h1m3 0h1M13 363.5h1m4 0h2m2 0h1M3 364.5h1m9 0h1M5 365.5h2M9 366.5h1m3 0h1M11 367.5h1M12 368.5h1m2 0h1"/>
<path stroke="#3e4989" d="M2 0.5h1M18 1.5h1M10 2.5h1M1 3.5h1m6 0h1M2 4.5h1m1 0h1m3 0h1m4 0h1M9 5.5h1m1 0h1M14 6.5h1M17 10.5h1m2 0h1M12 11.5h1M9 12.5h1M21 13.5h1M20 14.5h2M2 15.5h1M14 16.5h1m2 0h1M15 17.5h1M15 19.5h1M15 21.5h1M10 22.5h1M3 23.5h1m9 0h1M14 24.5h1M20 25.5h1M14 28.5h2M22 29.5h1M24 30.5h1M14 31.5h1m3 0h1M24 32.5h1M16 34.5h1M15 35.5h1M20 38.5h1M22 39.5h1M9 40.5h1m3 0h1M10 41.5h1M18 42.5h1M3 44.5h1m3 0h1M4 46.5h1M11 47.5h1m9 0h1M20 48.5h1M19 49.5h1M8 55.5h1m11 0h1M0 56.5h1M15 57.5h1m4 0h1M8 58.5h1m4 0h1M7 59.5h1M17 61.5h2m1 0h1M22 62.5h1M4 63.5h1M2 64.5h1m10 0h1M16 66.5h1M3 70.5h1M13 73.5h1M14 76.5h1m3 0h1M11 77.5h1m2 0h1M18 78.5h1M15 79.5h1M0 80.5h2m5 0h1M18 82.5h1M4 83.5h1m9 0h1m9 0h1M8 84.5h1m15 0h1M6 85.5h1m13 0h1M7 86.5h1M20 87.5h1M11 89.5h2m8 0h1M14 91.5h1M18 93.5h1m3 0h1M14 94.5h1M7 95.5h1M13 96.5h1m10 0h1M21 97.5h1M9 98.5h1M6 99.5h1M0 100.5h1m15 0h1m4 0h1M21 102.5h1M11 103.5h1M3 105.5h1m5 0h1m4 0h2m6 0h1M0 106.5h1M2 107.5h1m5 0h1m14 0h1M10 108.5h1m10 0h1M18 109.5h1m4 0h1M14 110.5h1m5 0h1M14 112.5h1m4 0h1M19 114.5h1M7 116.5h1m4 0h1M0 120.5h1m2 0h1m13 0h1m2 0h1M10 121.5h1m2 0h1m4 0h1M24 122.5h1M1 123.5h1M15 124.5h1M15 128.5h1M8 129.5h2m14 0h1M5 130.5h1m16 0h1M15 134.5h1m6 0h1M22 135.5h1M20 139.5h1M21 142.5h1M11 144.5h1M11 145.5h1M20 146.5h1M4 147.5h1m8 0h1m10 0h1M15 149.5h1M16 150.5h1m5 0h1M22 151.5h1M15 152.5h1m3 0h1m1 0h1M13 153.5h1m1 0h1m4 0h1M23 154.5h1M12 155.5h1m7 0h2M4 156.5h1m1 0h1M15 157.5h1m6 0h1m1 0h1M1 160.5h1M12 161.5h1M15 162.5h1m1 0h1m1 0h1m4 0h1M4 164.5h1m4 0h1M7 165.5h1M19 170.5h1M11 171.5h1m11 0h1M13 172.5h1m1 0h1m1 0h1M16 173.5h1m1 0h1M17 174.5h1m2 0h1m1 0h1M13 175.5h1m9 0h1M23 176.5h1M13 179.5h1M20 180.5h1M19 181.5h1m4 0h1M20 183.5h1m3 0h1M7 184.5h1m7 0h1M9 185.5h1M20 188.5h1M8 190.5h1m2 0h1M2 191.5h1M10 192.5h1M3 196.5h1m6 0h1m6 0h1M18 198.5h1M2 199.5h1M1 201.5h1m10 0h1M15 203.5h1m4 0h1M24 204.5h1M14 206.5h1M15 207.5h1M18 208.5h1M16 210.5h1m1 0h1M22 211.5h1M12 212.5h1M17 213.5h1M2 217.5h1m3 0h1M15 218.5h1M11 220.5h1M3 221.5h1m5 0h1m6 0h1M19 226.5h1m1 0h1M7 227.5h1M22 228.5h1M14 229.5h1M20 230.5h1M2 231.5h1M2 232.5h1m11 0h1M10 233.5h1M9 234.5h1m10 0h1M5 235.5h1M15 236.5h1M10 237.5h1M24 238.5h1M10 239.5h1M15 240.5h1M9 241.5h1M7 242.5h2m13 0h1M17 243.5h1M20 245.5h3M10 246.5h1m2 0h1M2 247.5h1M4 248.5h1m6 0h1m5 0h1m6 0h1M4 250.5h1M15 253.5h1M22 254.5h1M17 255.5h1M20 256.5h1M15 257.5h1M0 258.5h1M3 260.5h1M5 262.5h1m12 0h1M17 263.5h1M12 264.5h1M16 266.5h1M9 269.5h1m5 0h1m2 0h1M11 270.5h1m8 0h1M11 272.5h1M0 274.5h1m10 0h1M14 275.5h1M12 276.5h1M3 277.5h1M8 278.5h1m4 0h1M11 279.5h1m7 0h1M12 281.5h1m8 0h1M19 282.5h1M13 283.5h1M11 284.5h1M12 285.5h1m8 0h1M17 286.5h1M10 287.5h1M2 288.5h1m16 0h1M24 289.5h1M3 293.5h1m5 0h1m2 0h1M1 294.5h1M7 295.5h1M22 296.5h1M2 297.5h1m15 0h1M22 299.5h1M20 300.5h1M20 301.5h1M22 303.5h1M2 305.5h1m18 0h1M14 306.5h1M8 308.5h1M4 312.5h1m1 0h1M12 313.5h1m2 0h1m8 0h1M3 315.5h1M15 317.5h1M17 318.5h1M21 319.5h1M14 320.5h1M2 321.5h1m13 0h1M14 325.5h1m9 0h1M11 326.5h1m12 0h1M23 327.5h1M22 328.5h1M8 329.5h1m8 0h1M11 330.5h1m6 0h1M15 332.5h1m5 0h1M3 334.5h1m11 0h1M9 335.5h1m13 0h1M17 336.5h1M20 337.5h1M23 338.5h1M13 340.5h1m2 0h1M11 341.5h1M10 342.5h2M15 344.5h2M4 345.5h1m1 0h1M22 346.5h1M20 347.5h1M9 348.5h1m6 0h1m6 0h1M7 349.5h1M9 352.5h1M21 353.5h1m1 0h1M11 354.5h1M3 355.5h1m4 0h1M6 356.5h1m14 0h1M21 357.5h1M9 358.5h1M3 359.5h1m17 0h1M16 360.5h1M21 361.5h1M3 362.5h1M23 367.5h1M22 368.5h1"/>
<path stroke="#31688e" d="M9 4.5h1M7 5.5h1m13 0h1M12 10.5h1M19 11.5h1M15 16.5h1M23 17.5h1M12 19.5h1m11 0h1M16 20.5h1M0 21.5h1M5 22.5h1M24 23.5h1M20 24.5h1M16 27.5h1M22 30.5h1M3 32.5h1M6 37.5h1M11 38.5h1M17 40.5h1M6 44.5h1M15 45.5h1M18 47.5h1M9 48.5h1M7 52.5h1M22 53.5h1M11 56.5h1M9 59.5h1M24 64.5h1M6 68.5h2m6 0h1M16 73.5h1M19 74.5h1M0 82.5h1M15 94.5h1M19 99.5h1M10 101.5h1m8 0h1M11 102.5h1M2 109.5h1m16 0h1M12 115.5h1M9 116.5h1M23 118.5h1M24 119.5h1M24 124.5h1M16 125.5h1M14 126.5h2M22 127.5h1M12 130.5h1M13 134.5h1M17 136.5h1M12 139.5h1M11 142.5h1M21 144.5h1M6 146.5h1M10 147.5h1M11 152.5h1M7 153.5h1M15 167.5h1M8 174.5h1M22 177.5h1M24 182.5h1M19 183.5h1M13 184.5h1M11 185.5h1m7 0h1M10 191.5h1m2 0h1M8 194.5h1m15 0h1M4 195.5h1M7 197.5h1M19 199.5h2M7 200.5h1M11 202.5h1m2 0h1M0 203.5h1M1 206.5h1M12 213.5h1M3 216.5h1m18 0h1M19 217.5h1M20 221.5h1M6 222.5h1m15 0h1M9 223.5h1M12 225.5h1M0 227.5h1m23 0h1M16 228.5h1m2 0h1M17 229.5h1M23 230.5h1M11 231.5h1m7 0h1M10 235.5h1M22 236.5h1M7 246.5h1m3 0h1M17 247.5h1M18 250.5h1M11 254.5h1M20 255.5h1M19 256.5h1M19 257.5h1M12 266.5h1M16 272.5h1M24 274.5h1M13 279.5h1M16 281.5h1m3 0h1M22 285.5h1M24 287.5h1M20 288.5h1m2 0h1M12 292.5h1M19 293.5h1M10 306.5h2M12 309.5h1M21 312.5h1M13 313.5h1M7 316.5h1M16 324.5h1m6 0h1M23 325.5h1M13 332.5h1M11 333.5h1M14 334.5h1M6 336.5h1M17 337.5h1m1 0h1m1 0h1M16 341.5h1m7 0h1M21 346.5h1M1 350.5h1m1 0h1M11 352.5h1M19 356.5h1M19 357.5h1M22 358.5h1M19 360.5h1M13 365.5h1M16 366.5h1"/>
<path stroke="#2b758e" d="M11 4.5h1M24 9.5h1M9 17.5h1M8 25.5h1M12 46.5h1m11 0h1M12 56.5h1M3 64.5h1M20 77.5h1M6 82.5h1M15 83.5h1M2 104.5h1M24 105.5h1M17 126.5h1M7 133.5h1M23 139.5h1M16 140.5h1m6 0h1M15 143.5h1M4 153.5h1M3 175.5h1M24 177.5h1M14 180.5h1M21 181.5h2M22 182.5h1M21 184.5h1M17 185.5h1M24 186.5h1M10 187.5h1m5 0h1M16 188.5h1m7 0h1M15 189.5h1m5 0h1m2 0h1M9 191.5h1M12 193.5h1M2 194.5h1M21 196.5h1M5 198.5h1M15 199.5h1M11 200.5h1m5 0h1M7 202.5h1M15 210.5h1M13 217.5h1M12 227.5h1M13 231.5h1M21 236.5h1M16 243.5h1M24 266.5h1M22 272.5h1M16 284.5h1M3 288.5h1m13 0h1M16 296.5h1M16 302.5h1m7 0h1M20 309.5h1M7 315.5h1M0 316.5h1M19 323.5h1M4 340.5h1m17 0h1M19 342.5h1M24 347.5h1M4 352.5h1M13 356.5h1M17 360.5h1M14 364.5h1M24 365.5h1"/>
<path stroke="#21918c" d="M21 0.5h1M15 15.5h1M7 36.5h1M19 43.5h1M17 58.5h1M9 73.5h1M7 90.5h1M21 117.5h1M21 121.5h1M21 122.5h1M21 124.5h1M21 129.5h1M21 130.5h1M15 131.5h1M11 146.5h1M2 160.5h1M23 181.5h1M13 183.5h1M22 184.5h1M10 186.5h1m2 0h1m2 0h1M19 187.5h1M9 189.5h1M16 190.5h1m5 0h1M11 191.5h1M24 192.5h1M8 193.5h1m2 0h1M3 195.5h1m2 0h1m15 0h1M22 196.5h1M3 197.5h1m14 0h1m2 0h1M8 198.5h1m7 0h1M12 200.5h1M7 201.5h1M1 202.5h1m7 0h1M17 214.5h1M13 216.5h1M0 217.5h1M17 218.5h1M15 222.5h1M13 227.5h1M8 228.5h1m4 0h1M8 240.5h1M8 248.5h1M20 251.5h1M14 266.5h1M1 287.5h1M21 302.5h1M13 307.5h1M13 323.5h1M12 331.5h1"/>
<path stroke="#25ab82" d="M24 27.5h1M24 98.5h1M21 118.5h1M21 120.5h1M21 123.5h1M21 125.5h1M21 126.5h1M21 127.5h1M21 131.5h1M23 138.5h1M19 180.5h1M20 181.5h1M22 183.5h1M20 184.5h1M19 186.5h1M14 189.5h1m1 0h1M21 190.5h1M8 192.5h1M7 193.5h1M4 196.5h1M16 197.5h1M0 201.5h1m1 0h1m7 0h1m3 0h1M12 202.5h1M8 227.5h1M15 268.5h1M13 306.5h1M12 330.5h1M3 368.5h2"/>
<path stroke="#4ec36b" d="M3 96.5h1M21 119.5h1M23 179.5h1M16 180.5h1m6 0h1M13 182.5h1m7 0h1M14 183.5h1m3 0h1M14 184.5h1M14 185.5h1M22 186.5h1M14 187.5h1m5 0h2M10 188.5h2M10 189.5h1M15 191.5h1M14 192.5h1m8 0h1M13 194.5h2M8 195.5h1m7 0h1m6 0h1M5 196.5h2M19 197.5h1M3 199.5h1M4 201.5h1M8 202.5h1M5 203.5h1M8 226.5h1"/>
<path stroke="#b5de2b" d="M21 128.5h1M21 132.5h1M22 179.5h1M18 180.5h1M23 183.5h1M16 184.5h2M20 185.5h1M18 186.5h1M23 188.5h1M18 189.5h1M18 191.5h1M7 194.5h1m1 0h1m2 0h1m5 0h1m1 0h1M10 195.5h2m5 0h1M6 197.5h1m2 0h2M0 198.5h2m8 0h1M3 200.5h1M3 365.5h1M6 368.5h1"/>
<path stroke="#fde725" d="M16 179.5h1M22 180.5h1M19 182.5h2M21 183.5h1M18 184.5h2m3 0h2M13 185.5h1m2 0h1m1 0h1m2 0h4M11 186.5h1m2 0h1m5 0h2m1 0h1M11 187.5h1m6 0h1m3 0h2M14 188.5h1m3 0h2m1 0h1M11 189.5h1m5 0h1m5 0h1M10 190.5h1m3 0h1m2 0h2m1 0h1m2 0h1M12 191.5h1m1 0h1m2 0h1m1 0h5M9 192.5h1m2 0h1m2 0h1m1 0h6M9 193.5h2m3 0h9M10 194.5h2m3 0h3m1 0h1m1 0h2M7 195.5h1m1 0h1m2 0h4m2 0h4m2 0h1M7 196.5h3m1 0h5m2 0h3M0 197.5h2m3 0h1m2 0h1m2 0h5m4 0h1M3 198.5h1m2 0h1m2 0h1m1 0h4M4 199.5h3m2 0h6m1 0h1m1 0h1M2 200.5h1m1 0h3m2 0h2m2 0h4M3 201.5h1m2 0h1m4 0h1m3 0h2M2 202.5h2m2 0h1M1 203.5h2m3 0h1M0 368.5h1"/>
</g>
<g transform="translate(345.5 58) scale(2 1.0000)" fill="none" stroke-width="1" shape-rendering="crispEdges" clip-path="url(#cp2)">
<path stroke="#482878" d="M10 0.5h1m13 0h1m1 0h1m31 0h1M6 1.5h1m25 0h1M18 2.5h1m5 0h1m10 0h2m11 0h1m9 0h1m4 0h1M43 3.5h1m16 0h1M16 4.5h3m15 0h1M19 5.5h1m2 0h1m1 0h1m20 0h1m11 0h2M47 6.5h1m11 0h1m3 0h1M14 7.5h1m9 0h2m1 0h1m7 0h1m9 0h1m6 0h1M16 8.5h1m22 0h1m2 0h1M3 9.5h1m2 0h1m9 0h1m6 0h1m18 0h1m5 0h1m4 0h1M0 10.5h1m1 0h1m15 0h1m4 0h1m4 0h2m1 0h1m2 0h1m1 0h1m19 0h1m4 0h1M18 11.5h1m3 0h1m21 0h1m5 0h1m3 0h1M4 12.5h1m8 0h1m30 0h1m3 0h1m10 0h1M8 13.5h2m15 0h1m5 0h1m5 0h1m2 0h1M11 14.5h1m13 0h2m26 0h2m6 0h1M2 15.5h1m16 0h1m5 0h1m26 0h1m1 0h1m6 0h1M10 16.5h1m2 0h1M0 18.5h1m2 0h1m1 0h1m54 0h1M10 19.5h1M0 20.5h1m3 0h1m5 0h1m1 0h1m26 0h1m22 0h1M2 21.5h1m2 0h1m3 0h1m13 0h1m4 0h1m7 0h1m15 0h2m6 0h1M1 22.5h1m10 0h1m4 0h2m3 0h1m21 0h1m7 0h2M6 23.5h2m19 0h1m9 0h1m13 0h1M17 24.5h1m7 0h1m18 0h2m7 0h1m8 0h1M14 25.5h1m10 0h2m1 0h1m16 0h1m12 0h1m4 0h1M16 26.5h1m9 0h1m4 0h1m1 0h1m21 0h1m4 0h1M7 27.5h1m1 0h1m4 0h1m5 0h1m9 0h1m3 0h1M12 28.5h1m7 0h1m10 0h1m4 0h1M17 29.5h1m2 0h1m2 0h1m5 0h1m6 0h1m19 0h1M5 30.5h1m34 0h1m1 0h1m22 0h1M8 31.5h1m4 0h1m32 0h1m4 0h1m4 0h1M9 32.5h1m17 0h1m10 0h1m24 0h1M7 33.5h1m9 0h1m17 0h1m8 0h1m11 0h1M7 34.5h1m7 0h1m2 0h1m1 0h2m27 0h1m8 0h1m3 0h2M0 35.5h1m3 0h1m12 0h1m3 0h1m18 0h1m4 0h1m6 0h1M20 36.5h1m4 0h1M12 37.5h1m23 0h1M10 38.5h1m13 0h1m14 0h1m1 0h1M5 39.5h1m1 0h1m7 0h1m9 0h3m20 0h1m12 0h1M5 40.5h1m8 0h1m6 0h1m7 0h1m14 0h1m8 0h1M13 41.5h1m3 0h1m14 0h2m13 0h1m7 0h1m6 0h1M17 42.5h1m6 0h2m1 0h1m5 0h1m15 0h1m3 0h2m7 0h1M14 43.5h1m5 0h1m12 0h1m3 0h1m9 0h1m4 0h1m5 0h1M25 44.5h1m2 0h1m30 0h1M3 45.5h1m10 0h1m15 0h1m13 0h1M23 46.5h1m19 0h1M33 47.5h1m19 0h1M2 48.5h1m14 0h1m25 0h1M10 49.5h2m15 0h1m4 0h1m3 0h1m3 0h1m8 0h1M20 50.5h1m2 0h1m4 0h1m11 0h1m8 0h1m5 0h2m2 0h1m4 0h1M25 51.5h1m31 0h1M8 52.5h1m8 0h1M37 53.5h1M19 54.5h2m27 0h2m2 0h1m1 0h1m6 0h1m3 0h1M17 55.5h1m12 0h1m25 0h1M7 56.5h1m4 0h1m1 0h1m6 0h1m3 0h1m14 0h1m7 0h1M9 57.5h1m19 0h1m13 0h1m16 0h1m4 0h1M6 58.5h1m6 0h1m16 0h1m14 0h1M17 59.5h3m6 0h1M0 60.5h2m13 0h1m12 0h1m3 0h1m7 0h1m3 0h1m20 0h1M7 61.5h1m8 0h1m3 0h1m2 0h1m2 0h1m29 0h1M11 62.5h1m26 0h1m1 0h1m22 0h1M0 63.5h1m8 0h1m35 0h1m1 0h1m1 0h1M15 64.5h1m22 0h1m10 0h1m1 0h1M0 65.5h1m2 0h1m11 0h1m2 0h1m3 0h1m22 0h1m9 0h1M26 66.5h2m11 0h1m4 0h1M4 67.5h1m2 0h1m10 0h1m2 0h1m2 0h1m31 0h1m1 0h1M0 68.5h1m35 0h1m7 0h1m6 0h2m7 0h1m2 0h1M22 69.5h1m22 0h1m19 0h1M1 70.5h1m5 0h1m1 0h1m24 0h1m28 0h1M10 71.5h1m5 0h1m10 0h1m4 0h1m12 0h1m10 0h1M6 72.5h1m19 0h1m2 0h1m4 0h1m11 0h1M1 73.5h2m18 0h1m41 0h1M13 74.5h1m1 0h1m31 0h1M5 75.5h1m5 0h1m2 0h1m9 0h1m18 0h1m5 0h1M11 76.5h1m7 0h1m1 0h1M2 77.5h1m8 0h1m13 0h1m24 0h1M23 78.5h2m27 0h1m2 0h2M1 79.5h1m5 0h1m6 0h1m2 0h1m6 0h1m17 0h1M15 80.5h2m4 0h1M23 81.5h1m3 0h1m4 0h1m6 0h1M8 82.5h1m8 0h2M1 83.5h1m5 0h1m6 0h1m9 0h1m26 0h1M2 84.5h1m7 0h1m16 0h1m5 0h1m17 0h1m2 0h1M16 85.5h1m5 0h1m24 0h1m5 0h1m5 0h1m5 0h1M17 86.5h1m2 0h1m25 0h1m6 0h1m5 0h1M7 87.5h1m22 0h1m30 0h1m1 0h1M27 88.5h1m12 0h1m8 0h1m13 0h1M5 89.5h1m7 0h1m19 0h1m12 0h1M7 90.5h1m30 0h1m24 0h1M4 91.5h1m12 0h1m6 0h1m15 0h1m5 0h1m3 0h1M12 92.5h1m3 0h1m9 0h1m5 0h1m16 0h1M18 93.5h1m7 0h1m27 0h2m5 0h1M0 94.5h1m46 0h2m8 0h1m3 0h1M11 95.5h1m5 0h1m8 0h1m31 0h1M21 96.5h3m10 0h1m19 0h1m3 0h1M6 97.5h1m25 0h1m3 0h1m7 0h1m13 0h1M0 98.5h1m19 0h1m4 0h1m29 0h1m9 0h1M11 99.5h1m3 0h2m31 0h2m5 0h1M3 100.5h1m21 0h1m13 0h1m10 0h1m3 0h1m7 0h1M13 101.5h2m21 0h1m19 0h1m3 0h1M33 102.5h1m3 0h1m20 0h1M5 103.5h1m9 0h1m7 0h1m2 0h1m16 0h1m3 0h1m1 0h1m1 0h1m4 0h1M17 104.5h2m1 0h1m38 0h2M3 105.5h1m11 0h1m15 0h1m1 0h1M16 106.5h1m4 0h1m14 0h1m26 0h1M19 107.5h1m1 0h1m3 0h1m13 0h2m1 0h1m1 0h1m16 0h1M9 108.5h1m7 0h1m37 0h1M48 109.5h1m2 0h1m4 0h1m1 0h1m1 0h1M24 110.5h1m24 0h1M14 111.5h1m16 0h1m3 0h1m29 0h1M4 112.5h1m17 0h1m2 0h1m5 0h1m6 0h1M5 113.5h1m14 0h1m8 0h1m1 0h1m17 0h1m3 0h1M4 114.5h1m44 0h1m12 0h1M4 115.5h1m12 0h3m6 0h1m1 0h1m16 0h1m3 0h1M32 116.5h1m16 0h1m9 0h1m5 0h1M7 117.5h1m22 0h2m3 0h1m1 0h1m13 0h2M12 118.5h1m3 0h1m26 0h1M13 119.5h1m3 0h1m13 0h1m19 0h1m10 0h1M35 120.5h1m12 0h1M2 121.5h1m32 0h1m9 0h1m5 0h1m9 0h1M4 122.5h1m6 0h1m3 0h1m12 0h1m3 0h1m3 0h1m1 0h1m4 0h1M10 123.5h1m41 0h1M17 124.5h1m23 0h1m2 0h1m5 0h1m3 0h1m5 0h2M19 125.5h1m1 0h1m4 0h1m14 0h1m9 0h1m1 0h1m8 0h1M5 126.5h1m5 0h1m13 0h1m1 0h1m24 0h1m6 0h2M6 127.5h1m7 0h1m39 0h1M12 128.5h1m2 0h1m7 0h1m2 0h1m4 0h1m5 0h1M2 129.5h1m10 0h1m34 0h1M5 130.5h1m1 0h1m4 0h1m19 0h1m9 0h1m2 0h1M40 131.5h1m11 0h1M23 132.5h1M0 133.5h1m17 0h1m1 0h1m26 0h1m1 0h2m5 0h1M0 134.5h1m4 0h1m13 0h1m11 0h1m5 0h1m5 0h1m3 0h1m7 0h1m7 0h1M2 135.5h1m33 0h1m6 0h1m16 0h1M10 136.5h1m8 0h1m2 0h1m4 0h1m4 0h1m19 0h1M0 137.5h1m15 0h1m4 0h1m17 0h2m8 0h2M16 138.5h1m3 0h1m24 0h1m3 0h2M12 139.5h1m9 0h1m36 0h1m5 0h1M2 140.5h1m31 0h1m8 0h1m1 0h1m2 0h1m16 0h1M21 141.5h1m20 0h1m22 0h1M2 143.5h1m2 0h1m2 0h1m3 0h1m13 0h1m29 0h1M4 144.5h1m16 0h1m3 0h1m18 0h1m3 0h1m2 0h2m5 0h1M7 145.5h1m8 0h1m3 0h2m8 0h1m3 0h1m11 0h1m3 0h1M0 146.5h1m4 0h1m4 0h1m3 0h1m24 0h1m19 0h1M7 147.5h1m4 0h2m26 0h1m13 0h1m1 0h1m6 0h2M1 148.5h1m7 0h1m16 0h1m25 0h1m8 0h1M4 149.5h1m2 0h1m7 0h1m31 0h2m10 0h1m1 0h1M5 150.5h2m5 0h1m7 0h1m19 0h1m12 0h1m2 0h1M14 151.5h1m7 0h3M16 152.5h2m13 0h1m12 0h1m14 0h1M52 153.5h1M14 154.5h1m8 0h1m5 0h1m17 0h1m3 0h1M8 155.5h1m47 0h1m5 0h1M13 156.5h1m12 0h1m11 0h1m23 0h1M12 157.5h1M1 158.5h2m12 0h3m6 0h1m15 0h1m5 0h1M33 159.5h1m2 0h1m3 0h1m19 0h1M21 160.5h1m3 0h1m5 0h1m8 0h1M0 161.5h1m15 0h1m7 0h1m25 0h1M5 162.5h1m9 0h1m15 0h1m3 0h1m1 0h1m18 0h1M15 163.5h1m14 0h1m10 0h1m1 0h2m2 0h1m3 0h1M35 164.5h1m7 0h1M8 165.5h1m44 0h1M5 166.5h1m12 0h1m12 0h1m6 0h1m3 0h1m18 0h1m1 0h1M7 167.5h1m13 0h1m9 0h1m26 0h1m4 0h1M27 168.5h1m3 0h2m16 0h1m3 0h1m1 0h1m5 0h1M9 169.5h1m4 0h1m5 0h1m6 0h1m1 0h1m2 0h1m28 0h1m3 0h1M14 170.5h1m5 0h1m17 0h1m12 0h1m2 0h1m5 0h1M19 171.5h1m3 0h1m9 0h1m10 0h1m20 0h1M9 172.5h1m11 0h1m11 0h1m14 0h1m16 0h1M9 173.5h1m26 0h1M7 174.5h1m13 0h1m9 0h1m3 0h1m5 0h1m10 0h1m6 0h1M20 175.5h1m2 0h1m12 0h1m21 0h1M3 176.5h1m17 0h1m14 0h1m8 0h1m5 0h1m10 0h1M18 177.5h1m13 0h1m27 0h1M16 178.5h1m2 0h1m5 0h1m27 0h1m3 0h1m5 0h1M19 179.5h1m1 0h1m32 0h1M1 180.5h2m61 0h1M25 181.5h1m8 0h2m11 0h3m4 0h2M52 182.5h1m10 0h1M28 183.5h1m13 0h1m8 0h1m7 0h1m5 0h1M13 184.5h2m5 0h1M36 185.5h1m4 0h1m3 0h1m1 0h1m8 0h1m4 0h1M40 186.5h1m3 0h1m7 0h1m1 0h1M22 187.5h1m3 0h1m13 0h1M13 188.5h1m26 0h1M18 189.5h1m13 0h1m23 0h1M0 191.5h1m13 0h1m5 0h1m21 0h1m4 0h2m14 0h1M3 192.5h1m15 0h1m13 0h1m5 0h2m15 0h1M0 193.5h1m23 0h2M10 194.5h1m7 0h1m13 0h1m11 0h1m16 0h1m1 0h1M13 195.5h1m41 0h2M1 196.5h1m50 0h1m10 0h1M0 197.5h1m4 0h1m6 0h1m6 0h2m3 0h1m1 0h1m27 0h1m5 0h1m3 0h1M16 198.5h1m19 0h1m4 0h1m2 0h1M24 199.5h1M7 200.5h1m4 0h1m45 0h1M0 201.5h1m2 0h2m16 0h1m1 0h1m6 0h1m7 0h1M1 202.5h1m10 0h1m3 0h1m17 0h1m26 0h1M4 203.5h1m16 0h1m34 0h1m1 0h1M2 204.5h1m2 0h1m12 0h1m6 0h1m1 0h1M24 205.5h1m7 0h1m13 0h1m18 0h1M0 206.5h1m42 0h1M1 207.5h1m10 0h1m27 0h2m1 0h1M20 208.5h1m2 0h1m10 0h2m23 0h1M14 209.5h1m2 0h2m7 0h1m9 0h2m15 0h1M7 210.5h2m10 0h1m6 0h1M4 211.5h1m10 0h1m4 0h1m9 0h1M30 212.5h1m1 0h1m1 0h1m14 0h1M6 213.5h1m13 0h1m6 0h1m4 0h1m27 0h1M29 214.5h1m2 0h1m5 0h1m1 0h1M0 215.5h1m3 0h1m28 0h1m18 0h1m7 0h1M14 216.5h1m1 0h1m5 0h1M2 217.5h1m16 0h1m34 0h1m4 0h2M9 218.5h1m15 0h1m12 0h1m7 0h1M3 219.5h1m21 0h1M5 220.5h1m4 0h2m2 0h1m9 0h1m28 0h2m10 0h1M1 221.5h1m8 0h2m9 0h1m13 0h1m13 0h1m7 0h1m6 0h1M4 222.5h1m8 0h1m11 0h1m2 0h1m18 0h1m7 0h1M7 223.5h1m44 0h1m1 0h1M14 224.5h1m15 0h1m27 0h1M5 225.5h1m4 0h1m1 0h2m6 0h1m2 0h2m2 0h1m1 0h1m2 0h1M5 226.5h1m9 0h1m4 0h1m3 0h1m1 0h1m3 0h1m14 0h1m8 0h1m6 0h1m1 0h1m1 0h1M1 227.5h1m3 0h1m32 0h1m5 0h1m11 0h1M7 228.5h1m4 0h1m2 0h1m2 0h1m4 0h1m6 0h1m2 0h1m5 0h1m5 0h1m2 0h1M25 229.5h1m5 0h1m15 0h1m4 0h1M6 230.5h1m5 0h1m3 0h1m14 0h1m19 0h1M0 231.5h4m22 0h1M5 232.5h1m7 0h1m1 0h1m4 0h1m3 0h1m7 0h1m21 0h1m1 0h1M17 233.5h1m1 0h1m25 0h1m18 0h1M25 234.5h2m3 0h1m9 0h1m13 0h1m3 0h1M7 235.5h1m10 0h1m19 0h1M10 236.5h1m30 0h1M11 237.5h1m6 0h1m4 0h1M2 238.5h1m15 0h1m1 0h1m5 0h1m9 0h1m1 0h1m11 0h1m12 0h1M3 239.5h1m1 0h1m5 0h1m14 0h1m4 0h1m1 0h1m1 0h1M7 240.5h1m3 0h1m6 0h1m4 0h1m21 0h1m1 0h1m1 0h1m15 0h1M5 241.5h1m12 0h1m1 0h1m21 0h1m2 0h1M13 242.5h1m17 0h1m8 0h1m3 0h1m16 0h2M4 243.5h1m13 0h1m16 0h1M12 244.5h1m10 0h1m5 0h1M26 245.5h1m9 0h1M4 246.5h2m3 0h1m7 0h1m3 0h1m22 0h1m15 0h1M6 247.5h1m18 0h1m36 0h1M2 248.5h1m3 0h1m14 0h1m6 0h1m11 0h1m10 0h1m4 0h1m6 0h1m1 0h1M0 249.5h1m18 0h1m5 0h1m19 0h1m4 0h1m2 0h1M5 250.5h2m8 0h1m2 0h1m9 0h1m10 0h1M15 251.5h2m24 0h1m3 0h2M43 252.5h1m18 0h1M9 253.5h1m3 0h1m11 0h1m27 0h2m8 0h1m1 0h1M1 254.5h1m1 0h1m16 0h1m20 0h1m21 0h1M23 255.5h1M38 256.5h2m15 0h1M12 257.5h1m20 0h1m10 0h1m3 0h1m2 0h1M45 258.5h1M21 259.5h1m15 0h1m2 0h1m3 0h1m15 0h1m2 0h1M13 260.5h1m2 0h1m2 0h1m12 0h1m14 0h1m11 0h1m5 0h1M2 261.5h1m13 0h1m8 0h1m23 0h1m15 0h1M4 262.5h1m10 0h1m8 0h1m14 0h1m5 0h1m8 0h1m4 0h1M20 263.5h1m5 0h1m22 0h1M24 264.5h1m2 0h1m14 0h1m2 0h1M5 265.5h1m1 0h1m5 0h1m4 0h1m6 0h1m10 0h1m12 0h1M9 266.5h1M15 267.5h1m5 0h1m3 0h1m12 0h1m6 0h1m5 0h1M18 268.5h1m5 0h1m11 0h1m4 0h1M25 269.5h1m5 0h1m8 0h1m7 0h1M15 270.5h1m42 0h1m4 0h1M43 271.5h1m12 0h1m4 0h1M0 272.5h1m6 0h1m3 0h2m1 0h2m16 0h1m1 0h1m12 0h1m9 0h1M19 273.5h1m10 0h1m26 0h1M0 274.5h1m16 0h2M20 275.5h1m13 0h1M25 276.5h1m7 0h1m9 0h1M24 277.5h1m7 0h1m1 0h1m15 0h1m8 0h1M28 278.5h1m4 0h1m27 0h1m2 0h1M13 279.5h1m7 0h1m9 0h1m6 0h1m8 0h1m13 0h1M14 280.5h1m17 0h1m28 0h1M4 281.5h1m1 0h1m14 0h1m9 0h1m17 0h1M1 282.5h1m4 0h1m5 0h1m29 0h1m13 0h1M13 283.5h1m38 0h1m3 0h1M18 284.5h1m36 0h1M1 285.5h1m46 0h1m3 0h1M33 286.5h1m3 0h1m17 0h1M5 287.5h2m42 0h1M24 288.5h1m6 0h1m9 0h1m8 0h1M0 289.5h1m13 0h1m20 0h1m2 0h1m6 0h1M17 290.5h1m2 0h1m2 0h1m1 0h1m13 0h1m7 0h1M5 291.5h1m12 0h1m1 0h2m25 0h1M17 292.5h1m13 0h1m10 0h2m4 0h1M1 293.5h1m13 0h2m31 0h3M7 294.5h1m23 0h1m8 0h1m16 0h1m2 0h1M11 295.5h1m6 0h1m19 0h1M20 296.5h1m3 0h1m1 0h1m4 0h1m1 0h1m6 0h1m3 0h1m7 0h1M47 297.5h1m6 0h1M2 298.5h1m1 0h1m1 0h2m23 0h1m14 0h1M0 299.5h1m9 0h1m20 0h2m19 0h1m9 0h1M40 300.5h1m7 0h1M1 301.5h1m12 0h1m8 0h1m3 0h1m24 0h2M6 302.5h1m23 0h1M11 303.5h1m26 0h1m15 0h2m4 0h1m3 0h1M5 304.5h1m2 0h1m4 0h1m2 0h1m13 0h1m4 0h2m6 0h1m5 0h1M2 305.5h1m2 0h1m7 0h1m7 0h1m3 0h1m7 0h2m2 0h1m15 0h1m11 0h1M9 306.5h1m14 0h1m38 0h1M19 307.5h1m10 0h1m15 0h1M16 308.5h1m8 0h1m14 0h1M7 309.5h1m10 0h1m14 0h1m16 0h1m8 0h1M2 310.5h1m1 0h1m5 0h1m5 0h1m5 0h1m24 0h1m3 0h2M23 311.5h1m3 0h1m10 0h1m21 0h2M5 312.5h1m11 0h1m12 0h1m4 0h1m11 0h1M4 313.5h1m8 0h2m12 0h1M10 314.5h1m4 0h1m45 0h1M7 315.5h1m4 0h1m9 0h1m10 0h1M7 316.5h1m9 0h1m37 0h1M10 317.5h2m10 0h1m1 0h1m1 0h1m6 0h2m17 0h1m4 0h1M3 318.5h1m14 0h1m9 0h1M9 319.5h1m35 0h1m6 0h1m8 0h1M1 320.5h1m2 0h1m24 0h1m1 0h1m16 0h1m2 0h1m1 0h1M2 321.5h1m10 0h1m16 0h2m32 0h1M0 322.5h1m10 0h1m6 0h1m9 0h1m20 0h1m6 0h1m3 0h1M14 323.5h1m13 0h1m25 0h2M0 324.5h3m14 0h1m12 0h1m30 0h1M31 325.5h1m9 0h1m21 0h1M7 326.5h1m10 0h1m3 0h1M5 327.5h1m13 0h1m21 0h1m5 0h1m3 0h1M0 328.5h1m24 0h1m34 0h1M6 329.5h1m28 0h1m12 0h1M21 330.5h1m30 0h1m4 0h1m4 0h1M10 331.5h1m11 0h1m10 0h1m27 0h1m3 0h1M0 332.5h1m19 0h1m11 0h1m3 0h1m14 0h1m7 0h1M2 333.5h1m7 0h1m2 0h2m3 0h1m1 0h1m10 0h1M1 334.5h1m7 0h1m19 0h1m12 0h1m9 0h1M17 335.5h1m3 0h1m4 0h1m23 0h1m6 0h1M6 336.5h1m1 0h1m2 0h2m20 0h1m6 0h1m9 0h1M4 337.5h1m18 0h1m39 0h1m1 0h1M2 338.5h1m14 0h1m12 0h1m24 0h1M2 339.5h1m2 0h1m4 0h1m10 0h1m30 0h1m3 0h1M4 340.5h2m3 0h1m15 0h1m2 0h1m11 0h1M5 341.5h1m6 0h1m17 0h1m19 0h1m3 0h1M7 342.5h1m6 0h1m36 0h2m7 0h1m1 0h1M34 343.5h1m15 0h1m2 0h1M52 344.5h1M6 345.5h1m44 0h1M2 346.5h1m22 0h1m14 0h1m15 0h1M12 347.5h1m15 0h1m18 0h1m1 0h1m5 0h1m1 0h1M41 348.5h1m23 0h1M30 349.5h1m22 0h1m6 0h1M5 350.5h1m19 0h2m17 0h1M14 351.5h1m6 0h1m8 0h1m7 0h1m4 0h2M22 352.5h3m11 0h1m20 0h1M10 353.5h1m9 0h1m5 0h1m9 0h1M2 354.5h1m1 0h1m18 0h1m9 0h1M5 355.5h1m24 0h1m4 0h1m5 0h1m17 0h1m1 0h1M4 356.5h2m18 0h2m7 0h1m26 0h1m1 0h1M32 357.5h1m14 0h1m4 0h1m11 0h1M2 358.5h1m3 0h1m3 0h1m10 0h1m13 0h1m27 0h1M1 359.5h1m22 0h1m7 0h1m1 0h1m10 0h1m7 0h1M18 360.5h1m6 0h1m1 0h2m1 0h1m32 0h1M5 361.5h1m12 0h1m5 0h1m6 0h1m13 0h1m14 0h1M7 362.5h1M0 363.5h1m1 0h1m40 0h1m19 0h1M13 364.5h1m20 0h2m3 0h1m16 0h1M2 365.5h1m1 0h1m2 0h1m5 0h1m12 0h3m1 0h1m28 0h1m4 0h1M0 366.5h1m14 0h1m2 0h1m10 0h2m5 0h1m13 0h2m1 0h1M2 367.5h1m16 0h1m1 0h1m3 0h1m12 0h1m2 0h1m10 0h1M38 368.5h1m10 0h1"/>
<path stroke="#443983" d="M3 0.5h2m11 0h1m8 0h1m23 0h1m15 0h1M15 1.5h1m15 0h1m7 0h1M1 2.5h3m16 0h1m2 0h1m4 0h1m14 0h1m15 0h1M24 3.5h1m7 0h2m1 0h1m29 0h1M2 4.5h1m29 0h1m9 0h1m19 0h1M21 5.5h1m10 0h1m7 0h1m2 0h1m8 0h1M20 6.5h1m28 0h1m6 0h1M21 7.5h1m16 0h1m8 0h1M25 8.5h1m4 0h1m34 0h1M31 9.5h1m31 0h1M13 10.5h1m13 0h1M24 11.5h1m22 0h1M2 12.5h1m6 0h1m2 0h1m9 0h1m3 0h1m4 0h2m19 0h1M10 13.5h1m15 0h1m29 0h1m8 0h1M15 14.5h1m2 0h1m11 0h1m5 0h1M17 15.5h1m2 0h1m17 0h1m1 0h1M18 16.5h1m15 0h1m6 0h1m9 0h1m4 0h1m2 0h1m2 0h1M7 17.5h1m5 0h1M4 18.5h1m16 0h1m1 0h2m11 0h1m3 0h3m13 0h1M5 19.5h1m3 0h1m3 0h1m6 0h2m12 0h1m2 0h1m5 0h1m2 0h1m15 0h2M2 20.5h1m13 0h1m3 0h1m3 0h1m16 0h1m1 0h1m16 0h1m2 0h1M3 21.5h1m3 0h1m2 0h1m13 0h1M3 22.5h1m9 0h1m12 0h1m12 0h1m15 0h1m5 0h1M9 23.5h2m20 0h1m1 0h1m6 0h1m1 0h1m5 0h1m3 0h1m1 0h1m8 0h1M2 24.5h1m2 0h1m8 0h1m16 0h1m23 0h1M0 25.5h1m6 0h1m12 0h1m11 0h1m4 0h1m9 0h1M4 26.5h1m20 0h1m11 0h1m18 0h1M21 27.5h1m6 0h1m2 0h1m1 0h1m1 0h1m12 0h1M19 28.5h1m22 0h1m17 0h1m4 0h1M9 29.5h1m4 0h1m20 0h1m18 0h1m3 0h1M10 30.5h1m7 0h1m2 0h1m33 0h2m5 0h1M12 31.5h1m8 0h1m4 0h1m1 0h1m15 0h1m2 0h1m4 0h1m1 0h1m3 0h1M5 32.5h1m14 0h1m16 0h1M4 33.5h1m3 0h1m22 0h1m1 0h1m2 0h1m23 0h1M4 34.5h1m14 0h1m15 0h1m18 0h2M2 35.5h1m22 0h1m8 0h1m11 0h1m3 0h1m4 0h2M2 36.5h1m2 0h1m29 0h1m14 0h1m7 0h1M15 37.5h1m16 0h1m15 0h1m7 0h1m4 0h1M12 38.5h1M24 39.5h1m10 0h1M9 40.5h1m6 0h1m19 0h1m5 0h1m5 0h1M0 41.5h1m14 0h2m6 0h1m5 0h1m1 0h1m11 0h1m7 0h1m5 0h1m7 0h1M4 42.5h1m21 0h1m9 0h1m22 0h1M7 43.5h1m4 0h1M8 44.5h1m4 0h1m8 0h1m8 0h1m9 0h1m19 0h1M0 45.5h1m12 0h1m6 0h2m27 0h1M1 46.5h1m10 0h1m5 0h1m5 0h1m13 0h1M2 47.5h1m7 0h1m5 0h1m18 0h1M32 48.5h1M4 49.5h1m16 0h1m9 0h1m16 0h1m10 0h1M10 50.5h1m23 0h1m19 0h1M6 51.5h1m1 0h1m42 0h1m11 0h1m1 0h1M49 52.5h1M5 53.5h1m7 0h1m5 0h1m19 0h1m25 0h1M8 54.5h1m3 0h1m2 0h1m10 0h1m7 0h2m4 0h1m3 0h2M4 55.5h1m22 0h1m23 0h1m3 0h1m9 0h1M13 56.5h1m3 0h1m2 0h1m9 0h1m10 0h1m11 0h1M4 57.5h1m15 0h1m7 0h1m2 0h1M4 58.5h1m21 0h1m24 0h1m8 0h1M9 59.5h1m5 0h1m12 0h1m4 0h1m4 0h1m7 0h1m4 0h1m8 0h1M45 60.5h1m2 0h1M0 61.5h1m11 0h1m8 0h1m5 0h1m3 0h3m11 0h2m15 0h1M21 62.5h1m17 0h1m9 0h1m7 0h1M5 63.5h1m1 0h1m13 0h1M2 64.5h1m7 0h1m12 0h1m1 0h1m21 0h1M26 65.5h1m4 0h1m19 0h1M20 66.5h1m14 0h2m26 0h1M12 67.5h1m30 0h1m16 0h2M6 68.5h1m36 0h1m6 0h1m4 0h2M0 69.5h1m3 0h1m5 0h1m9 0h1m5 0h1m11 0h1m5 0h1m6 0h1M6 70.5h1m34 0h1m10 0h1M17 71.5h1m1 0h1m3 0h1m16 0h1m21 0h1M5 72.5h1m3 0h1m23 0h1m14 0h1m15 0h1M4 73.5h1m2 0h1m20 0h1m20 0h1m11 0h1m3 0h1M4 75.5h1m2 0h1m4 0h1m5 0h1m11 0h2m4 0h1m1 0h1m13 0h1m9 0h1M17 76.5h1m21 0h1m25 0h1M20 77.5h1m25 0h1m2 0h1m13 0h1M0 78.5h1m8 0h1m8 0h1m14 0h1m17 0h1M2 79.5h1m2 0h1m4 0h1m20 0h1m1 0h1m2 0h1m26 0h1M62 80.5h1M32 82.5h1M32 83.5h1m13 0h2m2 0h1M7 84.5h1m5 0h1m1 0h1m2 0h1m1 0h1m1 0h1m1 0h1m5 0h1m5 0h1m25 0h2M12 85.5h2m4 0h1m10 0h1m2 0h1m2 0h1m5 0h1m3 0h1M6 86.5h1m2 0h1m2 0h1m6 0h1m13 0h1M3 87.5h2m5 0h1m5 0h1m16 0h1m1 0h1m18 0h1m4 0h1M0 88.5h2m8 0h1m1 0h1m10 0h1m19 0h1m4 0h1M1 89.5h1m16 0h1m20 0h1M2 90.5h1m15 0h1m10 0h1m1 0h1m9 0h1M0 91.5h2m8 0h1m14 0h1m2 0h1m16 0h1m8 0h1m5 0h1M25 92.5h1m19 0h1m8 0h1M3 93.5h1m21 0h1m18 0h1m3 0h1m16 0h1M4 94.5h1m15 0h1m2 0h1m39 0h1M4 95.5h1m11 0h1m13 0h1m2 0h1m4 0h1m4 0h1m9 0h2m10 0h1M7 96.5h1m8 0h1m21 0h1m2 0h1m9 0h1M11 97.5h1m3 0h1m9 0h1m13 0h1m2 0h1m17 0h1m2 0h1M14 98.5h1m19 0h1m5 0h1M12 99.5h2m9 0h1M4 100.5h1m2 0h1m3 0h1m1 0h1m7 0h1m11 0h1m27 0h1m1 0h1M7 101.5h1m4 0h1m8 0h1m8 0h1m1 0h1m5 0h1m6 0h1M4 102.5h1m18 0h1m25 0h1m9 0h1M2 103.5h1m4 0h1m8 0h1m8 0h1m5 0h2M5 104.5h1m6 0h1m3 0h1m11 0h1m1 0h1m12 0h1m8 0h1m12 0h1M38 105.5h1M1 106.5h2m7 0h1m3 0h1m2 0h1m8 0h1m20 0h1m3 0h1M2 107.5h1m6 0h1m2 0h1m7 0h1m2 0h1m6 0h1m20 0h1M2 108.5h1m3 0h1m23 0h1m5 0h1m10 0h1m8 0h1M7 109.5h1m11 0h1m4 0h1m10 0h1m4 0h1m21 0h1m1 0h1M11 110.5h1m14 0h1m6 0h1m5 0h1m4 0h1m6 0h2m6 0h1m3 0h1M13 111.5h1m6 0h1m9 0h1m3 0h1m9 0h1m2 0h1M20 112.5h1m24 0h1M21 113.5h1m1 0h1m2 0h1M18 114.5h1m3 0h1m7 0h1m2 0h1m4 0h1m17 0h1M0 115.5h1m33 0h1m21 0h1m8 0h1M17 116.5h1m3 0h1m7 0h1m1 0h1m8 0h1m15 0h1M1 117.5h1m26 0h1m10 0h1m22 0h1M10 118.5h1m15 0h1m1 0h1m9 0h1m5 0h1m3 0h1m3 0h1m6 0h1m1 0h1M1 119.5h1m1 0h1m12 0h1m37 0h1M0 120.5h1m4 0h1m9 0h1m3 0h1m20 0h1m10 0h1m4 0h1M20 121.5h2m2 0h1m1 0h1m7 0h1m19 0h1M0 122.5h1m2 0h1m17 0h1m4 0h2m5 0h1m6 0h1m7 0h1m1 0h1m5 0h1M11 123.5h1m1 0h1m5 0h1m2 0h1m17 0h1M16 124.5h1m14 0h1m11 0h1m2 0h1M7 125.5h1m20 0h1m5 0h1m21 0h3m1 0h1M10 126.5h1m15 0h1M4 127.5h1m16 0h1m3 0h1m33 0h2M13 128.5h1m11 0h1m21 0h1m15 0h1M6 129.5h1m8 0h1m35 0h1m7 0h1M3 130.5h1m15 0h1m6 0h1m4 0h1m12 0h1M20 131.5h2m19 0h1m17 0h1M1 132.5h1m30 0h1m2 0h1m10 0h1m8 0h1M31 133.5h1M8 134.5h1m37 0h1m7 0h1M10 135.5h1m4 0h1m5 0h1m10 0h1m4 0h1m10 0h1m6 0h2M2 136.5h1m1 0h1m3 0h1m2 0h1m3 0h1m15 0h1m4 0h1m24 0h1M34 137.5h1m7 0h1m2 0h1m14 0h2M3 138.5h1m8 0h1m2 0h1m17 0h1M5 139.5h1m26 0h1m3 0h1m3 0h1M15 140.5h1m1 0h1m3 0h1m31 0h1m2 0h2M3 141.5h1m1 0h1m7 0h1m6 0h1m4 0h1m24 0h1M9 142.5h1m3 0h1m22 0h1m14 0h1m2 0h1M18 143.5h2m32 0h1m11 0h1M31 144.5h1m15 0h1M1 145.5h1m3 0h2M23 146.5h1m3 0h1m2 0h1m5 0h1m5 0h1m6 0h1m6 0h1M9 147.5h1m1 0h1m13 0h1m29 0h1M5 148.5h1m11 0h1m13 0h1m13 0h1M0 149.5h1m15 0h1m10 0h1m6 0h1m5 0h1m4 0h1m17 0h1M0 150.5h1m16 0h1m29 0h1M10 151.5h1m10 0h1m4 0h1m27 0h1m1 0h1M26 152.5h1m8 0h2m8 0h1M5 153.5h2m7 0h1m9 0h1m15 0h1M6 154.5h1m3 0h1m1 0h1m15 0h1m6 0h1m18 0h1m7 0h1M0 155.5h1m1 0h1m1 0h2m25 0h1m17 0h2M0 156.5h1m22 0h1m1 0h1m15 0h1m1 0h2m4 0h1m3 0h1m11 0h1M1 157.5h1m18 0h1m7 0h1m2 0h1m1 0h2m8 0h1M4 158.5h1m2 0h3m13 0h1m3 0h1m8 0h1M12 159.5h1m43 0h1M0 160.5h2m6 0h1m1 0h1m30 0h1m14 0h1M5 161.5h1m13 0h1m21 0h1m2 0h1m7 0h1m7 0h1m3 0h1M2 162.5h1m17 0h1m28 0h1m2 0h1M39 163.5h2m13 0h1m5 0h1M3 164.5h1m21 0h1m4 0h1m19 0h1m10 0h1M21 165.5h1m11 0h1m24 0h1M4 166.5h1m15 0h1m2 0h1m1 0h1m6 0h2m17 0h1m4 0h1M12 167.5h1m12 0h1m2 0h1m1 0h1m2 0h1m4 0h1m9 0h1m1 0h1m11 0h1M7 168.5h1m13 0h1m3 0h1m21 0h1M35 169.5h1m17 0h1M1 170.5h1m11 0h1m12 0h1m8 0h2m27 0h1M2 171.5h1m23 0h2m6 0h1m4 0h2m1 0h1M0 172.5h1m3 0h1m37 0h1m7 0h2m5 0h1m5 0h1M32 173.5h1m1 0h1m5 0h1m2 0h1m5 0h1m13 0h1M23 174.5h1m9 0h1m14 0h1m6 0h1m6 0h1M8 175.5h1m13 0h1m14 0h1M31 176.5h1m29 0h1M35 177.5h1m11 0h1m16 0h1M18 178.5h1m20 0h1M30 179.5h2m11 0h1m1 0h1m5 0h1M20 180.5h1m13 0h1m6 0h1m1 0h1m4 0h1m4 0h2m1 0h1M31 181.5h1m27 0h1M31 182.5h1m2 0h1M15 183.5h1m5 0h1m1 0h1m7 0h1m24 0h1m7 0h1M18 184.5h2m9 0h1m2 0h1m3 0h1m19 0h1M30 185.5h1m2 0h1m17 0h1m6 0h2M17 186.5h1m9 0h2m31 0h2M4 187.5h1m15 0h1m33 0h1m5 0h1m1 0h1M16 188.5h1m8 0h1m4 0h1m13 0h1M23 189.5h1m7 0h1m9 0h1m3 0h1m12 0h2M10 190.5h1m20 0h1m1 0h1m22 0h1M10 191.5h1m14 0h1m1 0h1m3 0h1m1 0h1m6 0h1M7 192.5h1m12 0h2m3 0h1M10 193.5h1m10 0h1m11 0h1m6 0h1m9 0h1m4 0h1m1 0h1m1 0h2m4 0h1M5 194.5h1m1 0h1m7 0h1m35 0h1m1 0h1m10 0h2M17 195.5h1m3 0h1m21 0h1m1 0h1m5 0h1m6 0h1m6 0h1M20 196.5h1m5 0h2m9 0h1m20 0h1M7 197.5h1m2 0h1m14 0h1m14 0h1m15 0h1m4 0h1M24 198.5h1m4 0h1m1 0h1M0 199.5h1m9 0h1m5 0h1m8 0h1m16 0h1m7 0h3m11 0h1M6 200.5h1m10 0h1m37 0h1m6 0h1M18 201.5h1m6 0h1m34 0h1M5 202.5h1m4 0h1m6 0h1m14 0h2m6 0h1m24 0h1M8 203.5h1m1 0h1m1 0h1m7 0h1m29 0h1M23 204.5h2m11 0h1m11 0h1m8 0h1m6 0h2M2 205.5h1m27 0h1m23 0h1M9 206.5h1m29 0h1m8 0h1M6 207.5h1m10 0h1m13 0h1m4 0h1m10 0h1m6 0h1M2 208.5h1m25 0h1m4 0h1M10 209.5h1m9 0h1m1 0h1m16 0h1m11 0h1M30 210.5h1m1 0h1m28 0h2M5 211.5h1m4 0h1m5 0h2m3 0h1m6 0h1m3 0h1m23 0h1m6 0h1M5 212.5h1m14 0h1m2 0h1m2 0h1m31 0h1m6 0h1M38 213.5h1M6 214.5h1m4 0h1m1 0h1m13 0h1m20 0h2m12 0h1m1 0h1M3 215.5h1m5 0h1m9 0h1m5 0h1m1 0h1M13 216.5h1m3 0h1m8 0h1m6 0h1m6 0h1m4 0h1m7 0h1M0 217.5h1m9 0h1m5 0h1m7 0h2m6 0h1m7 0h1m4 0h1m5 0h1m5 0h1M1 218.5h1m24 0h1m20 0h1M7 219.5h1m4 0h1m8 0h1m4 0h1m5 0h1m5 0h1m2 0h1m2 0h1m11 0h1m6 0h1M23 220.5h1m10 0h1m26 0h1M24 221.5h1m5 0h1m11 0h1M5 222.5h1m14 0h1m10 0h1m16 0h1m8 0h1M2 223.5h1M3 224.5h1m1 0h1m4 0h1m12 0h1m16 0h1M2 225.5h1m30 0h1M0 226.5h1m9 0h1m20 0h1M3 227.5h2m5 0h1m10 0h1m38 0h1M1 228.5h1m3 0h1m10 0h1m14 0h2M15 229.5h1m3 0h1m20 0h1M19 230.5h1m32 0h1M5 231.5h1m12 0h1m6 0h1m4 0h1m5 0h1m3 0h2M11 232.5h1m4 0h1m1 0h1m25 0h1m18 0h1M22 233.5h1m3 0h1m4 0h1m6 0h1m7 0h1m6 0h1m6 0h1m4 0h1M14 234.5h1m23 0h1m10 0h1m3 0h1m6 0h1M23 235.5h1m4 0h1M7 236.5h1m13 0h1m38 0h1m2 0h1M7 237.5h1m35 0h1m7 0h1m3 0h1M39 238.5h1m24 0h1M16 239.5h1m21 0h1m15 0h1m7 0h1m2 0h1M8 240.5h1m13 0h1m11 0h1m11 0h1m7 0h1m1 0h1M2 241.5h1m7 0h1m6 0h1m4 0h1m7 0h1m9 0h1m12 0h1m2 0h1M12 242.5h1m2 0h1m2 0h1m14 0h1m11 0h1m1 0h1m4 0h1m1 0h1M0 243.5h1m12 0h1m19 0h1m4 0h1m19 0h1m4 0h1M5 244.5h1m1 0h1m2 0h1m27 0h1m4 0h1m2 0h1m2 0h1M0 245.5h1m30 0h1m5 0h1m20 0h1M33 246.5h1m5 0h1m5 0h1m11 0h1m3 0h1M7 247.5h1m19 0h1m6 0h1m5 0h1m2 0h1m7 0h1M14 248.5h1m20 0h1m2 0h1m14 0h1M30 249.5h1m7 0h1m20 0h1M32 250.5h1m5 0h1m1 0h2M21 251.5h1m10 0h1m27 0h1M11 252.5h1m8 0h2m16 0h1M14 253.5h1m6 0h1m5 0h2m2 0h1m18 0h1m9 0h1M2 254.5h1m12 0h1m33 0h1m6 0h1m3 0h1m4 0h1M17 255.5h1m8 0h1m17 0h1M8 256.5h1m16 0h1m9 0h1m7 0h1m12 0h1M20 257.5h2m1 0h1m1 0h1m26 0h1M11 258.5h1m9 0h1m16 0h1M5 259.5h1m11 0h1m2 0h1m2 0h1m8 0h1m3 0h1m4 0h1M26 260.5h2M0 261.5h1m27 0h1m1 0h1M7 262.5h1m22 0h1m7 0h1M13 263.5h1m2 0h1m16 0h1m11 0h1m5 0h1M4 264.5h1m2 0h1m32 0h1m2 0h1m5 0h1m4 0h1m2 0h1M9 265.5h1m12 0h1m8 0h1m13 0h1m15 0h1M0 266.5h1m2 0h1m12 0h1M31 267.5h1m14 0h1m1 0h1M9 268.5h1m10 0h1m28 0h1M1 269.5h2m13 0h1m28 0h1m18 0h1M25 270.5h1m12 0h1m2 0h1m12 0h1m5 0h1M24 271.5h1m22 0h1M23 272.5h1m17 0h1m14 0h1M5 273.5h1m2 0h1m14 0h1m1 0h1m1 0h1m10 0h1m7 0h1m13 0h1m2 0h1M21 274.5h1m2 0h1m9 0h1m6 0h1m19 0h1M9 275.5h2m1 0h1m1 0h1m1 0h1m9 0h1m13 0h1m8 0h1m6 0h1M3 276.5h1m6 0h1m7 0h1m4 0h1m17 0h1m9 0h1m9 0h1m3 0h1M8 277.5h1M11 278.5h1m9 0h1m9 0h2m6 0h1m3 0h1m5 0h1m5 0h2M0 279.5h1m31 0h1m6 0h1m4 0h1m3 0h1m16 0h1M29 280.5h1m8 0h1m6 0h1m10 0h1M12 281.5h1m5 0h1m1 0h1m19 0h1m4 0h2m8 0h1m9 0h1M11 282.5h1m11 0h1m6 0h1m15 0h1m13 0h1m2 0h1m1 0h1M2 283.5h1m1 0h1m6 0h1m11 0h1m2 0h1m7 0h1m4 0h1m7 0h1M10 284.5h1m6 0h1m6 0h1m6 0h1M16 285.5h1m6 0h1m25 0h1M5 286.5h1m1 0h1m12 0h2m8 0h3m1 0h1m7 0h1m13 0h2m4 0h1m2 0h1M14 287.5h1m10 0h2m30 0h1M5 288.5h1m15 0h1M9 289.5h1m15 0h2m20 0h1m1 0h1M18 290.5h1m7 0h1m3 0h2m29 0h1m2 0h1M8 291.5h1m24 0h1m15 0h1M0 292.5h1m1 0h1m1 0h1m25 0h1m5 0h1m10 0h1m1 0h1M8 293.5h1m9 0h1m1 0h2m12 0h1m7 0h1m4 0h1m11 0h2M2 294.5h1m9 0h1m10 0h1m10 0h1m2 0h1m9 0h1m3 0h1M3 295.5h1m13 0h1m22 0h1M5 296.5h1m6 0h1m17 0h1m1 0h1m20 0h1m2 0h1m4 0h1M4 297.5h1m2 0h1m10 0h1m7 0h1m17 0h1M9 298.5h1m15 0h1m6 0h1m7 0h1m23 0h2M2 299.5h1m6 0h1m1 0h1m10 0h2m9 0h1m20 0h1m4 0h2M11 300.5h1m4 0h1m8 0h1m5 0h2m19 0h2m10 0h1M0 301.5h1m34 0h1m4 0h1m2 0h1m3 0h1m2 0h1M5 302.5h1m26 0h1M0 303.5h1m5 0h1M2 304.5h1m25 0h2m12 0h1m4 0h1m12 0h1M7 305.5h1m39 0h2m14 0h1M10 306.5h1m17 0h1m35 0h1M18 307.5h1m1 0h2m5 0h1m3 0h1m12 0h1M17 308.5h1m10 0h1m24 0h1M1 309.5h1m15 0h1m6 0h1m3 0h1m5 0h1M26 310.5h1m3 0h1m1 0h1m2 0h1m3 0h1M10 311.5h1m9 0h1m3 0h1m5 0h1m1 0h1m11 0h1m1 0h1m2 0h1m1 0h1m7 0h1M18 312.5h1m4 0h1m8 0h1m7 0h1m14 0h1m3 0h1m2 0h1M21 313.5h1m9 0h2m2 0h1m4 0h1m1 0h1m4 0h1m2 0h1M25 314.5h1M18 315.5h1m7 0h1m17 0h1m2 0h1M1 316.5h1m24 0h2M16 317.5h2m3 0h1m15 0h1M0 318.5h1m6 0h1m8 0h1m2 0h2m2 0h1m8 0h1m7 0h1m12 0h1M1 319.5h1m3 0h1m14 0h1m41 0h1M3 320.5h1m6 0h1m5 0h1m4 0h3m20 0h1m12 0h1m3 0h1M7 321.5h1m16 0h1m9 0h1m3 0h1m10 0h1m6 0h1m8 0h1M13 322.5h1m6 0h2m10 0h1m7 0h1m4 0h1m8 0h1M18 323.5h1m1 0h1m3 0h1m15 0h1m18 0h1M6 324.5h1m9 0h1m14 0h1m2 0h1m4 0h1m5 0h1m4 0h2m4 0h1M3 325.5h1m33 0h1m18 0h1M27 326.5h1m29 0h1m3 0h1M0 327.5h1m5 0h1m7 0h1m1 0h1m10 0h1m2 0h1m19 0h1m11 0h1M2 328.5h1m2 0h2m24 0h1m13 0h1m8 0h1m6 0h1M0 329.5h1m28 0h2m25 0h1m5 0h2M39 330.5h1M16 331.5h1m3 0h1m7 0h1m8 0h1m3 0h1m5 0h1m6 0h1M7 332.5h1m8 0h1m8 0h1m4 0h1m4 0h1m2 0h1m2 0h1m5 0h1m10 0h1m2 0h1M5 334.5h2m7 0h1m17 0h1m24 0h1M7 335.5h1m2 0h1m2 0h1m2 0h1m2 0h1m3 0h1m17 0h1m6 0h1m2 0h1m4 0h1m2 0h1M32 336.5h1m11 0h1m4 0h1M5 337.5h1m15 0h1m3 0h1m7 0h1m13 0h1M4 338.5h1m11 0h1m4 0h1m3 0h1m7 0h1m20 0h1m1 0h1M12 339.5h1m3 0h2m8 0h1m12 0h1M12 340.5h1m10 0h1m21 0h1m2 0h1m5 0h1M1 341.5h1m2 0h1m20 0h2m2 0h1m21 0h1m4 0h1m7 0h1M5 342.5h1m4 0h1m7 0h1M14 343.5h1m3 0h1m17 0h1M7 344.5h1m10 0h1m1 0h1m2 0h1m32 0h1m3 0h1m1 0h1M0 345.5h1m4 0h1m16 0h1m13 0h1m1 0h1m17 0h1m1 0h1m1 0h1m2 0h1M17 346.5h1m4 0h1M3 347.5h1m12 0h1m3 0h1m13 0h1m2 0h1m7 0h1m6 0h1m12 0h1M2 348.5h1m4 0h1m5 0h1m17 0h1m8 0h1m2 0h1M20 349.5h2m23 0h1m11 0h1M1 350.5h1m30 0h1m3 0h1m1 0h1m13 0h1m6 0h1m3 0h1M51 351.5h1m1 0h1m7 0h1M33 352.5h1m1 0h1m9 0h1m8 0h1m7 0h2M9 353.5h1m15 0h1m2 0h1m4 0h1m4 0h1m1 0h1m8 0h1m6 0h1M26 354.5h1m4 0h1m3 0h1m3 0h1m3 0h1m17 0h1m3 0h1M7 355.5h1m26 0h1m1 0h1m1 0h1m26 0h1M26 356.5h1m3 0h1m8 0h1m1 0h1m11 0h1m9 0h1M2 357.5h1m2 0h1m15 0h1m4 0h1m9 0h1M5 358.5h1m18 0h1m6 0h1m7 0h1m7 0h1m17 0h1M21 359.5h1m6 0h1m14 0h2m18 0h2M13 360.5h1m10 0h1m1 0h1m6 0h3m12 0h1m12 0h1M1 361.5h1m30 0h1m32 0h1M26 362.5h1m4 0h1m1 0h1m31 0h1M5 363.5h1m1 0h1m2 0h1m1 0h3m4 0h1m29 0h1m1 0h1m4 0h1M32 364.5h1m10 0h1m9 0h1M12 365.5h1m4 0h1m1 0h1m2 0h1m12 0h1m12 0h1M26 366.5h2m11 0h1m24 0h1M4 367.5h1m21 0h1m4 0h1m33 0h1M1 368.5h1m5 0h1m5 0h1m5 0h1m8 0h1m5 0h1"/>
<path stroke="#3e4989" d="M55 0.5h1m1 0h1M4 1.5h1m12 0h1m39 0h1M52 2.5h1M5 3.5h1m11 0h1m21 0h1M28 4.5h1m19 0h1M3 5.5h1m13 0h1m32 0h1m14 0h1M9 6.5h1m6 0h1m1 0h1m29 0h1m12 0h1M36 7.5h1M12 8.5h1m6 0h1m39 0h1m1 0h1M13 9.5h1m16 0h1M20 10.5h1m4 0h1m12 0h1m24 0h1M0 11.5h2M1 12.5h1m15 0h1m37 0h1M5 13.5h1m22 0h1m5 0h1M14 15.5h1m11 0h1m26 0h1M19 16.5h1m37 0h1M3 17.5h1m30 0h1m26 0h1M11 18.5h1m8 0h1m5 0h1m3 0h1m28 0h1M17 19.5h1m11 0h1m10 0h1M15 20.5h1m5 0h1m9 0h1M33 21.5h1m6 0h1m9 0h1m8 0h1M4 22.5h1m23 0h1m4 0h1m29 0h1M19 23.5h1m24 0h1m11 0h1m1 0h1M10 24.5h1m29 0h1M50 25.5h1M1 26.5h1m8 0h1m8 0h1M24 27.5h2m26 0h1m3 0h1M15 28.5h1m2 0h1m30 0h1M21 29.5h1m3 0h1m21 0h1m1 0h1m13 0h1M23 30.5h1m9 0h1m2 0h1M16 31.5h1m19 0h1M8 32.5h1m43 0h1M15 33.5h1M40 34.5h1m15 0h1m4 0h1M23 35.5h1M63 36.5h1M21 37.5h1m1 0h1m34 0h1M28 38.5h1m25 0h1M44 39.5h1M2 40.5h1m15 0h1m4 0h2m39 0h1M7 41.5h1m17 0h1m33 0h1M12 42.5h1m30 0h1M21 43.5h1m9 0h1m8 0h1m13 0h1M5 44.5h1m15 0h1m32 0h1M16 45.5h1m47 0h1M9 46.5h2m5 0h1m4 0h1m8 0h1M5 47.5h1m7 0h1m9 0h1m26 0h1m5 0h1m6 0h1m1 0h1M16 48.5h1m14 0h1m3 0h1m4 0h1m10 0h1M0 49.5h1m16 0h1m4 0h1m1 0h1m28 0h1M22 50.5h1m9 0h1m27 0h1M22 51.5h1m10 0h1m24 0h1M25 52.5h1m37 0h1M56 53.5h1m2 0h2M10 54.5h1m21 0h1M12 55.5h1m28 0h1m17 0h1M35 56.5h1M37 57.5h1m17 0h1M2 58.5h1m30 0h1m14 0h1M12 59.5h1m26 0h1M20 60.5h1m1 0h1m10 0h1M11 61.5h1m26 0h1m2 0h1M14 62.5h1M23 63.5h1m1 0h1m8 0h1m16 0h1m2 0h1m6 0h1M8 64.5h1m22 0h1M8 65.5h1m16 0h1m39 0h1M5 66.5h1m7 0h1m4 0h1m37 0h1m3 0h1M34 67.5h1m12 0h2M16 68.5h1m2 0h1m10 0h1M34 69.5h1m18 0h1M21 70.5h1m1 0h1m37 0h1M2 71.5h1m1 0h1m16 0h1m8 0h1m4 0h1m3 0h1m21 0h1m2 0h1M10 72.5h1m54 0h1M12 73.5h1m4 0h1m5 0h1m5 0h1m3 0h1m17 0h1m1 0h1M3 74.5h1m5 0h1m20 0h1m11 0h1M10 75.5h1m9 0h1m43 0h1M36 76.5h1m1 0h1m3 0h1m1 0h1m14 0h1M0 77.5h1m3 0h1m25 0h1m3 0h1m17 0h1m1 0h1m3 0h1M28 78.5h1m20 0h1m11 0h1M3 79.5h1m11 0h2m37 0h1M2 80.5h1m2 0h1M7 81.5h1m54 0h1m2 0h1M7 82.5h1m12 0h1M4 83.5h2m12 0h1m2 0h1m1 0h1m1 0h1M43 84.5h1m9 0h1M44 85.5h1m3 0h2M56 86.5h1M21 87.5h1m2 0h1M16 88.5h1m28 0h1m10 0h1M26 89.5h1m18 0h1m9 0h2m2 0h1M0 90.5h2m3 0h1m4 0h1m2 0h1m2 0h1m3 0h1m1 0h1m2 0h1M51 92.5h1M17 93.5h1m22 0h1M1 94.5h1m16 0h1M5 95.5h1m9 0h1m2 0h1m2 0h1m3 0h1m1 0h1M1 96.5h1m30 0h1m11 0h1m14 0h1M5 97.5h1m14 0h1m2 0h1m10 0h1M30 98.5h1m32 0h1M4 99.5h1m13 0h1m9 0h1m16 0h1M42 100.5h1M15 101.5h1m1 0h2m6 0h2m24 0h1m11 0h1M13 102.5h1m12 0h1m3 0h2m16 0h1M8 103.5h1m2 0h1m1 0h1m10 0h1M21 104.5h1m18 0h1m21 0h1M2 105.5h1M13 106.5h1m5 0h1m12 0h1m5 0h1M0 107.5h1m32 0h1m1 0h1m23 0h1M26 108.5h1m1 0h1m8 0h1m2 0h1M2 109.5h2m1 0h1m33 0h1m9 0h1M9 111.5h1M0 112.5h1m13 0h1m20 0h1m1 0h1m3 0h1M13 114.5h1m2 0h1m22 0h1m3 0h1M14 115.5h1m8 0h1m29 0h1m1 0h1M20 116.5h1M17 117.5h1m31 0h1m10 0h1m3 0h1M51 118.5h1M5 119.5h1m19 0h1m1 0h1m7 0h1m14 0h1M33 120.5h1m11 0h1m3 0h1m11 0h1m3 0h1M5 121.5h2m8 0h1m25 0h2M9 122.5h1m9 0h1m4 0h1m6 0h1m19 0h1m9 0h1M28 123.5h2M22 124.5h2m39 0h1M0 126.5h1m32 0h1M12 127.5h1m36 0h1M5 128.5h1m8 0h1m1 0h1m35 0h1M9 129.5h1M1 130.5h1m4 0h1m6 0h1m3 0h1m2 0h1M45 131.5h1m3 0h1M7 132.5h1m13 0h1m22 0h1m8 0h1m8 0h1M39 133.5h1m8 0h1M17 134.5h1m20 0h1M25 135.5h1m20 0h1M54 136.5h1M17 137.5h1m1 0h1m5 0h1m9 0h1m23 0h1M25 138.5h1m8 0h2m18 0h1m8 0h1M6 139.5h1m9 0h1m14 0h1m13 0h2M0 140.5h1m9 0h1m40 0h2m1 0h1M62 141.5h1M10 142.5h1m10 0h1m2 0h1m2 0h1m13 0h1m18 0h1M11 143.5h1m9 0h3m9 0h1M10 144.5h1m5 0h1m9 0h1m6 0h1m11 0h1M2 145.5h1m33 0h1m7 0h1m7 0h1M41 146.5h1m8 0h2M0 147.5h1m34 0h1M25 148.5h1m25 0h1M5 149.5h1m5 0h1m13 0h1m25 0h2M23 150.5h1M47 151.5h1M4 152.5h1m5 0h1m9 0h1m4 0h1m22 0h1m5 0h1M10 153.5h1m45 0h1M58 154.5h1M21 155.5h1m8 0h1m6 0h1m2 0h1m2 0h1m3 0h1M20 156.5h1M19 157.5h1m41 0h2m1 0h1M0 158.5h1m9 0h1m20 0h1m13 0h1M24 159.5h2m3 0h2m16 0h1m14 0h1M4 160.5h1m25 0h1m3 0h1m8 0h1M13 161.5h1m7 0h1m3 0h1m9 0h1m9 0h1M12 162.5h1m17 0h1m1 0h1m5 0h1M50 163.5h1M0 164.5h1m5 0h1m10 0h1m16 0h1m10 0h1M36 165.5h1m3 0h1m24 0h1M15 166.5h1m11 0h1M1 168.5h1m24 0h1m1 0h1m7 0h1m15 0h1M0 169.5h1m3 0h2m17 0h1m1 0h2m4 0h1m10 0h1m9 0h1M5 170.5h2m48 0h1M49 171.5h1m3 0h1M14 172.5h1m9 0h1m15 0h1m3 0h1m11 0h1m5 0h1M26 173.5h1m4 0h1m12 0h1m11 0h1M34 174.5h1M25 175.5h2m34 0h1M52 177.5h1M30 178.5h1m12 0h1M20 179.5h1m26 0h1m1 0h1m7 0h1M16 180.5h1m8 0h1m25 0h1M32 181.5h1m12 0h1m5 0h1m11 0h1M65 182.5h1M19 183.5h1m21 0h1m21 0h1M2 184.5h1m35 0h1M3 185.5h1m11 0h1m10 0h1M23 186.5h1M5 187.5h1m9 0h1m49 0h1M14 188.5h1m18 0h1m4 0h1m8 0h1m5 0h1M8 189.5h1m4 0h1m5 0h1m1 0h1M11 190.5h1m1 0h1m39 0h1M5 191.5h1m15 0h1m32 0h1M5 192.5h1m42 0h1M4 193.5h1m12 0h1m26 0h1m1 0h1M26 194.5h1m33 0h1M0 195.5h1m2 0h1m16 0h1m16 0h1m1 0h1M6 196.5h1m14 0h1m37 0h1m1 0h1M15 197.5h1M32 198.5h1M5 199.5h1m9 0h1m5 0h1m18 0h1M22 200.5h1m41 0h1M40 201.5h3m10 0h1M4 202.5h1m10 0h1m40 0h1M31 203.5h1m6 0h1M19 204.5h1M14 205.5h2m7 0h1m7 0h1m12 0h1m4 0h1M4 206.5h1m5 0h1m4 0h1m9 0h1M16 207.5h1m8 0h2m35 0h1M16 208.5h1m8 0h2m12 0h2M1 209.5h1m17 0h1m23 0h1m14 0h1m2 0h1m3 0h1M0 210.5h1m19 0h1m20 0h1M0 211.5h1m47 0h1M12 212.5h1m43 0h1M4 213.5h2m4 0h1m19 0h1m31 0h1M5 214.5h1m2 0h1m5 0h1m4 0h1m19 0h1m5 0h1m6 0h1m2 0h1M11 215.5h1m2 0h1m5 0h1m15 0h1m11 0h1m4 0h1M7 216.5h1m22 0h1m12 0h1m4 0h1m10 0h1M3 217.5h1m1 0h1m2 0h1m53 0h1M30 218.5h2m13 0h1m3 0h1M15 219.5h1m14 0h1M0 220.5h1m7 0h1m46 0h1M0 221.5h1m44 0h1M24 222.5h1m16 0h1M0 223.5h1m17 0h1m9 0h1m10 0h1M41 224.5h1m8 0h2M9 225.5h1m16 0h1m12 0h1m16 0h1m5 0h1M56 226.5h1M18 227.5h1m3 0h1m19 0h1m10 0h1M20 228.5h1M17 229.5h1m8 0h1m14 0h1m13 0h1m2 0h1M9 230.5h1m19 0h1m17 0h1m12 0h1M4 231.5h1m4 0h1m38 0h2M4 232.5h1m26 0h1m26 0h1M3 233.5h1m3 0h1m12 0h2m3 0h1m9 0h1M12 234.5h1M4 235.5h1m28 0h1M4 236.5h1m17 0h1m29 0h1m1 0h1M2 237.5h1m14 0h1m12 0h1m25 0h1M12 238.5h2m11 0h1m4 0h1m27 0h1M2 239.5h1m18 0h1m31 0h1m7 0h1M2 240.5h1m17 0h1m40 0h1M25 241.5h1m15 0h1m5 0h1m2 0h1M4 242.5h1m4 0h1m38 0h1m11 0h1M15 243.5h1m14 0h1m16 0h1M20 244.5h1m26 0h1m12 0h1m2 0h1M1 245.5h1m23 0h1m15 0h1M12 246.5h1m9 0h1m1 0h1m1 0h1m20 0h1M11 247.5h1m19 0h1m4 0h1m17 0h1m3 0h1M24 248.5h1m2 0h1m2 0h1m16 0h1m6 0h1M12 249.5h1m4 0h1m4 0h1m1 0h1m15 0h1m17 0h1M8 250.5h1m35 0h1m15 0h1M7 251.5h1m23 0h1M0 252.5h1m4 0h1m4 0h1m33 0h1m6 0h1m1 0h1m2 0h1M16 253.5h1m3 0h1m30 0h1M37 254.5h1m20 0h1M6 255.5h1m3 0h1m4 0h1m9 0h1M1 256.5h1m18 0h1m12 0h1m10 0h1m3 0h1m4 0h1M6 259.5h1m4 0h1m26 0h1m7 0h1m2 0h1M10 260.5h1M1 261.5h1m5 0h1m6 0h1m19 0h1M3 262.5h1m1 0h1m16 0h1m23 0h1M43 263.5h1M6 264.5h1m10 0h1m2 0h1m2 0h1m8 0h1m23 0h1m3 0h1m3 0h1M36 266.5h1M9 267.5h1m53 0h1M7 268.5h2m1 0h1m22 0h1m19 0h1M4 269.5h2m7 0h1m7 0h1m29 0h1M26 270.5h1m24 0h1M20 271.5h1M5 272.5h1m2 0h1m20 0h1m14 0h2m15 0h1M33 273.5h1m19 0h1M13 274.5h1m6 0h1m4 0h1m4 0h2M17 275.5h1m17 0h1M12 276.5h1m8 0h1M19 277.5h1m1 0h1m4 0h1m25 0h1m2 0h1m8 0h1M6 278.5h1m5 0h1m39 0h1m12 0h1M6 279.5h1m18 0h1m30 0h1M25 280.5h1m9 0h1M23 281.5h2M20 282.5h1m11 0h1m10 0h1M5 283.5h1m4 0h1m13 0h1m6 0h1m10 0h1m7 0h1m4 0h1M26 284.5h1m24 0h1m4 0h1M0 285.5h1m13 0h1M0 287.5h1m11 0h1m3 0h1m43 0h1M25 288.5h1m19 0h1m5 0h1m4 0h1M33 289.5h1m6 0h1m2 0h1m12 0h1M1 290.5h1m32 0h1M7 292.5h1m2 0h1m14 0h1M5 293.5h1m19 0h2M18 294.5h1m6 0h1m36 0h1M45 295.5h1m10 0h1m1 0h1m4 0h1M3 296.5h1m33 0h1m24 0h1M32 297.5h1m13 0h1m18 0h1M24 298.5h1m1 0h1m3 0h1m11 0h1m5 0h1m1 0h1M24 299.5h1m5 0h1m18 0h1m1 0h1m1 0h1M8 300.5h1M2 301.5h1m2 0h1m3 0h1m1 0h1m14 0h1m1 0h1m2 0h1m7 0h1m2 0h1M4 303.5h1m14 0h1m10 0h1M0 304.5h1m49 0h1m10 0h1M31 305.5h1M0 306.5h1m53 0h1M39 307.5h1M30 308.5h1m5 0h1m2 0h1m12 0h1m8 0h1M16 309.5h1m4 0h1m22 0h1m9 0h1m1 0h1M40 310.5h1m20 0h1M16 311.5h1m11 0h1M24 312.5h1m20 0h1M36 313.5h1m26 0h1M16 314.5h2m36 0h1M4 315.5h1m56 0h1M5 316.5h1m7 0h1m30 0h1m3 0h1M28 317.5h2m16 0h1m4 0h1m10 0h1M5 318.5h1m11 0h1m12 0h1M51 319.5h1M5 320.5h1m37 0h1m18 0h1M12 321.5h1m5 0h1m17 0h1M5 322.5h1m27 0h1M11 323.5h1m15 0h1m16 0h1M18 324.5h1M19 325.5h1m6 0h1m11 0h1M10 326.5h1m8 0h2m21 0h1m7 0h2m4 0h1M2 327.5h1M23 328.5h1m6 0h1m7 0h1m7 0h1M1 329.5h1m8 0h1m1 0h1m2 0h1m18 0h1m3 0h1m13 0h1M2 330.5h1m7 0h2m31 0h1M7 331.5h1m11 0h1M5 332.5h1m9 0h1M6 333.5h1M46 334.5h1M25 335.5h1m34 0h1m1 0h1M18 336.5h1m41 0h1M10 338.5h1m38 0h2M7 339.5h1m27 0h1m7 0h1m5 0h1m13 0h1M21 340.5h1m14 0h1m6 0h1M13 341.5h1m43 0h1M26 343.5h1m21 0h1m7 0h1m1 0h1M10 344.5h1m29 0h1m14 0h1M43 345.5h1M41 346.5h1m7 0h1M17 347.5h1m1 0h1m42 0h1M4 348.5h1m28 0h1M8 349.5h1m3 0h1m18 0h1m20 0h1m12 0h1M2 350.5h1M49 351.5h1M16 352.5h1m8 0h1m30 0h1m1 0h1M2 353.5h1m1 0h1M20 354.5h1m31 0h1m3 0h1M3 355.5h1m8 0h1m20 0h1m16 0h1M9 356.5h1M23 357.5h1M30 358.5h1m2 0h1m17 0h1m1 0h1M4 359.5h1m20 0h1m12 0h1m26 0h1M10 360.5h1m12 0h1m7 0h1m6 0h1m17 0h1M26 361.5h1M2 362.5h1M39 363.5h1m13 0h1m5 0h1M16 364.5h1m31 0h1m5 0h1m10 0h1M31 365.5h1M3 366.5h1m13 0h1m13 0h1m12 0h1m1 0h1m18 0h1M23 367.5h1m6 0h1m1 0h1m29 0h1M5 368.5h1m6 0h1m5 0h1m28 0h1"/>
<path stroke="#31688e" d="M53 0.5h1M1 1.5h1M0 2.5h1m18 0h1m11 0h1m8 0h1M7 3.5h1m8 0h1M30 4.5h1m2 0h1M4 5.5h1m23 0h1M5 6.5h1M53 7.5h1M54 8.5h2M17 9.5h1m29 0h1M20 11.5h1m4 0h1m22 0h1M15 12.5h1m47 0h1M1 14.5h1M9 15.5h1M4 16.5h1m20 0h1m24 0h1M26 17.5h1M1 18.5h1m29 0h1m29 0h1M26 20.5h1M4 21.5h1M35 22.5h1M23 23.5h1M23 24.5h1m17 0h1M44 25.5h1m10 0h1M21 26.5h1M12 27.5h1m33 0h1M33 28.5h1m16 0h1M24 30.5h1M25 31.5h1m31 0h1m3 0h1m1 0h1M21 32.5h1m23 0h1m7 0h1M26 33.5h1m36 0h1M32 34.5h1m5 0h1m26 0h1M17 36.5h1m8 0h1m1 0h1m22 0h1M56 38.5h1m6 0h1M56 42.5h1M29 43.5h1m26 0h1m4 0h1M1 44.5h1m8 0h1m42 0h1M26 45.5h1M25 46.5h1m15 0h1m21 0h1M12 47.5h1m9 0h1m5 0h1M3 48.5h1m21 0h1m1 0h1m13 0h1M7 49.5h1m26 0h1M2 50.5h1m40 0h1m4 0h1M29 51.5h1m1 0h1m6 0h1M5 52.5h1m10 0h1m48 0h1M27 53.5h1m35 0h1M13 54.5h1m49 0h1M5 55.5h1m19 0h1m38 0h1M31 56.5h1m27 0h1M58 57.5h2M28 58.5h1M37 59.5h1M5 60.5h1m57 0h1M49 61.5h1M20 62.5h1m4 0h1m39 0h1M17 64.5h1M2 65.5h1m17 0h1m16 0h1m26 0h1M44 67.5h1m4 0h1m5 0h1M5 68.5h1M25 70.5h1m1 0h1m12 0h1m10 0h1M46 71.5h1m2 0h1m1 0h1M25 72.5h1m5 0h1M17 74.5h1m32 0h1M25 75.5h1M23 76.5h1m1 0h1M29 77.5h1m27 0h1M39 79.5h1M19 80.5h1M10 81.5h1m10 0h1M33 82.5h1M64 83.5h1M26 84.5h1m5 0h1m13 0h1m14 0h1M2 85.5h1m5 0h1m47 0h1M5 86.5h1m41 0h1M17 87.5h1M34 88.5h1M27 89.5h1M52 90.5h1M5 91.5h1M39 92.5h1m24 0h1M23 93.5h1m3 0h1m34 0h1M0 95.5h1m6 0h1m4 0h1m49 0h1M31 96.5h1m13 0h1m3 0h1M19 97.5h1m1 0h1m4 0h1M35 98.5h1M30 99.5h1m1 0h1m6 0h1M23 101.5h1m41 0h1M20 102.5h1M30 103.5h1m21 0h1m7 0h2M43 105.5h1M60 106.5h1M24 107.5h1M27 108.5h1M65 109.5h1M16 110.5h1m14 0h1m5 0h1m2 0h1m24 0h1M10 111.5h1M1 112.5h1m38 0h1m15 0h1m5 0h1M4 113.5h1m19 0h1m17 0h1M60 114.5h2m1 0h1M10 116.5h1m14 0h1M4 117.5h1m24 0h1m10 0h1M39 118.5h1m5 0h1M43 119.5h1m14 0h1M12 120.5h1M46 122.5h1M60 123.5h1M26 124.5h1M44 125.5h1M15 126.5h1m40 0h1m8 0h1M28 127.5h1m11 0h1M18 128.5h1M50 129.5h1M2 130.5h1m22 0h1m20 0h1m2 0h1M30 131.5h1m5 0h1m23 0h1M17 132.5h1m8 0h1m20 0h1m4 0h1M5 133.5h1m55 0h1M25 134.5h1M58 135.5h1M62 136.5h1M51 138.5h1M64 139.5h1M55 140.5h1M17 141.5h1m1 0h1m10 0h1m3 0h1m11 0h1M31 142.5h1m3 0h1M7 143.5h1m23 0h1m11 0h1m18 0h1M11 144.5h1m18 0h1M26 145.5h1m22 0h1M31 146.5h1m8 0h1M2 149.5h1m9 0h1m19 0h1m2 0h1m19 0h1M11 150.5h1M25 151.5h1M7 152.5h1m19 0h1m27 0h1M25 153.5h2m3 0h1M26 154.5h1m12 0h1m12 0h1M28 155.5h1M25 157.5h2M17 160.5h1m15 0h1M54 161.5h1m4 0h1M25 163.5h2m28 0h1M16 164.5h1m2 0h1m11 0h1m24 0h1M61 165.5h1M48 166.5h1M46 167.5h1M4 168.5h2m42 0h1M11 169.5h1M10 170.5h1m7 0h1m9 0h1m2 0h1M21 171.5h1M27 172.5h1M4 173.5h1m12 0h1m12 0h1m17 0h1m1 0h1M14 174.5h1m27 0h1m20 0h1M0 175.5h1m17 0h1m20 0h1M26 176.5h1m22 0h1M8 177.5h1m7 0h1m6 0h1m1 0h2m6 0h1m2 0h1m28 0h1M3 178.5h1m24 0h1m20 0h1M44 179.5h1M24 180.5h1m38 0h1M42 181.5h1M33 182.5h1m19 0h1M4 183.5h2M25 184.5h1M16 185.5h1m5 0h1m11 0h1M8 186.5h1m46 0h1m9 0h1M8 187.5h1m19 0h1m26 0h1M20 188.5h1m29 0h1M16 190.5h1m9 0h1m3 0h1M3 191.5h1m22 0h1m34 0h1M43 193.5h1m3 0h1M21 194.5h1M2 195.5h1m46 0h1M25 196.5h1m39 0h1M12 198.5h1M5 200.5h1m19 0h1M2 201.5h1M60 202.5h1M17 203.5h1M16 204.5h1m3 0h1m5 0h1m29 0h1M29 206.5h1m8 0h1m5 0h1M11 207.5h1M14 208.5h1m3 0h2m28 0h1M24 210.5h1M0 212.5h1m17 0h1M25 213.5h1M30 215.5h1M20 216.5h1m44 0h1M29 217.5h1m25 0h1M17 218.5h1m19 0h1M0 219.5h1m41 0h1M32 220.5h1m13 0h1M63 221.5h1M21 223.5h1m19 0h1M29 224.5h1m2 0h1M17 225.5h1m16 0h1M32 226.5h1M16 227.5h1m9 0h1M64 229.5h1M7 230.5h1m15 0h1m2 0h1M16 231.5h1m4 0h1m7 0h1m2 0h1m13 0h1M8 232.5h1m43 0h1M4 233.5h1M10 234.5h1m13 0h1M0 235.5h1m9 0h1m52 0h1M3 236.5h1m1 0h1m18 0h1m22 0h1M32 237.5h1m15 0h1M33 238.5h1m27 0h1M25 239.5h1m34 0h1M50 240.5h1M61 241.5h1M25 242.5h2m9 0h1M7 243.5h1M21 244.5h1m4 0h1m3 0h1m2 0h1m23 0h1M10 246.5h1M52 250.5h1M44 251.5h1m11 0h1M26 253.5h1M25 254.5h1M28 255.5h1m19 0h1M5 257.5h1M28 258.5h2M31 259.5h1M0 260.5h1M5 261.5h1M25 262.5h1m3 0h1M35 263.5h1M34 265.5h1m25 0h1M12 266.5h1M33 267.5h1m25 0h1M26 269.5h1m31 0h1M56 270.5h1M10 271.5h1m22 0h1m7 0h1M38 274.5h1m6 0h1M4 276.5h1m9 0h1M20 277.5h1m10 0h1M14 278.5h1m5 0h1M15 279.5h1m13 0h1M50 280.5h1M13 281.5h1m16 0h1m32 0h1M2 282.5h1M6 283.5h1m10 0h1m23 0h1m15 0h1M48 284.5h1M59 285.5h1M1 286.5h1m38 0h1M24 287.5h1m5 0h1M43 288.5h1m10 0h1M44 289.5h1M11 290.5h1m15 0h1m7 0h1M28 291.5h1m34 0h1M22 292.5h1m12 0h1M9 293.5h1m33 0h1M26 294.5h1m27 0h1m4 0h1M6 296.5h1m12 0h1m40 0h1M50 297.5h1M5 298.5h1m4 0h1m16 0h1M41 299.5h1m16 0h1M49 300.5h1m12 0h1M26 302.5h1m4 0h1m17 0h1m3 0h1M15 304.5h1m30 0h1M12 306.5h1M52 307.5h1m11 0h1M21 308.5h1m13 0h1M20 309.5h1m42 0h1M5 310.5h1m19 0h1m2 0h1m27 0h1M18 311.5h1M8 312.5h1m16 0h1m3 0h1M56 313.5h1M21 314.5h1M28 316.5h1m1 0h1M53 317.5h1m11 0h1M1 318.5h1m52 0h1m9 0h1M31 319.5h1M17 320.5h1m7 0h1m7 0h1m11 0h1m9 0h1M33 321.5h1M24 322.5h1M0 323.5h1m35 0h1M25 324.5h1M8 325.5h1M30 326.5h1m13 0h1M40 327.5h1M51 328.5h1m5 0h1M20 329.5h2m11 0h1m10 0h1M20 330.5h1m42 0h1m1 0h1M23 331.5h1m28 0h2m5 0h1M33 332.5h1m3 0h1M8 334.5h1M46 335.5h1M41 337.5h1M13 339.5h1m31 0h1M16 340.5h1m46 0h1M48 341.5h1M39 342.5h1M25 344.5h1m12 0h1M26 345.5h1M0 346.5h1m27 0h1M40 347.5h1M62 348.5h1M36 349.5h1m14 0h1M0 350.5h1m9 0h1M0 351.5h1m8 0h1m8 0h1m9 0h1M21 352.5h1m10 0h1m32 0h1M15 353.5h1M3 354.5h1M40 356.5h1M25 357.5h1m3 0h1M0 358.5h1m16 0h1M48 359.5h1M50 360.5h1M15 361.5h1M35 362.5h1m16 0h1m10 0h1M3 363.5h1M26 364.5h1M32 365.5h2M21 366.5h1m16 0h1m3 0h1M14 367.5h1m41 0h1M45 368.5h1"/>
<path stroke="#2b758e" d="M42 0.5h1M27 1.5h1m26 0h1m8 0h1M9 2.5h1M10 3.5h1m7 0h1m4 0h1m1 0h1m27 0h1M26 4.5h1m4 0h1m13 0h1M6 5.5h1m18 0h3M24 6.5h2m13 0h1M13 8.5h1M35 9.5h1M35 11.5h1M0 12.5h1M5 14.5h1m37 0h1M26 16.5h1M61 19.5h1m2 0h1M25 20.5h1M51 21.5h1M24 22.5h1M26 23.5h1M1 24.5h1m61 0h1M15 25.5h1M49 27.5h1m11 0h1M25 30.5h1m20 0h1m1 0h1M1 32.5h1M9 33.5h1M18 35.5h1m20 0h1M25 37.5h1m18 0h1M7 38.5h1m23 0h1M42 39.5h1M10 40.5h1m15 0h1M26 43.5h1M32 45.5h1M31 47.5h1M11 48.5h1M5 49.5h1m20 0h1M14 50.5h1M18 51.5h1M23 52.5h1M25 53.5h1M25 54.5h1m7 0h1m26 0h1M10 55.5h1m22 0h1M45 56.5h1m1 0h1m6 0h1M25 57.5h2M18 58.5h1m18 0h1M35 60.5h1M5 62.5h1m17 0h1M55 64.5h1M36 65.5h1M7 66.5h1m9 0h1m3 0h1m27 0h1M26 67.5h1m4 0h1M32 68.5h1m16 0h1M49 69.5h1M49 70.5h1M25 71.5h1m8 0h1M26 73.5h1m33 0h1m3 0h1M48 74.5h1m2 0h1m9 0h1M48 75.5h1M26 76.5h1m1 0h1M1 77.5h1M10 78.5h1m2 0h1m12 0h1M26 79.5h2M10 80.5h1m15 0h1m2 0h2m1 0h1m3 0h4M2 81.5h1m34 0h1M0 82.5h1m29 0h1m5 0h1m4 0h1M3 83.5h1m27 0h1M38 84.5h1M64 85.5h1M65 86.5h1M7 88.5h1m7 0h1m8 0h1m10 0h1M4 89.5h1M26 90.5h1m1 0h1m1 0h1M42 92.5h1M1 93.5h1m7 0h1m43 0h1M25 94.5h1m36 0h1M3 95.5h1m31 0h1M52 96.5h1M43 97.5h1m5 0h1M26 98.5h1M30 100.5h1M10 101.5h1m17 0h2m14 0h1M25 102.5h1m25 0h1M28 103.5h1M0 104.5h1m55 0h1M4 105.5h1m7 0h1m15 0h1M31 106.5h1m2 0h1M26 107.5h1m22 0h1M35 108.5h1m14 0h2M17 109.5h1M46 110.5h1m3 0h1M25 111.5h2M17 112.5h1M47 113.5h1M25 114.5h1m9 0h1M19 119.5h1m1 0h1M17 120.5h1M25 123.5h1m39 0h1M13 124.5h1m33 0h2M37 125.5h1M37 126.5h1m12 0h1M34 128.5h1M16 129.5h1m6 0h1m2 0h1M10 130.5h1m42 0h1M25 131.5h1M28 132.5h1M12 133.5h1M11 135.5h1M26 136.5h1M40 138.5h1M49 139.5h1m4 0h1M35 140.5h1M26 141.5h1m27 0h1M3 142.5h1m21 0h1M57 145.5h1M6 146.5h1m56 0h1m1 0h1M16 147.5h1M28 149.5h1M31 151.5h1M60 152.5h1m3 0h1M29 153.5h1M34 155.5h1m29 0h1M45 157.5h1m8 0h1m1 0h1M33 158.5h1m15 0h1M23 159.5h1M63 160.5h1M23 161.5h1M25 162.5h1M10 163.5h1m35 0h1M26 164.5h1m10 0h1M16 166.5h1M16 167.5h2m8 0h1m2 0h1M12 169.5h1m4 0h1M10 171.5h1m20 0h1M12 173.5h1M3 174.5h2M16 175.5h1M0 176.5h1m1 0h1m35 0h1M2 177.5h1m12 0h1m8 0h1M0 178.5h1m3 0h1m10 0h1m36 0h1M15 179.5h1m8 0h1m9 0h1M4 180.5h1m53 0h1M9 181.5h1m2 0h1M2 182.5h1m1 0h1m3 0h1m37 0h1M0 183.5h1m23 0h1M3 184.5h1m7 0h1m32 0h1M49 185.5h1M3 186.5h1m21 0h1M9 187.5h1m2 0h1m8 0h1M56 188.5h1M1 189.5h2M9 190.5h1m53 0h1M24 191.5h1M26 192.5h1m8 0h1m27 0h1M24 194.5h1m6 0h1M24 195.5h1m4 0h1m2 0h1M22 196.5h1m7 0h1M34 197.5h1M13 198.5h1m11 0h2M26 199.5h1m10 0h1M63 200.5h1M48 201.5h1M0 202.5h1M41 204.5h1m5 0h1M25 205.5h1M16 206.5h1m1 0h1M51 207.5h1m9 0h1M10 208.5h1m13 0h1m37 0h1M25 209.5h1m2 0h1m11 0h1m14 0h1M29 210.5h1m35 0h1M14 211.5h1m23 0h1M29 213.5h1m18 0h1m14 0h2M25 214.5h1M6 216.5h1M56 218.5h1M16 219.5h1m16 0h1M20 220.5h1m6 0h1m7 0h1M56 221.5h1M19 222.5h1m6 0h1M10 223.5h1m6 0h1m5 0h1m13 0h1M0 225.5h1m36 0h1M25 226.5h1m8 0h1m17 0h1M17 227.5h1m44 0h1M61 228.5h1M0 229.5h1m22 0h1M54 230.5h1M13 231.5h1M26 232.5h1M36 233.5h1m14 0h1m6 0h1M6 236.5h1m54 0h1M26 237.5h1M46 238.5h1M5 240.5h1m6 0h1M17 242.5h1m9 0h1m10 0h1M17 243.5h1M18 247.5h1m5 0h1m19 0h1m3 0h1M13 248.5h1M2 250.5h1m22 0h1M25 251.5h1m2 0h1M32 252.5h1m3 0h1M56 253.5h1M38 254.5h1M32 255.5h1m19 0h1m1 0h1M13 256.5h1m1 0h1M10 257.5h1m42 0h1M5 258.5h1m7 0h1M35 260.5h1m2 0h1m10 0h1M56 261.5h1M58 262.5h1M26 265.5h1m6 0h1M7 266.5h1m56 0h1M18 267.5h1m4 0h2M36 269.5h1m19 0h1m5 0h1M29 270.5h1m3 0h1M18 271.5h1M2 272.5h1m7 0h1m49 0h1M2 273.5h1m29 0h1M19 274.5h1M64 275.5h1M25 277.5h1m14 0h1M10 278.5h1m14 0h2M19 279.5h1M5 280.5h1m1 0h1m13 0h1m4 0h1M27 285.5h1m4 0h1M34 287.5h1M46 288.5h1M24 289.5h1m23 0h1m12 0h1M51 290.5h1M23 293.5h1M8 294.5h1m56 0h1M60 295.5h1M51 296.5h1M25 297.5h1m10 0h1M16 298.5h1m3 0h1M29 299.5h1M4 300.5h1M25 302.5h1m28 0h1m10 0h1M25 303.5h1m5 0h1m31 0h1M55 304.5h1M28 305.5h1M22 306.5h1m2 0h1m18 0h1M26 307.5h1M4 308.5h1M48 310.5h1m14 0h1M35 311.5h1M26 312.5h1m21 0h1M25 313.5h1m27 0h1M11 316.5h1m10 0h1m2 0h1m39 0h1M26 318.5h1M28 319.5h1M25 321.5h2m16 0h1m6 0h1m1 0h1M35 322.5h1M21 324.5h1M51 325.5h1M26 326.5h1m4 0h1M45 327.5h1M64 329.5h1M8 330.5h1M25 331.5h1M56 332.5h1M44 333.5h1M12 334.5h1m13 0h1M22 335.5h1M9 336.5h1m24 0h1m10 0h1m9 0h1M2 337.5h1m23 0h1M32 338.5h1m6 0h1M26 340.5h1m4 0h1M55 341.5h1M63 342.5h1M35 343.5h1M26 344.5h1M64 345.5h1M33 346.5h1M0 347.5h1m29 0h1M2 349.5h1m22 0h1M42 350.5h1m6 0h1M45 351.5h1M15 352.5h1m23 0h1m2 0h1M42 353.5h1m18 0h1M42 354.5h1M20 355.5h1m21 0h1m20 0h1M13 358.5h1m14 0h1M17 359.5h1m4 0h1M62 360.5h1M62 361.5h1M25 362.5h1M21 363.5h1M27 364.5h1M62 365.5h1"/>
<path stroke="#21918c" d="M0 0.5h1M19 1.5h1m10 0h1m25 0h1M10 2.5h1m23 0h1M64 3.5h1M6 4.5h1M5 8.5h1m29 0h1M35 10.5h1M24 12.5h1m10 0h1M57 13.5h1M64 14.5h1M21 15.5h1m13 0h1M27 16.5h1M25 17.5h1M38 19.5h1M1 20.5h1m34 0h1M25 21.5h1M54 26.5h1M50 27.5h1m4 0h1M26 30.5h1M25 33.5h1m36 0h1M17 34.5h1M20 38.5h1m22 0h1M30 39.5h1m25 0h1M45 40.5h1m5 0h1M6 42.5h1M18 43.5h1m6 0h1m19 0h1M19 45.5h1m8 0h1M15 50.5h1m3 0h1M5 51.5h1M9 53.5h1M36 54.5h1m1 0h1M63 55.5h1M28 56.5h1m29 0h1M17 57.5h1M22 59.5h1m11 0h1M10 60.5h1M25 61.5h1m17 0h1M3 63.5h1m60 0h1M49 65.5h1M38 66.5h1m11 0h1M19 67.5h1m25 0h1M9 68.5h1m16 0h1M31 71.5h1M43 74.5h1m18 0h1M47 76.5h1M32 77.5h1M12 79.5h1M25 80.5h1m7 0h1m7 0h1M25 81.5h2m4 0h1M25 82.5h2m1 0h1m2 0h1m6 0h1M22 83.5h1m3 0h1M25 84.5h1M26 85.5h1M25 86.5h1M25 88.5h1M29 89.5h1M27 90.5h1M2 93.5h1m44 0h1M7 98.5h1m28 0h1M20 100.5h1m8 0h1m34 0h1M29 102.5h1M14 104.5h1m40 0h1M34 107.5h1M20 108.5h1m2 0h1m25 0h1M25 109.5h2M32 110.5h1M25 115.5h1M51 116.5h1M25 118.5h1M64 122.5h1M7 123.5h1m28 0h1M25 124.5h1m2 0h1m7 0h2M20 125.5h1M46 127.5h1M32 129.5h1M12 131.5h1m26 0h1M12 132.5h1m12 0h1M12 134.5h1M33 135.5h1M33 136.5h1M2 137.5h1m17 0h1m26 0h1M56 142.5h1M58 143.5h1M55 144.5h1M25 146.5h1M52 147.5h1M33 149.5h1M62 150.5h1M58 153.5h1M28 156.5h1M49 157.5h1M56 158.5h1M5 160.5h1m38 0h1M32 161.5h1M26 162.5h1m6 0h1m20 0h1M18 164.5h1M20 165.5h1m9 0h1M16 169.5h1M16 171.5h1m8 0h1m20 0h1M10 172.5h1M6 173.5h1M6 174.5h1m22 0h1M3 175.5h1m29 0h1M14 176.5h1m9 0h1M55 177.5h1M40 178.5h1m14 0h1M13 180.5h1M2 181.5h1m59 0h1M11 182.5h1m18 0h1M8 183.5h1m17 0h1M51 184.5h1m11 0h1M8 185.5h1m22 0h1m30 0h1M4 186.5h1m14 0h1m6 0h1m3 0h1M1 187.5h1m5 0h1M1 188.5h1m24 0h1m24 0h1M28 189.5h1M7 190.5h1m24 0h1M24 192.5h1m26 0h1M26 193.5h1M54 194.5h1M7 196.5h1M28 197.5h1M58 198.5h1m4 0h1M19 200.5h1m6 0h1m20 0h1M6 203.5h1m17 0h1M34 204.5h1M27 206.5h1m24 0h1M38 208.5h1M29 209.5h1M23 213.5h1M23 214.5h1M20 218.5h2M17 219.5h1m2 0h1m26 0h1M54 221.5h1M10 222.5h1M18 224.5h1m41 0h1M35 225.5h1M18 226.5h1m24 0h1m18 0h1M30 227.5h1M24 228.5h1m1 0h1M11 231.5h1M39 232.5h1M34 233.5h1M11 235.5h1m24 0h1M55 236.5h1M63 237.5h1M38 241.5h1M1 242.5h1m51 0h1M26 243.5h1M25 244.5h1M33 245.5h1M18 246.5h1m36 0h1M26 248.5h1m22 0h1M64 250.5h1M34 251.5h1M58 253.5h1M62 255.5h1M52 256.5h1M11 257.5h1M25 258.5h1m20 0h1M30 260.5h1m6 0h1m7 0h1M55 262.5h1M53 266.5h1m2 0h1M53 270.5h1M53 271.5h1M31 272.5h1m21 0h1M17 276.5h1m14 0h1M26 279.5h1M26 281.5h1m2 0h1m28 0h1M49 283.5h1M29 284.5h1m10 0h1M47 285.5h1M26 286.5h1M58 289.5h1M26 291.5h1M5 292.5h1M35 293.5h1M56 294.5h1M19 295.5h1m10 0h1M39 296.5h1M25 301.5h1m15 0h1M27 302.5h1M49 303.5h1M25 304.5h1m19 0h1M17 305.5h1M57 306.5h1M62 308.5h1M18 310.5h1M52 312.5h1M36 314.5h1M28 315.5h1m11 0h1M25 317.5h1m4 0h1m13 0h1M23 319.5h1m41 0h1M20 320.5h1M22 321.5h1m22 0h1M25 322.5h2m24 0h1M25 323.5h1m11 0h1M42 325.5h1M26 329.5h1m20 0h1M30 330.5h1M26 332.5h1M61 335.5h1M26 336.5h1m19 0h1M22 338.5h1M25 339.5h1m6 0h1M17 342.5h1m2 0h1M29 343.5h1M30 345.5h1m10 0h1M34 346.5h1M51 348.5h1M9 349.5h1M9 350.5h1m14 0h1M60 351.5h1M30 352.5h1M62 353.5h1M10 354.5h1M65 356.5h1M17 357.5h1m17 0h1M14 358.5h1m17 0h1M15 360.5h1m1 0h1m34 0h1M47 363.5h1M8 364.5h1M25 365.5h1m20 0h1m13 0h1M35 366.5h1m5 0h1M32 368.5h1m6 0h1"/>
<path stroke="#25ab82" d="M26 1.5h1m7 0h1M25 4.5h1M23 6.5h1m26 0h1M48 8.5h1M26 19.5h1M4 23.5h1M23 25.5h1M43 27.5h1M23 38.5h1M31 46.5h1M24 47.5h1M42 49.5h1M46 52.5h1M38 53.5h1M22 62.5h1M48 64.5h1m11 0h1M8 69.5h1M30 72.5h1m9 0h1M48 73.5h1M28 81.5h3m2 0h1m2 0h1m1 0h1m2 0h1M29 82.5h1M30 83.5h1m27 0h1M25 85.5h1M32 89.5h1M27 91.5h1M25 96.5h1M9 100.5h1M19 101.5h1m34 0h1M0 102.5h1M0 103.5h1M30 105.5h1M58 115.5h1M26 117.5h1m29 0h1M39 124.5h1M33 128.5h1M36 130.5h1M32 134.5h2M21 136.5h1M15 142.5h1M15 143.5h1M56 156.5h1M27 157.5h1M44 159.5h1M38 163.5h1M13 168.5h1m2 0h2M10 169.5h1M9 171.5h1m37 0h1M5 173.5h1M16 174.5h1m1 0h1M10 176.5h2m30 0h1M1 178.5h1m5 0h1m16 0h1m31 0h1M5 179.5h1M0 181.5h1m7 0h1M6 183.5h1M2 187.5h1M2 188.5h1m3 0h1m24 0h1M0 189.5h1m24 0h1M37 192.5h1M48 197.5h1M36 211.5h1M42 215.5h1M28 219.5h1M49 224.5h1M11 230.5h1M10 232.5h1m51 0h1M41 235.5h1M59 236.5h1M55 239.5h1M57 240.5h1M27 246.5h1M19 252.5h1m9 0h1M24 254.5h1m27 0h1M26 258.5h1M26 259.5h1m8 0h1M39 260.5h1m1 0h1m6 0h1m1 0h1m6 0h1M51 261.5h1M23 262.5h1M37 269.5h1m15 0h1M51 274.5h1m5 0h1M25 275.5h1M13 278.5h1M28 286.5h1M34 292.5h1M21 295.5h1M8 302.5h1M42 303.5h1M29 306.5h1M17 313.5h1M32 315.5h1M29 319.5h1M57 324.5h1M12 326.5h1M62 331.5h1M4 332.5h1M26 333.5h1M29 336.5h1M33 343.5h1M2 347.5h1M42 349.5h1M42 351.5h1M26 352.5h1M50 353.5h1M9 355.5h1M17 356.5h1m16 0h1M23 359.5h1M57 368.5h1m5 0h1"/>
<path stroke="#4ec36b" d="M38 12.5h1M25 18.5h1M24 41.5h1M34 43.5h1M25 50.5h1M26 56.5h1M58 71.5h1M42 91.5h1M41 94.5h1M36 103.5h1M5 118.5h1M25 121.5h1M15 141.5h1M25 154.5h1M5 159.5h1M20 163.5h1M10 168.5h1M13 171.5h1m1 0h1M3 172.5h1M5 174.5h1M9 175.5h1m5 0h1M7 176.5h1M0 177.5h1m2 0h1M32 178.5h1M4 179.5h1m20 0h1M11 180.5h1M11 181.5h1M13 182.5h1M7 183.5h1m4 0h1M8 184.5h1m3 0h1M1 185.5h1M1 186.5h1M5 188.5h1M2 190.5h1m2 0h2M26 213.5h1M9 235.5h1m16 0h1M10 258.5h1M33 260.5h1m17 0h1M40 261.5h1M26 262.5h1M34 288.5h1M42 289.5h1M52 295.5h1M26 299.5h1M65 300.5h1M45 360.5h1M25 361.5h1M30 362.5h1"/>
<path stroke="#b5de2b" d="M25 1.5h1M23 5.5h1M26 10.5h1M31 15.5h1M64 18.5h1M4 45.5h1M26 47.5h1M7 68.5h1M29 70.5h1M43 80.5h2m2 0h1m6 0h2M44 81.5h1M24 82.5h1m15 0h1m5 0h1m7 0h1m2 0h1M23 100.5h1M65 106.5h1M0 132.5h1M32 147.5h1M19 154.5h1M25 158.5h2M37 159.5h1M52 165.5h1M15 168.5h1M7 171.5h1m3 0h1m45 0h1M16 172.5h1m8 0h1M3 173.5h1m12 0h1M10 174.5h1m14 0h1M2 175.5h1m3 0h1m5 0h1M15 176.5h1M13 177.5h1M14 178.5h1M3 181.5h1M1 183.5h1M0 184.5h1m9 0h1M9 185.5h1M12 186.5h1M0 187.5h1m5 0h1M9 188.5h1M9 189.5h2M22 197.5h1M32 234.5h1M22 237.5h1M19 238.5h1M27 252.5h1M26 254.5h1m20 0h1M30 272.5h1M2 278.5h1M60 323.5h1M25 326.5h1M36 330.5h1M25 345.5h1M12 361.5h1"/>
<path stroke="#fde725" d="M26 3.5h1M26 6.5h1M26 8.5h1M14 11.5h1M11 29.5h1M39 30.5h1M57 38.5h1M26 41.5h1M30 44.5h1M26 46.5h1M26 51.5h1M19 56.5h1M25 60.5h1M25 68.5h1M53 76.5h1M24 80.5h1m3 0h1m6 0h1m4 0h1m1 0h1m2 0h2m1 0h6m2 0h2M24 81.5h1m10 0h1m4 0h1m1 0h2m1 0h13M35 82.5h1m6 0h4m1 0h7m1 0h2M26 96.5h1M29 105.5h1M25 108.5h1m39 0h1M57 110.5h1M1 115.5h1M61 116.5h1M25 125.5h1M30 128.5h1M34 131.5h1M15 134.5h1M13 137.5h1m43 0h1M26 139.5h1M34 142.5h1M40 152.5h1M26 160.5h1M15 169.5h1M11 170.5h2m2 0h2M6 171.5h1m5 0h1m4 0h2M5 172.5h2m6 0h1m3 0h2M10 173.5h1m2 0h1m4 0h1M1 174.5h2m9 0h2m1 0h1m1 0h1M1 175.5h1m2 0h2m8 0h1m2 0h1M1 176.5h1m2 0h3m2 0h1m2 0h1m3 0h2m29 0h1M1 177.5h1m2 0h3m2 0h4m1 0h1m2 0h1M5 178.5h2m1 0h6M3 179.5h1m2 0h9M3 180.5h1m2 0h2m1 0h2m15 0h1M1 181.5h1m4 0h2m2 0h1m2 0h1M0 182.5h2m1 0h1m2 0h2m2 0h1m1 0h1M2 183.5h2m6 0h1m2 0h1M1 184.5h1m2 0h1m2 0h1m1 0h1M0 185.5h1m3 0h3m3 0h3M0 186.5h1m4 0h2m2 0h3M10 187.5h2M7 188.5h2m1 0h1m30 0h1M5 189.5h3m18 0h1M1 190.5h1M1 191.5h1M1 192.5h1M1 193.5h1m26 0h1M1 194.5h1M1 195.5h1m40 0h1M26 202.5h1m4 0h1M60 208.5h1M26 215.5h1M53 224.5h1M48 226.5h1M65 229.5h1M25 235.5h1M26 236.5h1M0 240.5h1M26 241.5h1M60 249.5h1M24 257.5h1M56 258.5h1M19 259.5h1M29 260.5h1m6 0h1m3 0h1m1 0h1M31 262.5h1M25 268.5h1M25 272.5h1M14 277.5h1M50 279.5h1M52 280.5h1M57 289.5h1M27 305.5h1M31 308.5h1M25 309.5h1M26 319.5h1M25 327.5h1M26 328.5h1M25 329.5h1M17 332.5h1M50 334.5h1M34 335.5h1M18 340.5h1M26 342.5h1m10 0h1M26 346.5h1M25 347.5h1M20 350.5h1M26 351.5h1M34 354.5h1M23 358.5h1M26 363.5h1M0 368.5h1m20 0h1m5 0h1m32 0h2m3 0h1"/>
</g>
<defs><linearGradient id="vg" x1="0" y1="0" x2="0" y2="1"><stop offset="0.0000" stop-color="#fde725"/><stop offset="0.0556" stop-color="#dae319"/><stop offset="0.1111" stop-color="#b5de2b"/><stop offset="0.1667" stop-color="#90d743"/><stop offset="0.2222" stop-color="#6ece58"/><stop offset="0.2778" stop-color="#4ec36b"/><stop offset="0.3333" stop-color="#35b779"/><stop offset="0.3889" stop-color="#25ab82"/><stop offset="0.4444" stop-color="#1f9e89"/><stop offset="0.5000" stop-color="#21918c"/><stop offset="0.5556" stop-color="#26828e"/><stop offset="0.6111" stop-color="#2b758e"/><stop offset="0.6667" stop-color="#31688e"/><stop offset="0.7222" stop-color="#375a8c"/><stop offset="0.7778" stop-color="#3e4989"/><stop offset="0.8333" stop-color="#443983"/><stop offset="0.8889" stop-color="#482878"/><stop offset="0.9444" stop-color="#481668"/><stop offset="1.0000" stop-color="#440154"/></linearGradient></defs>
<rect x="502" y="58" width="19" height="370" fill="url(#vg)"/>
<path d="M80.5 58.5H477.5V427.5H80.5ZM502.5 58.5H520.5V427.5H502.5Z" fill="none" stroke="#000" stroke-width="1.11" stroke-linejoin="miter"/>
<path d="M75.1 58.5H80M75.1 119.5H80M75.1 181.5H80M75.1 242.5H80M75.1 304.5H80M75.1 366.5H80M75.1 427.5H80M92.5 428V432.9M150.5 428V432.9M208.5 428V432.9M267.5 428V432.9M325.5 428V432.9M383.5 428V432.9M442.5 428V432.9M521 58.5H525.9M521 99.5H525.9M521 140.5H525.9M521 181.5H525.9M521 222.5H525.9M521 263.5H525.9M521 304.5H525.9M521 345.5H525.9M521 386.5H525.9M521 427.5H525.9" fill="none" stroke="#000" stroke-width="1.11"/>
<g font-family="'DejaVu Sans', 'Liberation Sans', sans-serif" fill="#000" font-size="13.89">
<text x="69.7" y="63" text-anchor="end" textLength="34.41">3000</text>
<text x="69.7" y="125" text-anchor="end" textLength="34.41">2500</text>
<text x="69.7" y="186" text-anchor="end" textLength="34.41">2000</text>
<text x="69.7" y="248" text-anchor="end" textLength="34.41">1500</text>
<text x="69.7" y="310" text-anchor="end" textLength="34.41">1000</text>
<text x="69.7" y="371" text-anchor="end" textLength="25.88">500</text>
<text x="70.5" y="433" text-anchor="end">0</text>
<text x="92.50" y="448.3" text-anchor="middle">2</text>
<text x="150.50" y="448.3" text-anchor="middle">4</text>
<text x="208.50" y="448.3" text-anchor="middle">6</text>
<text x="267.50" y="448.3" text-anchor="middle">8</text>
<text x="325.50" y="448.3" text-anchor="middle" textLength="17.36">10</text>
<text x="383.50" y="448.3" text-anchor="middle" textLength="17.36">12</text>
<text x="442.50" y="448.3" text-anchor="middle" textLength="17.36">14</text>
<text x="530.8" y="433">0</text>
<text x="530.0" y="392">2</text>
<text x="530.0" y="351">4</text>
<text x="530.0" y="310">6</text>
<text x="530.0" y="268">8</text>
<text x="530.0" y="227" textLength="17.36">10</text>
<text x="530.0" y="186" textLength="17.36">12</text>
<text x="530.0" y="145" textLength="17.36">14</text>
<text x="530.0" y="104" textLength="17.36">16</text>
<text x="530.0" y="63" textLength="17.36">18</text>
<text x="278.6" y="467.2" text-anchor="middle" textLength="114.2">Frequency[MHz]</text>
<text transform="translate(26 243.9) rotate(-90)" text-anchor="middle" textLength="145.4">Virtual Distance[Km]</text>
<text transform="translate(563.3 243.3) rotate(-90)" text-anchor="middle" textLength="63.4">SNR [dB]</text>
<text x="278.2" y="32" text-anchor="middle" font-size="16.67" textLength="377">Ionogram Jicamarca-Piura Polarization NE45°</text>
<text x="278.6" y="49" text-anchor="middle" font-size="16.67" textLength="217.4">01/25/2025-02:18:05 UTC</text>
</g>
</svg></body></html>
